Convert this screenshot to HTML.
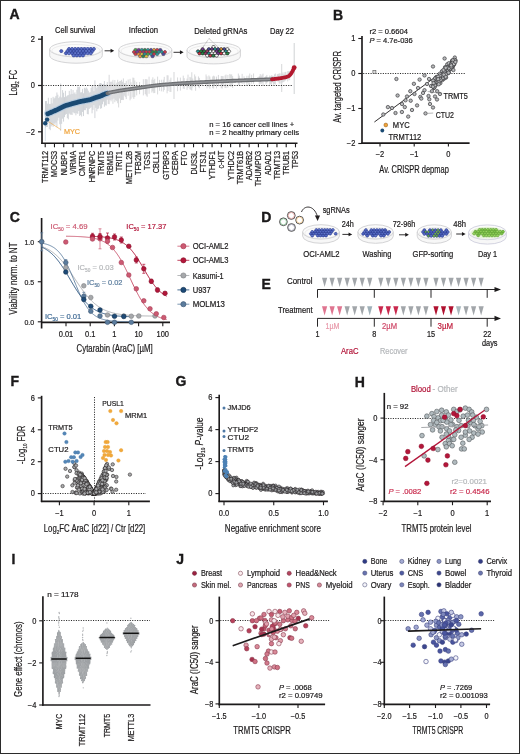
<!DOCTYPE html>
<html><head><meta charset="utf-8"><style>
html,body{margin:0;padding:0;background:#fff;}
svg{display:block;filter:blur(0.3px);}
text{font-family:"Liberation Sans",sans-serif;}
</style></head><body>
<svg width="520" height="754" viewBox="0 0 520 754">
<g fill="#1c1a1b">
<rect x="0" y="0" width="520" height="754" fill="#ffffff"/>
<text x="9.40" y="19.40" font-size="14" font-weight="bold" stroke="#111" stroke-width="0.35">A</text>
<text stroke="#1c1a1b" stroke-width="0.2" x="55.00" y="33.40" font-size="8.3" textLength="40.20" lengthAdjust="spacingAndGlyphs">Cell survival</text>
<text stroke="#1c1a1b" stroke-width="0.2" x="128.80" y="33.40" font-size="8.3" textLength="29.20" lengthAdjust="spacingAndGlyphs">Infection</text>
<text stroke="#1c1a1b" stroke-width="0.2" x="194.20" y="33.50" font-size="8.3" textLength="53.30" lengthAdjust="spacingAndGlyphs">Deleted gRNAs</text>
<text stroke="#1c1a1b" stroke-width="0.2" x="270.00" y="33.50" font-size="8.3" textLength="24.00" lengthAdjust="spacingAndGlyphs">Day 22</text>
<path d="M49.70,49.30 L49.70,55.60 A26.3,7.6 0 0 0 102.30,55.60 L102.30,49.30" fill="#f7f7f7" stroke="#c9c9cb" stroke-width="0.8"/>
<ellipse cx="76.00" cy="49.30" rx="26.3" ry="7.6" fill="#fbfbfb" stroke="#c9c9cb" stroke-width="0.8"/>
<ellipse cx="76.00" cy="50.50" rx="24.1" ry="6.0" fill="none" stroke="#dcdcdc" stroke-width="0.5"/>
<path d="M67.28,48.96 L68.16,47.52 L69.93,47.52 L70.81,48.96 L69.93,50.40 L68.16,50.40 Z" fill="#5268c2" stroke="#26358c" stroke-width="0.6"/>
<path d="M70.38,48.96 L71.26,47.52 L73.02,47.52 L73.90,48.96 L73.02,50.40 L71.26,50.40 Z" fill="#5a70c8" stroke="#26358c" stroke-width="0.6"/>
<path d="M73.47,48.96 L74.35,47.52 L76.12,47.52 L77.00,48.96 L76.12,50.40 L74.35,50.40 Z" fill="#5a70c8" stroke="#26358c" stroke-width="0.6"/>
<path d="M76.57,48.96 L77.45,47.52 L79.21,47.52 L80.10,48.96 L79.21,50.40 L77.45,50.40 Z" fill="#5268c2" stroke="#26358c" stroke-width="0.6"/>
<path d="M79.66,48.96 L80.55,47.52 L82.31,47.52 L83.19,48.96 L82.31,50.40 L80.55,50.40 Z" fill="#5a70c8" stroke="#26358c" stroke-width="0.6"/>
<path d="M82.76,48.96 L83.64,47.52 L85.41,47.52 L86.29,48.96 L85.41,50.40 L83.64,50.40 Z" fill="#5268c2" stroke="#26358c" stroke-width="0.6"/>
<path d="M85.86,48.96 L86.74,47.52 L88.50,47.52 L89.38,48.96 L88.50,50.40 L86.74,50.40 Z" fill="#6479cc" stroke="#26358c" stroke-width="0.6"/>
<path d="M88.95,48.96 L89.83,47.52 L91.60,47.52 L92.48,48.96 L91.60,50.40 L89.83,50.40 Z" fill="#5268c2" stroke="#26358c" stroke-width="0.6"/>
<path d="M92.05,48.96 L92.93,47.52 L94.69,47.52 L95.58,48.96 L94.69,50.40 L92.93,50.40 Z" fill="#5a70c8" stroke="#26358c" stroke-width="0.6"/>
<path d="M59.54,51.12 L60.42,49.68 L62.19,49.68 L63.07,51.12 L62.19,52.56 L60.42,52.56 Z" fill="#5268c2" stroke="#26358c" stroke-width="0.6"/>
<path d="M65.73,51.12 L66.61,49.68 L68.38,49.68 L69.26,51.12 L68.38,52.56 L66.61,52.56 Z" fill="#5a70c8" stroke="#26358c" stroke-width="0.6"/>
<path d="M68.83,51.12 L69.71,49.68 L71.47,49.68 L72.36,51.12 L71.47,52.56 L69.71,52.56 Z" fill="#5a70c8" stroke="#26358c" stroke-width="0.6"/>
<path d="M71.92,51.12 L72.81,49.68 L74.57,49.68 L75.45,51.12 L74.57,52.56 L72.81,52.56 Z" fill="#5268c2" stroke="#26358c" stroke-width="0.6"/>
<path d="M75.02,51.12 L75.90,49.68 L77.67,49.68 L78.55,51.12 L77.67,52.56 L75.90,52.56 Z" fill="#5a70c8" stroke="#26358c" stroke-width="0.6"/>
<path d="M78.12,51.12 L79.00,49.68 L80.76,49.68 L81.64,51.12 L80.76,52.56 L79.00,52.56 Z" fill="#6479cc" stroke="#26358c" stroke-width="0.6"/>
<path d="M81.21,51.12 L82.09,49.68 L83.86,49.68 L84.74,51.12 L83.86,52.56 L82.09,52.56 Z" fill="#5a70c8" stroke="#26358c" stroke-width="0.6"/>
<path d="M84.31,51.12 L85.19,49.68 L86.95,49.68 L87.84,51.12 L86.95,52.56 L85.19,52.56 Z" fill="#6479cc" stroke="#26358c" stroke-width="0.6"/>
<path d="M87.40,51.12 L88.29,49.68 L90.05,49.68 L90.93,51.12 L90.05,52.56 L88.29,52.56 Z" fill="#6479cc" stroke="#26358c" stroke-width="0.6"/>
<path d="M90.50,51.12 L91.38,49.68 L93.15,49.68 L94.03,51.12 L93.15,52.56 L91.38,52.56 Z" fill="#5268c2" stroke="#26358c" stroke-width="0.6"/>
<path d="M64.18,53.28 L65.07,51.84 L66.83,51.84 L67.71,53.28 L66.83,54.72 L65.07,54.72 Z" fill="#5268c2" stroke="#26358c" stroke-width="0.6"/>
<path d="M67.28,53.28 L68.16,51.84 L69.93,51.84 L70.81,53.28 L69.93,54.72 L68.16,54.72 Z" fill="#6479cc" stroke="#26358c" stroke-width="0.6"/>
<path d="M70.38,53.28 L71.26,51.84 L73.02,51.84 L73.90,53.28 L73.02,54.72 L71.26,54.72 Z" fill="#5268c2" stroke="#26358c" stroke-width="0.6"/>
<path d="M73.47,53.28 L74.35,51.84 L76.12,51.84 L77.00,53.28 L76.12,54.72 L74.35,54.72 Z" fill="#6479cc" stroke="#26358c" stroke-width="0.6"/>
<path d="M76.57,53.28 L77.45,51.84 L79.21,51.84 L80.10,53.28 L79.21,54.72 L77.45,54.72 Z" fill="#6479cc" stroke="#26358c" stroke-width="0.6"/>
<path d="M79.66,53.28 L80.55,51.84 L82.31,51.84 L83.19,53.28 L82.31,54.72 L80.55,54.72 Z" fill="#5268c2" stroke="#26358c" stroke-width="0.6"/>
<path d="M82.76,53.28 L83.64,51.84 L85.41,51.84 L86.29,53.28 L85.41,54.72 L83.64,54.72 Z" fill="#5268c2" stroke="#26358c" stroke-width="0.6"/>
<path d="M85.86,53.28 L86.74,51.84 L88.50,51.84 L89.38,53.28 L88.50,54.72 L86.74,54.72 Z" fill="#6479cc" stroke="#26358c" stroke-width="0.6"/>
<path d="M88.95,53.28 L89.83,51.84 L91.60,51.84 L92.48,53.28 L91.60,54.72 L89.83,54.72 Z" fill="#5a70c8" stroke="#26358c" stroke-width="0.6"/>
<path d="M71.92,55.44 L72.81,54.00 L74.57,54.00 L75.45,55.44 L74.57,56.88 L72.81,56.88 Z" fill="#6479cc" stroke="#26358c" stroke-width="0.6"/>
<path d="M75.02,55.44 L75.90,54.00 L77.67,54.00 L78.55,55.44 L77.67,56.88 L75.90,56.88 Z" fill="#5a70c8" stroke="#26358c" stroke-width="0.6"/>
<path d="M78.12,55.44 L79.00,54.00 L80.76,54.00 L81.64,55.44 L80.76,56.88 L79.00,56.88 Z" fill="#5a70c8" stroke="#26358c" stroke-width="0.6"/>
<path d="M81.21,55.44 L82.09,54.00 L83.86,54.00 L84.74,55.44 L83.86,56.88 L82.09,56.88 Z" fill="#5a70c8" stroke="#26358c" stroke-width="0.6"/>
<line x1="104.60" y1="50.80" x2="112.10" y2="50.80" stroke="#1c1a1b" stroke-width="0.9"/>
<path d="M114.20,50.80 L110.56,48.85 L110.56,52.75 Z" fill="#1c1a1b"/>
<path d="M118.80,49.80 L118.80,56.10 A26.5,7.6 0 0 0 171.80,56.10 L171.80,49.80" fill="#f7f7f7" stroke="#c9c9cb" stroke-width="0.8"/>
<ellipse cx="145.30" cy="49.80" rx="26.5" ry="7.6" fill="#fbfbfb" stroke="#c9c9cb" stroke-width="0.8"/>
<ellipse cx="145.30" cy="51.00" rx="24.3" ry="6.0" fill="none" stroke="#dcdcdc" stroke-width="0.5"/>
<path d="M133.78,49.86 L134.67,48.42 L136.43,48.42 L137.31,49.86 L136.43,51.30 L134.67,51.30 Z" fill="#4aaa4a" stroke="#4a3f4a" stroke-width="0.5"/>
<path d="M136.88,49.86 L137.76,48.42 L139.53,48.42 L140.41,49.86 L139.53,51.30 L137.76,51.30 Z" fill="#7a3a9a" stroke="#4a3f4a" stroke-width="0.5"/>
<path d="M139.98,49.86 L140.86,48.42 L142.62,48.42 L143.50,49.86 L142.62,51.30 L140.86,51.30 Z" fill="#2a9a9a" stroke="#4a3f4a" stroke-width="0.5"/>
<path d="M143.07,49.86 L143.95,48.42 L145.72,48.42 L146.60,49.86 L145.72,51.30 L143.95,51.30 Z" fill="#2a8a4a" stroke="#4a3f4a" stroke-width="0.5"/>
<path d="M146.17,49.86 L147.05,48.42 L148.81,48.42 L149.70,49.86 L148.81,51.30 L147.05,51.30 Z" fill="#2a9a9a" stroke="#4a3f4a" stroke-width="0.5"/>
<path d="M149.26,49.86 L150.15,48.42 L151.91,48.42 L152.79,49.86 L151.91,51.30 L150.15,51.30 Z" fill="#4a4aa0" stroke="#4a3f4a" stroke-width="0.5"/>
<path d="M152.36,49.86 L153.24,48.42 L155.01,48.42 L155.89,49.86 L155.01,51.30 L153.24,51.30 Z" fill="#ea9a3a" stroke="#4a3f4a" stroke-width="0.5"/>
<path d="M155.46,49.86 L156.34,48.42 L158.10,48.42 L158.98,49.86 L158.10,51.30 L156.34,51.30 Z" fill="#d03a4a" stroke="#4a3f4a" stroke-width="0.5"/>
<path d="M158.55,49.86 L159.43,48.42 L161.20,48.42 L162.08,49.86 L161.20,51.30 L159.43,51.30 Z" fill="#4a4aa0" stroke="#4a3f4a" stroke-width="0.5"/>
<path d="M132.24,52.02 L133.12,50.58 L134.88,50.58 L135.76,52.02 L134.88,53.46 L133.12,53.46 Z" fill="#d03a4a" stroke="#4a3f4a" stroke-width="0.5"/>
<path d="M135.33,52.02 L136.21,50.58 L137.98,50.58 L138.86,52.02 L137.98,53.46 L136.21,53.46 Z" fill="#7a3a9a" stroke="#4a3f4a" stroke-width="0.5"/>
<path d="M138.43,52.02 L139.31,50.58 L141.07,50.58 L141.96,52.02 L141.07,53.46 L139.31,53.46 Z" fill="#d03a4a" stroke="#4a3f4a" stroke-width="0.5"/>
<path d="M141.52,52.02 L142.41,50.58 L144.17,50.58 L145.05,52.02 L144.17,53.46 L142.41,53.46 Z" fill="#a03a6a" stroke="#4a3f4a" stroke-width="0.5"/>
<path d="M144.62,52.02 L145.50,50.58 L147.27,50.58 L148.15,52.02 L147.27,53.46 L145.50,53.46 Z" fill="#d03a4a" stroke="#4a3f4a" stroke-width="0.5"/>
<path d="M147.72,52.02 L148.60,50.58 L150.36,50.58 L151.24,52.02 L150.36,53.46 L148.60,53.46 Z" fill="#d03a4a" stroke="#4a3f4a" stroke-width="0.5"/>
<path d="M150.81,52.02 L151.69,50.58 L153.46,50.58 L154.34,52.02 L153.46,53.46 L151.69,53.46 Z" fill="#2a8a4a" stroke="#4a3f4a" stroke-width="0.5"/>
<path d="M153.91,52.02 L154.79,50.58 L156.55,50.58 L157.44,52.02 L156.55,53.46 L154.79,53.46 Z" fill="#2a8a4a" stroke="#4a3f4a" stroke-width="0.5"/>
<path d="M157.00,52.02 L157.89,50.58 L159.65,50.58 L160.53,52.02 L159.65,53.46 L157.89,53.46 Z" fill="#2a9a9a" stroke="#4a3f4a" stroke-width="0.5"/>
<path d="M160.10,52.02 L160.98,50.58 L162.75,50.58 L163.63,52.02 L162.75,53.46 L160.98,53.46 Z" fill="#2a9a9a" stroke="#4a3f4a" stroke-width="0.5"/>
<path d="M163.20,52.02 L164.08,50.58 L165.84,50.58 L166.72,52.02 L165.84,53.46 L164.08,53.46 Z" fill="#d03a4a" stroke="#4a3f4a" stroke-width="0.5"/>
<path d="M133.78,54.18 L134.67,52.74 L136.43,52.74 L137.31,54.18 L136.43,55.62 L134.67,55.62 Z" fill="#d03a4a" stroke="#4a3f4a" stroke-width="0.5"/>
<path d="M136.88,54.18 L137.76,52.74 L139.53,52.74 L140.41,54.18 L139.53,55.62 L137.76,55.62 Z" fill="#ea9a3a" stroke="#4a3f4a" stroke-width="0.5"/>
<path d="M139.98,54.18 L140.86,52.74 L142.62,52.74 L143.50,54.18 L142.62,55.62 L140.86,55.62 Z" fill="#e0c840" stroke="#4a3f4a" stroke-width="0.5"/>
<path d="M143.07,54.18 L143.95,52.74 L145.72,52.74 L146.60,54.18 L145.72,55.62 L143.95,55.62 Z" fill="#2a9a9a" stroke="#4a3f4a" stroke-width="0.5"/>
<path d="M146.17,54.18 L147.05,52.74 L148.81,52.74 L149.70,54.18 L148.81,55.62 L147.05,55.62 Z" fill="#4aaa4a" stroke="#4a3f4a" stroke-width="0.5"/>
<path d="M149.26,54.18 L150.15,52.74 L151.91,52.74 L152.79,54.18 L151.91,55.62 L150.15,55.62 Z" fill="#2a9a9a" stroke="#4a3f4a" stroke-width="0.5"/>
<path d="M152.36,54.18 L153.24,52.74 L155.01,52.74 L155.89,54.18 L155.01,55.62 L153.24,55.62 Z" fill="#d03a4a" stroke="#4a3f4a" stroke-width="0.5"/>
<path d="M155.46,54.18 L156.34,52.74 L158.10,52.74 L158.98,54.18 L158.10,55.62 L156.34,55.62 Z" fill="#2a9a9a" stroke="#4a3f4a" stroke-width="0.5"/>
<path d="M161.65,54.18 L162.53,52.74 L164.29,52.74 L165.18,54.18 L164.29,55.62 L162.53,55.62 Z" fill="#4a4aa0" stroke="#4a3f4a" stroke-width="0.5"/>
<path d="M138.43,56.34 L139.31,54.90 L141.07,54.90 L141.96,56.34 L141.07,57.78 L139.31,57.78 Z" fill="#ea9a3a" stroke="#4a3f4a" stroke-width="0.5"/>
<path d="M141.52,56.34 L142.41,54.90 L144.17,54.90 L145.05,56.34 L144.17,57.78 L142.41,57.78 Z" fill="#2a8a4a" stroke="#4a3f4a" stroke-width="0.5"/>
<path d="M144.62,56.34 L145.50,54.90 L147.27,54.90 L148.15,56.34 L147.27,57.78 L145.50,57.78 Z" fill="#e0c840" stroke="#4a3f4a" stroke-width="0.5"/>
<path d="M150.81,56.34 L151.69,54.90 L153.46,54.90 L154.34,56.34 L153.46,57.78 L151.69,57.78 Z" fill="#4a4aa0" stroke="#4a3f4a" stroke-width="0.5"/>
<line x1="173.50" y1="52.30" x2="181.50" y2="52.30" stroke="#1c1a1b" stroke-width="0.9"/>
<path d="M183.60,52.30 L179.96,50.35 L179.96,54.25 Z" fill="#1c1a1b"/>
<path d="M187.00,50.00 L187.00,56.30 A26.7,7.6 0 0 0 240.40,56.30 L240.40,50.00" fill="#f7f7f7" stroke="#c9c9cb" stroke-width="0.8"/>
<ellipse cx="213.70" cy="50.00" rx="26.7" ry="7.6" fill="#fbfbfb" stroke="#c9c9cb" stroke-width="0.8"/>
<ellipse cx="213.70" cy="51.20" rx="24.5" ry="6.0" fill="none" stroke="#dcdcdc" stroke-width="0.5"/>
<path d="M211.72,47.00 L212.60,45.56 L214.37,45.56 L215.25,47.00 L214.37,48.44 L212.60,48.44 Z" fill="#ffffff" stroke="#1a1a1a" stroke-width="0.6"/>
<path d="M200.88,49.16 L201.77,47.72 L203.53,47.72 L204.41,49.16 L203.53,50.60 L201.77,50.60 Z" fill="#7a3a9a" stroke="#1a1a1a" stroke-width="0.6"/>
<path d="M207.08,49.16 L207.96,47.72 L209.72,47.72 L210.60,49.16 L209.72,50.60 L207.96,50.60 Z" fill="#4a4aa0" stroke="#1a1a1a" stroke-width="0.6"/>
<path d="M210.17,49.16 L211.05,47.72 L212.82,47.72 L213.70,49.16 L212.82,50.60 L211.05,50.60 Z" fill="#7a3a9a" stroke="#1a1a1a" stroke-width="0.6"/>
<path d="M213.27,49.16 L214.15,47.72 L215.91,47.72 L216.80,49.16 L215.91,50.60 L214.15,50.60 Z" fill="#2a9a9a" stroke="#1a1a1a" stroke-width="0.6"/>
<path d="M216.36,49.16 L217.25,47.72 L219.01,47.72 L219.89,49.16 L219.01,50.60 L217.25,50.60 Z" fill="#4a4aa0" stroke="#1a1a1a" stroke-width="0.6"/>
<path d="M219.46,49.16 L220.34,47.72 L222.11,47.72 L222.99,49.16 L222.11,50.60 L220.34,50.60 Z" fill="#ea9a3a" stroke="#1a1a1a" stroke-width="0.6"/>
<path d="M222.56,49.16 L223.44,47.72 L225.20,47.72 L226.08,49.16 L225.20,50.60 L223.44,50.60 Z" fill="#4a4aa0" stroke="#1a1a1a" stroke-width="0.6"/>
<path d="M225.65,49.16 L226.53,47.72 L228.30,47.72 L229.18,49.16 L228.30,50.60 L226.53,50.60 Z" fill="#ffffff" stroke="#1a1a1a" stroke-width="0.6"/>
<path d="M196.24,51.32 L197.12,49.88 L198.89,49.88 L199.77,51.32 L198.89,52.76 L197.12,52.76 Z" fill="#2a9a9a" stroke="#1a1a1a" stroke-width="0.6"/>
<path d="M199.34,51.32 L200.22,49.88 L201.98,49.88 L202.86,51.32 L201.98,52.76 L200.22,52.76 Z" fill="#2a8a4a" stroke="#1a1a1a" stroke-width="0.6"/>
<path d="M202.43,51.32 L203.31,49.88 L205.08,49.88 L205.96,51.32 L205.08,52.76 L203.31,52.76 Z" fill="#2a8a4a" stroke="#1a1a1a" stroke-width="0.6"/>
<path d="M205.53,51.32 L206.41,49.88 L208.17,49.88 L209.06,51.32 L208.17,52.76 L206.41,52.76 Z" fill="#a03a6a" stroke="#1a1a1a" stroke-width="0.6"/>
<path d="M208.62,51.32 L209.51,49.88 L211.27,49.88 L212.15,51.32 L211.27,52.76 L209.51,52.76 Z" fill="#ffffff" stroke="#1a1a1a" stroke-width="0.6"/>
<path d="M211.72,51.32 L212.60,49.88 L214.37,49.88 L215.25,51.32 L214.37,52.76 L212.60,52.76 Z" fill="#ffffff" stroke="#1a1a1a" stroke-width="0.6"/>
<path d="M214.82,51.32 L215.70,49.88 L217.46,49.88 L218.34,51.32 L217.46,52.76 L215.70,52.76 Z" fill="#7a3a9a" stroke="#1a1a1a" stroke-width="0.6"/>
<path d="M217.91,51.32 L218.79,49.88 L220.56,49.88 L221.44,51.32 L220.56,52.76 L218.79,52.76 Z" fill="#2a8a4a" stroke="#1a1a1a" stroke-width="0.6"/>
<path d="M221.01,51.32 L221.89,49.88 L223.65,49.88 L224.54,51.32 L223.65,52.76 L221.89,52.76 Z" fill="#ffffff" stroke="#1a1a1a" stroke-width="0.6"/>
<path d="M224.10,51.32 L224.99,49.88 L226.75,49.88 L227.63,51.32 L226.75,52.76 L224.99,52.76 Z" fill="#2a9a9a" stroke="#1a1a1a" stroke-width="0.6"/>
<path d="M227.20,51.32 L228.08,49.88 L229.85,49.88 L230.73,51.32 L229.85,52.76 L228.08,52.76 Z" fill="#ffffff" stroke="#1a1a1a" stroke-width="0.6"/>
<path d="M197.79,53.48 L198.67,52.04 L200.43,52.04 L201.32,53.48 L200.43,54.92 L198.67,54.92 Z" fill="#d03a4a" stroke="#1a1a1a" stroke-width="0.6"/>
<path d="M200.88,53.48 L201.77,52.04 L203.53,52.04 L204.41,53.48 L203.53,54.92 L201.77,54.92 Z" fill="#2a8a4a" stroke="#1a1a1a" stroke-width="0.6"/>
<path d="M203.98,53.48 L204.86,52.04 L206.63,52.04 L207.51,53.48 L206.63,54.92 L204.86,54.92 Z" fill="#a03a6a" stroke="#1a1a1a" stroke-width="0.6"/>
<path d="M207.08,53.48 L207.96,52.04 L209.72,52.04 L210.60,53.48 L209.72,54.92 L207.96,54.92 Z" fill="#2a9a9a" stroke="#1a1a1a" stroke-width="0.6"/>
<path d="M210.17,53.48 L211.05,52.04 L212.82,52.04 L213.70,53.48 L212.82,54.92 L211.05,54.92 Z" fill="#ffffff" stroke="#1a1a1a" stroke-width="0.6"/>
<path d="M213.27,53.48 L214.15,52.04 L215.91,52.04 L216.80,53.48 L215.91,54.92 L214.15,54.92 Z" fill="#ffffff" stroke="#1a1a1a" stroke-width="0.6"/>
<path d="M216.36,53.48 L217.25,52.04 L219.01,52.04 L219.89,53.48 L219.01,54.92 L217.25,54.92 Z" fill="#7a3a9a" stroke="#1a1a1a" stroke-width="0.6"/>
<path d="M219.46,53.48 L220.34,52.04 L222.11,52.04 L222.99,53.48 L222.11,54.92 L220.34,54.92 Z" fill="#d03a4a" stroke="#1a1a1a" stroke-width="0.6"/>
<path d="M222.56,53.48 L223.44,52.04 L225.20,52.04 L226.08,53.48 L225.20,54.92 L223.44,54.92 Z" fill="#ffffff" stroke="#1a1a1a" stroke-width="0.6"/>
<path d="M225.65,53.48 L226.53,52.04 L228.30,52.04 L229.18,53.48 L228.30,54.92 L226.53,54.92 Z" fill="#2a8a4a" stroke="#1a1a1a" stroke-width="0.6"/>
<path d="M205.53,55.64 L206.41,54.20 L208.17,54.20 L209.06,55.64 L208.17,57.08 L206.41,57.08 Z" fill="#ffffff" stroke="#1a1a1a" stroke-width="0.6"/>
<path d="M208.62,55.64 L209.51,54.20 L211.27,54.20 L212.15,55.64 L211.27,57.08 L209.51,57.08 Z" fill="#d03a4a" stroke="#1a1a1a" stroke-width="0.6"/>
<path d="M211.72,55.64 L212.60,54.20 L214.37,54.20 L215.25,55.64 L214.37,57.08 L212.60,57.08 Z" fill="#2a8a4a" stroke="#1a1a1a" stroke-width="0.6"/>
<path d="M214.82,55.64 L215.70,54.20 L217.46,54.20 L218.34,55.64 L217.46,57.08 L215.70,57.08 Z" fill="#ffffff" stroke="#1a1a1a" stroke-width="0.6"/>
<path d="M209,38.5 L201,50 L221,50 Z" fill="none" stroke="#555" stroke-width="0.5" stroke-dasharray="0.8 0.8"/>
<line x1="42.00" y1="36.00" x2="42.00" y2="143.90" stroke="#1c1a1b" stroke-width="1.65"/>
<line x1="41.30" y1="143.20" x2="297.50" y2="143.20" stroke="#1c1a1b" stroke-width="1.65"/>
<line x1="38.00" y1="39.20" x2="42.00" y2="39.20" stroke="#1c1a1b" stroke-width="1.2"/>
<text stroke="#1c1a1b" stroke-width="0.2" x="34.80" y="41.95" font-size="8.5" text-anchor="end" textLength="4.16" lengthAdjust="spacingAndGlyphs">2</text>
<line x1="38.00" y1="85.50" x2="42.00" y2="85.50" stroke="#1c1a1b" stroke-width="1.2"/>
<text stroke="#1c1a1b" stroke-width="0.2" x="34.80" y="88.25" font-size="8.5" text-anchor="end" textLength="4.16" lengthAdjust="spacingAndGlyphs">0</text>
<line x1="38.00" y1="131.80" x2="42.00" y2="131.80" stroke="#1c1a1b" stroke-width="1.2"/>
<text stroke="#1c1a1b" stroke-width="0.2" x="34.80" y="134.55" font-size="8.5" text-anchor="end" textLength="8.53" lengthAdjust="spacingAndGlyphs">−2</text>
<text stroke="#1c1a1b" stroke-width="0.2" transform="translate(16.6,95.5) rotate(-90)" font-size="10.2" textLength="25.5" lengthAdjust="spacingAndGlyphs">Log<tspan font-size="6.2" dy="2.2">2</tspan><tspan dy="-2.2"> FC</tspan></text>
<line x1="45.50" y1="101.09" x2="45.50" y2="127.52" stroke="#bfc3c8" stroke-width="0.7"/>
<line x1="46.45" y1="100.99" x2="46.45" y2="127.00" stroke="#bfc3c8" stroke-width="0.7"/>
<line x1="47.40" y1="103.63" x2="47.40" y2="127.01" stroke="#bfc3c8" stroke-width="0.7"/>
<line x1="48.35" y1="97.77" x2="48.35" y2="122.87" stroke="#bfc3c8" stroke-width="0.7"/>
<line x1="49.30" y1="103.89" x2="49.30" y2="129.05" stroke="#bfc3c8" stroke-width="0.7"/>
<line x1="50.25" y1="103.95" x2="50.25" y2="130.19" stroke="#bfc3c8" stroke-width="0.7"/>
<line x1="51.20" y1="97.91" x2="51.20" y2="126.36" stroke="#bfc3c8" stroke-width="0.7"/>
<line x1="52.15" y1="103.40" x2="52.15" y2="125.11" stroke="#bfc3c8" stroke-width="0.7"/>
<line x1="53.10" y1="96.86" x2="53.10" y2="126.79" stroke="#bfc3c8" stroke-width="0.7"/>
<line x1="54.05" y1="98.50" x2="54.05" y2="123.42" stroke="#bfc3c8" stroke-width="0.7"/>
<line x1="55.00" y1="97.61" x2="55.00" y2="124.80" stroke="#bfc3c8" stroke-width="0.7"/>
<line x1="55.95" y1="95.92" x2="55.95" y2="122.68" stroke="#bfc3c8" stroke-width="0.7"/>
<line x1="56.90" y1="92.49" x2="56.90" y2="127.13" stroke="#bfc3c8" stroke-width="0.7"/>
<line x1="57.85" y1="94.71" x2="57.85" y2="120.48" stroke="#bfc3c8" stroke-width="0.7"/>
<line x1="58.80" y1="98.06" x2="58.80" y2="117.76" stroke="#bfc3c8" stroke-width="0.7"/>
<line x1="59.75" y1="96.61" x2="59.75" y2="124.27" stroke="#bfc3c8" stroke-width="0.7"/>
<line x1="60.70" y1="83.57" x2="60.70" y2="130.88" stroke="#bfc3c8" stroke-width="0.7"/>
<line x1="61.65" y1="97.42" x2="61.65" y2="123.82" stroke="#bfc3c8" stroke-width="0.7"/>
<line x1="62.60" y1="90.07" x2="62.60" y2="118.71" stroke="#bfc3c8" stroke-width="0.7"/>
<line x1="63.55" y1="92.77" x2="63.55" y2="121.62" stroke="#bfc3c8" stroke-width="0.7"/>
<line x1="64.50" y1="97.16" x2="64.50" y2="117.13" stroke="#bfc3c8" stroke-width="0.7"/>
<line x1="65.45" y1="90.83" x2="65.45" y2="114.81" stroke="#bfc3c8" stroke-width="0.7"/>
<line x1="66.40" y1="96.42" x2="66.40" y2="113.99" stroke="#bfc3c8" stroke-width="0.7"/>
<line x1="67.35" y1="95.48" x2="67.35" y2="118.11" stroke="#bfc3c8" stroke-width="0.7"/>
<line x1="68.30" y1="95.11" x2="68.30" y2="119.33" stroke="#bfc3c8" stroke-width="0.7"/>
<line x1="69.25" y1="90.86" x2="69.25" y2="113.59" stroke="#bfc3c8" stroke-width="0.7"/>
<line x1="70.20" y1="94.41" x2="70.20" y2="114.63" stroke="#bfc3c8" stroke-width="0.7"/>
<line x1="71.15" y1="89.02" x2="71.15" y2="114.59" stroke="#bfc3c8" stroke-width="0.7"/>
<line x1="72.10" y1="93.98" x2="72.10" y2="115.03" stroke="#bfc3c8" stroke-width="0.7"/>
<line x1="73.05" y1="90.04" x2="73.05" y2="112.15" stroke="#bfc3c8" stroke-width="0.7"/>
<line x1="74.00" y1="93.55" x2="74.00" y2="113.21" stroke="#bfc3c8" stroke-width="0.7"/>
<line x1="74.95" y1="92.37" x2="74.95" y2="113.22" stroke="#bfc3c8" stroke-width="0.7"/>
<line x1="75.90" y1="94.20" x2="75.90" y2="115.34" stroke="#bfc3c8" stroke-width="0.7"/>
<line x1="76.85" y1="89.69" x2="76.85" y2="113.23" stroke="#bfc3c8" stroke-width="0.7"/>
<line x1="77.80" y1="86.52" x2="77.80" y2="113.86" stroke="#bfc3c8" stroke-width="0.7"/>
<line x1="78.75" y1="87.14" x2="78.75" y2="111.03" stroke="#bfc3c8" stroke-width="0.7"/>
<line x1="79.70" y1="86.63" x2="79.70" y2="115.98" stroke="#bfc3c8" stroke-width="0.7"/>
<line x1="80.65" y1="92.43" x2="80.65" y2="115.04" stroke="#bfc3c8" stroke-width="0.7"/>
<line x1="81.60" y1="92.25" x2="81.60" y2="116.50" stroke="#bfc3c8" stroke-width="0.7"/>
<line x1="82.55" y1="88.82" x2="82.55" y2="111.93" stroke="#bfc3c8" stroke-width="0.7"/>
<line x1="83.50" y1="93.28" x2="83.50" y2="116.06" stroke="#bfc3c8" stroke-width="0.7"/>
<line x1="84.45" y1="87.80" x2="84.45" y2="110.11" stroke="#bfc3c8" stroke-width="0.7"/>
<line x1="85.40" y1="88.56" x2="85.40" y2="110.17" stroke="#bfc3c8" stroke-width="0.7"/>
<line x1="86.35" y1="87.48" x2="86.35" y2="108.14" stroke="#bfc3c8" stroke-width="0.7"/>
<line x1="87.30" y1="88.65" x2="87.30" y2="114.08" stroke="#bfc3c8" stroke-width="0.7"/>
<line x1="88.25" y1="90.73" x2="88.25" y2="114.32" stroke="#bfc3c8" stroke-width="0.7"/>
<line x1="89.20" y1="92.66" x2="89.20" y2="109.01" stroke="#bfc3c8" stroke-width="0.7"/>
<line x1="90.15" y1="92.16" x2="90.15" y2="108.02" stroke="#bfc3c8" stroke-width="0.7"/>
<line x1="91.10" y1="87.92" x2="91.10" y2="107.27" stroke="#bfc3c8" stroke-width="0.7"/>
<line x1="92.05" y1="85.20" x2="92.05" y2="113.32" stroke="#bfc3c8" stroke-width="0.7"/>
<line x1="93.00" y1="86.45" x2="93.00" y2="109.87" stroke="#bfc3c8" stroke-width="0.7"/>
<line x1="93.95" y1="91.10" x2="93.95" y2="105.17" stroke="#bfc3c8" stroke-width="0.7"/>
<line x1="94.90" y1="80.40" x2="94.90" y2="118.11" stroke="#bfc3c8" stroke-width="0.7"/>
<line x1="95.85" y1="86.08" x2="95.85" y2="107.87" stroke="#bfc3c8" stroke-width="0.7"/>
<line x1="96.80" y1="88.21" x2="96.80" y2="111.32" stroke="#bfc3c8" stroke-width="0.7"/>
<line x1="97.75" y1="86.33" x2="97.75" y2="109.02" stroke="#bfc3c8" stroke-width="0.7"/>
<line x1="98.70" y1="84.73" x2="98.70" y2="108.41" stroke="#bfc3c8" stroke-width="0.7"/>
<line x1="99.65" y1="83.24" x2="99.65" y2="105.50" stroke="#bfc3c8" stroke-width="0.7"/>
<line x1="100.60" y1="83.06" x2="100.60" y2="108.78" stroke="#bfc3c8" stroke-width="0.7"/>
<line x1="101.55" y1="83.50" x2="101.55" y2="108.20" stroke="#bfc3c8" stroke-width="0.7"/>
<line x1="102.50" y1="84.32" x2="102.50" y2="104.27" stroke="#bfc3c8" stroke-width="0.7"/>
<line x1="103.45" y1="84.07" x2="103.45" y2="101.65" stroke="#bfc3c8" stroke-width="0.7"/>
<line x1="104.40" y1="81.03" x2="104.40" y2="106.73" stroke="#bfc3c8" stroke-width="0.7"/>
<line x1="105.35" y1="84.93" x2="105.35" y2="105.26" stroke="#bfc3c8" stroke-width="0.7"/>
<line x1="106.30" y1="84.35" x2="106.30" y2="105.61" stroke="#bfc3c8" stroke-width="0.7"/>
<line x1="107.25" y1="81.99" x2="107.25" y2="99.74" stroke="#c3c5c8" stroke-width="0.65"/>
<line x1="108.20" y1="85.30" x2="108.20" y2="103.96" stroke="#c3c5c8" stroke-width="0.65"/>
<line x1="109.15" y1="74.81" x2="109.15" y2="104.18" stroke="#c3c5c8" stroke-width="0.65"/>
<line x1="110.10" y1="81.80" x2="110.10" y2="99.96" stroke="#c3c5c8" stroke-width="0.65"/>
<line x1="111.05" y1="81.80" x2="111.05" y2="101.35" stroke="#c3c5c8" stroke-width="0.65"/>
<line x1="112.00" y1="81.63" x2="112.00" y2="99.50" stroke="#c3c5c8" stroke-width="0.65"/>
<line x1="112.95" y1="79.86" x2="112.95" y2="103.80" stroke="#c3c5c8" stroke-width="0.65"/>
<line x1="113.90" y1="83.68" x2="113.90" y2="98.65" stroke="#c3c5c8" stroke-width="0.65"/>
<line x1="114.85" y1="80.05" x2="114.85" y2="102.21" stroke="#c3c5c8" stroke-width="0.65"/>
<line x1="115.80" y1="84.36" x2="115.80" y2="100.27" stroke="#c3c5c8" stroke-width="0.65"/>
<line x1="116.75" y1="82.63" x2="116.75" y2="101.18" stroke="#c3c5c8" stroke-width="0.65"/>
<line x1="117.70" y1="79.75" x2="117.70" y2="103.25" stroke="#c3c5c8" stroke-width="0.65"/>
<line x1="118.65" y1="82.10" x2="118.65" y2="107.45" stroke="#c3c5c8" stroke-width="0.65"/>
<line x1="119.60" y1="81.22" x2="119.60" y2="98.46" stroke="#c3c5c8" stroke-width="0.65"/>
<line x1="120.55" y1="80.89" x2="120.55" y2="103.09" stroke="#c3c5c8" stroke-width="0.65"/>
<line x1="121.50" y1="79.87" x2="121.50" y2="100.01" stroke="#c3c5c8" stroke-width="0.65"/>
<line x1="122.45" y1="81.72" x2="122.45" y2="99.92" stroke="#c3c5c8" stroke-width="0.65"/>
<line x1="123.40" y1="78.43" x2="123.40" y2="100.07" stroke="#c3c5c8" stroke-width="0.65"/>
<line x1="124.35" y1="83.20" x2="124.35" y2="95.69" stroke="#c3c5c8" stroke-width="0.65"/>
<line x1="125.30" y1="83.10" x2="125.30" y2="97.14" stroke="#c3c5c8" stroke-width="0.65"/>
<line x1="126.25" y1="80.90" x2="126.25" y2="99.07" stroke="#c3c5c8" stroke-width="0.65"/>
<line x1="128.15" y1="79.49" x2="128.15" y2="95.74" stroke="#c3c5c8" stroke-width="0.65"/>
<line x1="130.05" y1="78.88" x2="130.05" y2="100.30" stroke="#c3c5c8" stroke-width="0.65"/>
<line x1="131.00" y1="82.34" x2="131.00" y2="98.76" stroke="#c3c5c8" stroke-width="0.65"/>
<line x1="132.90" y1="77.57" x2="132.90" y2="97.28" stroke="#c3c5c8" stroke-width="0.65"/>
<line x1="133.85" y1="77.89" x2="133.85" y2="98.97" stroke="#c3c5c8" stroke-width="0.65"/>
<line x1="134.80" y1="80.56" x2="134.80" y2="96.99" stroke="#c3c5c8" stroke-width="0.65"/>
<line x1="136.70" y1="81.92" x2="136.70" y2="95.37" stroke="#c3c5c8" stroke-width="0.65"/>
<line x1="139.55" y1="82.11" x2="139.55" y2="94.19" stroke="#c3c5c8" stroke-width="0.65"/>
<line x1="143.35" y1="79.25" x2="143.35" y2="95.41" stroke="#c3c5c8" stroke-width="0.65"/>
<line x1="145.25" y1="79.11" x2="145.25" y2="94.08" stroke="#c3c5c8" stroke-width="0.65"/>
<line x1="146.20" y1="79.15" x2="146.20" y2="95.48" stroke="#c3c5c8" stroke-width="0.65"/>
<line x1="147.15" y1="79.47" x2="147.15" y2="96.72" stroke="#c3c5c8" stroke-width="0.65"/>
<line x1="149.05" y1="76.68" x2="149.05" y2="93.74" stroke="#c3c5c8" stroke-width="0.65"/>
<line x1="151.90" y1="79.52" x2="151.90" y2="92.60" stroke="#c3c5c8" stroke-width="0.65"/>
<line x1="152.85" y1="77.32" x2="152.85" y2="91.23" stroke="#c3c5c8" stroke-width="0.65"/>
<line x1="153.80" y1="80.02" x2="153.80" y2="93.19" stroke="#c3c5c8" stroke-width="0.65"/>
<line x1="154.75" y1="78.84" x2="154.75" y2="93.02" stroke="#c3c5c8" stroke-width="0.65"/>
<line x1="157.60" y1="76.63" x2="157.60" y2="94.41" stroke="#c3c5c8" stroke-width="0.65"/>
<line x1="159.50" y1="79.88" x2="159.50" y2="90.77" stroke="#c3c5c8" stroke-width="0.65"/>
<line x1="161.40" y1="79.79" x2="161.40" y2="91.35" stroke="#c3c5c8" stroke-width="0.65"/>
<line x1="163.30" y1="79.72" x2="163.30" y2="91.67" stroke="#c3c5c8" stroke-width="0.65"/>
<line x1="164.25" y1="76.87" x2="164.25" y2="90.02" stroke="#c3c5c8" stroke-width="0.65"/>
<line x1="167.10" y1="75.24" x2="167.10" y2="93.32" stroke="#c3c5c8" stroke-width="0.65"/>
<line x1="168.05" y1="75.38" x2="168.05" y2="90.97" stroke="#c3c5c8" stroke-width="0.65"/>
<line x1="169.95" y1="79.78" x2="169.95" y2="91.92" stroke="#c3c5c8" stroke-width="0.65"/>
<line x1="170.90" y1="77.61" x2="170.90" y2="92.01" stroke="#c3c5c8" stroke-width="0.65"/>
<line x1="177.55" y1="77.45" x2="177.55" y2="91.22" stroke="#c3c5c8" stroke-width="0.65"/>
<line x1="180.40" y1="77.61" x2="180.40" y2="90.64" stroke="#c3c5c8" stroke-width="0.65"/>
<line x1="183.25" y1="75.67" x2="183.25" y2="88.57" stroke="#c3c5c8" stroke-width="0.65"/>
<line x1="184.20" y1="78.12" x2="184.20" y2="89.04" stroke="#c3c5c8" stroke-width="0.65"/>
<line x1="187.05" y1="78.55" x2="187.05" y2="89.83" stroke="#c3c5c8" stroke-width="0.65"/>
<line x1="188.00" y1="74.67" x2="188.00" y2="87.78" stroke="#c3c5c8" stroke-width="0.65"/>
<line x1="189.90" y1="76.90" x2="189.90" y2="89.29" stroke="#c3c5c8" stroke-width="0.65"/>
<line x1="190.85" y1="77.47" x2="190.85" y2="89.79" stroke="#c3c5c8" stroke-width="0.65"/>
<line x1="191.80" y1="72.26" x2="191.80" y2="90.53" stroke="#c3c5c8" stroke-width="0.65"/>
<line x1="192.75" y1="78.48" x2="192.75" y2="87.43" stroke="#c3c5c8" stroke-width="0.65"/>
<line x1="194.65" y1="74.43" x2="194.65" y2="86.92" stroke="#c3c5c8" stroke-width="0.65"/>
<line x1="195.60" y1="76.45" x2="195.60" y2="90.81" stroke="#c3c5c8" stroke-width="0.65"/>
<line x1="198.45" y1="76.45" x2="198.45" y2="87.22" stroke="#c3c5c8" stroke-width="0.65"/>
<line x1="199.40" y1="77.86" x2="199.40" y2="88.19" stroke="#c3c5c8" stroke-width="0.65"/>
<line x1="206.05" y1="74.46" x2="206.05" y2="86.03" stroke="#c3c5c8" stroke-width="0.65"/>
<line x1="207.00" y1="76.35" x2="207.00" y2="88.43" stroke="#c3c5c8" stroke-width="0.65"/>
<line x1="208.90" y1="75.44" x2="208.90" y2="87.25" stroke="#c3c5c8" stroke-width="0.65"/>
<line x1="209.85" y1="76.62" x2="209.85" y2="88.73" stroke="#c3c5c8" stroke-width="0.65"/>
<line x1="212.70" y1="76.44" x2="212.70" y2="88.15" stroke="#c3c5c8" stroke-width="0.65"/>
<line x1="213.65" y1="75.68" x2="213.65" y2="88.46" stroke="#c3c5c8" stroke-width="0.65"/>
<line x1="214.60" y1="76.39" x2="214.60" y2="85.74" stroke="#c3c5c8" stroke-width="0.65"/>
<line x1="216.50" y1="76.62" x2="216.50" y2="88.37" stroke="#c3c5c8" stroke-width="0.65"/>
<line x1="218.40" y1="74.98" x2="218.40" y2="86.25" stroke="#c3c5c8" stroke-width="0.65"/>
<line x1="221.25" y1="75.94" x2="221.25" y2="88.14" stroke="#c3c5c8" stroke-width="0.65"/>
<line x1="222.20" y1="76.07" x2="222.20" y2="88.59" stroke="#c3c5c8" stroke-width="0.65"/>
<line x1="223.15" y1="76.19" x2="223.15" y2="86.26" stroke="#c3c5c8" stroke-width="0.65"/>
<line x1="225.05" y1="75.44" x2="225.05" y2="87.99" stroke="#c3c5c8" stroke-width="0.65"/>
<line x1="226.00" y1="74.56" x2="226.00" y2="88.09" stroke="#c3c5c8" stroke-width="0.65"/>
<line x1="227.90" y1="74.94" x2="227.90" y2="87.65" stroke="#c3c5c8" stroke-width="0.65"/>
<line x1="229.80" y1="73.94" x2="229.80" y2="84.74" stroke="#c3c5c8" stroke-width="0.65"/>
<line x1="230.75" y1="74.52" x2="230.75" y2="86.85" stroke="#c3c5c8" stroke-width="0.65"/>
<line x1="231.70" y1="74.44" x2="231.70" y2="86.29" stroke="#c3c5c8" stroke-width="0.65"/>
<line x1="232.65" y1="76.06" x2="232.65" y2="87.92" stroke="#c3c5c8" stroke-width="0.65"/>
<line x1="238.35" y1="73.56" x2="238.35" y2="85.30" stroke="#c3c5c8" stroke-width="0.65"/>
<line x1="239.30" y1="75.64" x2="239.30" y2="84.93" stroke="#c3c5c8" stroke-width="0.65"/>
<line x1="242.15" y1="73.85" x2="242.15" y2="83.83" stroke="#c3c5c8" stroke-width="0.65"/>
<line x1="244.05" y1="76.29" x2="244.05" y2="84.25" stroke="#c3c5c8" stroke-width="0.65"/>
<line x1="246.90" y1="75.82" x2="246.90" y2="85.35" stroke="#c3c5c8" stroke-width="0.65"/>
<line x1="248.80" y1="75.64" x2="248.80" y2="85.15" stroke="#c3c5c8" stroke-width="0.65"/>
<line x1="249.75" y1="73.53" x2="249.75" y2="85.53" stroke="#c3c5c8" stroke-width="0.65"/>
<line x1="251.65" y1="74.84" x2="251.65" y2="83.69" stroke="#c3c5c8" stroke-width="0.65"/>
<line x1="253.55" y1="73.51" x2="253.55" y2="83.94" stroke="#c3c5c8" stroke-width="0.65"/>
<line x1="259.25" y1="76.09" x2="259.25" y2="84.51" stroke="#c3c5c8" stroke-width="0.65"/>
<line x1="260.20" y1="74.05" x2="260.20" y2="83.69" stroke="#c3c5c8" stroke-width="0.65"/>
<line x1="261.15" y1="75.75" x2="261.15" y2="84.14" stroke="#c3c5c8" stroke-width="0.65"/>
<line x1="262.10" y1="74.51" x2="262.10" y2="82.92" stroke="#c3c5c8" stroke-width="0.65"/>
<line x1="263.05" y1="73.61" x2="263.05" y2="85.18" stroke="#c3c5c8" stroke-width="0.65"/>
<line x1="265.90" y1="76.01" x2="265.90" y2="84.31" stroke="#c3c5c8" stroke-width="0.65"/>
<line x1="266.85" y1="74.95" x2="266.85" y2="83.26" stroke="#c3c5c8" stroke-width="0.65"/>
<line x1="269.70" y1="75.57" x2="269.70" y2="84.71" stroke="#c3c5c8" stroke-width="0.65"/>
<line x1="270.65" y1="76.29" x2="270.65" y2="84.19" stroke="#c3c5c8" stroke-width="0.65"/>
<line x1="271.60" y1="75.34" x2="271.60" y2="84.61" stroke="#c3c5c8" stroke-width="0.65"/>
<line x1="272.55" y1="75.80" x2="272.55" y2="82.45" stroke="#c3c5c8" stroke-width="0.65"/>
<line x1="273.50" y1="76.16" x2="273.50" y2="84.61" stroke="#c3c5c8" stroke-width="0.65"/>
<line x1="274.45" y1="74.33" x2="274.45" y2="84.01" stroke="#c3c5c8" stroke-width="0.65"/>
<line x1="275.40" y1="73.51" x2="275.40" y2="84.59" stroke="#c3c5c8" stroke-width="0.65"/>
<line x1="277.30" y1="74.14" x2="277.30" y2="81.38" stroke="#c3c5c8" stroke-width="0.65"/>
<line x1="278.25" y1="73.92" x2="278.25" y2="81.51" stroke="#c3c5c8" stroke-width="0.65"/>
<line x1="279.20" y1="73.41" x2="279.20" y2="83.50" stroke="#c3c5c8" stroke-width="0.65"/>
<line x1="280.15" y1="73.37" x2="280.15" y2="83.58" stroke="#c3c5c8" stroke-width="0.65"/>
<line x1="282.05" y1="73.78" x2="282.05" y2="82.64" stroke="#c3c5c8" stroke-width="0.65"/>
<line x1="283.00" y1="72.39" x2="283.00" y2="82.19" stroke="#c3c5c8" stroke-width="0.65"/>
<line x1="283.95" y1="74.25" x2="283.95" y2="81.86" stroke="#c3c5c8" stroke-width="0.65"/>
<line x1="284.90" y1="72.12" x2="284.90" y2="81.05" stroke="#c3c5c8" stroke-width="0.65"/>
<line x1="285.85" y1="71.84" x2="285.85" y2="80.21" stroke="#c3c5c8" stroke-width="0.65"/>
<line x1="287.75" y1="71.11" x2="287.75" y2="81.40" stroke="#c3c5c8" stroke-width="0.65"/>
<line x1="288.70" y1="71.22" x2="288.70" y2="79.50" stroke="#c3c5c8" stroke-width="0.65"/>
<line x1="289.65" y1="71.11" x2="289.65" y2="80.18" stroke="#c3c5c8" stroke-width="0.65"/>
<line x1="293.45" y1="66.74" x2="293.45" y2="72.37" stroke="#c3c5c8" stroke-width="0.65"/>
<line x1="294.40" y1="64.63" x2="294.40" y2="72.28" stroke="#c3c5c8" stroke-width="0.65"/>
<line x1="174.00" y1="72.00" x2="174.00" y2="99.00" stroke="#c4c6c9" stroke-width="0.7"/>
<line x1="281.70" y1="64.00" x2="281.70" y2="92.00" stroke="#c4c6c9" stroke-width="0.7"/>
<line x1="294.20" y1="43.00" x2="294.20" y2="94.00" stroke="#c4c6c9" stroke-width="0.8"/>
<line x1="45.30" y1="110.00" x2="45.30" y2="141.00" stroke="#c6d3de" stroke-width="0.7"/>
<line x1="43.20" y1="85.50" x2="292.00" y2="85.50" stroke="#2a2a2a" stroke-width="1.0" stroke-dasharray="1.1 1.35"/>
<path d="M47.80,113.80 L48.30,113.58 L48.80,113.36 L49.30,113.14 L49.80,112.92 L50.30,112.71 L50.80,112.49 L51.30,112.27 L51.80,112.05 L52.30,111.83 L52.80,111.61 L53.30,111.39 L53.80,111.17 L54.30,110.96 L54.80,110.74 L55.30,110.52 L55.80,110.30 L56.30,110.08 L56.80,109.86 L57.30,109.64 L57.80,109.40 L58.30,109.15 L58.80,108.90 L59.30,108.65 L59.80,108.40 L60.30,108.15 L60.80,107.90 L61.30,107.65 L61.80,107.40 L62.30,107.15 L62.80,106.90 L63.30,106.65 L63.80,106.40 L64.30,106.15 L64.80,105.90 L65.30,105.71 L65.80,105.56 L66.30,105.42 L66.80,105.27 L67.30,105.12 L67.80,104.97 L68.30,104.83 L68.80,104.68 L69.30,104.53 L69.80,104.38 L70.30,104.24 L70.80,104.09 L71.30,103.94 L71.80,103.79 L72.30,103.65 L72.80,103.50 L73.30,103.37 L73.80,103.24 L74.30,103.10 L74.80,102.97 L75.30,102.84 L75.80,102.71 L76.30,102.58 L76.80,102.44 L77.30,102.31 L77.80,102.18 L78.30,102.05 L78.80,101.92 L79.30,101.78 L79.80,101.65 L80.30,101.54 L80.80,101.45 L81.30,101.35 L81.80,101.26 L82.30,101.16 L82.80,101.07 L83.30,100.97 L83.80,100.88 L84.30,100.78 L84.80,100.69 L85.30,100.59 L85.80,100.50 L86.30,100.40 L86.80,100.31 L87.30,100.21 L87.80,100.12 L88.30,100.02 L88.80,99.93 L89.30,99.83 L89.80,99.74 L90.30,99.59 L90.80,99.40 L91.30,99.21 L91.80,99.02 L92.30,98.83 L92.80,98.64 L93.30,98.45 L93.80,98.26 L94.30,98.07 L94.80,97.88 L95.30,97.71 L95.80,97.56 L96.30,97.41 L96.80,97.26 L97.30,97.11 L97.80,96.96 L98.30,96.81 L98.80,96.66 L99.30,96.51 L99.80,96.36 L100.30,96.16 L100.80,95.93 L101.30,95.70 L101.80,95.47 L102.30,95.24 L102.80,95.01 L103.30,94.78 L103.80,94.55 L104.30,94.32 L104.80,94.09 L105.30,93.91 L105.80,93.76 L106.30,93.61 L106.80,93.46 L107.30,93.31 L107.50,93.25" fill="none" stroke="#b9cde0" stroke-width="7.0" stroke-linecap="round" stroke-linejoin="round"/>
<path d="M47.80,113.80 L48.30,113.58 L48.80,113.36 L49.30,113.14 L49.80,112.92 L50.30,112.71 L50.80,112.49 L51.30,112.27 L51.80,112.05 L52.30,111.83 L52.80,111.61 L53.30,111.39 L53.80,111.17 L54.30,110.96 L54.80,110.74 L55.30,110.52 L55.80,110.30 L56.30,110.08 L56.80,109.86 L57.30,109.64 L57.80,109.40 L58.30,109.15 L58.80,108.90 L59.30,108.65 L59.80,108.40 L60.30,108.15 L60.80,107.90 L61.30,107.65 L61.80,107.40 L62.30,107.15 L62.80,106.90 L63.30,106.65 L63.80,106.40 L64.30,106.15 L64.80,105.90 L65.30,105.71 L65.80,105.56 L66.30,105.42 L66.80,105.27 L67.30,105.12 L67.80,104.97 L68.30,104.83 L68.80,104.68 L69.30,104.53 L69.80,104.38 L70.30,104.24 L70.80,104.09 L71.30,103.94 L71.80,103.79 L72.30,103.65 L72.80,103.50 L73.30,103.37 L73.80,103.24 L74.30,103.10 L74.80,102.97 L75.30,102.84 L75.80,102.71 L76.30,102.58 L76.80,102.44 L77.30,102.31 L77.80,102.18 L78.30,102.05 L78.80,101.92 L79.30,101.78 L79.80,101.65 L80.30,101.54 L80.80,101.45 L81.30,101.35 L81.80,101.26 L82.30,101.16 L82.80,101.07 L83.30,100.97 L83.80,100.88 L84.30,100.78 L84.80,100.69 L85.30,100.59 L85.80,100.50 L86.30,100.40 L86.80,100.31 L87.30,100.21 L87.80,100.12 L88.30,100.02 L88.80,99.93 L89.30,99.83 L89.80,99.74 L90.30,99.59 L90.80,99.40 L91.30,99.21 L91.80,99.02 L92.30,98.83 L92.80,98.64 L93.30,98.45 L93.80,98.26 L94.30,98.07 L94.80,97.88 L95.30,97.71 L95.80,97.56 L96.30,97.41 L96.80,97.26 L97.30,97.11 L97.80,96.96 L98.30,96.81 L98.80,96.66 L99.30,96.51 L99.80,96.36 L100.30,96.16 L100.80,95.93 L101.30,95.70 L101.80,95.47 L102.30,95.24 L102.80,95.01 L103.30,94.78 L103.80,94.55 L104.30,94.32 L104.80,94.09 L105.30,93.91 L105.80,93.76 L106.30,93.61 L106.80,93.46 L107.30,93.31 L107.50,93.25" fill="none" stroke="#1a4a73" stroke-width="4.8" stroke-linecap="round" stroke-linejoin="round"/>
<path d="M107.50,93.25 L108.00,93.10 L108.50,92.95 L109.00,92.80 L109.50,92.65 L110.00,92.50 L110.50,92.41 L111.00,92.31 L111.50,92.22 L112.00,92.12 L112.50,92.03 L113.00,91.93 L113.50,91.83 L114.00,91.74 L114.50,91.64 L115.00,91.55 L115.50,91.45 L116.00,91.36 L116.50,91.27 L117.00,91.17 L117.50,91.07 L118.00,90.98 L118.50,90.88 L119.00,90.79 L119.50,90.69 L120.00,90.60 L120.50,90.53 L121.00,90.45 L121.50,90.38 L122.00,90.31 L122.50,90.24 L123.00,90.16 L123.50,90.09 L124.00,90.02 L124.50,89.95 L125.00,89.88 L125.50,89.80 L126.00,89.73 L126.50,89.66 L127.00,89.58 L127.50,89.51 L128.00,89.44 L128.50,89.37 L129.00,89.30 L129.50,89.22 L130.00,89.15 L130.50,89.08 L131.00,89.00 L131.50,88.93 L132.00,88.86 L132.50,88.79 L133.00,88.72 L133.50,88.64 L134.00,88.57 L134.50,88.50 L135.00,88.42 L135.50,88.35 L136.00,88.28 L136.50,88.21 L137.00,88.14 L137.50,88.06 L138.00,87.99 L138.50,87.92 L139.00,87.84 L139.50,87.77 L140.00,87.70 L140.50,87.62 L141.00,87.55 L141.50,87.48 L142.00,87.40 L142.50,87.33 L143.00,87.25 L143.50,87.17 L144.00,87.10 L144.50,87.03 L145.00,86.95 L145.50,86.88 L146.00,86.80 L146.50,86.73 L147.00,86.65 L147.50,86.58 L148.00,86.50 L148.50,86.42 L149.00,86.35 L149.50,86.28 L150.00,86.20 L150.50,86.14 L151.00,86.08 L151.50,86.02 L152.00,85.96 L152.50,85.90 L153.00,85.84 L153.50,85.78 L154.00,85.72 L154.50,85.66 L155.00,85.60 L155.50,85.54 L156.00,85.48 L156.50,85.42 L157.00,85.36 L157.50,85.30 L158.00,85.24 L158.50,85.18 L159.00,85.12 L159.50,85.06 L160.00,85.00 L160.50,84.96 L161.00,84.92 L161.50,84.88 L162.00,84.84 L162.50,84.80 L163.00,84.76 L163.50,84.72 L164.00,84.68 L164.50,84.64 L165.00,84.60 L165.50,84.56 L166.00,84.52 L166.50,84.48 L167.00,84.44 L167.50,84.40 L168.00,84.36 L168.50,84.32 L169.00,84.28 L169.50,84.24 L170.00,84.20 L170.50,84.16 L171.00,84.12 L171.50,84.08 L172.00,84.04 L172.50,84.00 L173.00,83.96 L173.50,83.92 L174.00,83.88 L174.50,83.84 L175.00,83.80 L175.50,83.76 L176.00,83.72 L176.50,83.68 L177.00,83.64 L177.50,83.60 L178.00,83.56 L178.50,83.52 L179.00,83.48 L179.50,83.44 L180.00,83.40 L180.50,83.37 L181.00,83.34 L181.50,83.32 L182.00,83.29 L182.50,83.26 L183.00,83.23 L183.50,83.21 L184.00,83.18 L184.50,83.15 L185.00,83.12 L185.50,83.10 L186.00,83.07 L186.50,83.04 L187.00,83.02 L187.50,82.99 L188.00,82.96 L188.50,82.93 L189.00,82.91 L189.50,82.88 L190.00,82.85 L190.50,82.82 L191.00,82.80 L191.50,82.77 L192.00,82.74 L192.50,82.71 L193.00,82.69 L193.50,82.66 L194.00,82.63 L194.50,82.60 L195.00,82.58 L195.50,82.55 L196.00,82.52 L196.50,82.49 L197.00,82.47 L197.50,82.44 L198.00,82.41 L198.50,82.38 L199.00,82.36 L199.50,82.33 L200.00,82.30 L200.50,82.28 L201.00,82.25 L201.50,82.23 L202.00,82.21 L202.50,82.18 L203.00,82.16 L203.50,82.14 L204.00,82.11 L204.50,82.09 L205.00,82.07 L205.50,82.04 L206.00,82.02 L206.50,82.00 L207.00,81.97 L207.50,81.95 L208.00,81.93 L208.50,81.90 L209.00,81.88 L209.50,81.86 L210.00,81.83 L210.50,81.81 L211.00,81.79 L211.50,81.76 L212.00,81.74 L212.50,81.72 L213.00,81.69 L213.50,81.67 L214.00,81.65 L214.50,81.62 L215.00,81.60 L215.50,81.58 L216.00,81.55 L216.50,81.53 L217.00,81.51 L217.50,81.48 L218.00,81.46 L218.50,81.44 L219.00,81.41 L219.50,81.39 L220.00,81.37 L220.50,81.34 L221.00,81.32 L221.50,81.30 L222.00,81.27 L222.50,81.25 L223.00,81.23 L223.50,81.20 L224.00,81.18 L224.50,81.16 L225.00,81.13 L225.50,81.11 L226.00,81.09 L226.50,81.06 L227.00,81.04 L227.50,81.02 L228.00,80.99 L228.50,80.97 L229.00,80.95 L229.50,80.92 L230.00,80.90 L230.50,80.88 L231.00,80.86 L231.50,80.84 L232.00,80.82 L232.50,80.80 L233.00,80.78 L233.50,80.76 L234.00,80.74 L234.50,80.72 L235.00,80.70 L235.50,80.68 L236.00,80.66 L236.50,80.64 L237.00,80.62 L237.50,80.60 L238.00,80.58 L238.50,80.56 L239.00,80.54 L239.50,80.52 L240.00,80.50 L240.50,80.48 L241.00,80.46 L241.50,80.44 L242.00,80.42 L242.50,80.40 L243.00,80.38 L243.50,80.36 L244.00,80.34 L244.50,80.32 L245.00,80.30 L245.50,80.28 L246.00,80.26 L246.50,80.24 L247.00,80.22 L247.50,80.20 L248.00,80.18 L248.50,80.16 L249.00,80.14 L249.50,80.12 L250.00,80.10 L250.50,80.08 L251.00,80.06 L251.50,80.04 L252.00,80.02 L252.50,80.00 L253.00,79.98 L253.50,79.96 L254.00,79.94 L254.50,79.92 L255.00,79.90 L255.50,79.88 L256.00,79.86 L256.50,79.85 L257.00,79.83 L257.50,79.81 L258.00,79.79 L258.50,79.78 L259.00,79.76 L259.50,79.74 L260.00,79.72 L260.50,79.71 L261.00,79.69 L261.50,79.67 L262.00,79.65 L262.50,79.64 L263.00,79.62 L263.50,79.60 L264.00,79.58 L264.50,79.56 L265.00,79.55 L265.50,79.53 L266.00,79.51 L266.50,79.49 L267.00,79.48 L267.50,79.46 L268.00,79.44 L268.50,79.42 L269.00,79.41 L269.50,79.39 L270.00,79.37 L270.50,79.35 L271.00,79.34 L271.50,79.32 L272.00,79.30 L272.00,79.30" fill="none" stroke="#6f7174" stroke-width="3.9" stroke-linecap="round" stroke-linejoin="round"/>
<path d="M109.00,92.80 L109.50,92.65 L110.00,92.50 L110.50,92.41 L111.00,92.31 L111.50,92.22 L112.00,92.12 L112.50,92.03 L113.00,91.93 L113.50,91.83 L114.00,91.74 L114.50,91.64 L115.00,91.55 L115.50,91.45 L116.00,91.36 L116.50,91.27 L117.00,91.17 L117.50,91.07 L118.00,90.98 L118.50,90.88 L119.00,90.79 L119.50,90.69 L120.00,90.60 L120.50,90.53 L121.00,90.45 L121.50,90.38 L122.00,90.31 L122.50,90.24 L123.00,90.16 L123.50,90.09 L124.00,90.02 L124.50,89.95 L125.00,89.88 L125.50,89.80 L126.00,89.73 L126.50,89.66 L127.00,89.58 L127.50,89.51 L128.00,89.44 L128.50,89.37 L129.00,89.30 L129.50,89.22 L130.00,89.15 L130.50,89.08 L131.00,89.00 L131.50,88.93 L132.00,88.86 L132.50,88.79 L133.00,88.72 L133.50,88.64 L134.00,88.57 L134.50,88.50 L135.00,88.42 L135.50,88.35 L136.00,88.28 L136.50,88.21 L137.00,88.14 L137.50,88.06 L138.00,87.99 L138.50,87.92 L139.00,87.84 L139.50,87.77 L140.00,87.70 L140.50,87.62 L141.00,87.55 L141.50,87.48 L142.00,87.40 L142.50,87.33 L143.00,87.25 L143.50,87.17 L144.00,87.10 L144.50,87.03 L145.00,86.95 L145.50,86.88 L146.00,86.80 L146.50,86.73 L147.00,86.65 L147.50,86.58 L148.00,86.50 L148.50,86.42 L149.00,86.35 L149.50,86.28 L150.00,86.20 L150.50,86.14 L151.00,86.08 L151.50,86.02 L152.00,85.96 L152.50,85.90 L153.00,85.84 L153.50,85.78 L154.00,85.72 L154.50,85.66 L155.00,85.60 L155.50,85.54 L156.00,85.48 L156.50,85.42 L157.00,85.36 L157.50,85.30 L158.00,85.24 L158.50,85.18 L159.00,85.12 L159.50,85.06 L160.00,85.00 L160.50,84.96 L161.00,84.92 L161.50,84.88 L162.00,84.84 L162.50,84.80 L163.00,84.76 L163.50,84.72 L164.00,84.68 L164.50,84.64 L165.00,84.60 L165.50,84.56 L166.00,84.52 L166.50,84.48 L167.00,84.44 L167.50,84.40 L168.00,84.36 L168.50,84.32 L169.00,84.28 L169.50,84.24 L170.00,84.20 L170.50,84.16 L171.00,84.12 L171.50,84.08 L172.00,84.04 L172.50,84.00 L173.00,83.96 L173.50,83.92 L174.00,83.88 L174.50,83.84 L175.00,83.80 L175.50,83.76 L176.00,83.72 L176.50,83.68 L177.00,83.64 L177.50,83.60 L178.00,83.56 L178.50,83.52 L179.00,83.48 L179.50,83.44 L180.00,83.40 L180.50,83.37 L181.00,83.34 L181.50,83.32 L182.00,83.29 L182.50,83.26 L183.00,83.23 L183.50,83.21 L184.00,83.18 L184.50,83.15 L185.00,83.12 L185.50,83.10 L186.00,83.07 L186.50,83.04 L187.00,83.02 L187.50,82.99 L188.00,82.96 L188.50,82.93 L189.00,82.91 L189.50,82.88 L190.00,82.85 L190.50,82.82 L191.00,82.80 L191.50,82.77 L192.00,82.74 L192.50,82.71 L193.00,82.69 L193.50,82.66 L194.00,82.63 L194.50,82.60 L195.00,82.58 L195.50,82.55 L196.00,82.52 L196.50,82.49 L197.00,82.47 L197.50,82.44 L198.00,82.41 L198.50,82.38 L199.00,82.36 L199.50,82.33 L200.00,82.30 L200.50,82.28 L201.00,82.25 L201.50,82.23 L202.00,82.21 L202.50,82.18 L203.00,82.16 L203.50,82.14 L204.00,82.11 L204.50,82.09 L205.00,82.07 L205.50,82.04 L206.00,82.02 L206.50,82.00 L207.00,81.97 L207.50,81.95 L208.00,81.93 L208.50,81.90 L209.00,81.88 L209.50,81.86 L210.00,81.83 L210.50,81.81 L211.00,81.79 L211.50,81.76 L212.00,81.74 L212.50,81.72 L213.00,81.69 L213.50,81.67 L214.00,81.65 L214.50,81.62 L215.00,81.60 L215.50,81.58 L216.00,81.55 L216.50,81.53 L217.00,81.51 L217.50,81.48 L218.00,81.46 L218.50,81.44 L219.00,81.41 L219.50,81.39 L220.00,81.37 L220.50,81.34 L221.00,81.32 L221.50,81.30 L222.00,81.27 L222.50,81.25 L223.00,81.23 L223.50,81.20 L224.00,81.18 L224.50,81.16 L225.00,81.13 L225.50,81.11 L226.00,81.09 L226.50,81.06 L227.00,81.04 L227.50,81.02 L228.00,80.99 L228.50,80.97 L229.00,80.95 L229.50,80.92 L230.00,80.90 L230.50,80.88 L231.00,80.86 L231.50,80.84 L232.00,80.82 L232.50,80.80 L233.00,80.78 L233.50,80.76 L234.00,80.74 L234.50,80.72 L235.00,80.70 L235.50,80.68 L236.00,80.66 L236.50,80.64 L237.00,80.62 L237.50,80.60 L238.00,80.58 L238.50,80.56 L239.00,80.54 L239.50,80.52 L240.00,80.50 L240.50,80.48 L241.00,80.46 L241.50,80.44 L242.00,80.42 L242.50,80.40 L243.00,80.38 L243.50,80.36 L244.00,80.34 L244.50,80.32 L245.00,80.30 L245.50,80.28 L246.00,80.26 L246.50,80.24 L247.00,80.22 L247.50,80.20 L248.00,80.18 L248.50,80.16 L249.00,80.14 L249.50,80.12 L250.00,80.10 L250.50,80.08 L251.00,80.06 L251.50,80.04 L252.00,80.02 L252.50,80.00 L253.00,79.98 L253.50,79.96 L254.00,79.94 L254.50,79.92 L255.00,79.90 L255.50,79.88 L256.00,79.86 L256.50,79.85 L257.00,79.83 L257.50,79.81 L258.00,79.79 L258.50,79.78 L259.00,79.76 L259.50,79.74 L260.00,79.72 L260.50,79.71 L261.00,79.69 L261.50,79.67 L262.00,79.65 L262.50,79.64 L263.00,79.62 L263.50,79.60 L264.00,79.58 L264.50,79.56 L265.00,79.55 L265.50,79.53 L266.00,79.51 L266.50,79.49 L267.00,79.48 L267.50,79.46 L268.00,79.44 L268.50,79.42 L269.00,79.41 L269.50,79.39 L270.00,79.37 L270.00,79.37" fill="none" stroke="#939598" stroke-width="1.3" stroke-linecap="round" stroke-linejoin="round"/>
<path d="M272.00,79.30 L272.50,79.24 L273.00,79.17 L273.50,79.11 L274.00,79.05 L274.50,78.99 L275.00,78.92 L275.50,78.86 L276.00,78.80 L276.50,78.74 L277.00,78.67 L277.50,78.61 L278.00,78.55 L278.50,78.49 L279.00,78.42 L279.50,78.36 L280.00,78.30 L280.50,78.21 L281.00,78.12 L281.50,78.03 L282.00,77.93 L282.50,77.84 L283.00,77.75 L283.50,77.66 L284.00,77.57 L284.50,77.47 L285.00,77.38 L285.50,77.29 L286.00,77.20 L286.50,77.00 L287.00,76.80 L287.50,76.60 L288.00,76.40 L288.50,76.20 L289.00,76.00 L289.50,75.45 L290.00,74.90 L290.50,74.35 L291.00,73.80 L291.50,72.93 L292.00,72.07 L292.50,71.20 L293.00,70.20 L293.50,69.20 L294.00,68.20 L294.00,68.20" fill="none" stroke="#b3192f" stroke-width="3.8" stroke-linecap="round" stroke-linejoin="round"/>
<circle cx="294.20" cy="67.60" r="2.4" fill="#b3192f"/>
<circle cx="45.20" cy="123.30" r="2.2" fill="#1a4a73"/>
<circle cx="47.10" cy="119.60" r="2.2" fill="#1a4a73"/>
<line x1="48.90" y1="121.90" x2="60.80" y2="129.60" stroke="#f0a33a" stroke-width="0.6"/>
<text stroke="#f0a33a" stroke-width="0.2" x="63.90" y="133.60" font-size="7.8" fill="#f0a33a" textLength="16.20" lengthAdjust="spacingAndGlyphs">MYC</text>
<text stroke="#1c1a1b" stroke-width="0.2" x="209.20" y="127.10" font-size="8" textLength="85.00" lengthAdjust="spacingAndGlyphs">n = 16 cancer cell lines +</text>
<text stroke="#1c1a1b" stroke-width="0.2" x="209.20" y="134.80" font-size="8" textLength="89.80" lengthAdjust="spacingAndGlyphs">n = 2 healthy primary cells</text>
<line x1="45.20" y1="143.20" x2="45.20" y2="147.30" stroke="#1c1a1b" stroke-width="1.1"/>
<text stroke="#1c1a1b" stroke-width="0.2" transform="translate(48.20,150.80) rotate(-90)" font-size="8.7" text-anchor="end" textLength="32.17" lengthAdjust="spacingAndGlyphs">TRMT112</text>
<line x1="54.47" y1="143.20" x2="54.47" y2="147.30" stroke="#1c1a1b" stroke-width="1.1"/>
<text stroke="#1c1a1b" stroke-width="0.2" transform="translate(57.47,150.80) rotate(-90)" font-size="8.7" text-anchor="end" textLength="26.17" lengthAdjust="spacingAndGlyphs">MOCS3</text>
<line x1="63.74" y1="143.20" x2="63.74" y2="147.30" stroke="#1c1a1b" stroke-width="1.1"/>
<text stroke="#1c1a1b" stroke-width="0.2" transform="translate(66.74,150.80) rotate(-90)" font-size="8.7" text-anchor="end" textLength="24.54" lengthAdjust="spacingAndGlyphs">NUBP1</text>
<line x1="73.01" y1="143.20" x2="73.01" y2="147.30" stroke="#1c1a1b" stroke-width="1.1"/>
<text stroke="#1c1a1b" stroke-width="0.2" transform="translate(76.01,150.80) rotate(-90)" font-size="8.7" text-anchor="end" textLength="23.31" lengthAdjust="spacingAndGlyphs">VIRMA</text>
<line x1="82.28" y1="143.20" x2="82.28" y2="147.30" stroke="#1c1a1b" stroke-width="1.1"/>
<text stroke="#1c1a1b" stroke-width="0.2" transform="translate(85.28,150.80) rotate(-90)" font-size="8.7" text-anchor="end" textLength="25.35" lengthAdjust="spacingAndGlyphs">CMTR1</text>
<line x1="91.55" y1="143.20" x2="91.55" y2="147.30" stroke="#1c1a1b" stroke-width="1.1"/>
<text stroke="#1c1a1b" stroke-width="0.2" transform="translate(94.55,150.80) rotate(-90)" font-size="8.7" text-anchor="end" textLength="31.49" lengthAdjust="spacingAndGlyphs">HNRNPC</text>
<line x1="100.82" y1="143.20" x2="100.82" y2="147.30" stroke="#1c1a1b" stroke-width="1.1"/>
<text stroke="#1c1a1b" stroke-width="0.2" transform="translate(103.82,150.80) rotate(-90)" font-size="8.7" text-anchor="end" textLength="24.53" lengthAdjust="spacingAndGlyphs">TRMT5</text>
<line x1="110.09" y1="143.20" x2="110.09" y2="147.30" stroke="#1c1a1b" stroke-width="1.1"/>
<text stroke="#1c1a1b" stroke-width="0.2" transform="translate(113.09,150.80) rotate(-90)" font-size="8.7" text-anchor="end" textLength="24.54" lengthAdjust="spacingAndGlyphs">RBM15</text>
<line x1="119.36" y1="143.20" x2="119.36" y2="147.30" stroke="#1c1a1b" stroke-width="1.1"/>
<text stroke="#1c1a1b" stroke-width="0.2" transform="translate(122.36,150.80) rotate(-90)" font-size="8.7" text-anchor="end" textLength="20.44" lengthAdjust="spacingAndGlyphs">TRIT1</text>
<line x1="128.63" y1="143.20" x2="128.63" y2="147.30" stroke="#1c1a1b" stroke-width="1.1"/>
<text stroke="#1c1a1b" stroke-width="0.2" transform="translate(131.63,150.80) rotate(-90)" font-size="8.7" text-anchor="end" textLength="33.13" lengthAdjust="spacingAndGlyphs">METTL2B</text>
<line x1="137.90" y1="143.20" x2="137.90" y2="147.30" stroke="#1c1a1b" stroke-width="1.1"/>
<text stroke="#1c1a1b" stroke-width="0.2" transform="translate(140.90,150.80) rotate(-90)" font-size="8.7" text-anchor="end" textLength="24.12" lengthAdjust="spacingAndGlyphs">TFB2M</text>
<line x1="147.17" y1="143.20" x2="147.17" y2="147.30" stroke="#1c1a1b" stroke-width="1.1"/>
<text stroke="#1c1a1b" stroke-width="0.2" transform="translate(150.17,150.80) rotate(-90)" font-size="8.7" text-anchor="end" textLength="19.22" lengthAdjust="spacingAndGlyphs">TGS1</text>
<line x1="156.44" y1="143.20" x2="156.44" y2="147.30" stroke="#1c1a1b" stroke-width="1.1"/>
<text stroke="#1c1a1b" stroke-width="0.2" transform="translate(159.44,150.80) rotate(-90)" font-size="8.7" text-anchor="end" textLength="22.50" lengthAdjust="spacingAndGlyphs">CBLL1</text>
<line x1="165.71" y1="143.20" x2="165.71" y2="147.30" stroke="#1c1a1b" stroke-width="1.1"/>
<text stroke="#1c1a1b" stroke-width="0.2" transform="translate(168.71,150.80) rotate(-90)" font-size="8.7" text-anchor="end" textLength="29.04" lengthAdjust="spacingAndGlyphs">GTPBP3</text>
<line x1="174.98" y1="143.20" x2="174.98" y2="147.30" stroke="#1c1a1b" stroke-width="1.1"/>
<text stroke="#1c1a1b" stroke-width="0.2" transform="translate(177.98,150.80) rotate(-90)" font-size="8.7" text-anchor="end" textLength="24.41" lengthAdjust="spacingAndGlyphs">CEBPA</text>
<line x1="184.25" y1="143.20" x2="184.25" y2="147.30" stroke="#1c1a1b" stroke-width="1.1"/>
<text stroke="#1c1a1b" stroke-width="0.2" transform="translate(187.25,150.80) rotate(-90)" font-size="8.7" text-anchor="end" textLength="14.58" lengthAdjust="spacingAndGlyphs">FTO</text>
<line x1="193.52" y1="143.20" x2="193.52" y2="147.30" stroke="#1c1a1b" stroke-width="1.1"/>
<text stroke="#1c1a1b" stroke-width="0.2" transform="translate(196.52,150.80) rotate(-90)" font-size="8.7" text-anchor="end" textLength="23.73" lengthAdjust="spacingAndGlyphs">DUS3L</text>
<line x1="202.79" y1="143.20" x2="202.79" y2="147.30" stroke="#1c1a1b" stroke-width="1.1"/>
<text stroke="#1c1a1b" stroke-width="0.2" transform="translate(205.79,150.80) rotate(-90)" font-size="8.7" text-anchor="end" textLength="21.67" lengthAdjust="spacingAndGlyphs">FTSJ1</text>
<line x1="212.06" y1="143.20" x2="212.06" y2="147.30" stroke="#1c1a1b" stroke-width="1.1"/>
<text stroke="#1c1a1b" stroke-width="0.2" transform="translate(215.06,150.80) rotate(-90)" font-size="8.7" text-anchor="end" textLength="28.62" lengthAdjust="spacingAndGlyphs">YTHDF1</text>
<line x1="221.33" y1="143.20" x2="221.33" y2="147.30" stroke="#1c1a1b" stroke-width="1.1"/>
<text stroke="#1c1a1b" stroke-width="0.2" transform="translate(224.33,150.80) rotate(-90)" font-size="8.7" text-anchor="end" textLength="17.58" lengthAdjust="spacingAndGlyphs">c-KIT</text>
<line x1="230.60" y1="143.20" x2="230.60" y2="147.30" stroke="#1c1a1b" stroke-width="1.1"/>
<text stroke="#1c1a1b" stroke-width="0.2" transform="translate(233.60,150.80) rotate(-90)" font-size="8.7" text-anchor="end" textLength="29.44" lengthAdjust="spacingAndGlyphs">YTHDC2</text>
<line x1="239.87" y1="143.20" x2="239.87" y2="147.30" stroke="#1c1a1b" stroke-width="1.1"/>
<text stroke="#1c1a1b" stroke-width="0.2" transform="translate(242.87,150.80) rotate(-90)" font-size="8.7" text-anchor="end" textLength="33.53" lengthAdjust="spacingAndGlyphs">TRMT61B</text>
<line x1="249.14" y1="143.20" x2="249.14" y2="147.30" stroke="#1c1a1b" stroke-width="1.1"/>
<text stroke="#1c1a1b" stroke-width="0.2" transform="translate(252.14,150.80) rotate(-90)" font-size="8.7" text-anchor="end" textLength="29.45" lengthAdjust="spacingAndGlyphs">ADARB2</text>
<line x1="258.41" y1="143.20" x2="258.41" y2="147.30" stroke="#1c1a1b" stroke-width="1.1"/>
<text stroke="#1c1a1b" stroke-width="0.2" transform="translate(261.41,150.80) rotate(-90)" font-size="8.7" text-anchor="end" textLength="35.57" lengthAdjust="spacingAndGlyphs">THUMPD3</text>
<line x1="267.68" y1="143.20" x2="267.68" y2="147.30" stroke="#1c1a1b" stroke-width="1.1"/>
<text stroke="#1c1a1b" stroke-width="0.2" transform="translate(270.68,150.80) rotate(-90)" font-size="8.7" text-anchor="end" textLength="24.54" lengthAdjust="spacingAndGlyphs">ADAD1</text>
<line x1="276.95" y1="143.20" x2="276.95" y2="147.30" stroke="#1c1a1b" stroke-width="1.1"/>
<text stroke="#1c1a1b" stroke-width="0.2" transform="translate(279.95,150.80) rotate(-90)" font-size="8.7" text-anchor="end" textLength="28.62" lengthAdjust="spacingAndGlyphs">TRMT13</text>
<line x1="286.22" y1="143.20" x2="286.22" y2="147.30" stroke="#1c1a1b" stroke-width="1.1"/>
<text stroke="#1c1a1b" stroke-width="0.2" transform="translate(289.22,150.80) rotate(-90)" font-size="8.7" text-anchor="end" textLength="24.13" lengthAdjust="spacingAndGlyphs">TRUB1</text>
<line x1="295.49" y1="143.20" x2="295.49" y2="147.30" stroke="#1c1a1b" stroke-width="1.1"/>
<text stroke="#1c1a1b" stroke-width="0.2" transform="translate(298.49,150.80) rotate(-90)" font-size="8.7" text-anchor="end" textLength="17.59" lengthAdjust="spacingAndGlyphs">TP53</text>
<text x="333.00" y="19.90" font-size="14" font-weight="bold" stroke="#111" stroke-width="0.35">B</text>
<line x1="362.00" y1="36.00" x2="362.00" y2="143.70" stroke="#1c1a1b" stroke-width="1.65"/>
<line x1="361.40" y1="143.10" x2="469.60" y2="143.10" stroke="#1c1a1b" stroke-width="1.65"/>
<line x1="358.30" y1="38.50" x2="362.00" y2="38.50" stroke="#1c1a1b" stroke-width="1.1"/>
<text stroke="#1c1a1b" stroke-width="0.2" x="355.30" y="41.30" font-size="8.5" text-anchor="end" textLength="4.16" lengthAdjust="spacingAndGlyphs">1</text>
<line x1="358.30" y1="73.50" x2="362.00" y2="73.50" stroke="#1c1a1b" stroke-width="1.1"/>
<text stroke="#1c1a1b" stroke-width="0.2" x="355.30" y="76.30" font-size="8.5" text-anchor="end" textLength="4.16" lengthAdjust="spacingAndGlyphs">0</text>
<line x1="358.30" y1="108.50" x2="362.00" y2="108.50" stroke="#1c1a1b" stroke-width="1.1"/>
<text stroke="#1c1a1b" stroke-width="0.2" x="355.30" y="111.30" font-size="8.5" text-anchor="end" textLength="8.53" lengthAdjust="spacingAndGlyphs">−1</text>
<line x1="358.30" y1="143.50" x2="362.00" y2="143.50" stroke="#1c1a1b" stroke-width="1.1"/>
<text stroke="#1c1a1b" stroke-width="0.2" x="355.30" y="146.30" font-size="8.5" text-anchor="end" textLength="8.53" lengthAdjust="spacingAndGlyphs">−2</text>
<line x1="380.00" y1="143.10" x2="380.00" y2="146.60" stroke="#1c1a1b" stroke-width="1.1"/>
<text stroke="#1c1a1b" stroke-width="0.2" x="380.00" y="157.30" font-size="8.5" text-anchor="middle" textLength="8.53" lengthAdjust="spacingAndGlyphs">−2</text>
<line x1="414.20" y1="143.10" x2="414.20" y2="146.60" stroke="#1c1a1b" stroke-width="1.1"/>
<text stroke="#1c1a1b" stroke-width="0.2" x="414.20" y="157.30" font-size="8.5" text-anchor="middle" textLength="8.53" lengthAdjust="spacingAndGlyphs">−1</text>
<line x1="448.40" y1="143.10" x2="448.40" y2="146.60" stroke="#1c1a1b" stroke-width="1.1"/>
<text stroke="#1c1a1b" stroke-width="0.2" x="448.40" y="157.30" font-size="8.5" text-anchor="middle" textLength="4.16" lengthAdjust="spacingAndGlyphs">0</text>
<text stroke="#1c1a1b" stroke-width="0.2" x="379.30" y="172.60" font-size="10.5" textLength="69.50" lengthAdjust="spacingAndGlyphs">Av. CRISPR depmap</text>
<text stroke="#1c1a1b" stroke-width="0.2" transform="translate(340.80,86.90) rotate(-90)" font-size="10.5" text-anchor="middle" textLength="71.70" lengthAdjust="spacingAndGlyphs">Av. targeted CRISPR</text>
<text stroke="#1c1a1b" stroke-width="0.2" x="369.40" y="33.70" font-size="7.8" textLength="38.50" lengthAdjust="spacingAndGlyphs">r2 = 0.6604</text>
<text stroke="#1c1a1b" stroke-width="0.2" x="369.4" y="43.3" font-size="7.8" textLength="43.3" lengthAdjust="spacingAndGlyphs"><tspan font-style="italic">P</tspan> = 4.7e-036</text>
<line x1="363.20" y1="73.50" x2="466.00" y2="73.50" stroke="#2a2a2a" stroke-width="1.0" stroke-dasharray="1.1 1.35"/>
<line x1="374.40" y1="122.00" x2="441.00" y2="72.80" stroke="#1c1a1b" stroke-width="0.9"/>
<circle cx="396.40" cy="79.00" r="1.7" fill="#b9babc" stroke="#3d3e40" stroke-width="0.7"/>
<circle cx="397.60" cy="95.50" r="1.7" fill="#b9babc" stroke="#3d3e40" stroke-width="0.7"/>
<circle cx="387.90" cy="107.10" r="1.7" fill="#b9babc" stroke="#3d3e40" stroke-width="0.7"/>
<circle cx="383.30" cy="114.50" r="1.7" fill="#b9babc" stroke="#3d3e40" stroke-width="0.7"/>
<circle cx="395.50" cy="113.00" r="1.7" fill="#b9babc" stroke="#3d3e40" stroke-width="0.7"/>
<circle cx="401.90" cy="112.00" r="1.7" fill="#b9babc" stroke="#3d3e40" stroke-width="0.7"/>
<circle cx="408.20" cy="116.60" r="1.7" fill="#b9babc" stroke="#3d3e40" stroke-width="0.7"/>
<circle cx="404.80" cy="107.10" r="1.7" fill="#b9babc" stroke="#3d3e40" stroke-width="0.7"/>
<circle cx="405.50" cy="100.30" r="1.7" fill="#b9babc" stroke="#3d3e40" stroke-width="0.7"/>
<circle cx="410.70" cy="100.70" r="1.7" fill="#b9babc" stroke="#3d3e40" stroke-width="0.7"/>
<circle cx="410.30" cy="91.20" r="1.7" fill="#b9babc" stroke="#3d3e40" stroke-width="0.7"/>
<circle cx="413.90" cy="83.80" r="1.7" fill="#b9babc" stroke="#3d3e40" stroke-width="0.7"/>
<circle cx="417.10" cy="105.40" r="1.7" fill="#b9babc" stroke="#3d3e40" stroke-width="0.7"/>
<circle cx="420.30" cy="96.90" r="1.7" fill="#b9babc" stroke="#3d3e40" stroke-width="0.7"/>
<circle cx="421.30" cy="98.60" r="1.7" fill="#b9babc" stroke="#3d3e40" stroke-width="0.7"/>
<circle cx="419.60" cy="79.60" r="1.7" fill="#b9babc" stroke="#3d3e40" stroke-width="0.7"/>
<circle cx="424.50" cy="90.20" r="1.7" fill="#b9babc" stroke="#3d3e40" stroke-width="0.7"/>
<circle cx="424.50" cy="75.40" r="1.7" fill="#b9babc" stroke="#3d3e40" stroke-width="0.7"/>
<circle cx="425.50" cy="113.40" r="1.7" fill="#b9babc" stroke="#3d3e40" stroke-width="0.7"/>
<circle cx="433.00" cy="66.50" r="1.7" fill="#b9babc" stroke="#3d3e40" stroke-width="0.7"/>
<circle cx="433.00" cy="107.50" r="1.7" fill="#b9babc" stroke="#3d3e40" stroke-width="0.7"/>
<circle cx="429.30" cy="99.30" r="1.7" fill="#b9babc" stroke="#3d3e40" stroke-width="0.7"/>
<circle cx="431.90" cy="91.20" r="1.7" fill="#b9babc" stroke="#3d3e40" stroke-width="0.7"/>
<circle cx="435.00" cy="96.50" r="1.7" fill="#b9babc" stroke="#3d3e40" stroke-width="0.7"/>
<circle cx="437.20" cy="91.20" r="1.7" fill="#b9babc" stroke="#3d3e40" stroke-width="0.7"/>
<circle cx="444.60" cy="58.50" r="1.7" fill="#b9babc" stroke="#3d3e40" stroke-width="0.7"/>
<circle cx="414.50" cy="94.00" r="1.7" fill="#b9babc" stroke="#3d3e40" stroke-width="0.7"/>
<circle cx="418.00" cy="88.00" r="1.7" fill="#b9babc" stroke="#3d3e40" stroke-width="0.7"/>
<circle cx="427.00" cy="84.00" r="1.7" fill="#b9babc" stroke="#3d3e40" stroke-width="0.7"/>
<circle cx="429.00" cy="79.00" r="1.7" fill="#b9babc" stroke="#3d3e40" stroke-width="0.7"/>
<circle cx="431.00" cy="86.00" r="1.7" fill="#b9babc" stroke="#3d3e40" stroke-width="0.7"/>
<circle cx="436.00" cy="82.00" r="1.7" fill="#b9babc" stroke="#3d3e40" stroke-width="0.7"/>
<circle cx="423.00" cy="93.00" r="1.7" fill="#b9babc" stroke="#3d3e40" stroke-width="0.7"/>
<circle cx="428.50" cy="96.00" r="1.7" fill="#b9babc" stroke="#3d3e40" stroke-width="0.7"/>
<circle cx="412.00" cy="110.00" r="1.7" fill="#b9babc" stroke="#3d3e40" stroke-width="0.7"/>
<circle cx="407.00" cy="96.50" r="1.7" fill="#b9babc" stroke="#3d3e40" stroke-width="0.7"/>
<circle cx="402.00" cy="104.00" r="1.7" fill="#b9babc" stroke="#3d3e40" stroke-width="0.7"/>
<circle cx="392.00" cy="108.00" r="1.7" fill="#b9babc" stroke="#3d3e40" stroke-width="0.7"/>
<circle cx="434.00" cy="88.00" r="1.7" fill="#b9babc" stroke="#3d3e40" stroke-width="0.7"/>
<circle cx="437.00" cy="99.50" r="1.7" fill="#b9babc" stroke="#3d3e40" stroke-width="0.7"/>
<circle cx="440.00" cy="94.00" r="1.7" fill="#b9babc" stroke="#3d3e40" stroke-width="0.7"/>
<circle cx="430.00" cy="104.00" r="1.7" fill="#b9babc" stroke="#3d3e40" stroke-width="0.7"/>
<circle cx="436.52" cy="77.02" r="1.7" fill="#b9babc" stroke="#3d3e40" stroke-width="0.7"/>
<circle cx="444.18" cy="78.21" r="1.7" fill="#b9babc" stroke="#3d3e40" stroke-width="0.7"/>
<circle cx="449.69" cy="66.39" r="1.7" fill="#b9babc" stroke="#3d3e40" stroke-width="0.7"/>
<circle cx="439.54" cy="78.97" r="1.7" fill="#b9babc" stroke="#3d3e40" stroke-width="0.7"/>
<circle cx="447.70" cy="73.36" r="1.7" fill="#b9babc" stroke="#3d3e40" stroke-width="0.7"/>
<circle cx="438.53" cy="79.77" r="1.7" fill="#b9babc" stroke="#3d3e40" stroke-width="0.7"/>
<circle cx="454.80" cy="57.55" r="1.7" fill="#b9babc" stroke="#3d3e40" stroke-width="0.7"/>
<circle cx="447.61" cy="71.25" r="1.7" fill="#b9babc" stroke="#3d3e40" stroke-width="0.7"/>
<circle cx="446.04" cy="77.56" r="1.7" fill="#b9babc" stroke="#3d3e40" stroke-width="0.7"/>
<circle cx="442.46" cy="80.04" r="1.7" fill="#b9babc" stroke="#3d3e40" stroke-width="0.7"/>
<circle cx="437.17" cy="80.07" r="1.7" fill="#b9babc" stroke="#3d3e40" stroke-width="0.7"/>
<circle cx="444.73" cy="74.63" r="1.7" fill="#b9babc" stroke="#3d3e40" stroke-width="0.7"/>
<circle cx="439.47" cy="81.19" r="1.7" fill="#b9babc" stroke="#3d3e40" stroke-width="0.7"/>
<circle cx="438.68" cy="77.20" r="1.7" fill="#b9babc" stroke="#3d3e40" stroke-width="0.7"/>
<circle cx="455.65" cy="60.48" r="1.7" fill="#b9babc" stroke="#3d3e40" stroke-width="0.7"/>
<circle cx="448.49" cy="65.56" r="1.7" fill="#b9babc" stroke="#3d3e40" stroke-width="0.7"/>
<circle cx="434.28" cy="82.09" r="1.7" fill="#b9babc" stroke="#3d3e40" stroke-width="0.7"/>
<circle cx="439.67" cy="77.15" r="1.7" fill="#b9babc" stroke="#3d3e40" stroke-width="0.7"/>
<circle cx="441.58" cy="77.33" r="1.7" fill="#b9babc" stroke="#3d3e40" stroke-width="0.7"/>
<circle cx="442.78" cy="75.62" r="1.7" fill="#b9babc" stroke="#3d3e40" stroke-width="0.7"/>
<circle cx="435.40" cy="85.71" r="1.7" fill="#b9babc" stroke="#3d3e40" stroke-width="0.7"/>
<circle cx="453.68" cy="62.73" r="1.7" fill="#b9babc" stroke="#3d3e40" stroke-width="0.7"/>
<circle cx="445.33" cy="70.32" r="1.7" fill="#b9babc" stroke="#3d3e40" stroke-width="0.7"/>
<circle cx="445.28" cy="69.65" r="1.7" fill="#b9babc" stroke="#3d3e40" stroke-width="0.7"/>
<circle cx="437.83" cy="82.22" r="1.7" fill="#b9babc" stroke="#3d3e40" stroke-width="0.7"/>
<circle cx="452.66" cy="66.95" r="1.7" fill="#b9babc" stroke="#3d3e40" stroke-width="0.7"/>
<circle cx="440.39" cy="77.99" r="1.7" fill="#b9babc" stroke="#3d3e40" stroke-width="0.7"/>
<circle cx="451.16" cy="64.02" r="1.7" fill="#b9babc" stroke="#3d3e40" stroke-width="0.7"/>
<circle cx="447.23" cy="64.34" r="1.7" fill="#b9babc" stroke="#3d3e40" stroke-width="0.7"/>
<circle cx="451.60" cy="67.71" r="1.7" fill="#b9babc" stroke="#3d3e40" stroke-width="0.7"/>
<circle cx="452.42" cy="60.43" r="1.7" fill="#b9babc" stroke="#3d3e40" stroke-width="0.7"/>
<circle cx="443.52" cy="74.83" r="1.7" fill="#b9babc" stroke="#3d3e40" stroke-width="0.7"/>
<circle cx="452.54" cy="66.00" r="1.7" fill="#b9babc" stroke="#3d3e40" stroke-width="0.7"/>
<circle cx="450.99" cy="63.73" r="1.7" fill="#b9babc" stroke="#3d3e40" stroke-width="0.7"/>
<circle cx="452.23" cy="66.65" r="1.7" fill="#b9babc" stroke="#3d3e40" stroke-width="0.7"/>
<circle cx="439.20" cy="78.54" r="1.7" fill="#b9babc" stroke="#3d3e40" stroke-width="0.7"/>
<circle cx="433.87" cy="87.24" r="1.7" fill="#b9babc" stroke="#3d3e40" stroke-width="0.7"/>
<circle cx="454.61" cy="59.89" r="1.7" fill="#b9babc" stroke="#3d3e40" stroke-width="0.7"/>
<circle cx="440.10" cy="77.77" r="1.7" fill="#b9babc" stroke="#3d3e40" stroke-width="0.7"/>
<circle cx="449.84" cy="68.65" r="1.7" fill="#b9babc" stroke="#3d3e40" stroke-width="0.7"/>
<circle cx="452.10" cy="60.98" r="1.7" fill="#b9babc" stroke="#3d3e40" stroke-width="0.7"/>
<circle cx="445.25" cy="72.61" r="1.7" fill="#b9babc" stroke="#3d3e40" stroke-width="0.7"/>
<circle cx="451.32" cy="68.74" r="1.7" fill="#b9babc" stroke="#3d3e40" stroke-width="0.7"/>
<circle cx="439.45" cy="77.70" r="1.7" fill="#b9babc" stroke="#3d3e40" stroke-width="0.7"/>
<circle cx="448.44" cy="69.10" r="1.7" fill="#b9babc" stroke="#3d3e40" stroke-width="0.7"/>
<circle cx="445.06" cy="67.24" r="1.7" fill="#b9babc" stroke="#3d3e40" stroke-width="0.7"/>
<circle cx="446.02" cy="74.09" r="1.7" fill="#b9babc" stroke="#3d3e40" stroke-width="0.7"/>
<circle cx="454.56" cy="62.61" r="1.7" fill="#b9babc" stroke="#3d3e40" stroke-width="0.7"/>
<circle cx="435.73" cy="82.29" r="1.7" fill="#b9babc" stroke="#3d3e40" stroke-width="0.7"/>
<circle cx="444.38" cy="78.44" r="1.7" fill="#b9babc" stroke="#3d3e40" stroke-width="0.7"/>
<circle cx="448.46" cy="72.22" r="1.7" fill="#b9babc" stroke="#3d3e40" stroke-width="0.7"/>
<circle cx="439.77" cy="77.10" r="1.7" fill="#b9babc" stroke="#3d3e40" stroke-width="0.7"/>
<circle cx="437.46" cy="82.75" r="1.7" fill="#b9babc" stroke="#3d3e40" stroke-width="0.7"/>
<circle cx="448.47" cy="68.49" r="1.7" fill="#b9babc" stroke="#3d3e40" stroke-width="0.7"/>
<circle cx="450.00" cy="65.52" r="1.7" fill="#b9babc" stroke="#3d3e40" stroke-width="0.7"/>
<circle cx="451.62" cy="67.14" r="1.7" fill="#b9babc" stroke="#3d3e40" stroke-width="0.7"/>
<circle cx="434.92" cy="81.03" r="1.7" fill="#b9babc" stroke="#3d3e40" stroke-width="0.7"/>
<circle cx="448.77" cy="72.72" r="1.7" fill="#b9babc" stroke="#3d3e40" stroke-width="0.7"/>
<circle cx="441.20" cy="77.93" r="1.7" fill="#b9babc" stroke="#3d3e40" stroke-width="0.7"/>
<circle cx="440.83" cy="76.08" r="1.7" fill="#b9babc" stroke="#3d3e40" stroke-width="0.7"/>
<circle cx="442.00" cy="71.25" r="1.7" fill="#b9babc" stroke="#3d3e40" stroke-width="0.7"/>
<circle cx="434.66" cy="80.04" r="1.7" fill="#b9babc" stroke="#3d3e40" stroke-width="0.7"/>
<circle cx="450.14" cy="67.75" r="1.7" fill="#b9babc" stroke="#3d3e40" stroke-width="0.7"/>
<circle cx="447.27" cy="68.42" r="1.7" fill="#b9babc" stroke="#3d3e40" stroke-width="0.7"/>
<circle cx="435.96" cy="77.63" r="1.7" fill="#b9babc" stroke="#3d3e40" stroke-width="0.7"/>
<circle cx="439.83" cy="81.36" r="1.7" fill="#b9babc" stroke="#3d3e40" stroke-width="0.7"/>
<circle cx="436.16" cy="82.15" r="1.7" fill="#b9babc" stroke="#3d3e40" stroke-width="0.7"/>
<circle cx="451.08" cy="63.66" r="1.7" fill="#b9babc" stroke="#3d3e40" stroke-width="0.7"/>
<circle cx="448.29" cy="71.10" r="1.7" fill="#b9babc" stroke="#3d3e40" stroke-width="0.7"/>
<circle cx="442.03" cy="74.20" r="1.7" fill="#b9babc" stroke="#3d3e40" stroke-width="0.7"/>
<circle cx="442.18" cy="76.18" r="1.7" fill="#b9babc" stroke="#3d3e40" stroke-width="0.7"/>
<circle cx="442.86" cy="78.73" r="1.7" fill="#b9babc" stroke="#3d3e40" stroke-width="0.7"/>
<circle cx="450.89" cy="63.60" r="1.7" fill="#b9babc" stroke="#3d3e40" stroke-width="0.7"/>
<circle cx="437.72" cy="80.90" r="1.7" fill="#b9babc" stroke="#3d3e40" stroke-width="0.7"/>
<circle cx="447.50" cy="70.16" r="1.7" fill="#b9babc" stroke="#3d3e40" stroke-width="0.7"/>
<circle cx="442.23" cy="73.90" r="1.7" fill="#b9babc" stroke="#3d3e40" stroke-width="0.7"/>
<circle cx="452.90" cy="61.27" r="1.7" fill="#b9babc" stroke="#3d3e40" stroke-width="0.7"/>
<circle cx="448.83" cy="63.21" r="1.7" fill="#b9babc" stroke="#3d3e40" stroke-width="0.7"/>
<circle cx="448.22" cy="67.19" r="1.7" fill="#b9babc" stroke="#3d3e40" stroke-width="0.7"/>
<circle cx="452.17" cy="66.65" r="1.7" fill="#b9babc" stroke="#3d3e40" stroke-width="0.7"/>
<circle cx="454.17" cy="64.50" r="1.7" fill="#b9babc" stroke="#3d3e40" stroke-width="0.7"/>
<circle cx="433.31" cy="85.94" r="1.7" fill="#b9babc" stroke="#3d3e40" stroke-width="0.7"/>
<circle cx="442.69" cy="78.20" r="1.7" fill="#b9babc" stroke="#3d3e40" stroke-width="0.7"/>
<circle cx="434.43" cy="87.29" r="1.7" fill="#b9babc" stroke="#3d3e40" stroke-width="0.7"/>
<circle cx="449.00" cy="68.33" r="1.7" fill="#b9babc" stroke="#3d3e40" stroke-width="0.7"/>
<circle cx="453.86" cy="61.75" r="1.7" fill="#b9babc" stroke="#3d3e40" stroke-width="0.7"/>
<circle cx="439.76" cy="73.74" r="1.7" fill="#b9babc" stroke="#3d3e40" stroke-width="0.7"/>
<circle cx="439.95" cy="77.70" r="1.7" fill="#b9babc" stroke="#3d3e40" stroke-width="0.7"/>
<circle cx="439.29" cy="77.29" r="1.7" fill="#b9babc" stroke="#3d3e40" stroke-width="0.7"/>
<circle cx="448.56" cy="72.69" r="1.7" fill="#b9babc" stroke="#3d3e40" stroke-width="0.7"/>
<circle cx="437.74" cy="82.30" r="1.7" fill="#b9babc" stroke="#3d3e40" stroke-width="0.7"/>
<circle cx="442.26" cy="75.35" r="1.7" fill="#b9babc" stroke="#3d3e40" stroke-width="0.7"/>
<circle cx="439.98" cy="80.24" r="1.7" fill="#b9babc" stroke="#3d3e40" stroke-width="0.7"/>
<circle cx="440.32" cy="83.14" r="1.7" fill="#b9babc" stroke="#3d3e40" stroke-width="0.7"/>
<circle cx="435.11" cy="78.26" r="1.7" fill="#b9babc" stroke="#3d3e40" stroke-width="0.7"/>
<circle cx="449.82" cy="69.22" r="1.7" fill="#b9babc" stroke="#3d3e40" stroke-width="0.7"/>
<circle cx="433.13" cy="80.62" r="1.7" fill="#b9babc" stroke="#3d3e40" stroke-width="0.7"/>
<circle cx="439.92" cy="78.99" r="1.7" fill="#b9babc" stroke="#3d3e40" stroke-width="0.7"/>
<circle cx="435.13" cy="84.63" r="1.7" fill="#b9babc" stroke="#3d3e40" stroke-width="0.7"/>
<circle cx="452.36" cy="65.79" r="1.7" fill="#b9babc" stroke="#3d3e40" stroke-width="0.7"/>
<circle cx="451.06" cy="64.11" r="1.7" fill="#b9babc" stroke="#3d3e40" stroke-width="0.7"/>
<circle cx="434.95" cy="85.38" r="1.7" fill="#b9babc" stroke="#3d3e40" stroke-width="0.7"/>
<circle cx="445.65" cy="76.76" r="1.7" fill="#b9babc" stroke="#3d3e40" stroke-width="0.7"/>
<circle cx="453.48" cy="63.42" r="1.7" fill="#b9babc" stroke="#3d3e40" stroke-width="0.7"/>
<circle cx="433.52" cy="83.10" r="1.7" fill="#b9babc" stroke="#3d3e40" stroke-width="0.7"/>
<circle cx="452.81" cy="60.27" r="1.7" fill="#b9babc" stroke="#3d3e40" stroke-width="0.7"/>
<circle cx="439.26" cy="81.70" r="1.7" fill="#b9babc" stroke="#3d3e40" stroke-width="0.7"/>
<circle cx="445.72" cy="68.95" r="1.7" fill="#b9babc" stroke="#3d3e40" stroke-width="0.7"/>
<circle cx="450.29" cy="68.55" r="1.7" fill="#b9babc" stroke="#3d3e40" stroke-width="0.7"/>
<circle cx="440.68" cy="79.90" r="1.7" fill="#b9babc" stroke="#3d3e40" stroke-width="0.7"/>
<circle cx="452.98" cy="65.28" r="1.7" fill="#b9babc" stroke="#3d3e40" stroke-width="0.7"/>
<circle cx="444.22" cy="71.48" r="1.7" fill="#b9babc" stroke="#3d3e40" stroke-width="0.7"/>
<circle cx="439.56" cy="78.46" r="1.7" fill="#b9babc" stroke="#3d3e40" stroke-width="0.7"/>
<circle cx="443.53" cy="69.92" r="1.7" fill="#b9babc" stroke="#3d3e40" stroke-width="0.7"/>
<circle cx="438.74" cy="84.26" r="1.7" fill="#b9babc" stroke="#3d3e40" stroke-width="0.7"/>
<circle cx="443.79" cy="74.59" r="1.7" fill="#b9babc" stroke="#3d3e40" stroke-width="0.7"/>
<circle cx="448.75" cy="68.19" r="1.7" fill="#b9babc" stroke="#3d3e40" stroke-width="0.7"/>
<circle cx="451.35" cy="66.94" r="1.7" fill="#b9babc" stroke="#3d3e40" stroke-width="0.7"/>
<circle cx="439.70" cy="75.68" r="1.7" fill="#b9babc" stroke="#3d3e40" stroke-width="0.7"/>
<circle cx="436.95" cy="77.32" r="1.7" fill="#b9babc" stroke="#3d3e40" stroke-width="0.7"/>
<circle cx="438.06" cy="76.72" r="1.7" fill="#b9babc" stroke="#3d3e40" stroke-width="0.7"/>
<circle cx="452.69" cy="62.87" r="1.7" fill="#b9babc" stroke="#3d3e40" stroke-width="0.7"/>
<circle cx="451.23" cy="65.44" r="1.7" fill="#b9babc" stroke="#3d3e40" stroke-width="0.7"/>
<circle cx="454.01" cy="63.99" r="1.7" fill="#b9babc" stroke="#3d3e40" stroke-width="0.7"/>
<circle cx="455.39" cy="61.96" r="1.7" fill="#b9babc" stroke="#3d3e40" stroke-width="0.7"/>
<circle cx="432.92" cy="86.63" r="1.7" fill="#b9babc" stroke="#3d3e40" stroke-width="0.7"/>
<circle cx="446.61" cy="67.20" r="1.7" fill="#b9babc" stroke="#3d3e40" stroke-width="0.7"/>
<circle cx="438.10" cy="79.17" r="1.7" fill="#b9babc" stroke="#3d3e40" stroke-width="0.7"/>
<circle cx="453.40" cy="70.04" r="1.7" fill="#b9babc" stroke="#3d3e40" stroke-width="0.7"/>
<circle cx="445.69" cy="67.86" r="1.7" fill="#b9babc" stroke="#3d3e40" stroke-width="0.7"/>
<line x1="427.70" y1="91.50" x2="442.20" y2="93.60" stroke="#6d6e71" stroke-width="0.5"/>
<line x1="427.60" y1="113.40" x2="433.20" y2="113.00" stroke="#6d6e71" stroke-width="0.5"/>
<rect x="372.9" y="70.3" width="3" height="3" fill="#ddd" stroke="#555" stroke-width="0.6"/>
<circle cx="385.80" cy="125.00" r="1.9" fill="#f0a33a" stroke="#8a5a1a" stroke-width="0.5"/>
<circle cx="382.30" cy="130.50" r="1.9" fill="#1a4a73"/>
<text stroke="#1c1a1b" stroke-width="0.2" x="392.80" y="128.00" font-size="8.6" textLength="16.90" lengthAdjust="spacingAndGlyphs">MYC</text>
<text stroke="#1c1a1b" stroke-width="0.2" x="388.50" y="139.80" font-size="8.6" textLength="32.80" lengthAdjust="spacingAndGlyphs">TRMT112</text>
<text stroke="#1c1a1b" stroke-width="0.2" x="443.50" y="98.60" font-size="8.6" textLength="24.30" lengthAdjust="spacingAndGlyphs">TRMT5</text>
<text stroke="#1c1a1b" stroke-width="0.2" x="435.70" y="117.60" font-size="8.6" textLength="18.30" lengthAdjust="spacingAndGlyphs">CTU2</text>
<text x="9.80" y="221.70" font-size="14" font-weight="bold" stroke="#111" stroke-width="0.35">C</text>
<line x1="41.60" y1="218.00" x2="41.60" y2="328.50" stroke="#1c1a1b" stroke-width="1.65"/>
<line x1="41.00" y1="322.40" x2="170.00" y2="322.40" stroke="#1c1a1b" stroke-width="1.65"/>
<line x1="37.80" y1="241.70" x2="41.60" y2="241.70" stroke="#1c1a1b" stroke-width="1.1"/>
<text stroke="#1c1a1b" stroke-width="0.2" x="24.40" y="244.50" font-size="8" textLength="9.70" lengthAdjust="spacingAndGlyphs">1.0</text>
<line x1="37.80" y1="281.75" x2="41.60" y2="281.75" stroke="#1c1a1b" stroke-width="1.1"/>
<text stroke="#1c1a1b" stroke-width="0.2" x="24.40" y="284.55" font-size="8" textLength="9.70" lengthAdjust="spacingAndGlyphs">0.5</text>
<line x1="37.80" y1="321.80" x2="41.60" y2="321.80" stroke="#1c1a1b" stroke-width="1.1"/>
<text stroke="#1c1a1b" stroke-width="0.2" x="24.40" y="324.60" font-size="8" textLength="9.70" lengthAdjust="spacingAndGlyphs">0.0</text>
<line x1="66.00" y1="322.40" x2="66.00" y2="326.30" stroke="#1c1a1b" stroke-width="1.1"/>
<text stroke="#1c1a1b" stroke-width="0.2" x="66.00" y="336.50" font-size="8.5" text-anchor="middle" textLength="14.56" lengthAdjust="spacingAndGlyphs">0.01</text>
<line x1="90.20" y1="322.40" x2="90.20" y2="326.30" stroke="#1c1a1b" stroke-width="1.1"/>
<text stroke="#1c1a1b" stroke-width="0.2" x="90.20" y="336.50" font-size="8.5" text-anchor="middle" textLength="10.40" lengthAdjust="spacingAndGlyphs">0.1</text>
<line x1="114.40" y1="322.40" x2="114.40" y2="326.30" stroke="#1c1a1b" stroke-width="1.1"/>
<text stroke="#1c1a1b" stroke-width="0.2" x="114.40" y="336.50" font-size="8.5" text-anchor="middle" textLength="4.16" lengthAdjust="spacingAndGlyphs">1</text>
<line x1="138.60" y1="322.40" x2="138.60" y2="326.30" stroke="#1c1a1b" stroke-width="1.1"/>
<text stroke="#1c1a1b" stroke-width="0.2" x="138.60" y="336.50" font-size="8.5" text-anchor="middle" textLength="8.32" lengthAdjust="spacingAndGlyphs">10</text>
<line x1="162.80" y1="322.40" x2="162.80" y2="326.30" stroke="#1c1a1b" stroke-width="1.1"/>
<text stroke="#1c1a1b" stroke-width="0.2" x="162.80" y="336.50" font-size="8.5" text-anchor="middle" textLength="12.48" lengthAdjust="spacingAndGlyphs">100</text>
<text stroke="#1c1a1b" stroke-width="0.2" x="76.60" y="352.30" font-size="10.3" textLength="76.10" lengthAdjust="spacingAndGlyphs">Cytarabin (AraC) [µM]</text>
<text stroke="#1c1a1b" stroke-width="0.2" transform="translate(17.20,278.60) rotate(-90)" font-size="10.0" text-anchor="middle" textLength="72.40" lengthAdjust="spacingAndGlyphs">Viability norm. to NT</text>
<path d="M41.70,241.71 L41.80,246.48 L42.28,246.66 L42.77,246.84 L43.25,247.03 L43.74,247.23 L44.22,247.43 L44.70,247.65 L45.19,247.86 L45.67,248.09 L46.16,248.32 L46.64,248.56 L47.12,248.81 L47.61,249.06 L48.09,249.33 L48.58,249.60 L49.06,249.88 L49.54,250.17 L50.03,250.47 L50.51,250.78 L51.00,251.09 L51.48,251.42 L51.96,251.75 L52.45,252.10 L52.93,252.45 L53.42,252.82 L53.90,253.19 L54.38,253.58 L54.87,253.98 L55.35,254.38 L55.84,254.80 L56.32,255.23 L56.80,255.67 L57.29,256.12 L57.77,256.58 L58.26,257.05 L58.74,257.53 L59.22,258.02 L59.71,258.53 L60.19,259.04 L60.68,259.57 L61.16,260.11 L61.64,260.66 L62.13,261.21 L62.61,261.78 L63.10,262.36 L63.58,262.95 L64.06,263.55 L64.55,264.16 L65.03,264.78 L65.52,265.41 L66.00,266.05 L66.48,266.69 L66.97,267.35 L67.45,268.01 L67.94,268.68 L68.42,269.35 L68.90,270.04 L69.39,270.73 L69.87,271.43 L70.36,272.13 L70.84,272.83 L71.32,273.55 L71.81,274.26 L72.29,274.98 L72.78,275.70 L73.26,276.43 L73.74,277.15 L74.23,277.88 L74.71,278.61 L75.20,279.34 L75.68,280.07 L76.16,280.80 L76.65,281.52 L77.13,282.25 L77.62,282.97 L78.10,283.69 L78.58,284.40 L79.07,285.11 L79.55,285.82 L80.04,286.52 L80.52,287.22 L81.00,287.91 L81.49,288.59 L81.97,289.27 L82.46,289.94 L82.94,290.60 L83.42,291.25 L83.91,291.90 L84.39,292.53 L84.88,293.16 L85.36,293.78 L85.84,294.39 L86.33,294.99 L86.81,295.58 L87.30,296.15 L87.78,296.72 L88.26,297.28 L88.75,297.83 L89.23,298.36 L89.72,298.89 L90.20,299.40 L90.68,299.91 L91.17,300.40 L91.65,300.88 L92.14,301.35 L92.62,301.81 L93.10,302.26 L93.59,302.70 L94.07,303.13 L94.56,303.54 L95.04,303.95 L95.52,304.34 L96.01,304.73 L96.49,305.10 L96.98,305.47 L97.46,305.82 L97.94,306.17 L98.43,306.50 L98.91,306.83 L99.40,307.14 L99.88,307.45 L100.36,307.75 L100.85,308.04 L101.33,308.32 L101.82,308.59 L102.30,308.85 L102.78,309.10 L103.27,309.35 L103.75,309.59 L104.24,309.82 L104.72,310.05 L105.20,310.26 L105.69,310.47 L106.17,310.68 L106.66,310.87 L107.14,311.06 L107.62,311.25 L108.11,311.43 L108.59,311.60 L109.08,311.76 L109.56,311.92 L110.04,312.08 L110.53,312.23 L111.01,312.37 L111.50,312.51 L111.98,312.65 L112.46,312.78 L112.95,312.90 L113.43,313.02 L113.92,313.14 L114.40,313.25 L114.88,313.36 L115.37,313.47 L115.85,313.57 L116.34,313.66 L116.82,313.76 L117.30,313.85 L117.79,313.94 L118.27,314.02 L118.76,314.10 L119.24,314.18 L119.72,314.25 L120.21,314.33 L120.69,314.40 L121.18,314.46 L121.66,314.53 L122.14,314.59 L122.63,314.65 L123.11,314.71 L123.60,314.77 L124.08,314.82 L124.56,314.87 L125.05,314.92 L125.53,314.97 L126.02,315.02 L126.50,315.06 L126.98,315.10 L127.47,315.14 L127.95,315.18 L128.44,315.22 L128.92,315.26 L129.40,315.29 L129.89,315.33 L130.37,315.36 L130.86,315.39 L131.34,315.42 L131.82,315.45 L132.31,315.48 L132.79,315.51 L133.28,315.53 L133.76,315.56 L134.24,315.58 L134.73,315.61 L135.21,315.63 L135.70,315.65 L136.18,315.67 L136.66,315.69 L137.15,315.71 L137.63,315.73 L138.12,315.75 L138.60,315.76 L139.08,315.78 L139.57,315.80 L140.05,315.81 L140.54,315.83 L141.02,315.84 L141.50,315.85 L141.99,315.87 L142.47,315.88 L142.96,315.89 L143.44,315.90 L143.92,315.91 L144.41,315.92 L144.89,315.93 L145.38,315.94 L145.86,315.95 L146.34,315.96 L146.83,315.97 L147.31,315.98 L147.80,315.99 L148.28,316.00 L148.76,316.00 L149.25,316.01 L149.73,316.02 L150.22,316.02 L150.70,316.03 L151.18,316.04 L151.67,316.04 L152.15,316.05 L152.64,316.05 L153.12,316.06 L153.60,316.06 L154.09,316.07 L154.57,316.07 L155.06,316.08 L155.54,316.08 L156.02,316.09 L156.51,316.09 L156.99,316.10" fill="none" stroke="#a6a8ab" stroke-width="0.9"/>
<path d="M41.70,241.70 L41.80,243.15 L42.28,243.23 L42.77,243.32 L43.25,243.42 L43.74,243.52 L44.22,243.63 L44.70,243.74 L45.19,243.86 L45.67,243.99 L46.16,244.13 L46.64,244.27 L47.12,244.42 L47.61,244.58 L48.09,244.75 L48.58,244.92 L49.06,245.11 L49.54,245.31 L50.03,245.52 L50.51,245.74 L51.00,245.97 L51.48,246.22 L51.96,246.47 L52.45,246.75 L52.93,247.03 L53.42,247.33 L53.90,247.65 L54.38,247.98 L54.87,248.33 L55.35,248.70 L55.84,249.08 L56.32,249.49 L56.80,249.91 L57.29,250.36 L57.77,250.82 L58.26,251.31 L58.74,251.82 L59.22,252.35 L59.71,252.91 L60.19,253.49 L60.68,254.10 L61.16,254.73 L61.64,255.38 L62.13,256.06 L62.61,256.77 L63.10,257.51 L63.58,258.27 L64.06,259.06 L64.55,259.87 L65.03,260.71 L65.52,261.58 L66.00,262.47 L66.48,263.39 L66.97,264.34 L67.45,265.31 L67.94,266.30 L68.42,267.32 L68.90,268.36 L69.39,269.41 L69.87,270.49 L70.36,271.59 L70.84,272.70 L71.32,273.83 L71.81,274.97 L72.29,276.12 L72.78,277.28 L73.26,278.45 L73.74,279.63 L74.23,280.80 L74.71,281.98 L75.20,283.16 L75.68,284.34 L76.16,285.51 L76.65,286.68 L77.13,287.84 L77.62,288.99 L78.10,290.12 L78.58,291.24 L79.07,292.35 L79.55,293.44 L80.04,294.51 L80.52,295.56 L81.00,296.59 L81.49,297.60 L81.97,298.58 L82.46,299.54 L82.94,300.47 L83.42,301.38 L83.91,302.27 L84.39,303.13 L84.88,303.96 L85.36,304.76 L85.84,305.54 L86.33,306.29 L86.81,307.01 L87.30,307.71 L87.78,308.38 L88.26,309.03 L88.75,309.65 L89.23,310.24 L89.72,310.81 L90.20,311.36 L90.68,311.88 L91.17,312.38 L91.65,312.86 L92.14,313.32 L92.62,313.76 L93.10,314.17 L93.59,314.57 L94.07,314.95 L94.56,315.31 L95.04,315.65 L95.52,315.98 L96.01,316.29 L96.49,316.58 L96.98,316.86 L97.46,317.13 L97.94,317.38 L98.43,317.62 L98.91,317.85 L99.40,318.07 L99.88,318.27 L100.36,318.46 L100.85,318.65 L101.33,318.82 L101.82,318.99 L102.30,319.14 L102.78,319.29 L103.27,319.43 L103.75,319.56 L104.24,319.68 L104.72,319.80 L105.20,319.91 L105.69,320.02 L106.17,320.12 L106.66,320.21 L107.14,320.30 L107.62,320.39 L108.11,320.47 L108.59,320.54 L109.08,320.61 L109.56,320.68 L110.04,320.74 L110.53,320.80 L111.01,320.86 L111.50,320.91 L111.98,320.96 L112.46,321.01 L112.95,321.06 L113.43,321.10 L113.92,321.14 L114.40,321.17 L114.88,321.21 L115.37,321.24 L115.85,321.28 L116.34,321.31 L116.82,321.33 L117.30,321.36 L117.79,321.39 L118.27,321.41 L118.76,321.43 L119.24,321.45 L119.72,321.47 L120.21,321.49 L120.69,321.51 L121.18,321.52 L121.66,321.54 L122.14,321.56 L122.63,321.57 L123.11,321.58 L123.60,321.59 L124.08,321.61 L124.56,321.62 L125.05,321.63 L125.53,321.64 L126.02,321.65 L126.50,321.66 L126.98,321.66 L127.47,321.67 L127.95,321.68 L128.44,321.69 L128.92,321.69 L129.40,321.70 L129.89,321.70 L130.37,321.71 L130.86,321.72" fill="none" stroke="#5b7c9d" stroke-width="0.9"/>
<path d="M41.70,241.71 L41.80,247.10 L42.28,247.33 L42.77,247.56 L43.25,247.80 L43.74,248.05 L44.22,248.31 L44.70,248.58 L45.19,248.86 L45.67,249.14 L46.16,249.44 L46.64,249.75 L47.12,250.07 L47.61,250.40 L48.09,250.75 L48.58,251.10 L49.06,251.47 L49.54,251.84 L50.03,252.23 L50.51,252.64 L51.00,253.05 L51.48,253.48 L51.96,253.92 L52.45,254.38 L52.93,254.84 L53.42,255.32 L53.90,255.82 L54.38,256.33 L54.87,256.85 L55.35,257.39 L55.84,257.94 L56.32,258.50 L56.80,259.08 L57.29,259.67 L57.77,260.28 L58.26,260.90 L58.74,261.53 L59.22,262.17 L59.71,262.83 L60.19,263.50 L60.68,264.19 L61.16,264.88 L61.64,265.59 L62.13,266.31 L62.61,267.04 L63.10,267.78 L63.58,268.53 L64.06,269.29 L64.55,270.06 L65.03,270.84 L65.52,271.62 L66.00,272.42 L66.48,273.21 L66.97,274.02 L67.45,274.83 L67.94,275.64 L68.42,276.46 L68.90,277.28 L69.39,278.10 L69.87,278.92 L70.36,279.75 L70.84,280.57 L71.32,281.39 L71.81,282.21 L72.29,283.03 L72.78,283.84 L73.26,284.65 L73.74,285.46 L74.23,286.26 L74.71,287.05 L75.20,287.83 L75.68,288.61 L76.16,289.38 L76.65,290.14 L77.13,290.89 L77.62,291.63 L78.10,292.36 L78.58,293.08 L79.07,293.79 L79.55,294.49 L80.04,295.17 L80.52,295.84 L81.00,296.50 L81.49,297.15 L81.97,297.78 L82.46,298.40 L82.94,299.01 L83.42,299.60 L83.91,300.18 L84.39,300.74 L84.88,301.29 L85.36,301.83 L85.84,302.35 L86.33,302.86 L86.81,303.36 L87.30,303.84 L87.78,304.31 L88.26,304.76 L88.75,305.20 L89.23,305.63 L89.72,306.05 L90.20,306.45 L90.68,306.84 L91.17,307.22 L91.65,307.59 L92.14,307.94 L92.62,308.28 L93.10,308.61 L93.59,308.93 L94.07,309.24 L94.56,309.54 L95.04,309.83 L95.52,310.11 L96.01,310.38 L96.49,310.64 L96.98,310.89 L97.46,311.13 L97.94,311.36 L98.43,311.58 L98.91,311.80 L99.40,312.01 L99.88,312.21 L100.36,312.40 L100.85,312.59 L101.33,312.76 L101.82,312.93 L102.30,313.10 L102.78,313.26 L103.27,313.41 L103.75,313.56 L104.24,313.70 L104.72,313.83 L105.20,313.96 L105.69,314.09 L106.17,314.21 L106.66,314.32 L107.14,314.43 L107.62,314.54 L108.11,314.64 L108.59,314.74 L109.08,314.83 L109.56,314.92 L110.04,315.01 L110.53,315.09 L111.01,315.17 L111.50,315.25 L111.98,315.32 L112.46,315.39 L112.95,315.46 L113.43,315.52 L113.92,315.58 L114.40,315.64 L114.88,315.70 L115.37,315.75 L115.85,315.81 L116.34,315.86 L116.82,315.90 L117.30,315.95 L117.79,315.99 L118.27,316.04 L118.76,316.08 L119.24,316.12 L119.72,316.15 L120.21,316.19 L120.69,316.22 L121.18,316.26 L121.66,316.29 L122.14,316.32 L122.63,316.35 L123.11,316.37 L123.60,316.40 L124.08,316.42 L124.56,316.45 L125.05,316.47 L125.53,316.49 L126.02,316.52 L126.50,316.54 L126.98,316.56 L127.47,316.57 L127.95,316.59 L128.44,316.61 L128.92,316.63 L129.40,316.64 L129.89,316.66 L130.37,316.67 L130.86,316.68" fill="none" stroke="#1d4a77" stroke-width="0.9"/>
<path d="M66.00,236.23 L66.48,236.24 L66.97,236.24 L67.45,236.25 L67.94,236.26 L68.42,236.27 L68.90,236.28 L69.39,236.28 L69.87,236.29 L70.36,236.30 L70.84,236.31 L71.32,236.33 L71.81,236.34 L72.29,236.35 L72.78,236.36 L73.26,236.38 L73.74,236.39 L74.23,236.40 L74.71,236.42 L75.20,236.44 L75.68,236.45 L76.16,236.47 L76.65,236.49 L77.13,236.51 L77.62,236.53 L78.10,236.55 L78.58,236.57 L79.07,236.60 L79.55,236.62 L80.04,236.65 L80.52,236.67 L81.00,236.70 L81.49,236.73 L81.97,236.76 L82.46,236.80 L82.94,236.83 L83.42,236.87 L83.91,236.91 L84.39,236.95 L84.88,236.99 L85.36,237.03 L85.84,237.08 L86.33,237.13 L86.81,237.18 L87.30,237.23 L87.78,237.28 L88.26,237.34 L88.75,237.40 L89.23,237.47 L89.72,237.53 L90.20,237.60 L90.68,237.68 L91.17,237.75 L91.65,237.84 L92.14,237.92 L92.62,238.01 L93.10,238.10 L93.59,238.20 L94.07,238.30 L94.56,238.41 L95.04,238.52 L95.52,238.63 L96.01,238.76 L96.49,238.88 L96.98,239.02 L97.46,239.16 L97.94,239.30 L98.43,239.46 L98.91,239.62 L99.40,239.78 L99.88,239.96 L100.36,240.14 L100.85,240.33 L101.33,240.53 L101.82,240.74 L102.30,240.95 L102.78,241.18 L103.27,241.42 L103.75,241.66 L104.24,241.92 L104.72,242.19 L105.20,242.47 L105.69,242.76 L106.17,243.06 L106.66,243.38 L107.14,243.71 L107.62,244.05 L108.11,244.41 L108.59,244.78 L109.08,245.16 L109.56,245.56 L110.04,245.98 L110.53,246.41 L111.01,246.85 L111.50,247.32 L111.98,247.80 L112.46,248.29 L112.95,248.81 L113.43,249.34 L113.92,249.89 L114.40,250.46 L114.88,251.05 L115.37,251.66 L115.85,252.28 L116.34,252.93 L116.82,253.59 L117.30,254.27 L117.79,254.97 L118.27,255.70 L118.76,256.44 L119.24,257.20 L119.72,257.98 L120.21,258.77 L120.69,259.59 L121.18,260.42 L121.66,261.27 L122.14,262.14 L122.63,263.03 L123.11,263.93 L123.60,264.84 L124.08,265.77 L124.56,266.72 L125.05,267.68 L125.53,268.65 L126.02,269.63 L126.50,270.62 L126.98,271.62 L127.47,272.63 L127.95,273.65 L128.44,274.67 L128.92,275.70 L129.40,276.73 L129.89,277.77 L130.37,278.80 L130.86,279.84 L131.34,280.87 L131.82,281.91 L132.31,282.94 L132.79,283.96 L133.28,284.98 L133.76,285.99 L134.24,287.00 L134.73,287.99 L135.21,288.98 L135.70,289.95 L136.18,290.91 L136.66,291.86 L137.15,292.79 L137.63,293.71 L138.12,294.62 L138.60,295.51 L139.08,296.38 L139.57,297.24 L140.05,298.08 L140.54,298.90 L141.02,299.70 L141.50,300.48 L141.99,301.25 L142.47,301.99 L142.96,302.72 L143.44,303.43 L143.92,304.12 L144.41,304.79 L144.89,305.44 L145.38,306.07 L145.86,306.68 L146.34,307.27 L146.83,307.85 L147.31,308.40 L147.80,308.94 L148.28,309.46 L148.76,309.96 L149.25,310.44 L149.73,310.91 L150.22,311.36 L150.70,311.80 L151.18,312.22 L151.67,312.62 L152.15,313.01 L152.64,313.39 L153.12,313.75 L153.60,314.09 L154.09,314.42 L154.57,314.74 L155.06,315.05 L155.54,315.34 L156.02,315.63 L156.51,315.90 L156.99,316.16 L157.48,316.41 L157.96,316.65 L158.44,316.88 L158.93,317.10 L159.41,317.31 L159.90,317.51 L160.38,317.70 L160.86,317.89 L161.35,318.06 L161.83,318.23 L162.32,318.39 L162.80,318.55 L163.28,318.70 L163.77,318.84 L164.25,318.97 L164.74,319.10 L165.22,319.23 L165.70,319.34 L166.19,319.46 L166.67,319.56" fill="none" stroke="#cc5a72" stroke-width="1.0"/>
<path d="M92.55,236.40 L93.03,236.41 L93.51,236.43 L94.00,236.45 L94.48,236.46 L94.97,236.48 L95.45,236.50 L95.93,236.53 L96.42,236.55 L96.90,236.57 L97.39,236.60 L97.87,236.62 L98.35,236.65 L98.84,236.68 L99.32,236.71 L99.81,236.74 L100.29,236.77 L100.77,236.81 L101.26,236.84 L101.74,236.88 L102.23,236.92 L102.71,236.97 L103.19,237.01 L103.68,237.06 L104.16,237.11 L104.65,237.16 L105.13,237.21 L105.61,237.27 L106.10,237.33 L106.58,237.39 L107.07,237.46 L107.55,237.53 L108.03,237.60 L108.52,237.68 L109.00,237.76 L109.49,237.84 L109.97,237.93 L110.45,238.02 L110.94,238.12 L111.42,238.22 L111.91,238.33 L112.39,238.44 L112.87,238.56 L113.36,238.68 L113.84,238.81 L114.33,238.95 L114.81,239.09 L115.29,239.24 L115.78,239.39 L116.26,239.55 L116.75,239.72 L117.23,239.90 L117.71,240.09 L118.20,240.28 L118.68,240.49 L119.17,240.70 L119.65,240.92 L120.13,241.15 L120.62,241.39 L121.10,241.65 L121.59,241.91 L122.07,242.18 L122.55,242.47 L123.04,242.77 L123.52,243.08 L124.01,243.40 L124.49,243.73 L124.97,244.08 L125.46,244.44 L125.94,244.82 L126.43,245.21 L126.91,245.62 L127.39,246.04 L127.88,246.47 L128.36,246.92 L128.85,247.39 L129.33,247.87 L129.81,248.37 L130.30,248.88 L130.78,249.41 L131.27,249.96 L131.75,250.52 L132.23,251.10 L132.72,251.69 L133.20,252.30 L133.69,252.93 L134.17,253.57 L134.65,254.23 L135.14,254.90 L135.62,255.59 L136.11,256.29 L136.59,257.00 L137.07,257.73 L137.56,258.47 L138.04,259.23 L138.53,259.99 L139.01,260.77 L139.49,261.55 L139.98,262.35 L140.46,263.15 L140.95,263.96 L141.43,264.77 L141.91,265.59 L142.40,266.42 L142.88,267.25 L143.37,268.08 L143.85,268.91 L144.33,269.74 L144.82,270.57 L145.30,271.40 L145.79,272.23 L146.27,273.05 L146.75,273.86 L147.24,274.67 L147.72,275.48 L148.21,276.27 L148.69,277.06 L149.17,277.83 L149.66,278.60 L150.14,279.35 L150.63,280.09 L151.11,280.82 L151.59,281.54 L152.08,282.24 L152.56,282.93 L153.05,283.60 L153.53,284.26 L154.01,284.90 L154.50,285.53 L154.98,286.14 L155.47,286.74 L155.95,287.32 L156.43,287.88 L156.92,288.43 L157.40,288.96 L157.89,289.47 L158.37,289.97 L158.85,290.45 L159.34,290.92 L159.82,291.37 L160.31,291.81 L160.79,292.23 L161.27,292.63 L161.76,293.03 L162.24,293.40 L162.73,293.77 L163.21,294.12 L163.69,294.45 L164.18,294.77 L164.66,295.09 L165.15,295.38 L165.63,295.67 L166.11,295.94 L166.60,296.21" fill="none" stroke="#b3163a" stroke-width="1.0"/>
<circle cx="41.70" cy="241.50" r="2.3" fill="#a6a8ab" stroke="#7e8083" stroke-width="0.6"/>
<line x1="41.70" y1="232.80" x2="41.70" y2="250.80" stroke="#5b7c9d" stroke-width="0.7"/>
<line x1="40.20" y1="232.80" x2="43.20" y2="232.80" stroke="#5b7c9d" stroke-width="0.7"/>
<line x1="40.20" y1="250.80" x2="43.20" y2="250.80" stroke="#5b7c9d" stroke-width="0.7"/>
<circle cx="41.70" cy="241.80" r="2.3" fill="#5b7c9d" stroke="#3e5874" stroke-width="0.6"/>
<line x1="65.80" y1="259.50" x2="65.80" y2="265.50" stroke="#5b7c9d" stroke-width="0.7"/>
<line x1="64.30" y1="259.50" x2="67.30" y2="259.50" stroke="#5b7c9d" stroke-width="0.7"/>
<line x1="64.30" y1="265.50" x2="67.30" y2="265.50" stroke="#5b7c9d" stroke-width="0.7"/>
<circle cx="65.80" cy="262.50" r="2.3" fill="#5b7c9d" stroke="#3e5874" stroke-width="0.6"/>
<circle cx="65.80" cy="267.50" r="2.3" fill="#a6a8ab" stroke="#7e8083" stroke-width="0.6"/>
<circle cx="65.80" cy="272.00" r="2.3" fill="#1d4a77" stroke="#10304f" stroke-width="0.6"/>
<circle cx="83.80" cy="285.80" r="2.3" fill="#a6a8ab" stroke="#7e8083" stroke-width="0.6"/>
<line x1="83.80" y1="292.30" x2="83.80" y2="300.30" stroke="#5b7c9d" stroke-width="0.7"/>
<line x1="82.30" y1="292.30" x2="85.30" y2="292.30" stroke="#5b7c9d" stroke-width="0.7"/>
<line x1="82.30" y1="300.30" x2="85.30" y2="300.30" stroke="#5b7c9d" stroke-width="0.7"/>
<circle cx="83.80" cy="296.30" r="2.3" fill="#5b7c9d" stroke="#3e5874" stroke-width="0.6"/>
<circle cx="83.80" cy="299.50" r="2.3" fill="#1d4a77" stroke="#10304f" stroke-width="0.6"/>
<circle cx="90.80" cy="297.50" r="2.3" fill="#a6a8ab" stroke="#7e8083" stroke-width="0.6"/>
<circle cx="90.80" cy="306.30" r="2.3" fill="#1d4a77" stroke="#10304f" stroke-width="0.6"/>
<circle cx="90.80" cy="311.30" r="2.3" fill="#5b7c9d" stroke="#3e5874" stroke-width="0.6"/>
<circle cx="100.00" cy="310.00" r="2.3" fill="#1d4a77" stroke="#10304f" stroke-width="0.6"/>
<circle cx="100.00" cy="316.00" r="2.3" fill="#5b7c9d" stroke="#3e5874" stroke-width="0.6"/>
<circle cx="107.50" cy="315.00" r="2.3" fill="#a6a8ab" stroke="#7e8083" stroke-width="0.6"/>
<circle cx="107.50" cy="322.30" r="2.3" fill="#5b7c9d" stroke="#3e5874" stroke-width="0.6"/>
<circle cx="114.50" cy="316.30" r="2.3" fill="#1d4a77" stroke="#10304f" stroke-width="0.6"/>
<circle cx="114.50" cy="322.30" r="2.3" fill="#5b7c9d" stroke="#3e5874" stroke-width="0.6"/>
<circle cx="123.80" cy="316.00" r="2.3" fill="#a6a8ab" stroke="#7e8083" stroke-width="0.6"/>
<circle cx="123.80" cy="316.50" r="2.3" fill="#1d4a77" stroke="#10304f" stroke-width="0.6"/>
<circle cx="131.30" cy="322.30" r="2.3" fill="#5b7c9d" stroke="#3e5874" stroke-width="0.6"/>
<circle cx="131.30" cy="316.20" r="2.3" fill="#a6a8ab" stroke="#7e8083" stroke-width="0.6"/>
<circle cx="138.80" cy="316.00" r="2.3" fill="#a6a8ab" stroke="#7e8083" stroke-width="0.6"/>
<circle cx="155.00" cy="316.00" r="2.3" fill="#a6a8ab" stroke="#7e8083" stroke-width="0.6"/>
<circle cx="65.80" cy="242.00" r="2.3" fill="#cc5a72" stroke="#a83c55" stroke-width="0.6"/>
<line x1="92.50" y1="233.30" x2="92.50" y2="239.30" stroke="#b3163a" stroke-width="0.7"/>
<line x1="91.00" y1="233.30" x2="94.00" y2="233.30" stroke="#b3163a" stroke-width="0.7"/>
<line x1="91.00" y1="239.30" x2="94.00" y2="239.30" stroke="#b3163a" stroke-width="0.7"/>
<circle cx="92.50" cy="236.30" r="2.3" fill="#b3163a" stroke="#85102a" stroke-width="0.6"/>
<circle cx="92.50" cy="239.00" r="2.3" fill="#cc5a72" stroke="#a83c55" stroke-width="0.6"/>
<line x1="100.00" y1="228.80" x2="100.00" y2="248.80" stroke="#cc5a72" stroke-width="0.7"/>
<line x1="98.50" y1="228.80" x2="101.50" y2="228.80" stroke="#cc5a72" stroke-width="0.7"/>
<line x1="98.50" y1="248.80" x2="101.50" y2="248.80" stroke="#cc5a72" stroke-width="0.7"/>
<circle cx="100.00" cy="238.80" r="2.3" fill="#cc5a72" stroke="#a83c55" stroke-width="0.6"/>
<line x1="100.00" y1="233.50" x2="100.00" y2="239.50" stroke="#b3163a" stroke-width="0.7"/>
<line x1="98.50" y1="233.50" x2="101.50" y2="233.50" stroke="#b3163a" stroke-width="0.7"/>
<line x1="98.50" y1="239.50" x2="101.50" y2="239.50" stroke="#b3163a" stroke-width="0.7"/>
<circle cx="100.00" cy="236.50" r="2.3" fill="#b3163a" stroke="#85102a" stroke-width="0.6"/>
<line x1="107.50" y1="233.00" x2="107.50" y2="243.00" stroke="#b3163a" stroke-width="0.7"/>
<line x1="106.00" y1="233.00" x2="109.00" y2="233.00" stroke="#b3163a" stroke-width="0.7"/>
<line x1="106.00" y1="243.00" x2="109.00" y2="243.00" stroke="#b3163a" stroke-width="0.7"/>
<circle cx="107.50" cy="238.00" r="2.3" fill="#b3163a" stroke="#85102a" stroke-width="0.6"/>
<circle cx="107.50" cy="241.20" r="2.3" fill="#cc5a72" stroke="#a83c55" stroke-width="0.6"/>
<line x1="114.50" y1="234.00" x2="114.50" y2="240.00" stroke="#b3163a" stroke-width="0.7"/>
<line x1="113.00" y1="234.00" x2="116.00" y2="234.00" stroke="#b3163a" stroke-width="0.7"/>
<line x1="113.00" y1="240.00" x2="116.00" y2="240.00" stroke="#b3163a" stroke-width="0.7"/>
<circle cx="114.50" cy="237.00" r="2.3" fill="#b3163a" stroke="#85102a" stroke-width="0.6"/>
<line x1="121.30" y1="237.00" x2="121.30" y2="243.00" stroke="#b3163a" stroke-width="0.7"/>
<line x1="119.80" y1="237.00" x2="122.80" y2="237.00" stroke="#b3163a" stroke-width="0.7"/>
<line x1="119.80" y1="243.00" x2="122.80" y2="243.00" stroke="#b3163a" stroke-width="0.7"/>
<circle cx="121.30" cy="240.00" r="2.3" fill="#b3163a" stroke="#85102a" stroke-width="0.6"/>
<circle cx="112.50" cy="247.50" r="2.3" fill="#cc5a72" stroke="#a83c55" stroke-width="0.6"/>
<circle cx="121.30" cy="262.50" r="2.3" fill="#cc5a72" stroke="#a83c55" stroke-width="0.6"/>
<circle cx="128.80" cy="275.00" r="2.3" fill="#cc5a72" stroke="#a83c55" stroke-width="0.6"/>
<circle cx="136.30" cy="288.80" r="2.3" fill="#cc5a72" stroke="#a83c55" stroke-width="0.6"/>
<circle cx="143.80" cy="300.80" r="2.3" fill="#cc5a72" stroke="#a83c55" stroke-width="0.6"/>
<circle cx="150.00" cy="308.80" r="2.3" fill="#cc5a72" stroke="#a83c55" stroke-width="0.6"/>
<circle cx="156.30" cy="313.80" r="2.3" fill="#cc5a72" stroke="#a83c55" stroke-width="0.6"/>
<circle cx="163.80" cy="317.50" r="2.3" fill="#cc5a72" stroke="#a83c55" stroke-width="0.6"/>
<circle cx="128.80" cy="246.30" r="2.3" fill="#b3163a" stroke="#85102a" stroke-width="0.6"/>
<line x1="136.30" y1="257.00" x2="136.30" y2="263.00" stroke="#b3163a" stroke-width="0.7"/>
<line x1="134.80" y1="257.00" x2="137.80" y2="257.00" stroke="#b3163a" stroke-width="0.7"/>
<line x1="134.80" y1="263.00" x2="137.80" y2="263.00" stroke="#b3163a" stroke-width="0.7"/>
<circle cx="136.30" cy="260.00" r="2.3" fill="#b3163a" stroke="#85102a" stroke-width="0.6"/>
<line x1="143.80" y1="264.30" x2="143.80" y2="273.30" stroke="#b3163a" stroke-width="0.7"/>
<line x1="142.30" y1="264.30" x2="145.30" y2="264.30" stroke="#b3163a" stroke-width="0.7"/>
<line x1="142.30" y1="273.30" x2="145.30" y2="273.30" stroke="#b3163a" stroke-width="0.7"/>
<circle cx="143.80" cy="268.80" r="2.3" fill="#b3163a" stroke="#85102a" stroke-width="0.6"/>
<line x1="151.30" y1="279.30" x2="151.30" y2="283.30" stroke="#b3163a" stroke-width="0.7"/>
<line x1="149.80" y1="279.30" x2="152.80" y2="279.30" stroke="#b3163a" stroke-width="0.7"/>
<line x1="149.80" y1="283.30" x2="152.80" y2="283.30" stroke="#b3163a" stroke-width="0.7"/>
<circle cx="151.30" cy="281.30" r="2.3" fill="#b3163a" stroke="#85102a" stroke-width="0.6"/>
<line x1="157.50" y1="288.00" x2="157.50" y2="292.00" stroke="#b3163a" stroke-width="0.7"/>
<line x1="156.00" y1="288.00" x2="159.00" y2="288.00" stroke="#b3163a" stroke-width="0.7"/>
<line x1="156.00" y1="292.00" x2="159.00" y2="292.00" stroke="#b3163a" stroke-width="0.7"/>
<circle cx="157.50" cy="290.00" r="2.3" fill="#b3163a" stroke="#85102a" stroke-width="0.6"/>
<circle cx="165.00" cy="293.30" r="2.3" fill="#b3163a" stroke="#85102a" stroke-width="0.6"/>
<text stroke="#cc5a72" stroke-width="0.2" x="50.50" y="229.00" font-size="8" fill="#cc5a72" textLength="37.00" lengthAdjust="spacingAndGlyphs">IC<tspan font-size="5" dy="1.6">50</tspan><tspan dy="-1.6"> = 4.69</tspan></text>
<text stroke="#b3163a" stroke-width="0.2" x="126.30" y="229.00" font-size="8" fill="#b3163a" textLength="40.00" lengthAdjust="spacingAndGlyphs">IC<tspan font-size="5" dy="1.6">50</tspan><tspan dy="-1.6"> = 17.37</tspan></text>
<text stroke="#b5b7ba" stroke-width="0.2" x="77.50" y="270.30" font-size="8" fill="#b5b7ba" textLength="36.30" lengthAdjust="spacingAndGlyphs">IC<tspan font-size="5" dy="1.6">50</tspan><tspan dy="-1.6"> = 0.03</tspan></text>
<text stroke="#5b7c9d" stroke-width="0.2" x="87.00" y="285.30" font-size="8" fill="#5b7c9d" textLength="35.50" lengthAdjust="spacingAndGlyphs">IC<tspan font-size="5" dy="1.6">50</tspan><tspan dy="-1.6"> = 0.02</tspan></text>
<text stroke="#3f6a94" stroke-width="0.2" x="45.00" y="319.00" font-size="8" fill="#3f6a94" textLength="36.30" lengthAdjust="spacingAndGlyphs">IC<tspan font-size="5" dy="1.6">50</tspan><tspan dy="-1.6"> = 0.01</tspan></text>
<line x1="177.40" y1="246.20" x2="189.30" y2="246.20" stroke="#cc5a72" stroke-width="0.8"/>
<circle cx="183.40" cy="246.20" r="2.6" fill="#cc5a72" stroke="#a83c55" stroke-width="0.6"/>
<text stroke="#1c1a1b" stroke-width="0.2" x="192.70" y="249.20" font-size="8.5" textLength="35.80" lengthAdjust="spacingAndGlyphs">OCI-AML2</text>
<line x1="177.40" y1="260.30" x2="189.30" y2="260.30" stroke="#b3163a" stroke-width="0.8"/>
<circle cx="183.40" cy="260.30" r="2.6" fill="#b3163a" stroke="#85102a" stroke-width="0.6"/>
<text stroke="#1c1a1b" stroke-width="0.2" x="192.70" y="263.30" font-size="8.5" textLength="35.80" lengthAdjust="spacingAndGlyphs">OCI-AML3</text>
<line x1="177.40" y1="275.50" x2="189.30" y2="275.50" stroke="#a6a8ab" stroke-width="0.8"/>
<circle cx="183.40" cy="275.50" r="2.6" fill="#a6a8ab" stroke="#7e8083" stroke-width="0.6"/>
<text stroke="#1c1a1b" stroke-width="0.2" x="192.70" y="278.50" font-size="8.5" textLength="31.00" lengthAdjust="spacingAndGlyphs">Kasumi-1</text>
<line x1="177.40" y1="289.90" x2="189.30" y2="289.90" stroke="#1d4a77" stroke-width="0.8"/>
<circle cx="183.40" cy="289.90" r="2.6" fill="#1d4a77" stroke="#10304f" stroke-width="0.6"/>
<text stroke="#1c1a1b" stroke-width="0.2" x="192.70" y="292.90" font-size="8.5" textLength="18.10" lengthAdjust="spacingAndGlyphs">U937</text>
<line x1="177.40" y1="304.20" x2="189.30" y2="304.20" stroke="#5b7c9d" stroke-width="0.8"/>
<circle cx="183.40" cy="304.20" r="2.6" fill="#5b7c9d" stroke="#3e5874" stroke-width="0.6"/>
<text stroke="#1c1a1b" stroke-width="0.2" x="192.70" y="307.20" font-size="8.5" textLength="32.30" lengthAdjust="spacingAndGlyphs">MOLM13</text>
<text x="261.20" y="221.80" font-size="14" font-weight="bold" stroke="#111" stroke-width="0.35">D</text>
<circle cx="291.3" cy="215.5" r="3.9" fill="none" stroke="#3a3a3a" stroke-width="0.85"/>
<circle cx="291.3" cy="215.5" r="3.0" fill="none" stroke="#d9534f" stroke-width="0.6" opacity="0.7"/>
<circle cx="283.4" cy="221.8" r="3.9" fill="none" stroke="#3a3a3a" stroke-width="0.85"/>
<circle cx="283.4" cy="221.8" r="3.0" fill="none" stroke="#3aa655" stroke-width="0.6" opacity="0.7"/>
<circle cx="299.6" cy="220.1" r="3.9" fill="none" stroke="#3a3a3a" stroke-width="0.85"/>
<circle cx="299.6" cy="220.1" r="3.0" fill="none" stroke="#f0a030" stroke-width="0.6" opacity="0.7"/>
<circle cx="291.5" cy="227.5" r="3.9" fill="none" stroke="#3a3a3a" stroke-width="0.85"/>
<circle cx="291.5" cy="227.5" r="3.0" fill="none" stroke="#6a6a8a" stroke-width="0.6" opacity="0.7"/>
<path d="M301.5,212.0 C304,205 314,204.5 317.4,216.5" fill="none" stroke="#231f20" stroke-width="0.9"/>
<path d="M317.6,221.0 L314.9,215.6 L320.0,215.4 Z" fill="#231f20"/>
<text stroke="#1c1a1b" stroke-width="0.2" x="322.70" y="213.20" font-size="8.4" textLength="27.00" lengthAdjust="spacingAndGlyphs">sgRNAs</text>
<path d="M302.60,231.90 L302.60,236.10 A18.4,7.2 0 0 0 339.40,236.10 L339.40,231.90" fill="#f7f7f7" stroke="#c9c9cb" stroke-width="0.8"/>
<ellipse cx="321.00" cy="231.90" rx="18.4" ry="7.2" fill="#fbfbfb" stroke="#c9c9cb" stroke-width="0.8"/>
<ellipse cx="321.00" cy="233.10" rx="16.2" ry="5.6" fill="none" stroke="#dcdcdc" stroke-width="0.5"/>
<path d="M314.81,229.92 L315.60,228.64 L317.16,228.64 L317.95,229.92 L317.16,231.20 L315.60,231.20 Z" fill="#5a70c8" stroke="#26358c" stroke-width="0.6"/>
<path d="M317.56,229.92 L318.35,228.64 L319.92,228.64 L320.70,229.92 L319.92,231.20 L318.35,231.20 Z" fill="#6479cc" stroke="#26358c" stroke-width="0.6"/>
<path d="M320.32,229.92 L321.10,228.64 L322.67,228.64 L323.45,229.92 L322.67,231.20 L321.10,231.20 Z" fill="#6479cc" stroke="#26358c" stroke-width="0.6"/>
<path d="M323.07,229.92 L323.85,228.64 L325.42,228.64 L326.20,229.92 L325.42,231.20 L323.85,231.20 Z" fill="#5a70c8" stroke="#26358c" stroke-width="0.6"/>
<path d="M325.82,229.92 L326.60,228.64 L328.17,228.64 L328.96,229.92 L328.17,231.20 L326.60,231.20 Z" fill="#5a70c8" stroke="#26358c" stroke-width="0.6"/>
<path d="M328.57,229.92 L329.36,228.64 L330.92,228.64 L331.71,229.92 L330.92,231.20 L329.36,231.20 Z" fill="#6479cc" stroke="#26358c" stroke-width="0.6"/>
<path d="M331.32,229.92 L332.11,228.64 L333.68,228.64 L334.46,229.92 L333.68,231.20 L332.11,231.20 Z" fill="#6479cc" stroke="#26358c" stroke-width="0.6"/>
<path d="M310.68,231.84 L311.47,230.56 L313.04,230.56 L313.82,231.84 L313.04,233.12 L311.47,233.12 Z" fill="#6479cc" stroke="#26358c" stroke-width="0.6"/>
<path d="M313.44,231.84 L314.22,230.56 L315.79,230.56 L316.57,231.84 L315.79,233.12 L314.22,233.12 Z" fill="#5268c2" stroke="#26358c" stroke-width="0.6"/>
<path d="M316.19,231.84 L316.97,230.56 L318.54,230.56 L319.32,231.84 L318.54,233.12 L316.97,233.12 Z" fill="#5a70c8" stroke="#26358c" stroke-width="0.6"/>
<path d="M318.94,231.84 L319.72,230.56 L321.29,230.56 L322.08,231.84 L321.29,233.12 L319.72,233.12 Z" fill="#5a70c8" stroke="#26358c" stroke-width="0.6"/>
<path d="M321.69,231.84 L322.48,230.56 L324.04,230.56 L324.83,231.84 L324.04,233.12 L322.48,233.12 Z" fill="#5268c2" stroke="#26358c" stroke-width="0.6"/>
<path d="M324.44,231.84 L325.23,230.56 L326.80,230.56 L327.58,231.84 L326.80,233.12 L325.23,233.12 Z" fill="#5a70c8" stroke="#26358c" stroke-width="0.6"/>
<path d="M327.20,231.84 L327.98,230.56 L329.55,230.56 L330.33,231.84 L329.55,233.12 L327.98,233.12 Z" fill="#6479cc" stroke="#26358c" stroke-width="0.6"/>
<path d="M329.95,231.84 L330.73,230.56 L332.30,230.56 L333.08,231.84 L332.30,233.12 L330.73,233.12 Z" fill="#5268c2" stroke="#26358c" stroke-width="0.6"/>
<path d="M309.31,233.76 L310.09,232.48 L311.66,232.48 L312.44,233.76 L311.66,235.04 L310.09,235.04 Z" fill="#5268c2" stroke="#26358c" stroke-width="0.6"/>
<path d="M312.06,233.76 L312.84,232.48 L314.41,232.48 L315.20,233.76 L314.41,235.04 L312.84,235.04 Z" fill="#5268c2" stroke="#26358c" stroke-width="0.6"/>
<path d="M314.81,233.76 L315.60,232.48 L317.16,232.48 L317.95,233.76 L317.16,235.04 L315.60,235.04 Z" fill="#5a70c8" stroke="#26358c" stroke-width="0.6"/>
<path d="M317.56,233.76 L318.35,232.48 L319.92,232.48 L320.70,233.76 L319.92,235.04 L318.35,235.04 Z" fill="#5a70c8" stroke="#26358c" stroke-width="0.6"/>
<path d="M320.32,233.76 L321.10,232.48 L322.67,232.48 L323.45,233.76 L322.67,235.04 L321.10,235.04 Z" fill="#5a70c8" stroke="#26358c" stroke-width="0.6"/>
<path d="M323.07,233.76 L323.85,232.48 L325.42,232.48 L326.20,233.76 L325.42,235.04 L323.85,235.04 Z" fill="#6479cc" stroke="#26358c" stroke-width="0.6"/>
<path d="M325.82,233.76 L326.60,232.48 L328.17,232.48 L328.96,233.76 L328.17,235.04 L326.60,235.04 Z" fill="#5a70c8" stroke="#26358c" stroke-width="0.6"/>
<path d="M328.57,233.76 L329.36,232.48 L330.92,232.48 L331.71,233.76 L330.92,235.04 L329.36,235.04 Z" fill="#5a70c8" stroke="#26358c" stroke-width="0.6"/>
<path d="M334.08,233.76 L334.86,232.48 L336.43,232.48 L337.21,233.76 L336.43,235.04 L334.86,235.04 Z" fill="#5a70c8" stroke="#26358c" stroke-width="0.6"/>
<path d="M310.68,235.68 L311.47,234.40 L313.04,234.40 L313.82,235.68 L313.04,236.96 L311.47,236.96 Z" fill="#6479cc" stroke="#26358c" stroke-width="0.6"/>
<path d="M316.19,235.68 L316.97,234.40 L318.54,234.40 L319.32,235.68 L318.54,236.96 L316.97,236.96 Z" fill="#5a70c8" stroke="#26358c" stroke-width="0.6"/>
<path d="M318.94,235.68 L319.72,234.40 L321.29,234.40 L322.08,235.68 L321.29,236.96 L319.72,236.96 Z" fill="#5a70c8" stroke="#26358c" stroke-width="0.6"/>
<path d="M321.69,235.68 L322.48,234.40 L324.04,234.40 L324.83,235.68 L324.04,236.96 L322.48,236.96 Z" fill="#5268c2" stroke="#26358c" stroke-width="0.6"/>
<path d="M324.44,235.68 L325.23,234.40 L326.80,234.40 L327.58,235.68 L326.80,236.96 L325.23,236.96 Z" fill="#5268c2" stroke="#26358c" stroke-width="0.6"/>
<text stroke="#1c1a1b" stroke-width="0.2" x="341.80" y="226.50" font-size="8.4" textLength="12.10" lengthAdjust="spacingAndGlyphs">24h</text>
<line x1="342.40" y1="234.40" x2="350.10" y2="234.40" stroke="#1c1a1b" stroke-width="0.9"/>
<path d="M352.20,234.40 L348.56,232.45 L348.56,236.35 Z" fill="#1c1a1b"/>
<text stroke="#1c1a1b" stroke-width="0.2" x="303.20" y="256.80" font-size="8.4" textLength="36.30" lengthAdjust="spacingAndGlyphs">OCI-AML2</text>
<path d="M357.90,231.90 L357.90,236.10 A17.7,7.2 0 0 0 393.30,236.10 L393.30,231.90" fill="#f7f7f7" stroke="#c9c9cb" stroke-width="0.8"/>
<ellipse cx="375.60" cy="231.90" rx="17.7" ry="7.2" fill="#fbfbfb" stroke="#c9c9cb" stroke-width="0.8"/>
<ellipse cx="375.60" cy="233.10" rx="15.5" ry="5.6" fill="none" stroke="#dcdcdc" stroke-width="0.5"/>
<path d="M364.31,230.02 L365.09,228.74 L366.66,228.74 L367.44,230.02 L366.66,231.30 L365.09,231.30 Z" fill="#6479cc" stroke="#26358c" stroke-width="0.6"/>
<path d="M369.81,230.02 L370.60,228.74 L372.16,228.74 L372.95,230.02 L372.16,231.30 L370.60,231.30 Z" fill="#5a70c8" stroke="#26358c" stroke-width="0.6"/>
<path d="M372.56,230.02 L373.35,228.74 L374.92,228.74 L375.70,230.02 L374.92,231.30 L373.35,231.30 Z" fill="#5a70c8" stroke="#26358c" stroke-width="0.6"/>
<path d="M375.32,230.02 L376.10,228.74 L377.67,228.74 L378.45,230.02 L377.67,231.30 L376.10,231.30 Z" fill="#5a70c8" stroke="#26358c" stroke-width="0.6"/>
<path d="M378.07,230.02 L378.85,228.74 L380.42,228.74 L381.20,230.02 L380.42,231.30 L378.85,231.30 Z" fill="#6479cc" stroke="#26358c" stroke-width="0.6"/>
<path d="M380.82,230.02 L381.60,228.74 L383.17,228.74 L383.96,230.02 L383.17,231.30 L381.60,231.30 Z" fill="#5a70c8" stroke="#26358c" stroke-width="0.6"/>
<path d="M383.57,230.02 L384.36,228.74 L385.92,228.74 L386.71,230.02 L385.92,231.30 L384.36,231.30 Z" fill="#5268c2" stroke="#26358c" stroke-width="0.6"/>
<path d="M362.93,231.94 L363.72,230.66 L365.28,230.66 L366.07,231.94 L365.28,233.22 L363.72,233.22 Z" fill="#6479cc" stroke="#26358c" stroke-width="0.6"/>
<path d="M365.68,231.94 L366.47,230.66 L368.04,230.66 L368.82,231.94 L368.04,233.22 L366.47,233.22 Z" fill="#6479cc" stroke="#26358c" stroke-width="0.6"/>
<path d="M368.44,231.94 L369.22,230.66 L370.79,230.66 L371.57,231.94 L370.79,233.22 L369.22,233.22 Z" fill="#5268c2" stroke="#26358c" stroke-width="0.6"/>
<path d="M371.19,231.94 L371.97,230.66 L373.54,230.66 L374.32,231.94 L373.54,233.22 L371.97,233.22 Z" fill="#5268c2" stroke="#26358c" stroke-width="0.6"/>
<path d="M373.94,231.94 L374.72,230.66 L376.29,230.66 L377.08,231.94 L376.29,233.22 L374.72,233.22 Z" fill="#6479cc" stroke="#26358c" stroke-width="0.6"/>
<path d="M376.69,231.94 L377.48,230.66 L379.04,230.66 L379.83,231.94 L379.04,233.22 L377.48,233.22 Z" fill="#5268c2" stroke="#26358c" stroke-width="0.6"/>
<path d="M379.44,231.94 L380.23,230.66 L381.80,230.66 L382.58,231.94 L381.80,233.22 L380.23,233.22 Z" fill="#5268c2" stroke="#26358c" stroke-width="0.6"/>
<path d="M382.20,231.94 L382.98,230.66 L384.55,230.66 L385.33,231.94 L384.55,233.22 L382.98,233.22 Z" fill="#6479cc" stroke="#26358c" stroke-width="0.6"/>
<path d="M384.95,231.94 L385.73,230.66 L387.30,230.66 L388.08,231.94 L387.30,233.22 L385.73,233.22 Z" fill="#5268c2" stroke="#26358c" stroke-width="0.6"/>
<path d="M387.70,231.94 L388.48,230.66 L390.05,230.66 L390.84,231.94 L390.05,233.22 L388.48,233.22 Z" fill="#5268c2" stroke="#26358c" stroke-width="0.6"/>
<path d="M361.56,233.86 L362.34,232.58 L363.91,232.58 L364.69,233.86 L363.91,235.14 L362.34,235.14 Z" fill="#5268c2" stroke="#26358c" stroke-width="0.6"/>
<path d="M364.31,233.86 L365.09,232.58 L366.66,232.58 L367.44,233.86 L366.66,235.14 L365.09,235.14 Z" fill="#5a70c8" stroke="#26358c" stroke-width="0.6"/>
<path d="M367.06,233.86 L367.84,232.58 L369.41,232.58 L370.20,233.86 L369.41,235.14 L367.84,235.14 Z" fill="#5268c2" stroke="#26358c" stroke-width="0.6"/>
<path d="M369.81,233.86 L370.60,232.58 L372.16,232.58 L372.95,233.86 L372.16,235.14 L370.60,235.14 Z" fill="#5268c2" stroke="#26358c" stroke-width="0.6"/>
<path d="M372.56,233.86 L373.35,232.58 L374.92,232.58 L375.70,233.86 L374.92,235.14 L373.35,235.14 Z" fill="#5a70c8" stroke="#26358c" stroke-width="0.6"/>
<path d="M375.32,233.86 L376.10,232.58 L377.67,232.58 L378.45,233.86 L377.67,235.14 L376.10,235.14 Z" fill="#5268c2" stroke="#26358c" stroke-width="0.6"/>
<path d="M378.07,233.86 L378.85,232.58 L380.42,232.58 L381.20,233.86 L380.42,235.14 L378.85,235.14 Z" fill="#6479cc" stroke="#26358c" stroke-width="0.6"/>
<path d="M380.82,233.86 L381.60,232.58 L383.17,232.58 L383.96,233.86 L383.17,235.14 L381.60,235.14 Z" fill="#5a70c8" stroke="#26358c" stroke-width="0.6"/>
<path d="M383.57,233.86 L384.36,232.58 L385.92,232.58 L386.71,233.86 L385.92,235.14 L384.36,235.14 Z" fill="#5a70c8" stroke="#26358c" stroke-width="0.6"/>
<path d="M386.32,233.86 L387.11,232.58 L388.68,232.58 L389.46,233.86 L388.68,235.14 L387.11,235.14 Z" fill="#5a70c8" stroke="#26358c" stroke-width="0.6"/>
<path d="M365.68,235.78 L366.47,234.50 L368.04,234.50 L368.82,235.78 L368.04,237.06 L366.47,237.06 Z" fill="#5268c2" stroke="#26358c" stroke-width="0.6"/>
<path d="M371.19,235.78 L371.97,234.50 L373.54,234.50 L374.32,235.78 L373.54,237.06 L371.97,237.06 Z" fill="#5268c2" stroke="#26358c" stroke-width="0.6"/>
<path d="M373.94,235.78 L374.72,234.50 L376.29,234.50 L377.08,235.78 L376.29,237.06 L374.72,237.06 Z" fill="#6479cc" stroke="#26358c" stroke-width="0.6"/>
<path d="M379.44,235.78 L380.23,234.50 L381.80,234.50 L382.58,235.78 L381.80,237.06 L380.23,237.06 Z" fill="#5a70c8" stroke="#26358c" stroke-width="0.6"/>
<path d="M382.20,235.78 L382.98,234.50 L384.55,234.50 L385.33,235.78 L384.55,237.06 L382.98,237.06 Z" fill="#5268c2" stroke="#26358c" stroke-width="0.6"/>
<text stroke="#1c1a1b" stroke-width="0.2" x="392.70" y="226.80" font-size="8.4" textLength="22.70" lengthAdjust="spacingAndGlyphs">72-96h</text>
<line x1="399.00" y1="234.80" x2="406.80" y2="234.80" stroke="#1c1a1b" stroke-width="0.9"/>
<path d="M408.90,234.80 L405.26,232.85 L405.26,236.75 Z" fill="#1c1a1b"/>
<text stroke="#1c1a1b" stroke-width="0.2" x="362.50" y="256.80" font-size="8.4" textLength="28.80" lengthAdjust="spacingAndGlyphs">Washing</text>
<path d="M417.20,232.00 L417.20,236.20 A17.1,7.2 0 0 0 451.40,236.20 L451.40,232.00" fill="#f7f7f7" stroke="#c9c9cb" stroke-width="0.8"/>
<ellipse cx="434.30" cy="232.00" rx="17.1" ry="7.2" fill="#fbfbfb" stroke="#c9c9cb" stroke-width="0.8"/>
<ellipse cx="434.30" cy="233.20" rx="14.900000000000002" ry="5.6" fill="none" stroke="#dcdcdc" stroke-width="0.5"/>
<path d="M422.81,230.12 L423.59,228.84 L425.16,228.84 L425.94,230.12 L425.16,231.40 L423.59,231.40 Z" fill="#5268c2" stroke="#26358c" stroke-width="0.6"/>
<path d="M428.31,230.12 L429.10,228.84 L430.66,228.84 L431.45,230.12 L430.66,231.40 L429.10,231.40 Z" fill="#5268c2" stroke="#26358c" stroke-width="0.6"/>
<path d="M431.06,230.12 L431.85,228.84 L433.42,228.84 L434.20,230.12 L433.42,231.40 L431.85,231.40 Z" fill="#7bbf3f" stroke="#26358c" stroke-width="0.6"/>
<path d="M433.82,230.12 L434.60,228.84 L436.17,228.84 L436.95,230.12 L436.17,231.40 L434.60,231.40 Z" fill="#5268c2" stroke="#26358c" stroke-width="0.6"/>
<path d="M436.57,230.12 L437.35,228.84 L438.92,228.84 L439.70,230.12 L438.92,231.40 L437.35,231.40 Z" fill="#7bbf3f" stroke="#26358c" stroke-width="0.6"/>
<path d="M439.32,230.12 L440.10,228.84 L441.67,228.84 L442.46,230.12 L441.67,231.40 L440.10,231.40 Z" fill="#5a70c8" stroke="#26358c" stroke-width="0.6"/>
<path d="M444.82,230.12 L445.61,228.84 L447.18,228.84 L447.96,230.12 L447.18,231.40 L445.61,231.40 Z" fill="#5a70c8" stroke="#26358c" stroke-width="0.6"/>
<path d="M421.43,232.04 L422.22,230.76 L423.78,230.76 L424.57,232.04 L423.78,233.32 L422.22,233.32 Z" fill="#5a70c8" stroke="#26358c" stroke-width="0.6"/>
<path d="M424.18,232.04 L424.97,230.76 L426.54,230.76 L427.32,232.04 L426.54,233.32 L424.97,233.32 Z" fill="#6ab03a" stroke="#26358c" stroke-width="0.6"/>
<path d="M426.94,232.04 L427.72,230.76 L429.29,230.76 L430.07,232.04 L429.29,233.32 L427.72,233.32 Z" fill="#7bbf3f" stroke="#26358c" stroke-width="0.6"/>
<path d="M429.69,232.04 L430.47,230.76 L432.04,230.76 L432.82,232.04 L432.04,233.32 L430.47,233.32 Z" fill="#5268c2" stroke="#26358c" stroke-width="0.6"/>
<path d="M432.44,232.04 L433.22,230.76 L434.79,230.76 L435.58,232.04 L434.79,233.32 L433.22,233.32 Z" fill="#5a70c8" stroke="#26358c" stroke-width="0.6"/>
<path d="M435.19,232.04 L435.98,230.76 L437.54,230.76 L438.33,232.04 L437.54,233.32 L435.98,233.32 Z" fill="#7bbf3f" stroke="#26358c" stroke-width="0.6"/>
<path d="M437.94,232.04 L438.73,230.76 L440.30,230.76 L441.08,232.04 L440.30,233.32 L438.73,233.32 Z" fill="#6ab03a" stroke="#26358c" stroke-width="0.6"/>
<path d="M440.70,232.04 L441.48,230.76 L443.05,230.76 L443.83,232.04 L443.05,233.32 L441.48,233.32 Z" fill="#5268c2" stroke="#26358c" stroke-width="0.6"/>
<path d="M443.45,232.04 L444.23,230.76 L445.80,230.76 L446.58,232.04 L445.80,233.32 L444.23,233.32 Z" fill="#5a70c8" stroke="#26358c" stroke-width="0.6"/>
<path d="M446.20,232.04 L446.98,230.76 L448.55,230.76 L449.34,232.04 L448.55,233.32 L446.98,233.32 Z" fill="#5a70c8" stroke="#26358c" stroke-width="0.6"/>
<path d="M422.81,233.96 L423.59,232.68 L425.16,232.68 L425.94,233.96 L425.16,235.24 L423.59,235.24 Z" fill="#5a70c8" stroke="#26358c" stroke-width="0.6"/>
<path d="M425.56,233.96 L426.34,232.68 L427.91,232.68 L428.70,233.96 L427.91,235.24 L426.34,235.24 Z" fill="#5268c2" stroke="#26358c" stroke-width="0.6"/>
<path d="M428.31,233.96 L429.10,232.68 L430.66,232.68 L431.45,233.96 L430.66,235.24 L429.10,235.24 Z" fill="#5268c2" stroke="#26358c" stroke-width="0.6"/>
<path d="M431.06,233.96 L431.85,232.68 L433.42,232.68 L434.20,233.96 L433.42,235.24 L431.85,235.24 Z" fill="#5a70c8" stroke="#26358c" stroke-width="0.6"/>
<path d="M433.82,233.96 L434.60,232.68 L436.17,232.68 L436.95,233.96 L436.17,235.24 L434.60,235.24 Z" fill="#7bbf3f" stroke="#26358c" stroke-width="0.6"/>
<path d="M436.57,233.96 L437.35,232.68 L438.92,232.68 L439.70,233.96 L438.92,235.24 L437.35,235.24 Z" fill="#7bbf3f" stroke="#26358c" stroke-width="0.6"/>
<path d="M439.32,233.96 L440.10,232.68 L441.67,232.68 L442.46,233.96 L441.67,235.24 L440.10,235.24 Z" fill="#5268c2" stroke="#26358c" stroke-width="0.6"/>
<path d="M442.07,233.96 L442.86,232.68 L444.42,232.68 L445.21,233.96 L444.42,235.24 L442.86,235.24 Z" fill="#5a70c8" stroke="#26358c" stroke-width="0.6"/>
<path d="M444.82,233.96 L445.61,232.68 L447.18,232.68 L447.96,233.96 L447.18,235.24 L445.61,235.24 Z" fill="#5268c2" stroke="#26358c" stroke-width="0.6"/>
<path d="M426.94,235.88 L427.72,234.60 L429.29,234.60 L430.07,235.88 L429.29,237.16 L427.72,237.16 Z" fill="#6ab03a" stroke="#26358c" stroke-width="0.6"/>
<path d="M429.69,235.88 L430.47,234.60 L432.04,234.60 L432.82,235.88 L432.04,237.16 L430.47,237.16 Z" fill="#5a70c8" stroke="#26358c" stroke-width="0.6"/>
<path d="M432.44,235.88 L433.22,234.60 L434.79,234.60 L435.58,235.88 L434.79,237.16 L433.22,237.16 Z" fill="#7bbf3f" stroke="#26358c" stroke-width="0.6"/>
<path d="M435.19,235.88 L435.98,234.60 L437.54,234.60 L438.33,235.88 L437.54,237.16 L435.98,237.16 Z" fill="#6ab03a" stroke="#26358c" stroke-width="0.6"/>
<path d="M437.94,235.88 L438.73,234.60 L440.30,234.60 L441.08,235.88 L440.30,237.16 L438.73,237.16 Z" fill="#5268c2" stroke="#26358c" stroke-width="0.6"/>
<path d="M440.70,235.88 L441.48,234.60 L443.05,234.60 L443.83,235.88 L443.05,237.16 L441.48,237.16 Z" fill="#5a70c8" stroke="#26358c" stroke-width="0.6"/>
<text stroke="#1c1a1b" stroke-width="0.2" x="453.30" y="226.50" font-size="8.4" textLength="12.70" lengthAdjust="spacingAndGlyphs">48h</text>
<line x1="456.20" y1="234.00" x2="463.50" y2="234.00" stroke="#1c1a1b" stroke-width="0.9"/>
<path d="M465.60,234.00 L461.96,232.05 L461.96,235.95 Z" fill="#1c1a1b"/>
<text stroke="#1c1a1b" stroke-width="0.2" x="412.50" y="257.00" font-size="8.4" textLength="40.80" lengthAdjust="spacingAndGlyphs">GFP-sorting</text>
<path d="M468.50,232.30 L468.50,236.70 A18.9,7.4 0 0 0 506.30,236.70 L506.30,232.30" fill="#f7f7f7" stroke="#c9c9d9" stroke-width="0.8"/>
<ellipse cx="487.40" cy="232.30" rx="18.9" ry="7.4" fill="#fbfbfb" stroke="#c9c9d9" stroke-width="0.8"/>
<ellipse cx="487.40" cy="233.50" rx="16.7" ry="5.800000000000001" fill="none" stroke="#dcdcdc" stroke-width="0.5"/>
<ellipse cx="487.4" cy="232.6" rx="16.5" ry="5.8" fill="#e6f4d6"/>
<path d="M478.06,229.72 L478.84,228.44 L480.41,228.44 L481.20,229.72 L480.41,231.00 L478.84,231.00 Z" fill="#9ad662" stroke="#5a9a30" stroke-width="0.6"/>
<path d="M480.81,229.72 L481.60,228.44 L483.16,228.44 L483.95,229.72 L483.16,231.00 L481.60,231.00 Z" fill="#7cc447" stroke="#5a9a30" stroke-width="0.6"/>
<path d="M483.56,229.72 L484.35,228.44 L485.92,228.44 L486.70,229.72 L485.92,231.00 L484.35,231.00 Z" fill="#7cc447" stroke="#5a9a30" stroke-width="0.6"/>
<path d="M486.32,229.72 L487.10,228.44 L488.67,228.44 L489.45,229.72 L488.67,231.00 L487.10,231.00 Z" fill="#8fd057" stroke="#5a9a30" stroke-width="0.6"/>
<path d="M489.07,229.72 L489.85,228.44 L491.42,228.44 L492.20,229.72 L491.42,231.00 L489.85,231.00 Z" fill="#8fd057" stroke="#5a9a30" stroke-width="0.6"/>
<path d="M491.82,229.72 L492.60,228.44 L494.17,228.44 L494.96,229.72 L494.17,231.00 L492.60,231.00 Z" fill="#8fd057" stroke="#5a9a30" stroke-width="0.6"/>
<path d="M494.57,229.72 L495.36,228.44 L496.92,228.44 L497.71,229.72 L496.92,231.00 L495.36,231.00 Z" fill="#8fd057" stroke="#5a9a30" stroke-width="0.6"/>
<path d="M473.93,231.64 L474.72,230.36 L476.28,230.36 L477.07,231.64 L476.28,232.92 L474.72,232.92 Z" fill="#7cc447" stroke="#5a9a30" stroke-width="0.6"/>
<path d="M476.68,231.64 L477.47,230.36 L479.04,230.36 L479.82,231.64 L479.04,232.92 L477.47,232.92 Z" fill="#8fd057" stroke="#5a9a30" stroke-width="0.6"/>
<path d="M479.44,231.64 L480.22,230.36 L481.79,230.36 L482.57,231.64 L481.79,232.92 L480.22,232.92 Z" fill="#8fd057" stroke="#5a9a30" stroke-width="0.6"/>
<path d="M482.19,231.64 L482.97,230.36 L484.54,230.36 L485.32,231.64 L484.54,232.92 L482.97,232.92 Z" fill="#8fd057" stroke="#5a9a30" stroke-width="0.6"/>
<path d="M484.94,231.64 L485.72,230.36 L487.29,230.36 L488.08,231.64 L487.29,232.92 L485.72,232.92 Z" fill="#9ad662" stroke="#5a9a30" stroke-width="0.6"/>
<path d="M487.69,231.64 L488.48,230.36 L490.04,230.36 L490.83,231.64 L490.04,232.92 L488.48,232.92 Z" fill="#7cc447" stroke="#5a9a30" stroke-width="0.6"/>
<path d="M490.44,231.64 L491.23,230.36 L492.80,230.36 L493.58,231.64 L492.80,232.92 L491.23,232.92 Z" fill="#8fd057" stroke="#5a9a30" stroke-width="0.6"/>
<path d="M493.20,231.64 L493.98,230.36 L495.55,230.36 L496.33,231.64 L495.55,232.92 L493.98,232.92 Z" fill="#7cc447" stroke="#5a9a30" stroke-width="0.6"/>
<path d="M495.95,231.64 L496.73,230.36 L498.30,230.36 L499.08,231.64 L498.30,232.92 L496.73,232.92 Z" fill="#9ad662" stroke="#5a9a30" stroke-width="0.6"/>
<path d="M498.70,231.64 L499.48,230.36 L501.05,230.36 L501.84,231.64 L501.05,232.92 L499.48,232.92 Z" fill="#9ad662" stroke="#5a9a30" stroke-width="0.6"/>
<path d="M501.45,231.64 L502.24,230.36 L503.80,230.36 L504.59,231.64 L503.80,232.92 L502.24,232.92 Z" fill="#7cc447" stroke="#5a9a30" stroke-width="0.6"/>
<path d="M472.56,233.56 L473.34,232.28 L474.91,232.28 L475.69,233.56 L474.91,234.84 L473.34,234.84 Z" fill="#9ad662" stroke="#5a9a30" stroke-width="0.6"/>
<path d="M475.31,233.56 L476.09,232.28 L477.66,232.28 L478.44,233.56 L477.66,234.84 L476.09,234.84 Z" fill="#8fd057" stroke="#5a9a30" stroke-width="0.6"/>
<path d="M478.06,233.56 L478.84,232.28 L480.41,232.28 L481.20,233.56 L480.41,234.84 L478.84,234.84 Z" fill="#7cc447" stroke="#5a9a30" stroke-width="0.6"/>
<path d="M480.81,233.56 L481.60,232.28 L483.16,232.28 L483.95,233.56 L483.16,234.84 L481.60,234.84 Z" fill="#8fd057" stroke="#5a9a30" stroke-width="0.6"/>
<path d="M483.56,233.56 L484.35,232.28 L485.92,232.28 L486.70,233.56 L485.92,234.84 L484.35,234.84 Z" fill="#8fd057" stroke="#5a9a30" stroke-width="0.6"/>
<path d="M486.32,233.56 L487.10,232.28 L488.67,232.28 L489.45,233.56 L488.67,234.84 L487.10,234.84 Z" fill="#9ad662" stroke="#5a9a30" stroke-width="0.6"/>
<path d="M489.07,233.56 L489.85,232.28 L491.42,232.28 L492.20,233.56 L491.42,234.84 L489.85,234.84 Z" fill="#8fd057" stroke="#5a9a30" stroke-width="0.6"/>
<path d="M491.82,233.56 L492.60,232.28 L494.17,232.28 L494.96,233.56 L494.17,234.84 L492.60,234.84 Z" fill="#8fd057" stroke="#5a9a30" stroke-width="0.6"/>
<path d="M494.57,233.56 L495.36,232.28 L496.92,232.28 L497.71,233.56 L496.92,234.84 L495.36,234.84 Z" fill="#8fd057" stroke="#5a9a30" stroke-width="0.6"/>
<path d="M497.32,233.56 L498.11,232.28 L499.68,232.28 L500.46,233.56 L499.68,234.84 L498.11,234.84 Z" fill="#8fd057" stroke="#5a9a30" stroke-width="0.6"/>
<path d="M500.08,233.56 L500.86,232.28 L502.43,232.28 L503.21,233.56 L502.43,234.84 L500.86,234.84 Z" fill="#7cc447" stroke="#5a9a30" stroke-width="0.6"/>
<path d="M476.68,235.48 L477.47,234.20 L479.04,234.20 L479.82,235.48 L479.04,236.76 L477.47,236.76 Z" fill="#7cc447" stroke="#5a9a30" stroke-width="0.6"/>
<path d="M482.19,235.48 L482.97,234.20 L484.54,234.20 L485.32,235.48 L484.54,236.76 L482.97,236.76 Z" fill="#8fd057" stroke="#5a9a30" stroke-width="0.6"/>
<path d="M484.94,235.48 L485.72,234.20 L487.29,234.20 L488.08,235.48 L487.29,236.76 L485.72,236.76 Z" fill="#9ad662" stroke="#5a9a30" stroke-width="0.6"/>
<path d="M487.69,235.48 L488.48,234.20 L490.04,234.20 L490.83,235.48 L490.04,236.76 L488.48,236.76 Z" fill="#9ad662" stroke="#5a9a30" stroke-width="0.6"/>
<path d="M490.44,235.48 L491.23,234.20 L492.80,234.20 L493.58,235.48 L492.80,236.76 L491.23,236.76 Z" fill="#8fd057" stroke="#5a9a30" stroke-width="0.6"/>
<path d="M493.20,235.48 L493.98,234.20 L495.55,234.20 L496.33,235.48 L495.55,236.76 L493.98,236.76 Z" fill="#9ad662" stroke="#5a9a30" stroke-width="0.6"/>
<path d="M495.95,235.48 L496.73,234.20 L498.30,234.20 L499.08,235.48 L498.30,236.76 L496.73,236.76 Z" fill="#9ad662" stroke="#5a9a30" stroke-width="0.6"/>
<text stroke="#1c1a1b" stroke-width="0.2" x="478.00" y="257.10" font-size="8.4" textLength="19.10" lengthAdjust="spacingAndGlyphs">Day 1</text>
<text x="261.60" y="288.80" font-size="14" font-weight="bold" stroke="#111" stroke-width="0.35">E</text>
<text stroke="#1c1a1b" stroke-width="0.2" x="287.00" y="284.40" font-size="8.4" textLength="25.50" lengthAdjust="spacingAndGlyphs">Control</text>
<text stroke="#1c1a1b" stroke-width="0.2" x="278.00" y="313.30" font-size="8.4" textLength="34.50" lengthAdjust="spacingAndGlyphs">Treatment</text>
<line x1="317.50" y1="289.50" x2="497.00" y2="289.50" stroke="#1c1a1b" stroke-width="0.95"/>
<path d="M501,289.5 L494.5,286.9 L494.5,292.1 Z" fill="#1c1a1b"/>
<line x1="317.50" y1="289.50" x2="317.50" y2="297.80" stroke="#1c1a1b" stroke-width="0.95"/>
<line x1="374.30" y1="289.50" x2="374.30" y2="297.80" stroke="#1c1a1b" stroke-width="0.95"/>
<line x1="431.00" y1="289.50" x2="431.00" y2="297.80" stroke="#1c1a1b" stroke-width="0.95"/>
<line x1="487.20" y1="289.50" x2="487.20" y2="297.80" stroke="#1c1a1b" stroke-width="0.95"/>
<line x1="317.50" y1="318.40" x2="497.00" y2="318.40" stroke="#1c1a1b" stroke-width="0.95"/>
<path d="M501,318.4 L494.5,315.79999999999995 L494.5,321.0 Z" fill="#1c1a1b"/>
<line x1="317.50" y1="318.40" x2="317.50" y2="326.70" stroke="#1c1a1b" stroke-width="0.95"/>
<line x1="374.30" y1="318.40" x2="374.30" y2="326.70" stroke="#1c1a1b" stroke-width="0.95"/>
<line x1="431.00" y1="318.40" x2="431.00" y2="326.70" stroke="#1c1a1b" stroke-width="0.95"/>
<line x1="487.20" y1="318.40" x2="487.20" y2="326.70" stroke="#1c1a1b" stroke-width="0.95"/>
<path d="M322.00,277.8 L327.20,277.8 L324.60,287.0 Z" fill="#a2a6aa"/>
<path d="M322.00,306.3 L327.20,306.3 L324.60,315.6 Z" fill="#df7590"/>
<path d="M329.52,277.8 L334.72,277.8 L332.12,287.0 Z" fill="#a2a6aa"/>
<path d="M329.52,306.3 L334.72,306.3 L332.12,315.6 Z" fill="#df7590"/>
<path d="M337.04,277.8 L342.24,277.8 L339.64,287.0 Z" fill="#a2a6aa"/>
<path d="M337.04,306.3 L342.24,306.3 L339.64,315.6 Z" fill="#df7590"/>
<path d="M344.56,277.8 L349.76,277.8 L347.16,287.0 Z" fill="#a2a6aa"/>
<path d="M344.56,306.3 L349.76,306.3 L347.16,315.6 Z" fill="#a2a6aa"/>
<path d="M352.08,277.8 L357.28,277.8 L354.68,287.0 Z" fill="#a2a6aa"/>
<path d="M352.08,306.3 L357.28,306.3 L354.68,315.6 Z" fill="#a2a6aa"/>
<path d="M359.60,277.8 L364.80,277.8 L362.20,287.0 Z" fill="#a2a6aa"/>
<path d="M359.60,306.3 L364.80,306.3 L362.20,315.6 Z" fill="#a2a6aa"/>
<path d="M367.12,277.8 L372.32,277.8 L369.72,287.0 Z" fill="#a2a6aa"/>
<path d="M367.12,306.3 L372.32,306.3 L369.72,315.6 Z" fill="#9fb0b8"/>
<path d="M378.20,277.8 L383.40,277.8 L380.80,287.0 Z" fill="#a2a6aa"/>
<path d="M378.20,306.3 L383.40,306.3 L380.80,315.6 Z" fill="#c9284d"/>
<path d="M385.72,277.8 L390.92,277.8 L388.32,287.0 Z" fill="#a2a6aa"/>
<path d="M385.72,306.3 L390.92,306.3 L388.32,315.6 Z" fill="#c9284d"/>
<path d="M393.24,277.8 L398.44,277.8 L395.84,287.0 Z" fill="#a2a6aa"/>
<path d="M393.24,306.3 L398.44,306.3 L395.84,315.6 Z" fill="#c9284d"/>
<path d="M400.76,277.8 L405.96,277.8 L403.36,287.0 Z" fill="#a2a6aa"/>
<path d="M400.76,306.3 L405.96,306.3 L403.36,315.6 Z" fill="#a2a6aa"/>
<path d="M408.28,277.8 L413.48,277.8 L410.88,287.0 Z" fill="#a2a6aa"/>
<path d="M408.28,306.3 L413.48,306.3 L410.88,315.6 Z" fill="#a2a6aa"/>
<path d="M415.80,277.8 L421.00,277.8 L418.40,287.0 Z" fill="#a2a6aa"/>
<path d="M415.80,306.3 L421.00,306.3 L418.40,315.6 Z" fill="#a2a6aa"/>
<path d="M423.32,277.8 L428.52,277.8 L425.92,287.0 Z" fill="#a2a6aa"/>
<path d="M423.32,306.3 L428.52,306.3 L425.92,315.6 Z" fill="#a2a6aa"/>
<path d="M433.40,277.8 L438.60,277.8 L436.00,287.0 Z" fill="#a2a6aa"/>
<path d="M433.40,306.3 L438.60,306.3 L436.00,315.6 Z" fill="#b0112f"/>
<path d="M440.92,277.8 L446.12,277.8 L443.52,287.0 Z" fill="#a2a6aa"/>
<path d="M440.92,306.3 L446.12,306.3 L443.52,315.6 Z" fill="#b0112f"/>
<path d="M448.44,277.8 L453.64,277.8 L451.04,287.0 Z" fill="#a2a6aa"/>
<path d="M448.44,306.3 L453.64,306.3 L451.04,315.6 Z" fill="#b0112f"/>
<path d="M455.96,277.8 L461.16,277.8 L458.56,287.0 Z" fill="#a2a6aa"/>
<path d="M455.96,306.3 L461.16,306.3 L458.56,315.6 Z" fill="#a9b8bd"/>
<path d="M463.48,277.8 L468.68,277.8 L466.08,287.0 Z" fill="#a2a6aa"/>
<path d="M463.48,306.3 L468.68,306.3 L466.08,315.6 Z" fill="#a2a6aa"/>
<path d="M471.00,277.8 L476.20,277.8 L473.60,287.0 Z" fill="#a2a6aa"/>
<path d="M471.00,306.3 L476.20,306.3 L473.60,315.6 Z" fill="#a2a6aa"/>
<path d="M478.52,277.8 L483.72,277.8 L481.12,287.0 Z" fill="#a2a6aa"/>
<path d="M478.52,306.3 L483.72,306.3 L481.12,315.6 Z" fill="#a2a6aa"/>
<text stroke="#e89aab" stroke-width="0.2" x="325.50" y="328.60" font-size="8.4" fill="#e89aab" textLength="14.00" lengthAdjust="spacingAndGlyphs">1µM</text>
<text stroke="#cf4a6a" stroke-width="0.2" x="382.00" y="328.60" font-size="8.4" fill="#cf4a6a" textLength="15.00" lengthAdjust="spacingAndGlyphs">2µM</text>
<text stroke="#c0203f" stroke-width="0.2" x="437.50" y="328.60" font-size="8.4" fill="#c0203f" textLength="15.50" lengthAdjust="spacingAndGlyphs">3µM</text>
<text stroke="#1c1a1b" stroke-width="0.2" x="317.50" y="336.60" font-size="8.3" text-anchor="middle" textLength="4.06" lengthAdjust="spacingAndGlyphs">1</text>
<text stroke="#1c1a1b" stroke-width="0.2" x="374.30" y="336.60" font-size="8.3" text-anchor="middle" textLength="4.06" lengthAdjust="spacingAndGlyphs">8</text>
<text stroke="#1c1a1b" stroke-width="0.2" x="431.00" y="336.60" font-size="8.3" text-anchor="middle" textLength="8.12" lengthAdjust="spacingAndGlyphs">15</text>
<text stroke="#1c1a1b" stroke-width="0.2" x="487.20" y="336.60" font-size="8.3" text-anchor="middle" textLength="8.12" lengthAdjust="spacingAndGlyphs">22</text>
<text stroke="#1c1a1b" stroke-width="0.2" x="482.00" y="346.20" font-size="8.4" textLength="15.50" lengthAdjust="spacingAndGlyphs">days</text>
<text stroke="#b3163a" stroke-width="0.2" x="341.00" y="353.90" font-size="8.4" fill="#b3163a" textLength="17.50" lengthAdjust="spacingAndGlyphs">AraC</text>
<text stroke="#b4b7ba" stroke-width="0.2" x="380.00" y="354.00" font-size="8.4" fill="#b4b7ba" textLength="27.50" lengthAdjust="spacingAndGlyphs">Recover</text>
<text x="10.60" y="386.40" font-size="14" font-weight="bold" stroke="#111" stroke-width="0.35">F</text>
<line x1="41.60" y1="395.80" x2="41.60" y2="502.10" stroke="#1c1a1b" stroke-width="1.65"/>
<line x1="40.90" y1="501.40" x2="149.90" y2="501.40" stroke="#1c1a1b" stroke-width="1.65"/>
<line x1="37.80" y1="397.90" x2="41.60" y2="397.90" stroke="#1c1a1b" stroke-width="1.1"/>
<text stroke="#1c1a1b" stroke-width="0.2" x="34.80" y="400.70" font-size="8.5" text-anchor="end" textLength="4.16" lengthAdjust="spacingAndGlyphs">6</text>
<line x1="37.80" y1="429.80" x2="41.60" y2="429.80" stroke="#1c1a1b" stroke-width="1.1"/>
<text stroke="#1c1a1b" stroke-width="0.2" x="34.80" y="432.60" font-size="8.5" text-anchor="end" textLength="4.16" lengthAdjust="spacingAndGlyphs">4</text>
<line x1="37.80" y1="461.70" x2="41.60" y2="461.70" stroke="#1c1a1b" stroke-width="1.1"/>
<text stroke="#1c1a1b" stroke-width="0.2" x="34.80" y="464.50" font-size="8.5" text-anchor="end" textLength="4.16" lengthAdjust="spacingAndGlyphs">2</text>
<line x1="37.80" y1="493.60" x2="41.60" y2="493.60" stroke="#1c1a1b" stroke-width="1.1"/>
<text stroke="#1c1a1b" stroke-width="0.2" x="34.80" y="496.40" font-size="8.5" text-anchor="end" textLength="4.16" lengthAdjust="spacingAndGlyphs">0</text>
<line x1="59.40" y1="501.40" x2="59.40" y2="505.20" stroke="#1c1a1b" stroke-width="1.1"/>
<text stroke="#1c1a1b" stroke-width="0.2" x="59.40" y="515.80" font-size="8.5" text-anchor="middle" textLength="8.53" lengthAdjust="spacingAndGlyphs">−1</text>
<line x1="94.10" y1="501.40" x2="94.10" y2="505.20" stroke="#1c1a1b" stroke-width="1.1"/>
<text stroke="#1c1a1b" stroke-width="0.2" x="94.10" y="515.80" font-size="8.5" text-anchor="middle" textLength="4.16" lengthAdjust="spacingAndGlyphs">0</text>
<line x1="128.80" y1="501.40" x2="128.80" y2="505.20" stroke="#1c1a1b" stroke-width="1.1"/>
<text stroke="#1c1a1b" stroke-width="0.2" x="128.80" y="515.80" font-size="8.5" text-anchor="middle" textLength="4.16" lengthAdjust="spacingAndGlyphs">1</text>
<line x1="94.50" y1="397.00" x2="94.50" y2="500.70" stroke="#2a2a2a" stroke-width="1.0" stroke-dasharray="1.1 1.35"/>
<line x1="42.80" y1="493.50" x2="146.00" y2="493.50" stroke="#2a2a2a" stroke-width="1.0" stroke-dasharray="1.1 1.35"/>
<text stroke="#1c1a1b" stroke-width="0.2" x="43.7" y="531.5" font-size="10.3" textLength="101.6" lengthAdjust="spacingAndGlyphs">Log<tspan font-size="6" dy="2">2</tspan><tspan dy="-2">FC AraC [d22] / Ctr [d22]</tspan></text>
<text stroke="#1c1a1b" stroke-width="0.2" transform="translate(25.0,444.8) rotate(-90)" font-size="10.3" text-anchor="middle" textLength="38.5" lengthAdjust="spacingAndGlyphs">-Log<tspan font-size="6" dy="2">10</tspan><tspan dy="-2"> FDR</tspan></text>
<circle cx="93.65" cy="493.46" r="1.7" fill="#a9aaac" stroke="#231f20" stroke-width="0.55"/>
<circle cx="83.04" cy="478.28" r="1.7" fill="#a9aaac" stroke="#231f20" stroke-width="0.55"/>
<circle cx="92.71" cy="491.46" r="1.7" fill="#a9aaac" stroke="#231f20" stroke-width="0.55"/>
<circle cx="82.30" cy="485.09" r="1.7" fill="#a9aaac" stroke="#231f20" stroke-width="0.55"/>
<circle cx="79.22" cy="479.26" r="1.7" fill="#a9aaac" stroke="#231f20" stroke-width="0.55"/>
<circle cx="91.05" cy="490.28" r="1.7" fill="#a9aaac" stroke="#231f20" stroke-width="0.55"/>
<circle cx="86.51" cy="481.08" r="1.7" fill="#a9aaac" stroke="#231f20" stroke-width="0.55"/>
<circle cx="89.54" cy="490.26" r="1.7" fill="#a9aaac" stroke="#231f20" stroke-width="0.55"/>
<circle cx="75.86" cy="492.38" r="1.7" fill="#a9aaac" stroke="#231f20" stroke-width="0.55"/>
<circle cx="92.24" cy="492.69" r="1.7" fill="#a9aaac" stroke="#231f20" stroke-width="0.55"/>
<circle cx="77.07" cy="487.65" r="1.7" fill="#a9aaac" stroke="#231f20" stroke-width="0.55"/>
<circle cx="91.70" cy="491.04" r="1.7" fill="#a9aaac" stroke="#231f20" stroke-width="0.55"/>
<circle cx="83.06" cy="476.54" r="1.7" fill="#a9aaac" stroke="#231f20" stroke-width="0.55"/>
<circle cx="81.92" cy="477.81" r="1.7" fill="#a9aaac" stroke="#231f20" stroke-width="0.55"/>
<circle cx="88.58" cy="489.25" r="1.7" fill="#a9aaac" stroke="#231f20" stroke-width="0.55"/>
<circle cx="79.26" cy="472.67" r="1.7" fill="#a9aaac" stroke="#231f20" stroke-width="0.55"/>
<circle cx="74.06" cy="462.89" r="1.7" fill="#a9aaac" stroke="#231f20" stroke-width="0.55"/>
<circle cx="90.29" cy="488.31" r="1.7" fill="#a9aaac" stroke="#231f20" stroke-width="0.55"/>
<circle cx="86.13" cy="485.37" r="1.7" fill="#a9aaac" stroke="#231f20" stroke-width="0.55"/>
<circle cx="78.72" cy="488.30" r="1.7" fill="#a9aaac" stroke="#231f20" stroke-width="0.55"/>
<circle cx="83.67" cy="493.18" r="1.7" fill="#a9aaac" stroke="#231f20" stroke-width="0.55"/>
<circle cx="93.19" cy="492.89" r="1.7" fill="#a9aaac" stroke="#231f20" stroke-width="0.55"/>
<circle cx="88.70" cy="484.98" r="1.7" fill="#a9aaac" stroke="#231f20" stroke-width="0.55"/>
<circle cx="90.91" cy="492.86" r="1.7" fill="#a9aaac" stroke="#231f20" stroke-width="0.55"/>
<circle cx="84.35" cy="490.18" r="1.7" fill="#a9aaac" stroke="#231f20" stroke-width="0.55"/>
<circle cx="87.39" cy="489.19" r="1.7" fill="#a9aaac" stroke="#231f20" stroke-width="0.55"/>
<circle cx="89.64" cy="487.81" r="1.7" fill="#a9aaac" stroke="#231f20" stroke-width="0.55"/>
<circle cx="92.66" cy="491.98" r="1.7" fill="#a9aaac" stroke="#231f20" stroke-width="0.55"/>
<circle cx="76.57" cy="470.25" r="1.7" fill="#a9aaac" stroke="#231f20" stroke-width="0.55"/>
<circle cx="92.14" cy="490.37" r="1.7" fill="#a9aaac" stroke="#231f20" stroke-width="0.55"/>
<circle cx="81.85" cy="481.97" r="1.7" fill="#a9aaac" stroke="#231f20" stroke-width="0.55"/>
<circle cx="88.51" cy="488.43" r="1.7" fill="#a9aaac" stroke="#231f20" stroke-width="0.55"/>
<circle cx="85.77" cy="481.93" r="1.7" fill="#a9aaac" stroke="#231f20" stroke-width="0.55"/>
<circle cx="74.45" cy="467.04" r="1.7" fill="#a9aaac" stroke="#231f20" stroke-width="0.55"/>
<circle cx="84.46" cy="491.82" r="1.7" fill="#a9aaac" stroke="#231f20" stroke-width="0.55"/>
<circle cx="92.42" cy="491.89" r="1.7" fill="#a9aaac" stroke="#231f20" stroke-width="0.55"/>
<circle cx="83.57" cy="478.42" r="1.7" fill="#a9aaac" stroke="#231f20" stroke-width="0.55"/>
<circle cx="88.30" cy="491.10" r="1.7" fill="#a9aaac" stroke="#231f20" stroke-width="0.55"/>
<circle cx="92.45" cy="492.92" r="1.7" fill="#a9aaac" stroke="#231f20" stroke-width="0.55"/>
<circle cx="81.76" cy="473.58" r="1.7" fill="#a9aaac" stroke="#231f20" stroke-width="0.55"/>
<circle cx="84.21" cy="484.27" r="1.7" fill="#a9aaac" stroke="#231f20" stroke-width="0.55"/>
<circle cx="90.64" cy="490.01" r="1.7" fill="#a9aaac" stroke="#231f20" stroke-width="0.55"/>
<circle cx="82.31" cy="476.09" r="1.7" fill="#a9aaac" stroke="#231f20" stroke-width="0.55"/>
<circle cx="92.76" cy="492.86" r="1.7" fill="#a9aaac" stroke="#231f20" stroke-width="0.55"/>
<circle cx="88.85" cy="487.79" r="1.7" fill="#a9aaac" stroke="#231f20" stroke-width="0.55"/>
<circle cx="93.49" cy="493.13" r="1.7" fill="#a9aaac" stroke="#231f20" stroke-width="0.55"/>
<circle cx="93.11" cy="492.78" r="1.7" fill="#a9aaac" stroke="#231f20" stroke-width="0.55"/>
<circle cx="89.63" cy="486.48" r="1.7" fill="#a9aaac" stroke="#231f20" stroke-width="0.55"/>
<circle cx="80.37" cy="477.59" r="1.7" fill="#a9aaac" stroke="#231f20" stroke-width="0.55"/>
<circle cx="93.13" cy="492.39" r="1.7" fill="#a9aaac" stroke="#231f20" stroke-width="0.55"/>
<circle cx="83.77" cy="477.13" r="1.7" fill="#a9aaac" stroke="#231f20" stroke-width="0.55"/>
<circle cx="90.20" cy="491.53" r="1.7" fill="#a9aaac" stroke="#231f20" stroke-width="0.55"/>
<circle cx="90.11" cy="488.63" r="1.7" fill="#a9aaac" stroke="#231f20" stroke-width="0.55"/>
<circle cx="80.76" cy="482.24" r="1.7" fill="#a9aaac" stroke="#231f20" stroke-width="0.55"/>
<circle cx="78.00" cy="485.15" r="1.7" fill="#a9aaac" stroke="#231f20" stroke-width="0.55"/>
<circle cx="92.39" cy="491.34" r="1.7" fill="#a9aaac" stroke="#231f20" stroke-width="0.55"/>
<circle cx="77.93" cy="481.80" r="1.7" fill="#a9aaac" stroke="#231f20" stroke-width="0.55"/>
<circle cx="92.79" cy="491.71" r="1.7" fill="#a9aaac" stroke="#231f20" stroke-width="0.55"/>
<circle cx="87.90" cy="487.40" r="1.7" fill="#a9aaac" stroke="#231f20" stroke-width="0.55"/>
<circle cx="88.69" cy="487.50" r="1.7" fill="#a9aaac" stroke="#231f20" stroke-width="0.55"/>
<circle cx="89.44" cy="490.16" r="1.7" fill="#a9aaac" stroke="#231f20" stroke-width="0.55"/>
<circle cx="83.17" cy="479.76" r="1.7" fill="#a9aaac" stroke="#231f20" stroke-width="0.55"/>
<circle cx="88.33" cy="493.51" r="1.7" fill="#a9aaac" stroke="#231f20" stroke-width="0.55"/>
<circle cx="82.68" cy="490.57" r="1.7" fill="#a9aaac" stroke="#231f20" stroke-width="0.55"/>
<circle cx="89.71" cy="490.32" r="1.7" fill="#a9aaac" stroke="#231f20" stroke-width="0.55"/>
<circle cx="89.27" cy="493.03" r="1.7" fill="#a9aaac" stroke="#231f20" stroke-width="0.55"/>
<circle cx="93.31" cy="493.51" r="1.7" fill="#a9aaac" stroke="#231f20" stroke-width="0.55"/>
<circle cx="85.78" cy="489.31" r="1.7" fill="#a9aaac" stroke="#231f20" stroke-width="0.55"/>
<circle cx="79.85" cy="493.47" r="1.7" fill="#a9aaac" stroke="#231f20" stroke-width="0.55"/>
<circle cx="87.45" cy="483.06" r="1.7" fill="#a9aaac" stroke="#231f20" stroke-width="0.55"/>
<circle cx="84.41" cy="484.48" r="1.7" fill="#a9aaac" stroke="#231f20" stroke-width="0.55"/>
<circle cx="89.37" cy="487.32" r="1.7" fill="#a9aaac" stroke="#231f20" stroke-width="0.55"/>
<circle cx="83.07" cy="487.91" r="1.7" fill="#a9aaac" stroke="#231f20" stroke-width="0.55"/>
<circle cx="80.52" cy="476.50" r="1.7" fill="#a9aaac" stroke="#231f20" stroke-width="0.55"/>
<circle cx="82.88" cy="493.54" r="1.7" fill="#a9aaac" stroke="#231f20" stroke-width="0.55"/>
<circle cx="88.55" cy="487.22" r="1.7" fill="#a9aaac" stroke="#231f20" stroke-width="0.55"/>
<circle cx="80.17" cy="475.07" r="1.7" fill="#a9aaac" stroke="#231f20" stroke-width="0.55"/>
<circle cx="88.10" cy="492.27" r="1.7" fill="#a9aaac" stroke="#231f20" stroke-width="0.55"/>
<circle cx="81.85" cy="474.67" r="1.7" fill="#a9aaac" stroke="#231f20" stroke-width="0.55"/>
<circle cx="88.54" cy="487.67" r="1.7" fill="#a9aaac" stroke="#231f20" stroke-width="0.55"/>
<circle cx="82.06" cy="489.78" r="1.7" fill="#a9aaac" stroke="#231f20" stroke-width="0.55"/>
<circle cx="83.51" cy="478.30" r="1.7" fill="#a9aaac" stroke="#231f20" stroke-width="0.55"/>
<circle cx="82.47" cy="490.01" r="1.7" fill="#a9aaac" stroke="#231f20" stroke-width="0.55"/>
<circle cx="87.60" cy="487.60" r="1.7" fill="#a9aaac" stroke="#231f20" stroke-width="0.55"/>
<circle cx="88.75" cy="485.21" r="1.7" fill="#a9aaac" stroke="#231f20" stroke-width="0.55"/>
<circle cx="90.67" cy="488.72" r="1.7" fill="#a9aaac" stroke="#231f20" stroke-width="0.55"/>
<circle cx="90.52" cy="487.76" r="1.7" fill="#a9aaac" stroke="#231f20" stroke-width="0.55"/>
<circle cx="93.16" cy="493.37" r="1.7" fill="#a9aaac" stroke="#231f20" stroke-width="0.55"/>
<circle cx="82.02" cy="476.23" r="1.7" fill="#a9aaac" stroke="#231f20" stroke-width="0.55"/>
<circle cx="93.58" cy="493.01" r="1.7" fill="#a9aaac" stroke="#231f20" stroke-width="0.55"/>
<circle cx="85.16" cy="479.10" r="1.7" fill="#a9aaac" stroke="#231f20" stroke-width="0.55"/>
<circle cx="87.29" cy="484.18" r="1.7" fill="#a9aaac" stroke="#231f20" stroke-width="0.55"/>
<circle cx="83.78" cy="477.33" r="1.7" fill="#a9aaac" stroke="#231f20" stroke-width="0.55"/>
<circle cx="81.00" cy="482.28" r="1.7" fill="#a9aaac" stroke="#231f20" stroke-width="0.55"/>
<circle cx="91.09" cy="488.77" r="1.7" fill="#a9aaac" stroke="#231f20" stroke-width="0.55"/>
<circle cx="92.33" cy="492.89" r="1.7" fill="#a9aaac" stroke="#231f20" stroke-width="0.55"/>
<circle cx="92.05" cy="492.72" r="1.7" fill="#a9aaac" stroke="#231f20" stroke-width="0.55"/>
<circle cx="88.31" cy="491.75" r="1.7" fill="#a9aaac" stroke="#231f20" stroke-width="0.55"/>
<circle cx="92.46" cy="492.22" r="1.7" fill="#a9aaac" stroke="#231f20" stroke-width="0.55"/>
<circle cx="90.33" cy="488.45" r="1.7" fill="#a9aaac" stroke="#231f20" stroke-width="0.55"/>
<circle cx="92.84" cy="493.55" r="1.7" fill="#a9aaac" stroke="#231f20" stroke-width="0.55"/>
<circle cx="93.88" cy="493.30" r="1.7" fill="#a9aaac" stroke="#231f20" stroke-width="0.55"/>
<circle cx="92.89" cy="492.48" r="1.7" fill="#a9aaac" stroke="#231f20" stroke-width="0.55"/>
<circle cx="90.39" cy="488.66" r="1.7" fill="#a9aaac" stroke="#231f20" stroke-width="0.55"/>
<circle cx="92.46" cy="493.00" r="1.7" fill="#a9aaac" stroke="#231f20" stroke-width="0.55"/>
<circle cx="89.35" cy="489.59" r="1.7" fill="#a9aaac" stroke="#231f20" stroke-width="0.55"/>
<circle cx="93.37" cy="492.66" r="1.7" fill="#a9aaac" stroke="#231f20" stroke-width="0.55"/>
<circle cx="90.27" cy="489.11" r="1.7" fill="#a9aaac" stroke="#231f20" stroke-width="0.55"/>
<circle cx="85.50" cy="492.96" r="1.7" fill="#a9aaac" stroke="#231f20" stroke-width="0.55"/>
<circle cx="90.83" cy="490.68" r="1.7" fill="#a9aaac" stroke="#231f20" stroke-width="0.55"/>
<circle cx="82.10" cy="491.97" r="1.7" fill="#a9aaac" stroke="#231f20" stroke-width="0.55"/>
<circle cx="86.65" cy="491.16" r="1.7" fill="#a9aaac" stroke="#231f20" stroke-width="0.55"/>
<circle cx="83.35" cy="492.20" r="1.7" fill="#a9aaac" stroke="#231f20" stroke-width="0.55"/>
<circle cx="92.83" cy="492.41" r="1.7" fill="#a9aaac" stroke="#231f20" stroke-width="0.55"/>
<circle cx="86.35" cy="490.72" r="1.7" fill="#a9aaac" stroke="#231f20" stroke-width="0.55"/>
<circle cx="90.86" cy="488.62" r="1.7" fill="#a9aaac" stroke="#231f20" stroke-width="0.55"/>
<circle cx="89.78" cy="489.24" r="1.7" fill="#a9aaac" stroke="#231f20" stroke-width="0.55"/>
<circle cx="93.57" cy="492.91" r="1.7" fill="#a9aaac" stroke="#231f20" stroke-width="0.55"/>
<circle cx="74.42" cy="467.06" r="1.7" fill="#a9aaac" stroke="#231f20" stroke-width="0.55"/>
<circle cx="92.64" cy="491.89" r="1.7" fill="#a9aaac" stroke="#231f20" stroke-width="0.55"/>
<circle cx="84.72" cy="485.13" r="1.7" fill="#a9aaac" stroke="#231f20" stroke-width="0.55"/>
<circle cx="92.54" cy="493.08" r="1.7" fill="#a9aaac" stroke="#231f20" stroke-width="0.55"/>
<circle cx="80.19" cy="475.77" r="1.7" fill="#a9aaac" stroke="#231f20" stroke-width="0.55"/>
<circle cx="94.09" cy="493.59" r="1.7" fill="#a9aaac" stroke="#231f20" stroke-width="0.55"/>
<circle cx="93.98" cy="493.47" r="1.7" fill="#a9aaac" stroke="#231f20" stroke-width="0.55"/>
<circle cx="86.19" cy="486.57" r="1.7" fill="#a9aaac" stroke="#231f20" stroke-width="0.55"/>
<circle cx="93.85" cy="493.51" r="1.7" fill="#a9aaac" stroke="#231f20" stroke-width="0.55"/>
<circle cx="89.33" cy="487.75" r="1.7" fill="#a9aaac" stroke="#231f20" stroke-width="0.55"/>
<circle cx="93.00" cy="492.16" r="1.7" fill="#a9aaac" stroke="#231f20" stroke-width="0.55"/>
<circle cx="87.43" cy="484.81" r="1.7" fill="#a9aaac" stroke="#231f20" stroke-width="0.55"/>
<circle cx="87.80" cy="492.81" r="1.7" fill="#a9aaac" stroke="#231f20" stroke-width="0.55"/>
<circle cx="85.80" cy="489.94" r="1.7" fill="#a9aaac" stroke="#231f20" stroke-width="0.55"/>
<circle cx="91.98" cy="492.91" r="1.7" fill="#a9aaac" stroke="#231f20" stroke-width="0.55"/>
<circle cx="72.49" cy="492.01" r="1.7" fill="#a9aaac" stroke="#231f20" stroke-width="0.55"/>
<circle cx="81.11" cy="488.18" r="1.7" fill="#a9aaac" stroke="#231f20" stroke-width="0.55"/>
<circle cx="76.04" cy="465.50" r="1.7" fill="#a9aaac" stroke="#231f20" stroke-width="0.55"/>
<circle cx="90.29" cy="487.35" r="1.7" fill="#a9aaac" stroke="#231f20" stroke-width="0.55"/>
<circle cx="76.57" cy="473.21" r="1.7" fill="#a9aaac" stroke="#231f20" stroke-width="0.55"/>
<circle cx="90.88" cy="491.28" r="1.7" fill="#a9aaac" stroke="#231f20" stroke-width="0.55"/>
<circle cx="84.65" cy="482.76" r="1.7" fill="#a9aaac" stroke="#231f20" stroke-width="0.55"/>
<circle cx="84.91" cy="492.95" r="1.7" fill="#a9aaac" stroke="#231f20" stroke-width="0.55"/>
<circle cx="82.00" cy="488.42" r="1.7" fill="#a9aaac" stroke="#231f20" stroke-width="0.55"/>
<circle cx="93.10" cy="492.32" r="1.7" fill="#a9aaac" stroke="#231f20" stroke-width="0.55"/>
<circle cx="88.46" cy="485.31" r="1.7" fill="#a9aaac" stroke="#231f20" stroke-width="0.55"/>
<circle cx="85.26" cy="493.40" r="1.7" fill="#a9aaac" stroke="#231f20" stroke-width="0.55"/>
<circle cx="88.13" cy="490.79" r="1.7" fill="#a9aaac" stroke="#231f20" stroke-width="0.55"/>
<circle cx="85.25" cy="481.14" r="1.7" fill="#a9aaac" stroke="#231f20" stroke-width="0.55"/>
<circle cx="82.76" cy="477.51" r="1.7" fill="#a9aaac" stroke="#231f20" stroke-width="0.55"/>
<circle cx="92.61" cy="492.94" r="1.7" fill="#a9aaac" stroke="#231f20" stroke-width="0.55"/>
<circle cx="84.60" cy="482.73" r="1.7" fill="#a9aaac" stroke="#231f20" stroke-width="0.55"/>
<circle cx="91.98" cy="491.82" r="1.7" fill="#a9aaac" stroke="#231f20" stroke-width="0.55"/>
<circle cx="78.26" cy="478.28" r="1.7" fill="#a9aaac" stroke="#231f20" stroke-width="0.55"/>
<circle cx="79.35" cy="486.14" r="1.7" fill="#a9aaac" stroke="#231f20" stroke-width="0.55"/>
<circle cx="78.76" cy="474.56" r="1.7" fill="#a9aaac" stroke="#231f20" stroke-width="0.55"/>
<circle cx="93.90" cy="493.32" r="1.7" fill="#a9aaac" stroke="#231f20" stroke-width="0.55"/>
<circle cx="92.73" cy="493.09" r="1.7" fill="#a9aaac" stroke="#231f20" stroke-width="0.55"/>
<circle cx="91.18" cy="489.43" r="1.7" fill="#a9aaac" stroke="#231f20" stroke-width="0.55"/>
<circle cx="79.48" cy="483.27" r="1.7" fill="#a9aaac" stroke="#231f20" stroke-width="0.55"/>
<circle cx="92.10" cy="493.51" r="1.7" fill="#a9aaac" stroke="#231f20" stroke-width="0.55"/>
<circle cx="84.90" cy="484.67" r="1.7" fill="#a9aaac" stroke="#231f20" stroke-width="0.55"/>
<circle cx="91.10" cy="491.38" r="1.7" fill="#a9aaac" stroke="#231f20" stroke-width="0.55"/>
<circle cx="88.42" cy="487.27" r="1.7" fill="#a9aaac" stroke="#231f20" stroke-width="0.55"/>
<circle cx="92.86" cy="492.36" r="1.7" fill="#a9aaac" stroke="#231f20" stroke-width="0.55"/>
<circle cx="87.63" cy="490.26" r="1.7" fill="#a9aaac" stroke="#231f20" stroke-width="0.55"/>
<circle cx="81.08" cy="486.16" r="1.7" fill="#a9aaac" stroke="#231f20" stroke-width="0.55"/>
<circle cx="88.88" cy="485.76" r="1.7" fill="#a9aaac" stroke="#231f20" stroke-width="0.55"/>
<circle cx="91.50" cy="493.23" r="1.7" fill="#a9aaac" stroke="#231f20" stroke-width="0.55"/>
<circle cx="93.56" cy="493.48" r="1.7" fill="#a9aaac" stroke="#231f20" stroke-width="0.55"/>
<circle cx="86.18" cy="483.71" r="1.7" fill="#a9aaac" stroke="#231f20" stroke-width="0.55"/>
<circle cx="93.67" cy="492.90" r="1.7" fill="#a9aaac" stroke="#231f20" stroke-width="0.55"/>
<circle cx="86.92" cy="490.55" r="1.7" fill="#a9aaac" stroke="#231f20" stroke-width="0.55"/>
<circle cx="91.94" cy="490.31" r="1.7" fill="#a9aaac" stroke="#231f20" stroke-width="0.55"/>
<circle cx="86.47" cy="480.97" r="1.7" fill="#a9aaac" stroke="#231f20" stroke-width="0.55"/>
<circle cx="76.42" cy="479.26" r="1.7" fill="#a9aaac" stroke="#231f20" stroke-width="0.55"/>
<circle cx="93.95" cy="493.56" r="1.7" fill="#a9aaac" stroke="#231f20" stroke-width="0.55"/>
<circle cx="85.62" cy="483.51" r="1.7" fill="#a9aaac" stroke="#231f20" stroke-width="0.55"/>
<circle cx="86.07" cy="485.62" r="1.7" fill="#a9aaac" stroke="#231f20" stroke-width="0.55"/>
<circle cx="85.63" cy="489.68" r="1.7" fill="#a9aaac" stroke="#231f20" stroke-width="0.55"/>
<circle cx="78.78" cy="473.77" r="1.7" fill="#a9aaac" stroke="#231f20" stroke-width="0.55"/>
<circle cx="91.97" cy="490.84" r="1.7" fill="#a9aaac" stroke="#231f20" stroke-width="0.55"/>
<circle cx="90.16" cy="489.31" r="1.7" fill="#a9aaac" stroke="#231f20" stroke-width="0.55"/>
<circle cx="86.62" cy="488.53" r="1.7" fill="#a9aaac" stroke="#231f20" stroke-width="0.55"/>
<circle cx="93.79" cy="493.31" r="1.7" fill="#a9aaac" stroke="#231f20" stroke-width="0.55"/>
<circle cx="82.76" cy="477.32" r="1.7" fill="#a9aaac" stroke="#231f20" stroke-width="0.55"/>
<circle cx="89.34" cy="489.20" r="1.7" fill="#a9aaac" stroke="#231f20" stroke-width="0.55"/>
<circle cx="89.77" cy="487.39" r="1.7" fill="#a9aaac" stroke="#231f20" stroke-width="0.55"/>
<circle cx="77.41" cy="487.20" r="1.7" fill="#a9aaac" stroke="#231f20" stroke-width="0.55"/>
<circle cx="84.66" cy="488.06" r="1.7" fill="#a9aaac" stroke="#231f20" stroke-width="0.55"/>
<circle cx="93.97" cy="493.56" r="1.7" fill="#a9aaac" stroke="#231f20" stroke-width="0.55"/>
<circle cx="87.37" cy="491.55" r="1.7" fill="#a9aaac" stroke="#231f20" stroke-width="0.55"/>
<circle cx="89.46" cy="486.11" r="1.7" fill="#a9aaac" stroke="#231f20" stroke-width="0.55"/>
<circle cx="83.69" cy="482.31" r="1.7" fill="#a9aaac" stroke="#231f20" stroke-width="0.55"/>
<circle cx="92.94" cy="492.48" r="1.7" fill="#a9aaac" stroke="#231f20" stroke-width="0.55"/>
<circle cx="72.36" cy="485.30" r="1.7" fill="#a9aaac" stroke="#231f20" stroke-width="0.55"/>
<circle cx="85.64" cy="490.89" r="1.7" fill="#a9aaac" stroke="#231f20" stroke-width="0.55"/>
<circle cx="88.52" cy="488.19" r="1.7" fill="#a9aaac" stroke="#231f20" stroke-width="0.55"/>
<circle cx="92.89" cy="493.53" r="1.7" fill="#a9aaac" stroke="#231f20" stroke-width="0.55"/>
<circle cx="85.86" cy="491.86" r="1.7" fill="#a9aaac" stroke="#231f20" stroke-width="0.55"/>
<circle cx="89.98" cy="490.17" r="1.7" fill="#a9aaac" stroke="#231f20" stroke-width="0.55"/>
<circle cx="89.42" cy="486.07" r="1.7" fill="#a9aaac" stroke="#231f20" stroke-width="0.55"/>
<circle cx="93.13" cy="492.59" r="1.7" fill="#a9aaac" stroke="#231f20" stroke-width="0.55"/>
<circle cx="85.41" cy="490.79" r="1.7" fill="#a9aaac" stroke="#231f20" stroke-width="0.55"/>
<circle cx="75.82" cy="492.99" r="1.7" fill="#a9aaac" stroke="#231f20" stroke-width="0.55"/>
<circle cx="74.76" cy="480.18" r="1.7" fill="#a9aaac" stroke="#231f20" stroke-width="0.55"/>
<circle cx="93.45" cy="492.97" r="1.7" fill="#a9aaac" stroke="#231f20" stroke-width="0.55"/>
<circle cx="92.39" cy="491.26" r="1.7" fill="#a9aaac" stroke="#231f20" stroke-width="0.55"/>
<circle cx="88.25" cy="484.56" r="1.7" fill="#a9aaac" stroke="#231f20" stroke-width="0.55"/>
<circle cx="92.33" cy="491.76" r="1.7" fill="#a9aaac" stroke="#231f20" stroke-width="0.55"/>
<circle cx="93.60" cy="493.55" r="1.7" fill="#a9aaac" stroke="#231f20" stroke-width="0.55"/>
<circle cx="87.38" cy="487.86" r="1.7" fill="#a9aaac" stroke="#231f20" stroke-width="0.55"/>
<circle cx="86.98" cy="482.00" r="1.7" fill="#a9aaac" stroke="#231f20" stroke-width="0.55"/>
<circle cx="93.30" cy="492.30" r="1.7" fill="#a9aaac" stroke="#231f20" stroke-width="0.55"/>
<circle cx="83.95" cy="477.67" r="1.7" fill="#a9aaac" stroke="#231f20" stroke-width="0.55"/>
<circle cx="92.24" cy="493.49" r="1.7" fill="#a9aaac" stroke="#231f20" stroke-width="0.55"/>
<circle cx="89.03" cy="487.18" r="1.7" fill="#a9aaac" stroke="#231f20" stroke-width="0.55"/>
<circle cx="91.36" cy="491.21" r="1.7" fill="#a9aaac" stroke="#231f20" stroke-width="0.55"/>
<circle cx="87.14" cy="483.42" r="1.7" fill="#a9aaac" stroke="#231f20" stroke-width="0.55"/>
<circle cx="87.93" cy="485.01" r="1.7" fill="#a9aaac" stroke="#231f20" stroke-width="0.55"/>
<circle cx="82.16" cy="488.62" r="1.7" fill="#a9aaac" stroke="#231f20" stroke-width="0.55"/>
<circle cx="92.19" cy="490.63" r="1.7" fill="#a9aaac" stroke="#231f20" stroke-width="0.55"/>
<circle cx="79.95" cy="477.28" r="1.7" fill="#a9aaac" stroke="#231f20" stroke-width="0.55"/>
<circle cx="85.44" cy="480.58" r="1.7" fill="#a9aaac" stroke="#231f20" stroke-width="0.55"/>
<circle cx="93.99" cy="493.44" r="1.7" fill="#a9aaac" stroke="#231f20" stroke-width="0.55"/>
<circle cx="86.29" cy="484.81" r="1.7" fill="#a9aaac" stroke="#231f20" stroke-width="0.55"/>
<circle cx="89.39" cy="488.21" r="1.7" fill="#a9aaac" stroke="#231f20" stroke-width="0.55"/>
<circle cx="76.60" cy="493.06" r="1.7" fill="#a9aaac" stroke="#231f20" stroke-width="0.55"/>
<circle cx="79.91" cy="475.87" r="1.7" fill="#a9aaac" stroke="#231f20" stroke-width="0.55"/>
<circle cx="88.24" cy="492.56" r="1.7" fill="#a9aaac" stroke="#231f20" stroke-width="0.55"/>
<circle cx="90.32" cy="488.72" r="1.7" fill="#a9aaac" stroke="#231f20" stroke-width="0.55"/>
<circle cx="93.72" cy="493.57" r="1.7" fill="#a9aaac" stroke="#231f20" stroke-width="0.55"/>
<circle cx="92.15" cy="492.16" r="1.7" fill="#a9aaac" stroke="#231f20" stroke-width="0.55"/>
<circle cx="85.99" cy="489.32" r="1.7" fill="#a9aaac" stroke="#231f20" stroke-width="0.55"/>
<circle cx="84.83" cy="492.26" r="1.7" fill="#a9aaac" stroke="#231f20" stroke-width="0.55"/>
<circle cx="87.59" cy="488.87" r="1.7" fill="#a9aaac" stroke="#231f20" stroke-width="0.55"/>
<circle cx="93.24" cy="493.43" r="1.7" fill="#a9aaac" stroke="#231f20" stroke-width="0.55"/>
<circle cx="90.19" cy="488.72" r="1.7" fill="#a9aaac" stroke="#231f20" stroke-width="0.55"/>
<circle cx="84.24" cy="482.99" r="1.7" fill="#a9aaac" stroke="#231f20" stroke-width="0.55"/>
<circle cx="89.08" cy="485.98" r="1.7" fill="#a9aaac" stroke="#231f20" stroke-width="0.55"/>
<circle cx="81.54" cy="475.25" r="1.7" fill="#a9aaac" stroke="#231f20" stroke-width="0.55"/>
<circle cx="83.61" cy="491.12" r="1.7" fill="#a9aaac" stroke="#231f20" stroke-width="0.55"/>
<circle cx="77.90" cy="485.34" r="1.7" fill="#a9aaac" stroke="#231f20" stroke-width="0.55"/>
<circle cx="88.61" cy="488.96" r="1.7" fill="#a9aaac" stroke="#231f20" stroke-width="0.55"/>
<circle cx="91.75" cy="491.92" r="1.7" fill="#a9aaac" stroke="#231f20" stroke-width="0.55"/>
<circle cx="89.14" cy="489.44" r="1.7" fill="#a9aaac" stroke="#231f20" stroke-width="0.55"/>
<circle cx="91.10" cy="492.97" r="1.7" fill="#a9aaac" stroke="#231f20" stroke-width="0.55"/>
<circle cx="88.15" cy="487.34" r="1.7" fill="#a9aaac" stroke="#231f20" stroke-width="0.55"/>
<circle cx="87.74" cy="490.13" r="1.7" fill="#a9aaac" stroke="#231f20" stroke-width="0.55"/>
<circle cx="86.73" cy="482.74" r="1.7" fill="#a9aaac" stroke="#231f20" stroke-width="0.55"/>
<circle cx="92.89" cy="493.32" r="1.7" fill="#a9aaac" stroke="#231f20" stroke-width="0.55"/>
<circle cx="92.05" cy="491.49" r="1.7" fill="#a9aaac" stroke="#231f20" stroke-width="0.55"/>
<circle cx="85.29" cy="487.05" r="1.7" fill="#a9aaac" stroke="#231f20" stroke-width="0.55"/>
<circle cx="87.71" cy="492.07" r="1.7" fill="#a9aaac" stroke="#231f20" stroke-width="0.55"/>
<circle cx="92.38" cy="491.78" r="1.7" fill="#a9aaac" stroke="#231f20" stroke-width="0.55"/>
<circle cx="74.55" cy="482.92" r="1.7" fill="#a9aaac" stroke="#231f20" stroke-width="0.55"/>
<circle cx="91.64" cy="493.04" r="1.7" fill="#a9aaac" stroke="#231f20" stroke-width="0.55"/>
<circle cx="86.79" cy="485.96" r="1.7" fill="#a9aaac" stroke="#231f20" stroke-width="0.55"/>
<circle cx="76.45" cy="480.35" r="1.7" fill="#a9aaac" stroke="#231f20" stroke-width="0.55"/>
<circle cx="85.10" cy="491.27" r="1.7" fill="#a9aaac" stroke="#231f20" stroke-width="0.55"/>
<circle cx="91.23" cy="492.11" r="1.7" fill="#a9aaac" stroke="#231f20" stroke-width="0.55"/>
<circle cx="92.78" cy="491.46" r="1.7" fill="#a9aaac" stroke="#231f20" stroke-width="0.55"/>
<circle cx="87.90" cy="483.70" r="1.7" fill="#a9aaac" stroke="#231f20" stroke-width="0.55"/>
<circle cx="87.78" cy="492.40" r="1.7" fill="#a9aaac" stroke="#231f20" stroke-width="0.55"/>
<circle cx="92.42" cy="491.03" r="1.7" fill="#a9aaac" stroke="#231f20" stroke-width="0.55"/>
<circle cx="79.01" cy="489.62" r="1.7" fill="#a9aaac" stroke="#231f20" stroke-width="0.55"/>
<circle cx="85.45" cy="493.32" r="1.7" fill="#a9aaac" stroke="#231f20" stroke-width="0.55"/>
<circle cx="91.32" cy="492.68" r="1.7" fill="#a9aaac" stroke="#231f20" stroke-width="0.55"/>
<circle cx="91.81" cy="490.85" r="1.7" fill="#a9aaac" stroke="#231f20" stroke-width="0.55"/>
<circle cx="91.34" cy="490.24" r="1.7" fill="#a9aaac" stroke="#231f20" stroke-width="0.55"/>
<circle cx="80.80" cy="474.94" r="1.7" fill="#a9aaac" stroke="#231f20" stroke-width="0.55"/>
<circle cx="82.96" cy="477.88" r="1.7" fill="#a9aaac" stroke="#231f20" stroke-width="0.55"/>
<circle cx="91.64" cy="492.86" r="1.7" fill="#a9aaac" stroke="#231f20" stroke-width="0.55"/>
<circle cx="85.62" cy="492.77" r="1.7" fill="#a9aaac" stroke="#231f20" stroke-width="0.55"/>
<circle cx="82.07" cy="479.81" r="1.7" fill="#a9aaac" stroke="#231f20" stroke-width="0.55"/>
<circle cx="93.17" cy="492.71" r="1.7" fill="#a9aaac" stroke="#231f20" stroke-width="0.55"/>
<circle cx="93.83" cy="493.45" r="1.7" fill="#a9aaac" stroke="#231f20" stroke-width="0.55"/>
<circle cx="92.47" cy="492.37" r="1.7" fill="#a9aaac" stroke="#231f20" stroke-width="0.55"/>
<circle cx="87.38" cy="483.55" r="1.7" fill="#a9aaac" stroke="#231f20" stroke-width="0.55"/>
<circle cx="91.50" cy="493.22" r="1.7" fill="#a9aaac" stroke="#231f20" stroke-width="0.55"/>
<circle cx="86.14" cy="483.94" r="1.7" fill="#a9aaac" stroke="#231f20" stroke-width="0.55"/>
<circle cx="88.45" cy="487.72" r="1.7" fill="#a9aaac" stroke="#231f20" stroke-width="0.55"/>
<circle cx="65.55" cy="468.75" r="1.7" fill="#a9aaac" stroke="#231f20" stroke-width="0.55"/>
<circle cx="74.90" cy="478.98" r="1.7" fill="#a9aaac" stroke="#231f20" stroke-width="0.55"/>
<circle cx="84.62" cy="478.14" r="1.7" fill="#a9aaac" stroke="#231f20" stroke-width="0.55"/>
<circle cx="80.92" cy="483.31" r="1.7" fill="#a9aaac" stroke="#231f20" stroke-width="0.55"/>
<circle cx="90.86" cy="489.95" r="1.7" fill="#a9aaac" stroke="#231f20" stroke-width="0.55"/>
<circle cx="83.59" cy="485.21" r="1.7" fill="#a9aaac" stroke="#231f20" stroke-width="0.55"/>
<circle cx="85.14" cy="492.61" r="1.7" fill="#a9aaac" stroke="#231f20" stroke-width="0.55"/>
<circle cx="87.66" cy="492.87" r="1.7" fill="#a9aaac" stroke="#231f20" stroke-width="0.55"/>
<circle cx="91.27" cy="489.30" r="1.7" fill="#a9aaac" stroke="#231f20" stroke-width="0.55"/>
<circle cx="87.57" cy="483.80" r="1.7" fill="#a9aaac" stroke="#231f20" stroke-width="0.55"/>
<circle cx="93.95" cy="493.53" r="1.7" fill="#a9aaac" stroke="#231f20" stroke-width="0.55"/>
<circle cx="89.42" cy="489.46" r="1.7" fill="#a9aaac" stroke="#231f20" stroke-width="0.55"/>
<circle cx="84.55" cy="493.56" r="1.7" fill="#a9aaac" stroke="#231f20" stroke-width="0.55"/>
<circle cx="89.93" cy="492.17" r="1.7" fill="#a9aaac" stroke="#231f20" stroke-width="0.55"/>
<circle cx="85.50" cy="485.81" r="1.7" fill="#a9aaac" stroke="#231f20" stroke-width="0.55"/>
<circle cx="89.76" cy="486.94" r="1.7" fill="#a9aaac" stroke="#231f20" stroke-width="0.55"/>
<circle cx="93.02" cy="492.38" r="1.7" fill="#a9aaac" stroke="#231f20" stroke-width="0.55"/>
<circle cx="84.56" cy="488.98" r="1.7" fill="#a9aaac" stroke="#231f20" stroke-width="0.55"/>
<circle cx="80.07" cy="474.63" r="1.7" fill="#a9aaac" stroke="#231f20" stroke-width="0.55"/>
<circle cx="86.58" cy="484.14" r="1.7" fill="#a9aaac" stroke="#231f20" stroke-width="0.55"/>
<circle cx="94.43" cy="493.52" r="1.7" fill="#a9aaac" stroke="#231f20" stroke-width="0.55"/>
<circle cx="95.22" cy="491.93" r="1.7" fill="#a9aaac" stroke="#231f20" stroke-width="0.55"/>
<circle cx="94.30" cy="493.38" r="1.7" fill="#a9aaac" stroke="#231f20" stroke-width="0.55"/>
<circle cx="96.49" cy="490.22" r="1.7" fill="#a9aaac" stroke="#231f20" stroke-width="0.55"/>
<circle cx="94.99" cy="492.37" r="1.7" fill="#a9aaac" stroke="#231f20" stroke-width="0.55"/>
<circle cx="95.32" cy="491.83" r="1.7" fill="#a9aaac" stroke="#231f20" stroke-width="0.55"/>
<circle cx="98.27" cy="490.10" r="1.7" fill="#a9aaac" stroke="#231f20" stroke-width="0.55"/>
<circle cx="95.90" cy="493.40" r="1.7" fill="#a9aaac" stroke="#231f20" stroke-width="0.55"/>
<circle cx="99.02" cy="487.32" r="1.7" fill="#a9aaac" stroke="#231f20" stroke-width="0.55"/>
<circle cx="95.19" cy="491.23" r="1.7" fill="#a9aaac" stroke="#231f20" stroke-width="0.55"/>
<circle cx="99.75" cy="483.95" r="1.7" fill="#a9aaac" stroke="#231f20" stroke-width="0.55"/>
<circle cx="95.17" cy="491.61" r="1.7" fill="#a9aaac" stroke="#231f20" stroke-width="0.55"/>
<circle cx="94.99" cy="491.95" r="1.7" fill="#a9aaac" stroke="#231f20" stroke-width="0.55"/>
<circle cx="103.14" cy="489.43" r="1.7" fill="#a9aaac" stroke="#231f20" stroke-width="0.55"/>
<circle cx="95.59" cy="492.01" r="1.7" fill="#a9aaac" stroke="#231f20" stroke-width="0.55"/>
<circle cx="100.04" cy="485.06" r="1.7" fill="#a9aaac" stroke="#231f20" stroke-width="0.55"/>
<circle cx="99.44" cy="489.60" r="1.7" fill="#a9aaac" stroke="#231f20" stroke-width="0.55"/>
<circle cx="94.72" cy="492.12" r="1.7" fill="#a9aaac" stroke="#231f20" stroke-width="0.55"/>
<circle cx="98.72" cy="485.77" r="1.7" fill="#a9aaac" stroke="#231f20" stroke-width="0.55"/>
<circle cx="96.84" cy="490.22" r="1.7" fill="#a9aaac" stroke="#231f20" stroke-width="0.55"/>
<circle cx="95.26" cy="491.32" r="1.7" fill="#a9aaac" stroke="#231f20" stroke-width="0.55"/>
<circle cx="98.61" cy="490.03" r="1.7" fill="#a9aaac" stroke="#231f20" stroke-width="0.55"/>
<circle cx="99.35" cy="489.95" r="1.7" fill="#a9aaac" stroke="#231f20" stroke-width="0.55"/>
<circle cx="101.85" cy="485.83" r="1.7" fill="#a9aaac" stroke="#231f20" stroke-width="0.55"/>
<circle cx="104.05" cy="476.77" r="1.7" fill="#a9aaac" stroke="#231f20" stroke-width="0.55"/>
<circle cx="103.81" cy="479.79" r="1.7" fill="#a9aaac" stroke="#231f20" stroke-width="0.55"/>
<circle cx="100.78" cy="480.95" r="1.7" fill="#a9aaac" stroke="#231f20" stroke-width="0.55"/>
<circle cx="94.77" cy="492.34" r="1.7" fill="#a9aaac" stroke="#231f20" stroke-width="0.55"/>
<circle cx="101.98" cy="480.10" r="1.7" fill="#a9aaac" stroke="#231f20" stroke-width="0.55"/>
<circle cx="94.41" cy="493.14" r="1.7" fill="#a9aaac" stroke="#231f20" stroke-width="0.55"/>
<circle cx="99.85" cy="486.43" r="1.7" fill="#a9aaac" stroke="#231f20" stroke-width="0.55"/>
<circle cx="96.23" cy="493.37" r="1.7" fill="#a9aaac" stroke="#231f20" stroke-width="0.55"/>
<circle cx="96.11" cy="492.53" r="1.7" fill="#a9aaac" stroke="#231f20" stroke-width="0.55"/>
<circle cx="95.39" cy="490.64" r="1.7" fill="#a9aaac" stroke="#231f20" stroke-width="0.55"/>
<circle cx="97.58" cy="491.29" r="1.7" fill="#a9aaac" stroke="#231f20" stroke-width="0.55"/>
<circle cx="95.81" cy="491.62" r="1.7" fill="#a9aaac" stroke="#231f20" stroke-width="0.55"/>
<circle cx="94.76" cy="493.49" r="1.7" fill="#a9aaac" stroke="#231f20" stroke-width="0.55"/>
<circle cx="94.63" cy="493.50" r="1.7" fill="#a9aaac" stroke="#231f20" stroke-width="0.55"/>
<circle cx="94.60" cy="493.34" r="1.7" fill="#a9aaac" stroke="#231f20" stroke-width="0.55"/>
<circle cx="103.99" cy="481.16" r="1.7" fill="#a9aaac" stroke="#231f20" stroke-width="0.55"/>
<circle cx="98.84" cy="487.66" r="1.7" fill="#a9aaac" stroke="#231f20" stroke-width="0.55"/>
<circle cx="100.80" cy="488.50" r="1.7" fill="#a9aaac" stroke="#231f20" stroke-width="0.55"/>
<circle cx="106.09" cy="475.10" r="1.7" fill="#a9aaac" stroke="#231f20" stroke-width="0.55"/>
<circle cx="106.31" cy="465.99" r="1.7" fill="#a9aaac" stroke="#231f20" stroke-width="0.55"/>
<circle cx="103.13" cy="484.59" r="1.7" fill="#a9aaac" stroke="#231f20" stroke-width="0.55"/>
<circle cx="94.32" cy="493.35" r="1.7" fill="#a9aaac" stroke="#231f20" stroke-width="0.55"/>
<circle cx="116.43" cy="476.93" r="1.7" fill="#a9aaac" stroke="#231f20" stroke-width="0.55"/>
<circle cx="98.32" cy="486.64" r="1.7" fill="#a9aaac" stroke="#231f20" stroke-width="0.55"/>
<circle cx="94.44" cy="493.57" r="1.7" fill="#a9aaac" stroke="#231f20" stroke-width="0.55"/>
<circle cx="97.28" cy="490.18" r="1.7" fill="#a9aaac" stroke="#231f20" stroke-width="0.55"/>
<circle cx="96.39" cy="492.21" r="1.7" fill="#a9aaac" stroke="#231f20" stroke-width="0.55"/>
<circle cx="101.61" cy="483.04" r="1.7" fill="#a9aaac" stroke="#231f20" stroke-width="0.55"/>
<circle cx="98.74" cy="485.10" r="1.7" fill="#a9aaac" stroke="#231f20" stroke-width="0.55"/>
<circle cx="96.24" cy="488.63" r="1.7" fill="#a9aaac" stroke="#231f20" stroke-width="0.55"/>
<circle cx="95.84" cy="491.97" r="1.7" fill="#a9aaac" stroke="#231f20" stroke-width="0.55"/>
<circle cx="102.85" cy="474.28" r="1.7" fill="#a9aaac" stroke="#231f20" stroke-width="0.55"/>
<circle cx="94.26" cy="493.25" r="1.7" fill="#a9aaac" stroke="#231f20" stroke-width="0.55"/>
<circle cx="95.46" cy="491.13" r="1.7" fill="#a9aaac" stroke="#231f20" stroke-width="0.55"/>
<circle cx="96.24" cy="491.73" r="1.7" fill="#a9aaac" stroke="#231f20" stroke-width="0.55"/>
<circle cx="94.47" cy="493.14" r="1.7" fill="#a9aaac" stroke="#231f20" stroke-width="0.55"/>
<circle cx="98.61" cy="489.55" r="1.7" fill="#a9aaac" stroke="#231f20" stroke-width="0.55"/>
<circle cx="96.10" cy="492.81" r="1.7" fill="#a9aaac" stroke="#231f20" stroke-width="0.55"/>
<circle cx="95.89" cy="491.68" r="1.7" fill="#a9aaac" stroke="#231f20" stroke-width="0.55"/>
<circle cx="98.37" cy="487.49" r="1.7" fill="#a9aaac" stroke="#231f20" stroke-width="0.55"/>
<circle cx="95.62" cy="490.36" r="1.7" fill="#a9aaac" stroke="#231f20" stroke-width="0.55"/>
<circle cx="97.97" cy="491.02" r="1.7" fill="#a9aaac" stroke="#231f20" stroke-width="0.55"/>
<circle cx="104.10" cy="471.88" r="1.7" fill="#a9aaac" stroke="#231f20" stroke-width="0.55"/>
<circle cx="96.25" cy="488.72" r="1.7" fill="#a9aaac" stroke="#231f20" stroke-width="0.55"/>
<circle cx="112.71" cy="464.36" r="1.7" fill="#a9aaac" stroke="#231f20" stroke-width="0.55"/>
<circle cx="94.81" cy="492.73" r="1.7" fill="#a9aaac" stroke="#231f20" stroke-width="0.55"/>
<circle cx="100.48" cy="480.96" r="1.7" fill="#a9aaac" stroke="#231f20" stroke-width="0.55"/>
<circle cx="104.19" cy="491.59" r="1.7" fill="#a9aaac" stroke="#231f20" stroke-width="0.55"/>
<circle cx="95.24" cy="493.44" r="1.7" fill="#a9aaac" stroke="#231f20" stroke-width="0.55"/>
<circle cx="94.92" cy="492.64" r="1.7" fill="#a9aaac" stroke="#231f20" stroke-width="0.55"/>
<circle cx="95.43" cy="490.45" r="1.7" fill="#a9aaac" stroke="#231f20" stroke-width="0.55"/>
<circle cx="95.47" cy="493.16" r="1.7" fill="#a9aaac" stroke="#231f20" stroke-width="0.55"/>
<circle cx="97.20" cy="490.11" r="1.7" fill="#a9aaac" stroke="#231f20" stroke-width="0.55"/>
<circle cx="101.66" cy="483.35" r="1.7" fill="#a9aaac" stroke="#231f20" stroke-width="0.55"/>
<circle cx="96.70" cy="487.76" r="1.7" fill="#a9aaac" stroke="#231f20" stroke-width="0.55"/>
<circle cx="97.12" cy="486.85" r="1.7" fill="#a9aaac" stroke="#231f20" stroke-width="0.55"/>
<circle cx="95.34" cy="491.70" r="1.7" fill="#a9aaac" stroke="#231f20" stroke-width="0.55"/>
<circle cx="101.83" cy="492.54" r="1.7" fill="#a9aaac" stroke="#231f20" stroke-width="0.55"/>
<circle cx="102.16" cy="480.93" r="1.7" fill="#a9aaac" stroke="#231f20" stroke-width="0.55"/>
<circle cx="101.01" cy="479.30" r="1.7" fill="#a9aaac" stroke="#231f20" stroke-width="0.55"/>
<circle cx="99.88" cy="492.73" r="1.7" fill="#a9aaac" stroke="#231f20" stroke-width="0.55"/>
<circle cx="110.97" cy="488.56" r="1.7" fill="#a9aaac" stroke="#231f20" stroke-width="0.55"/>
<circle cx="94.57" cy="492.48" r="1.7" fill="#a9aaac" stroke="#231f20" stroke-width="0.55"/>
<circle cx="95.28" cy="491.61" r="1.7" fill="#a9aaac" stroke="#231f20" stroke-width="0.55"/>
<circle cx="95.02" cy="493.33" r="1.7" fill="#a9aaac" stroke="#231f20" stroke-width="0.55"/>
<circle cx="101.82" cy="484.12" r="1.7" fill="#a9aaac" stroke="#231f20" stroke-width="0.55"/>
<circle cx="101.65" cy="476.40" r="1.7" fill="#a9aaac" stroke="#231f20" stroke-width="0.55"/>
<circle cx="103.72" cy="480.31" r="1.7" fill="#a9aaac" stroke="#231f20" stroke-width="0.55"/>
<circle cx="105.76" cy="467.75" r="1.7" fill="#a9aaac" stroke="#231f20" stroke-width="0.55"/>
<circle cx="100.50" cy="488.38" r="1.7" fill="#a9aaac" stroke="#231f20" stroke-width="0.55"/>
<circle cx="99.43" cy="484.89" r="1.7" fill="#a9aaac" stroke="#231f20" stroke-width="0.55"/>
<circle cx="111.47" cy="488.99" r="1.7" fill="#a9aaac" stroke="#231f20" stroke-width="0.55"/>
<circle cx="97.00" cy="490.80" r="1.7" fill="#a9aaac" stroke="#231f20" stroke-width="0.55"/>
<circle cx="97.02" cy="491.51" r="1.7" fill="#a9aaac" stroke="#231f20" stroke-width="0.55"/>
<circle cx="103.25" cy="489.26" r="1.7" fill="#a9aaac" stroke="#231f20" stroke-width="0.55"/>
<circle cx="103.31" cy="483.12" r="1.7" fill="#a9aaac" stroke="#231f20" stroke-width="0.55"/>
<circle cx="106.24" cy="479.93" r="1.7" fill="#a9aaac" stroke="#231f20" stroke-width="0.55"/>
<circle cx="100.55" cy="486.86" r="1.7" fill="#a9aaac" stroke="#231f20" stroke-width="0.55"/>
<circle cx="95.80" cy="490.35" r="1.7" fill="#a9aaac" stroke="#231f20" stroke-width="0.55"/>
<circle cx="103.37" cy="486.93" r="1.7" fill="#a9aaac" stroke="#231f20" stroke-width="0.55"/>
<circle cx="94.90" cy="493.19" r="1.7" fill="#a9aaac" stroke="#231f20" stroke-width="0.55"/>
<circle cx="99.30" cy="492.32" r="1.7" fill="#a9aaac" stroke="#231f20" stroke-width="0.55"/>
<circle cx="95.22" cy="492.74" r="1.7" fill="#a9aaac" stroke="#231f20" stroke-width="0.55"/>
<circle cx="101.10" cy="485.28" r="1.7" fill="#a9aaac" stroke="#231f20" stroke-width="0.55"/>
<circle cx="100.45" cy="493.40" r="1.7" fill="#a9aaac" stroke="#231f20" stroke-width="0.55"/>
<circle cx="103.31" cy="488.27" r="1.7" fill="#a9aaac" stroke="#231f20" stroke-width="0.55"/>
<circle cx="104.13" cy="489.86" r="1.7" fill="#a9aaac" stroke="#231f20" stroke-width="0.55"/>
<circle cx="107.21" cy="474.77" r="1.7" fill="#a9aaac" stroke="#231f20" stroke-width="0.55"/>
<circle cx="104.73" cy="468.51" r="1.7" fill="#a9aaac" stroke="#231f20" stroke-width="0.55"/>
<circle cx="109.06" cy="468.93" r="1.7" fill="#a9aaac" stroke="#231f20" stroke-width="0.55"/>
<circle cx="106.33" cy="468.49" r="1.7" fill="#a9aaac" stroke="#231f20" stroke-width="0.55"/>
<circle cx="98.69" cy="489.78" r="1.7" fill="#a9aaac" stroke="#231f20" stroke-width="0.55"/>
<circle cx="101.40" cy="490.20" r="1.7" fill="#a9aaac" stroke="#231f20" stroke-width="0.55"/>
<circle cx="99.04" cy="492.29" r="1.7" fill="#a9aaac" stroke="#231f20" stroke-width="0.55"/>
<circle cx="94.75" cy="492.38" r="1.7" fill="#a9aaac" stroke="#231f20" stroke-width="0.55"/>
<circle cx="94.22" cy="493.50" r="1.7" fill="#a9aaac" stroke="#231f20" stroke-width="0.55"/>
<circle cx="101.85" cy="484.70" r="1.7" fill="#a9aaac" stroke="#231f20" stroke-width="0.55"/>
<circle cx="105.06" cy="468.09" r="1.7" fill="#a9aaac" stroke="#231f20" stroke-width="0.55"/>
<circle cx="98.52" cy="486.26" r="1.7" fill="#a9aaac" stroke="#231f20" stroke-width="0.55"/>
<circle cx="97.51" cy="485.95" r="1.7" fill="#a9aaac" stroke="#231f20" stroke-width="0.55"/>
<circle cx="97.22" cy="491.92" r="1.7" fill="#a9aaac" stroke="#231f20" stroke-width="0.55"/>
<circle cx="100.25" cy="485.64" r="1.7" fill="#a9aaac" stroke="#231f20" stroke-width="0.55"/>
<circle cx="100.80" cy="488.55" r="1.7" fill="#a9aaac" stroke="#231f20" stroke-width="0.55"/>
<circle cx="95.19" cy="491.04" r="1.7" fill="#a9aaac" stroke="#231f20" stroke-width="0.55"/>
<circle cx="97.62" cy="488.27" r="1.7" fill="#a9aaac" stroke="#231f20" stroke-width="0.55"/>
<circle cx="101.44" cy="491.43" r="1.7" fill="#a9aaac" stroke="#231f20" stroke-width="0.55"/>
<circle cx="101.47" cy="489.09" r="1.7" fill="#a9aaac" stroke="#231f20" stroke-width="0.55"/>
<circle cx="99.10" cy="490.30" r="1.7" fill="#a9aaac" stroke="#231f20" stroke-width="0.55"/>
<circle cx="95.60" cy="491.56" r="1.7" fill="#a9aaac" stroke="#231f20" stroke-width="0.55"/>
<circle cx="96.90" cy="491.03" r="1.7" fill="#a9aaac" stroke="#231f20" stroke-width="0.55"/>
<circle cx="106.72" cy="489.96" r="1.7" fill="#a9aaac" stroke="#231f20" stroke-width="0.55"/>
<circle cx="98.92" cy="484.48" r="1.7" fill="#a9aaac" stroke="#231f20" stroke-width="0.55"/>
<circle cx="98.33" cy="492.12" r="1.7" fill="#a9aaac" stroke="#231f20" stroke-width="0.55"/>
<circle cx="107.08" cy="464.00" r="1.7" fill="#a9aaac" stroke="#231f20" stroke-width="0.55"/>
<circle cx="104.91" cy="480.64" r="1.7" fill="#a9aaac" stroke="#231f20" stroke-width="0.55"/>
<circle cx="96.29" cy="490.95" r="1.7" fill="#a9aaac" stroke="#231f20" stroke-width="0.55"/>
<circle cx="98.30" cy="484.55" r="1.7" fill="#a9aaac" stroke="#231f20" stroke-width="0.55"/>
<circle cx="94.26" cy="493.40" r="1.7" fill="#a9aaac" stroke="#231f20" stroke-width="0.55"/>
<circle cx="94.21" cy="493.36" r="1.7" fill="#a9aaac" stroke="#231f20" stroke-width="0.55"/>
<circle cx="108.85" cy="467.44" r="1.7" fill="#a9aaac" stroke="#231f20" stroke-width="0.55"/>
<circle cx="98.64" cy="485.63" r="1.7" fill="#a9aaac" stroke="#231f20" stroke-width="0.55"/>
<circle cx="98.83" cy="488.86" r="1.7" fill="#a9aaac" stroke="#231f20" stroke-width="0.55"/>
<circle cx="95.60" cy="492.85" r="1.7" fill="#a9aaac" stroke="#231f20" stroke-width="0.55"/>
<circle cx="97.76" cy="490.12" r="1.7" fill="#a9aaac" stroke="#231f20" stroke-width="0.55"/>
<circle cx="98.76" cy="487.37" r="1.7" fill="#a9aaac" stroke="#231f20" stroke-width="0.55"/>
<circle cx="97.54" cy="492.80" r="1.7" fill="#a9aaac" stroke="#231f20" stroke-width="0.55"/>
<circle cx="97.51" cy="489.64" r="1.7" fill="#a9aaac" stroke="#231f20" stroke-width="0.55"/>
<circle cx="96.40" cy="490.47" r="1.7" fill="#a9aaac" stroke="#231f20" stroke-width="0.55"/>
<circle cx="96.48" cy="490.58" r="1.7" fill="#a9aaac" stroke="#231f20" stroke-width="0.55"/>
<circle cx="106.19" cy="465.34" r="1.7" fill="#a9aaac" stroke="#231f20" stroke-width="0.55"/>
<circle cx="100.26" cy="480.76" r="1.7" fill="#a9aaac" stroke="#231f20" stroke-width="0.55"/>
<circle cx="98.43" cy="485.26" r="1.7" fill="#a9aaac" stroke="#231f20" stroke-width="0.55"/>
<circle cx="98.45" cy="484.31" r="1.7" fill="#a9aaac" stroke="#231f20" stroke-width="0.55"/>
<circle cx="99.48" cy="481.11" r="1.7" fill="#a9aaac" stroke="#231f20" stroke-width="0.55"/>
<circle cx="95.63" cy="490.45" r="1.7" fill="#a9aaac" stroke="#231f20" stroke-width="0.55"/>
<circle cx="95.34" cy="492.53" r="1.7" fill="#a9aaac" stroke="#231f20" stroke-width="0.55"/>
<circle cx="106.79" cy="485.22" r="1.7" fill="#a9aaac" stroke="#231f20" stroke-width="0.55"/>
<circle cx="95.51" cy="490.64" r="1.7" fill="#a9aaac" stroke="#231f20" stroke-width="0.55"/>
<circle cx="97.45" cy="491.77" r="1.7" fill="#a9aaac" stroke="#231f20" stroke-width="0.55"/>
<circle cx="100.66" cy="483.63" r="1.7" fill="#a9aaac" stroke="#231f20" stroke-width="0.55"/>
<circle cx="103.85" cy="476.26" r="1.7" fill="#a9aaac" stroke="#231f20" stroke-width="0.55"/>
<circle cx="112.49" cy="491.78" r="1.7" fill="#a9aaac" stroke="#231f20" stroke-width="0.55"/>
<circle cx="98.87" cy="484.90" r="1.7" fill="#a9aaac" stroke="#231f20" stroke-width="0.55"/>
<circle cx="94.72" cy="492.67" r="1.7" fill="#a9aaac" stroke="#231f20" stroke-width="0.55"/>
<circle cx="95.52" cy="491.96" r="1.7" fill="#a9aaac" stroke="#231f20" stroke-width="0.55"/>
<circle cx="103.37" cy="480.91" r="1.7" fill="#a9aaac" stroke="#231f20" stroke-width="0.55"/>
<circle cx="95.05" cy="491.81" r="1.7" fill="#a9aaac" stroke="#231f20" stroke-width="0.55"/>
<circle cx="100.74" cy="478.64" r="1.7" fill="#a9aaac" stroke="#231f20" stroke-width="0.55"/>
<circle cx="95.10" cy="492.25" r="1.7" fill="#a9aaac" stroke="#231f20" stroke-width="0.55"/>
<circle cx="100.55" cy="485.74" r="1.7" fill="#a9aaac" stroke="#231f20" stroke-width="0.55"/>
<circle cx="96.38" cy="492.96" r="1.7" fill="#a9aaac" stroke="#231f20" stroke-width="0.55"/>
<circle cx="94.28" cy="493.31" r="1.7" fill="#a9aaac" stroke="#231f20" stroke-width="0.55"/>
<circle cx="99.09" cy="483.94" r="1.7" fill="#a9aaac" stroke="#231f20" stroke-width="0.55"/>
<circle cx="99.61" cy="489.22" r="1.7" fill="#a9aaac" stroke="#231f20" stroke-width="0.55"/>
<circle cx="96.84" cy="492.74" r="1.7" fill="#a9aaac" stroke="#231f20" stroke-width="0.55"/>
<circle cx="95.39" cy="490.66" r="1.7" fill="#a9aaac" stroke="#231f20" stroke-width="0.55"/>
<circle cx="100.49" cy="481.62" r="1.7" fill="#a9aaac" stroke="#231f20" stroke-width="0.55"/>
<circle cx="100.78" cy="484.86" r="1.7" fill="#a9aaac" stroke="#231f20" stroke-width="0.55"/>
<circle cx="116.17" cy="489.75" r="1.7" fill="#a9aaac" stroke="#231f20" stroke-width="0.55"/>
<circle cx="96.53" cy="489.61" r="1.7" fill="#a9aaac" stroke="#231f20" stroke-width="0.55"/>
<circle cx="105.28" cy="486.60" r="1.7" fill="#a9aaac" stroke="#231f20" stroke-width="0.55"/>
<circle cx="96.58" cy="491.82" r="1.7" fill="#a9aaac" stroke="#231f20" stroke-width="0.55"/>
<circle cx="102.81" cy="491.90" r="1.7" fill="#a9aaac" stroke="#231f20" stroke-width="0.55"/>
<circle cx="104.48" cy="487.58" r="1.7" fill="#a9aaac" stroke="#231f20" stroke-width="0.55"/>
<circle cx="105.23" cy="474.52" r="1.7" fill="#a9aaac" stroke="#231f20" stroke-width="0.55"/>
<circle cx="104.01" cy="475.10" r="1.7" fill="#a9aaac" stroke="#231f20" stroke-width="0.55"/>
<circle cx="95.51" cy="490.68" r="1.7" fill="#a9aaac" stroke="#231f20" stroke-width="0.55"/>
<circle cx="101.75" cy="487.74" r="1.7" fill="#a9aaac" stroke="#231f20" stroke-width="0.55"/>
<circle cx="97.70" cy="489.68" r="1.7" fill="#a9aaac" stroke="#231f20" stroke-width="0.55"/>
<circle cx="98.81" cy="493.51" r="1.7" fill="#a9aaac" stroke="#231f20" stroke-width="0.55"/>
<circle cx="96.53" cy="490.88" r="1.7" fill="#a9aaac" stroke="#231f20" stroke-width="0.55"/>
<circle cx="95.47" cy="491.31" r="1.7" fill="#a9aaac" stroke="#231f20" stroke-width="0.55"/>
<circle cx="102.72" cy="488.66" r="1.7" fill="#a9aaac" stroke="#231f20" stroke-width="0.55"/>
<circle cx="106.38" cy="478.49" r="1.7" fill="#a9aaac" stroke="#231f20" stroke-width="0.55"/>
<circle cx="105.54" cy="473.18" r="1.7" fill="#a9aaac" stroke="#231f20" stroke-width="0.55"/>
<circle cx="96.23" cy="491.30" r="1.7" fill="#a9aaac" stroke="#231f20" stroke-width="0.55"/>
<circle cx="97.60" cy="488.04" r="1.7" fill="#a9aaac" stroke="#231f20" stroke-width="0.55"/>
<circle cx="103.83" cy="471.42" r="1.7" fill="#a9aaac" stroke="#231f20" stroke-width="0.55"/>
<circle cx="95.98" cy="490.22" r="1.7" fill="#a9aaac" stroke="#231f20" stroke-width="0.55"/>
<circle cx="97.38" cy="493.43" r="1.7" fill="#a9aaac" stroke="#231f20" stroke-width="0.55"/>
<circle cx="100.67" cy="482.87" r="1.7" fill="#a9aaac" stroke="#231f20" stroke-width="0.55"/>
<circle cx="95.86" cy="490.63" r="1.7" fill="#a9aaac" stroke="#231f20" stroke-width="0.55"/>
<circle cx="95.97" cy="493.48" r="1.7" fill="#a9aaac" stroke="#231f20" stroke-width="0.55"/>
<circle cx="98.49" cy="484.39" r="1.7" fill="#a9aaac" stroke="#231f20" stroke-width="0.55"/>
<circle cx="96.76" cy="491.71" r="1.7" fill="#a9aaac" stroke="#231f20" stroke-width="0.55"/>
<circle cx="99.94" cy="491.41" r="1.7" fill="#a9aaac" stroke="#231f20" stroke-width="0.55"/>
<circle cx="98.35" cy="491.85" r="1.7" fill="#a9aaac" stroke="#231f20" stroke-width="0.55"/>
<circle cx="100.69" cy="488.43" r="1.7" fill="#a9aaac" stroke="#231f20" stroke-width="0.55"/>
<circle cx="97.17" cy="489.59" r="1.7" fill="#a9aaac" stroke="#231f20" stroke-width="0.55"/>
<circle cx="95.96" cy="493.06" r="1.7" fill="#a9aaac" stroke="#231f20" stroke-width="0.55"/>
<circle cx="101.01" cy="482.22" r="1.7" fill="#a9aaac" stroke="#231f20" stroke-width="0.55"/>
<circle cx="100.03" cy="483.86" r="1.7" fill="#a9aaac" stroke="#231f20" stroke-width="0.55"/>
<circle cx="97.67" cy="491.08" r="1.7" fill="#a9aaac" stroke="#231f20" stroke-width="0.55"/>
<circle cx="96.90" cy="492.52" r="1.7" fill="#a9aaac" stroke="#231f20" stroke-width="0.55"/>
<circle cx="94.52" cy="493.39" r="1.7" fill="#a9aaac" stroke="#231f20" stroke-width="0.55"/>
<circle cx="98.18" cy="486.34" r="1.7" fill="#a9aaac" stroke="#231f20" stroke-width="0.55"/>
<circle cx="95.32" cy="492.31" r="1.7" fill="#a9aaac" stroke="#231f20" stroke-width="0.55"/>
<circle cx="99.36" cy="482.51" r="1.7" fill="#a9aaac" stroke="#231f20" stroke-width="0.55"/>
<circle cx="104.49" cy="482.94" r="1.7" fill="#a9aaac" stroke="#231f20" stroke-width="0.55"/>
<circle cx="94.67" cy="492.36" r="1.7" fill="#a9aaac" stroke="#231f20" stroke-width="0.55"/>
<circle cx="106.65" cy="474.89" r="1.7" fill="#a9aaac" stroke="#231f20" stroke-width="0.55"/>
<circle cx="99.16" cy="491.69" r="1.7" fill="#a9aaac" stroke="#231f20" stroke-width="0.55"/>
<circle cx="104.59" cy="473.97" r="1.7" fill="#a9aaac" stroke="#231f20" stroke-width="0.55"/>
<circle cx="94.37" cy="493.43" r="1.7" fill="#a9aaac" stroke="#231f20" stroke-width="0.55"/>
<circle cx="97.69" cy="487.23" r="1.7" fill="#a9aaac" stroke="#231f20" stroke-width="0.55"/>
<circle cx="103.99" cy="481.08" r="1.7" fill="#a9aaac" stroke="#231f20" stroke-width="0.55"/>
<circle cx="97.60" cy="487.03" r="1.7" fill="#a9aaac" stroke="#231f20" stroke-width="0.55"/>
<circle cx="95.58" cy="491.37" r="1.7" fill="#a9aaac" stroke="#231f20" stroke-width="0.55"/>
<circle cx="98.27" cy="484.01" r="1.7" fill="#a9aaac" stroke="#231f20" stroke-width="0.55"/>
<circle cx="95.59" cy="491.82" r="1.7" fill="#a9aaac" stroke="#231f20" stroke-width="0.55"/>
<circle cx="94.18" cy="493.55" r="1.7" fill="#a9aaac" stroke="#231f20" stroke-width="0.55"/>
<circle cx="96.50" cy="491.99" r="1.7" fill="#a9aaac" stroke="#231f20" stroke-width="0.55"/>
<circle cx="98.97" cy="481.95" r="1.7" fill="#a9aaac" stroke="#231f20" stroke-width="0.55"/>
<circle cx="97.48" cy="488.12" r="1.7" fill="#a9aaac" stroke="#231f20" stroke-width="0.55"/>
<circle cx="94.20" cy="493.49" r="1.7" fill="#a9aaac" stroke="#231f20" stroke-width="0.55"/>
<circle cx="95.89" cy="490.49" r="1.7" fill="#a9aaac" stroke="#231f20" stroke-width="0.55"/>
<circle cx="99.14" cy="488.56" r="1.7" fill="#a9aaac" stroke="#231f20" stroke-width="0.55"/>
<circle cx="102.33" cy="479.01" r="1.7" fill="#a9aaac" stroke="#231f20" stroke-width="0.55"/>
<circle cx="102.54" cy="489.45" r="1.7" fill="#a9aaac" stroke="#231f20" stroke-width="0.55"/>
<circle cx="104.54" cy="481.08" r="1.7" fill="#a9aaac" stroke="#231f20" stroke-width="0.55"/>
<circle cx="105.62" cy="470.97" r="1.7" fill="#a9aaac" stroke="#231f20" stroke-width="0.55"/>
<circle cx="101.64" cy="478.32" r="1.7" fill="#a9aaac" stroke="#231f20" stroke-width="0.55"/>
<circle cx="95.48" cy="491.25" r="1.7" fill="#a9aaac" stroke="#231f20" stroke-width="0.55"/>
<circle cx="100.76" cy="482.35" r="1.7" fill="#a9aaac" stroke="#231f20" stroke-width="0.55"/>
<circle cx="102.48" cy="480.30" r="1.7" fill="#a9aaac" stroke="#231f20" stroke-width="0.55"/>
<circle cx="98.45" cy="483.64" r="1.7" fill="#a9aaac" stroke="#231f20" stroke-width="0.55"/>
<circle cx="100.03" cy="483.59" r="1.7" fill="#a9aaac" stroke="#231f20" stroke-width="0.55"/>
<circle cx="96.05" cy="492.64" r="1.7" fill="#a9aaac" stroke="#231f20" stroke-width="0.55"/>
<circle cx="104.79" cy="477.61" r="1.7" fill="#a9aaac" stroke="#231f20" stroke-width="0.55"/>
<circle cx="99.06" cy="487.51" r="1.7" fill="#a9aaac" stroke="#231f20" stroke-width="0.55"/>
<circle cx="98.10" cy="487.65" r="1.7" fill="#a9aaac" stroke="#231f20" stroke-width="0.55"/>
<circle cx="98.08" cy="485.57" r="1.7" fill="#a9aaac" stroke="#231f20" stroke-width="0.55"/>
<circle cx="106.70" cy="477.86" r="1.7" fill="#a9aaac" stroke="#231f20" stroke-width="0.55"/>
<circle cx="96.18" cy="492.26" r="1.7" fill="#a9aaac" stroke="#231f20" stroke-width="0.55"/>
<circle cx="96.32" cy="489.04" r="1.7" fill="#a9aaac" stroke="#231f20" stroke-width="0.55"/>
<circle cx="102.08" cy="483.92" r="1.7" fill="#a9aaac" stroke="#231f20" stroke-width="0.55"/>
<circle cx="62.60" cy="486.10" r="1.7" fill="#a9aaac" stroke="#231f20" stroke-width="0.55"/>
<circle cx="67.20" cy="476.60" r="1.7" fill="#a9aaac" stroke="#231f20" stroke-width="0.55"/>
<circle cx="129.90" cy="474.60" r="1.7" fill="#a9aaac" stroke="#231f20" stroke-width="0.55"/>
<circle cx="116.20" cy="481.50" r="1.7" fill="#a9aaac" stroke="#231f20" stroke-width="0.55"/>
<circle cx="113.00" cy="476.00" r="1.7" fill="#a9aaac" stroke="#231f20" stroke-width="0.55"/>
<circle cx="70.00" cy="471.00" r="1.7" fill="#a9aaac" stroke="#231f20" stroke-width="0.55"/>
<circle cx="112.00" cy="470.00" r="1.7" fill="#a9aaac" stroke="#231f20" stroke-width="0.55"/>
<circle cx="64.50" cy="433.50" r="1.75" fill="#5487b8" stroke="#4273a3" stroke-width="0.4"/>
<circle cx="66.40" cy="442.10" r="1.75" fill="#5487b8" stroke="#4273a3" stroke-width="0.4"/>
<circle cx="75.30" cy="452.40" r="1.75" fill="#5487b8" stroke="#4273a3" stroke-width="0.4"/>
<circle cx="78.00" cy="452.40" r="1.75" fill="#5487b8" stroke="#4273a3" stroke-width="0.4"/>
<circle cx="71.20" cy="457.20" r="1.75" fill="#5487b8" stroke="#4273a3" stroke-width="0.4"/>
<circle cx="73.90" cy="457.20" r="1.75" fill="#5487b8" stroke="#4273a3" stroke-width="0.4"/>
<circle cx="80.60" cy="457.00" r="1.75" fill="#5487b8" stroke="#4273a3" stroke-width="0.4"/>
<circle cx="82.50" cy="455.00" r="1.75" fill="#5487b8" stroke="#4273a3" stroke-width="0.4"/>
<circle cx="65.30" cy="461.80" r="1.75" fill="#5487b8" stroke="#4273a3" stroke-width="0.4"/>
<circle cx="72.60" cy="461.80" r="1.75" fill="#5487b8" stroke="#4273a3" stroke-width="0.4"/>
<circle cx="76.60" cy="461.00" r="1.75" fill="#5487b8" stroke="#4273a3" stroke-width="0.4"/>
<circle cx="68.50" cy="461.00" r="1.75" fill="#5487b8" stroke="#4273a3" stroke-width="0.4"/>
<circle cx="110.30" cy="411.10" r="1.75" fill="#f3a93a" stroke="#e39a2a" stroke-width="0.4"/>
<circle cx="121.10" cy="411.10" r="1.75" fill="#f3a93a" stroke="#e39a2a" stroke-width="0.4"/>
<circle cx="113.00" cy="420.00" r="1.75" fill="#f3a93a" stroke="#e39a2a" stroke-width="0.4"/>
<circle cx="116.50" cy="423.30" r="1.75" fill="#f3a93a" stroke="#e39a2a" stroke-width="0.4"/>
<circle cx="105.70" cy="442.10" r="1.75" fill="#f3a93a" stroke="#e39a2a" stroke-width="0.4"/>
<circle cx="107.60" cy="442.10" r="1.75" fill="#f3a93a" stroke="#e39a2a" stroke-width="0.4"/>
<circle cx="105.00" cy="447.00" r="1.75" fill="#f3a93a" stroke="#e39a2a" stroke-width="0.4"/>
<circle cx="108.00" cy="447.00" r="1.75" fill="#f3a93a" stroke="#e39a2a" stroke-width="0.4"/>
<circle cx="104.00" cy="451.00" r="1.75" fill="#f3a93a" stroke="#e39a2a" stroke-width="0.4"/>
<circle cx="107.00" cy="451.00" r="1.75" fill="#f3a93a" stroke="#e39a2a" stroke-width="0.4"/>
<circle cx="110.00" cy="452.00" r="1.75" fill="#f3a93a" stroke="#e39a2a" stroke-width="0.4"/>
<circle cx="104.50" cy="455.00" r="1.75" fill="#f3a93a" stroke="#e39a2a" stroke-width="0.4"/>
<circle cx="108.00" cy="455.00" r="1.75" fill="#f3a93a" stroke="#e39a2a" stroke-width="0.4"/>
<circle cx="111.00" cy="455.50" r="1.75" fill="#f3a93a" stroke="#e39a2a" stroke-width="0.4"/>
<circle cx="121.10" cy="450.20" r="1.75" fill="#f3a93a" stroke="#e39a2a" stroke-width="0.4"/>
<circle cx="118.40" cy="460.50" r="1.75" fill="#f3a93a" stroke="#e39a2a" stroke-width="0.4"/>
<circle cx="103.00" cy="458.00" r="1.75" fill="#f3a93a" stroke="#e39a2a" stroke-width="0.4"/>
<circle cx="106.00" cy="460.00" r="1.75" fill="#f3a93a" stroke="#e39a2a" stroke-width="0.4"/>
<text stroke="#1c1a1b" stroke-width="0.2" x="48.30" y="429.60" font-size="8" textLength="24.30" lengthAdjust="spacingAndGlyphs">TRMT5</text>
<text stroke="#1c1a1b" stroke-width="0.2" x="48.30" y="451.70" font-size="8" textLength="20.20" lengthAdjust="spacingAndGlyphs">CTU2</text>
<text stroke="#1c1a1b" stroke-width="0.2" x="102.20" y="406.00" font-size="8" textLength="21.60" lengthAdjust="spacingAndGlyphs">PUSL1</text>
<text stroke="#1c1a1b" stroke-width="0.2" x="125.10" y="418.30" font-size="8" textLength="22.10" lengthAdjust="spacingAndGlyphs">MRM1</text>
<text x="175.60" y="386.40" font-size="14" font-weight="bold" stroke="#111" stroke-width="0.35">G</text>
<line x1="219.20" y1="394.70" x2="219.20" y2="502.10" stroke="#1c1a1b" stroke-width="1.65"/>
<line x1="218.50" y1="501.40" x2="327.90" y2="501.40" stroke="#1c1a1b" stroke-width="1.65"/>
<line x1="215.40" y1="397.60" x2="219.20" y2="397.60" stroke="#1c1a1b" stroke-width="1.1"/>
<text stroke="#1c1a1b" stroke-width="0.2" x="212.40" y="400.40" font-size="8.5" text-anchor="end" textLength="4.16" lengthAdjust="spacingAndGlyphs">6</text>
<line x1="215.40" y1="429.60" x2="219.20" y2="429.60" stroke="#1c1a1b" stroke-width="1.1"/>
<text stroke="#1c1a1b" stroke-width="0.2" x="212.40" y="432.40" font-size="8.5" text-anchor="end" textLength="4.16" lengthAdjust="spacingAndGlyphs">4</text>
<line x1="215.40" y1="461.60" x2="219.20" y2="461.60" stroke="#1c1a1b" stroke-width="1.1"/>
<text stroke="#1c1a1b" stroke-width="0.2" x="212.40" y="464.40" font-size="8.5" text-anchor="end" textLength="4.16" lengthAdjust="spacingAndGlyphs">2</text>
<line x1="215.40" y1="493.60" x2="219.20" y2="493.60" stroke="#1c1a1b" stroke-width="1.1"/>
<text stroke="#1c1a1b" stroke-width="0.2" x="212.40" y="496.40" font-size="8.5" text-anchor="end" textLength="4.16" lengthAdjust="spacingAndGlyphs">0</text>
<line x1="224.00" y1="501.40" x2="224.00" y2="505.20" stroke="#1c1a1b" stroke-width="1.1"/>
<text stroke="#1c1a1b" stroke-width="0.2" x="224.00" y="515.90" font-size="8.5" text-anchor="middle" textLength="10.40" lengthAdjust="spacingAndGlyphs">0.0</text>
<line x1="273.75" y1="501.40" x2="273.75" y2="505.20" stroke="#1c1a1b" stroke-width="1.1"/>
<text stroke="#1c1a1b" stroke-width="0.2" x="273.75" y="515.90" font-size="8.5" text-anchor="middle" textLength="10.40" lengthAdjust="spacingAndGlyphs">0.5</text>
<line x1="323.50" y1="501.40" x2="323.50" y2="505.20" stroke="#1c1a1b" stroke-width="1.1"/>
<text stroke="#1c1a1b" stroke-width="0.2" x="323.50" y="515.90" font-size="8.5" text-anchor="middle" textLength="10.40" lengthAdjust="spacingAndGlyphs">1.0</text>
<text stroke="#1c1a1b" stroke-width="0.2" x="224.80" y="532.00" font-size="10.3" textLength="96.10" lengthAdjust="spacingAndGlyphs">Negative enrichment score</text>
<text stroke="#1c1a1b" stroke-width="0.2" transform="translate(203.0,443.5) rotate(-90)" font-size="10.3" text-anchor="middle" textLength="52" lengthAdjust="spacingAndGlyphs">-Log<tspan font-size="6" dy="2">10</tspan><tspan dy="-2"> </tspan><tspan font-style="italic">P</tspan>-value</text>
<circle cx="265.26" cy="489.79" r="1.5" fill="#9c9ea1" stroke="#231f20" stroke-width="0.5"/>
<circle cx="248.01" cy="485.44" r="1.5" fill="#9c9ea1" stroke="#231f20" stroke-width="0.5"/>
<circle cx="248.04" cy="485.09" r="1.5" fill="#9c9ea1" stroke="#231f20" stroke-width="0.5"/>
<circle cx="251.68" cy="486.79" r="1.5" fill="#9c9ea1" stroke="#231f20" stroke-width="0.5"/>
<circle cx="256.20" cy="486.38" r="1.5" fill="#9c9ea1" stroke="#231f20" stroke-width="0.5"/>
<circle cx="280.05" cy="488.75" r="1.5" fill="#9c9ea1" stroke="#231f20" stroke-width="0.5"/>
<circle cx="310.47" cy="493.08" r="1.5" fill="#9c9ea1" stroke="#231f20" stroke-width="0.5"/>
<circle cx="249.60" cy="486.78" r="1.5" fill="#9c9ea1" stroke="#231f20" stroke-width="0.5"/>
<circle cx="259.00" cy="484.98" r="1.5" fill="#9c9ea1" stroke="#231f20" stroke-width="0.5"/>
<circle cx="245.77" cy="482.02" r="1.5" fill="#9c9ea1" stroke="#231f20" stroke-width="0.5"/>
<circle cx="245.34" cy="482.50" r="1.5" fill="#9c9ea1" stroke="#231f20" stroke-width="0.5"/>
<circle cx="320.86" cy="493.50" r="1.5" fill="#9c9ea1" stroke="#231f20" stroke-width="0.5"/>
<circle cx="278.52" cy="489.10" r="1.5" fill="#9c9ea1" stroke="#231f20" stroke-width="0.5"/>
<circle cx="235.56" cy="484.00" r="1.5" fill="#9c9ea1" stroke="#231f20" stroke-width="0.5"/>
<circle cx="289.18" cy="490.55" r="1.5" fill="#9c9ea1" stroke="#231f20" stroke-width="0.5"/>
<circle cx="231.80" cy="478.74" r="1.5" fill="#9c9ea1" stroke="#231f20" stroke-width="0.5"/>
<circle cx="226.86" cy="477.14" r="1.5" fill="#9c9ea1" stroke="#231f20" stroke-width="0.5"/>
<circle cx="254.20" cy="485.42" r="1.5" fill="#9c9ea1" stroke="#231f20" stroke-width="0.5"/>
<circle cx="305.22" cy="490.99" r="1.5" fill="#9c9ea1" stroke="#231f20" stroke-width="0.5"/>
<circle cx="230.15" cy="479.73" r="1.5" fill="#9c9ea1" stroke="#231f20" stroke-width="0.5"/>
<circle cx="250.42" cy="483.93" r="1.5" fill="#9c9ea1" stroke="#231f20" stroke-width="0.5"/>
<circle cx="278.89" cy="488.93" r="1.5" fill="#9c9ea1" stroke="#231f20" stroke-width="0.5"/>
<circle cx="278.39" cy="487.76" r="1.5" fill="#9c9ea1" stroke="#231f20" stroke-width="0.5"/>
<circle cx="257.90" cy="485.91" r="1.5" fill="#9c9ea1" stroke="#231f20" stroke-width="0.5"/>
<circle cx="255.44" cy="484.84" r="1.5" fill="#9c9ea1" stroke="#231f20" stroke-width="0.5"/>
<circle cx="229.75" cy="478.20" r="1.5" fill="#9c9ea1" stroke="#231f20" stroke-width="0.5"/>
<circle cx="286.14" cy="491.15" r="1.5" fill="#9c9ea1" stroke="#231f20" stroke-width="0.5"/>
<circle cx="256.39" cy="487.66" r="1.5" fill="#9c9ea1" stroke="#231f20" stroke-width="0.5"/>
<circle cx="318.16" cy="493.60" r="1.5" fill="#9c9ea1" stroke="#231f20" stroke-width="0.5"/>
<circle cx="253.04" cy="484.65" r="1.5" fill="#9c9ea1" stroke="#231f20" stroke-width="0.5"/>
<circle cx="312.77" cy="491.84" r="1.5" fill="#9c9ea1" stroke="#231f20" stroke-width="0.5"/>
<circle cx="315.87" cy="491.66" r="1.5" fill="#9c9ea1" stroke="#231f20" stroke-width="0.5"/>
<circle cx="305.44" cy="493.22" r="1.5" fill="#9c9ea1" stroke="#231f20" stroke-width="0.5"/>
<circle cx="307.79" cy="492.08" r="1.5" fill="#9c9ea1" stroke="#231f20" stroke-width="0.5"/>
<circle cx="288.88" cy="490.19" r="1.5" fill="#9c9ea1" stroke="#231f20" stroke-width="0.5"/>
<circle cx="277.44" cy="489.85" r="1.5" fill="#9c9ea1" stroke="#231f20" stroke-width="0.5"/>
<circle cx="292.09" cy="490.74" r="1.5" fill="#9c9ea1" stroke="#231f20" stroke-width="0.5"/>
<circle cx="304.16" cy="491.28" r="1.5" fill="#9c9ea1" stroke="#231f20" stroke-width="0.5"/>
<circle cx="273.08" cy="489.81" r="1.5" fill="#9c9ea1" stroke="#231f20" stroke-width="0.5"/>
<circle cx="242.23" cy="482.28" r="1.5" fill="#9c9ea1" stroke="#231f20" stroke-width="0.5"/>
<circle cx="241.40" cy="481.81" r="1.5" fill="#9c9ea1" stroke="#231f20" stroke-width="0.5"/>
<circle cx="233.03" cy="479.86" r="1.5" fill="#9c9ea1" stroke="#231f20" stroke-width="0.5"/>
<circle cx="310.84" cy="491.31" r="1.5" fill="#9c9ea1" stroke="#231f20" stroke-width="0.5"/>
<circle cx="228.92" cy="479.57" r="1.5" fill="#9c9ea1" stroke="#231f20" stroke-width="0.5"/>
<circle cx="276.38" cy="488.26" r="1.5" fill="#9c9ea1" stroke="#231f20" stroke-width="0.5"/>
<circle cx="231.62" cy="479.04" r="1.5" fill="#9c9ea1" stroke="#231f20" stroke-width="0.5"/>
<circle cx="265.56" cy="486.45" r="1.5" fill="#9c9ea1" stroke="#231f20" stroke-width="0.5"/>
<circle cx="240.15" cy="482.21" r="1.5" fill="#9c9ea1" stroke="#231f20" stroke-width="0.5"/>
<circle cx="262.32" cy="485.27" r="1.5" fill="#9c9ea1" stroke="#231f20" stroke-width="0.5"/>
<circle cx="297.22" cy="491.94" r="1.5" fill="#9c9ea1" stroke="#231f20" stroke-width="0.5"/>
<circle cx="290.60" cy="491.07" r="1.5" fill="#9c9ea1" stroke="#231f20" stroke-width="0.5"/>
<circle cx="226.84" cy="477.04" r="1.5" fill="#9c9ea1" stroke="#231f20" stroke-width="0.5"/>
<circle cx="232.10" cy="482.12" r="1.5" fill="#9c9ea1" stroke="#231f20" stroke-width="0.5"/>
<circle cx="314.94" cy="493.02" r="1.5" fill="#9c9ea1" stroke="#231f20" stroke-width="0.5"/>
<circle cx="237.27" cy="480.53" r="1.5" fill="#9c9ea1" stroke="#231f20" stroke-width="0.5"/>
<circle cx="277.29" cy="487.72" r="1.5" fill="#9c9ea1" stroke="#231f20" stroke-width="0.5"/>
<circle cx="226.53" cy="477.54" r="1.5" fill="#9c9ea1" stroke="#231f20" stroke-width="0.5"/>
<circle cx="301.97" cy="490.82" r="1.5" fill="#9c9ea1" stroke="#231f20" stroke-width="0.5"/>
<circle cx="296.83" cy="490.32" r="1.5" fill="#9c9ea1" stroke="#231f20" stroke-width="0.5"/>
<circle cx="315.85" cy="493.60" r="1.5" fill="#9c9ea1" stroke="#231f20" stroke-width="0.5"/>
<circle cx="262.75" cy="487.22" r="1.5" fill="#9c9ea1" stroke="#231f20" stroke-width="0.5"/>
<circle cx="303.06" cy="491.32" r="1.5" fill="#9c9ea1" stroke="#231f20" stroke-width="0.5"/>
<circle cx="282.10" cy="492.23" r="1.5" fill="#9c9ea1" stroke="#231f20" stroke-width="0.5"/>
<circle cx="280.08" cy="491.76" r="1.5" fill="#9c9ea1" stroke="#231f20" stroke-width="0.5"/>
<circle cx="247.03" cy="485.47" r="1.5" fill="#9c9ea1" stroke="#231f20" stroke-width="0.5"/>
<circle cx="235.55" cy="485.23" r="1.5" fill="#9c9ea1" stroke="#231f20" stroke-width="0.5"/>
<circle cx="316.54" cy="493.46" r="1.5" fill="#9c9ea1" stroke="#231f20" stroke-width="0.5"/>
<circle cx="266.68" cy="487.28" r="1.5" fill="#9c9ea1" stroke="#231f20" stroke-width="0.5"/>
<circle cx="297.04" cy="492.19" r="1.5" fill="#9c9ea1" stroke="#231f20" stroke-width="0.5"/>
<circle cx="295.47" cy="491.10" r="1.5" fill="#9c9ea1" stroke="#231f20" stroke-width="0.5"/>
<circle cx="229.73" cy="480.24" r="1.5" fill="#9c9ea1" stroke="#231f20" stroke-width="0.5"/>
<circle cx="277.94" cy="490.23" r="1.5" fill="#9c9ea1" stroke="#231f20" stroke-width="0.5"/>
<circle cx="266.55" cy="487.78" r="1.5" fill="#9c9ea1" stroke="#231f20" stroke-width="0.5"/>
<circle cx="301.70" cy="491.04" r="1.5" fill="#9c9ea1" stroke="#231f20" stroke-width="0.5"/>
<circle cx="261.37" cy="487.21" r="1.5" fill="#9c9ea1" stroke="#231f20" stroke-width="0.5"/>
<circle cx="295.53" cy="489.68" r="1.5" fill="#9c9ea1" stroke="#231f20" stroke-width="0.5"/>
<circle cx="228.83" cy="479.83" r="1.5" fill="#9c9ea1" stroke="#231f20" stroke-width="0.5"/>
<circle cx="295.58" cy="490.99" r="1.5" fill="#9c9ea1" stroke="#231f20" stroke-width="0.5"/>
<circle cx="226.08" cy="474.69" r="1.5" fill="#9c9ea1" stroke="#231f20" stroke-width="0.5"/>
<circle cx="267.53" cy="489.28" r="1.5" fill="#9c9ea1" stroke="#231f20" stroke-width="0.5"/>
<circle cx="269.75" cy="488.33" r="1.5" fill="#9c9ea1" stroke="#231f20" stroke-width="0.5"/>
<circle cx="234.87" cy="479.69" r="1.5" fill="#9c9ea1" stroke="#231f20" stroke-width="0.5"/>
<circle cx="251.42" cy="486.82" r="1.5" fill="#9c9ea1" stroke="#231f20" stroke-width="0.5"/>
<circle cx="248.34" cy="485.72" r="1.5" fill="#9c9ea1" stroke="#231f20" stroke-width="0.5"/>
<circle cx="278.31" cy="488.72" r="1.5" fill="#9c9ea1" stroke="#231f20" stroke-width="0.5"/>
<circle cx="224.08" cy="473.88" r="1.5" fill="#9c9ea1" stroke="#231f20" stroke-width="0.5"/>
<circle cx="265.90" cy="486.28" r="1.5" fill="#9c9ea1" stroke="#231f20" stroke-width="0.5"/>
<circle cx="274.65" cy="486.60" r="1.5" fill="#9c9ea1" stroke="#231f20" stroke-width="0.5"/>
<circle cx="259.81" cy="487.89" r="1.5" fill="#9c9ea1" stroke="#231f20" stroke-width="0.5"/>
<circle cx="237.93" cy="483.53" r="1.5" fill="#9c9ea1" stroke="#231f20" stroke-width="0.5"/>
<circle cx="312.94" cy="492.52" r="1.5" fill="#9c9ea1" stroke="#231f20" stroke-width="0.5"/>
<circle cx="245.51" cy="483.81" r="1.5" fill="#9c9ea1" stroke="#231f20" stroke-width="0.5"/>
<circle cx="232.68" cy="482.43" r="1.5" fill="#9c9ea1" stroke="#231f20" stroke-width="0.5"/>
<circle cx="254.69" cy="484.22" r="1.5" fill="#9c9ea1" stroke="#231f20" stroke-width="0.5"/>
<circle cx="319.75" cy="493.60" r="1.5" fill="#9c9ea1" stroke="#231f20" stroke-width="0.5"/>
<circle cx="321.06" cy="491.52" r="1.5" fill="#9c9ea1" stroke="#231f20" stroke-width="0.5"/>
<circle cx="270.94" cy="488.05" r="1.5" fill="#9c9ea1" stroke="#231f20" stroke-width="0.5"/>
<circle cx="315.30" cy="493.31" r="1.5" fill="#9c9ea1" stroke="#231f20" stroke-width="0.5"/>
<circle cx="259.83" cy="488.27" r="1.5" fill="#9c9ea1" stroke="#231f20" stroke-width="0.5"/>
<circle cx="255.77" cy="483.04" r="1.5" fill="#9c9ea1" stroke="#231f20" stroke-width="0.5"/>
<circle cx="228.83" cy="475.84" r="1.5" fill="#9c9ea1" stroke="#231f20" stroke-width="0.5"/>
<circle cx="235.68" cy="481.20" r="1.5" fill="#9c9ea1" stroke="#231f20" stroke-width="0.5"/>
<circle cx="280.50" cy="487.50" r="1.5" fill="#9c9ea1" stroke="#231f20" stroke-width="0.5"/>
<circle cx="319.69" cy="492.44" r="1.5" fill="#9c9ea1" stroke="#231f20" stroke-width="0.5"/>
<circle cx="252.53" cy="484.40" r="1.5" fill="#9c9ea1" stroke="#231f20" stroke-width="0.5"/>
<circle cx="240.16" cy="486.12" r="1.5" fill="#9c9ea1" stroke="#231f20" stroke-width="0.5"/>
<circle cx="263.12" cy="483.60" r="1.5" fill="#9c9ea1" stroke="#231f20" stroke-width="0.5"/>
<circle cx="272.55" cy="488.49" r="1.5" fill="#9c9ea1" stroke="#231f20" stroke-width="0.5"/>
<circle cx="271.00" cy="485.73" r="1.5" fill="#9c9ea1" stroke="#231f20" stroke-width="0.5"/>
<circle cx="316.89" cy="492.86" r="1.5" fill="#9c9ea1" stroke="#231f20" stroke-width="0.5"/>
<circle cx="272.66" cy="488.39" r="1.5" fill="#9c9ea1" stroke="#231f20" stroke-width="0.5"/>
<circle cx="280.40" cy="488.81" r="1.5" fill="#9c9ea1" stroke="#231f20" stroke-width="0.5"/>
<circle cx="287.07" cy="492.13" r="1.5" fill="#9c9ea1" stroke="#231f20" stroke-width="0.5"/>
<circle cx="225.53" cy="476.69" r="1.5" fill="#9c9ea1" stroke="#231f20" stroke-width="0.5"/>
<circle cx="224.18" cy="470.04" r="1.5" fill="#9c9ea1" stroke="#231f20" stroke-width="0.5"/>
<circle cx="226.31" cy="475.25" r="1.5" fill="#9c9ea1" stroke="#231f20" stroke-width="0.5"/>
<circle cx="240.84" cy="482.18" r="1.5" fill="#9c9ea1" stroke="#231f20" stroke-width="0.5"/>
<circle cx="268.70" cy="485.50" r="1.5" fill="#9c9ea1" stroke="#231f20" stroke-width="0.5"/>
<circle cx="237.29" cy="483.08" r="1.5" fill="#9c9ea1" stroke="#231f20" stroke-width="0.5"/>
<circle cx="321.99" cy="493.51" r="1.5" fill="#9c9ea1" stroke="#231f20" stroke-width="0.5"/>
<circle cx="228.96" cy="478.81" r="1.5" fill="#9c9ea1" stroke="#231f20" stroke-width="0.5"/>
<circle cx="310.49" cy="491.26" r="1.5" fill="#9c9ea1" stroke="#231f20" stroke-width="0.5"/>
<circle cx="282.70" cy="488.63" r="1.5" fill="#9c9ea1" stroke="#231f20" stroke-width="0.5"/>
<circle cx="292.22" cy="489.61" r="1.5" fill="#9c9ea1" stroke="#231f20" stroke-width="0.5"/>
<circle cx="315.21" cy="493.42" r="1.5" fill="#9c9ea1" stroke="#231f20" stroke-width="0.5"/>
<circle cx="302.59" cy="492.46" r="1.5" fill="#9c9ea1" stroke="#231f20" stroke-width="0.5"/>
<circle cx="287.61" cy="489.68" r="1.5" fill="#9c9ea1" stroke="#231f20" stroke-width="0.5"/>
<circle cx="303.67" cy="492.39" r="1.5" fill="#9c9ea1" stroke="#231f20" stroke-width="0.5"/>
<circle cx="263.77" cy="486.99" r="1.5" fill="#9c9ea1" stroke="#231f20" stroke-width="0.5"/>
<circle cx="229.54" cy="478.07" r="1.5" fill="#9c9ea1" stroke="#231f20" stroke-width="0.5"/>
<circle cx="310.86" cy="491.71" r="1.5" fill="#9c9ea1" stroke="#231f20" stroke-width="0.5"/>
<circle cx="241.77" cy="481.39" r="1.5" fill="#9c9ea1" stroke="#231f20" stroke-width="0.5"/>
<circle cx="241.59" cy="484.99" r="1.5" fill="#9c9ea1" stroke="#231f20" stroke-width="0.5"/>
<circle cx="227.35" cy="474.85" r="1.5" fill="#9c9ea1" stroke="#231f20" stroke-width="0.5"/>
<circle cx="254.69" cy="486.50" r="1.5" fill="#9c9ea1" stroke="#231f20" stroke-width="0.5"/>
<circle cx="279.11" cy="488.01" r="1.5" fill="#9c9ea1" stroke="#231f20" stroke-width="0.5"/>
<circle cx="307.05" cy="493.57" r="1.5" fill="#9c9ea1" stroke="#231f20" stroke-width="0.5"/>
<circle cx="309.07" cy="493.60" r="1.5" fill="#9c9ea1" stroke="#231f20" stroke-width="0.5"/>
<circle cx="300.86" cy="491.29" r="1.5" fill="#9c9ea1" stroke="#231f20" stroke-width="0.5"/>
<circle cx="268.34" cy="487.78" r="1.5" fill="#9c9ea1" stroke="#231f20" stroke-width="0.5"/>
<circle cx="237.04" cy="483.38" r="1.5" fill="#9c9ea1" stroke="#231f20" stroke-width="0.5"/>
<circle cx="269.15" cy="486.71" r="1.5" fill="#9c9ea1" stroke="#231f20" stroke-width="0.5"/>
<circle cx="295.36" cy="491.02" r="1.5" fill="#9c9ea1" stroke="#231f20" stroke-width="0.5"/>
<circle cx="273.53" cy="489.50" r="1.5" fill="#9c9ea1" stroke="#231f20" stroke-width="0.5"/>
<circle cx="263.00" cy="489.20" r="1.5" fill="#9c9ea1" stroke="#231f20" stroke-width="0.5"/>
<circle cx="289.35" cy="489.85" r="1.5" fill="#9c9ea1" stroke="#231f20" stroke-width="0.5"/>
<circle cx="288.53" cy="490.78" r="1.5" fill="#9c9ea1" stroke="#231f20" stroke-width="0.5"/>
<circle cx="274.87" cy="488.40" r="1.5" fill="#9c9ea1" stroke="#231f20" stroke-width="0.5"/>
<circle cx="241.93" cy="483.47" r="1.5" fill="#9c9ea1" stroke="#231f20" stroke-width="0.5"/>
<circle cx="227.94" cy="477.40" r="1.5" fill="#9c9ea1" stroke="#231f20" stroke-width="0.5"/>
<circle cx="260.06" cy="484.67" r="1.5" fill="#9c9ea1" stroke="#231f20" stroke-width="0.5"/>
<circle cx="241.90" cy="483.73" r="1.5" fill="#9c9ea1" stroke="#231f20" stroke-width="0.5"/>
<circle cx="317.45" cy="492.66" r="1.5" fill="#9c9ea1" stroke="#231f20" stroke-width="0.5"/>
<circle cx="227.68" cy="475.44" r="1.5" fill="#9c9ea1" stroke="#231f20" stroke-width="0.5"/>
<circle cx="318.15" cy="491.69" r="1.5" fill="#9c9ea1" stroke="#231f20" stroke-width="0.5"/>
<circle cx="253.71" cy="487.03" r="1.5" fill="#9c9ea1" stroke="#231f20" stroke-width="0.5"/>
<circle cx="260.91" cy="489.98" r="1.5" fill="#9c9ea1" stroke="#231f20" stroke-width="0.5"/>
<circle cx="274.58" cy="488.66" r="1.5" fill="#9c9ea1" stroke="#231f20" stroke-width="0.5"/>
<circle cx="241.40" cy="481.68" r="1.5" fill="#9c9ea1" stroke="#231f20" stroke-width="0.5"/>
<circle cx="291.13" cy="491.37" r="1.5" fill="#9c9ea1" stroke="#231f20" stroke-width="0.5"/>
<circle cx="316.42" cy="492.98" r="1.5" fill="#9c9ea1" stroke="#231f20" stroke-width="0.5"/>
<circle cx="301.46" cy="492.29" r="1.5" fill="#9c9ea1" stroke="#231f20" stroke-width="0.5"/>
<circle cx="260.82" cy="485.33" r="1.5" fill="#9c9ea1" stroke="#231f20" stroke-width="0.5"/>
<circle cx="235.43" cy="481.67" r="1.5" fill="#9c9ea1" stroke="#231f20" stroke-width="0.5"/>
<circle cx="230.86" cy="478.26" r="1.5" fill="#9c9ea1" stroke="#231f20" stroke-width="0.5"/>
<circle cx="224.47" cy="472.19" r="1.5" fill="#9c9ea1" stroke="#231f20" stroke-width="0.5"/>
<circle cx="265.98" cy="486.59" r="1.5" fill="#9c9ea1" stroke="#231f20" stroke-width="0.5"/>
<circle cx="314.59" cy="493.07" r="1.5" fill="#9c9ea1" stroke="#231f20" stroke-width="0.5"/>
<circle cx="323.09" cy="493.40" r="1.5" fill="#9c9ea1" stroke="#231f20" stroke-width="0.5"/>
<circle cx="232.92" cy="479.78" r="1.5" fill="#9c9ea1" stroke="#231f20" stroke-width="0.5"/>
<circle cx="229.56" cy="478.17" r="1.5" fill="#9c9ea1" stroke="#231f20" stroke-width="0.5"/>
<circle cx="299.33" cy="491.53" r="1.5" fill="#9c9ea1" stroke="#231f20" stroke-width="0.5"/>
<circle cx="259.06" cy="488.16" r="1.5" fill="#9c9ea1" stroke="#231f20" stroke-width="0.5"/>
<circle cx="232.25" cy="479.40" r="1.5" fill="#9c9ea1" stroke="#231f20" stroke-width="0.5"/>
<circle cx="296.59" cy="491.27" r="1.5" fill="#9c9ea1" stroke="#231f20" stroke-width="0.5"/>
<circle cx="238.87" cy="480.54" r="1.5" fill="#9c9ea1" stroke="#231f20" stroke-width="0.5"/>
<circle cx="242.36" cy="482.34" r="1.5" fill="#9c9ea1" stroke="#231f20" stroke-width="0.5"/>
<circle cx="259.04" cy="485.27" r="1.5" fill="#9c9ea1" stroke="#231f20" stroke-width="0.5"/>
<circle cx="229.47" cy="478.55" r="1.5" fill="#9c9ea1" stroke="#231f20" stroke-width="0.5"/>
<circle cx="284.63" cy="490.93" r="1.5" fill="#9c9ea1" stroke="#231f20" stroke-width="0.5"/>
<circle cx="236.49" cy="477.54" r="1.5" fill="#9c9ea1" stroke="#231f20" stroke-width="0.5"/>
<circle cx="240.68" cy="481.76" r="1.5" fill="#9c9ea1" stroke="#231f20" stroke-width="0.5"/>
<circle cx="224.39" cy="470.24" r="1.5" fill="#9c9ea1" stroke="#231f20" stroke-width="0.5"/>
<circle cx="224.18" cy="472.05" r="1.5" fill="#9c9ea1" stroke="#231f20" stroke-width="0.5"/>
<circle cx="280.95" cy="491.26" r="1.5" fill="#9c9ea1" stroke="#231f20" stroke-width="0.5"/>
<circle cx="301.38" cy="489.32" r="1.5" fill="#9c9ea1" stroke="#231f20" stroke-width="0.5"/>
<circle cx="283.38" cy="490.15" r="1.5" fill="#9c9ea1" stroke="#231f20" stroke-width="0.5"/>
<circle cx="313.34" cy="493.60" r="1.5" fill="#9c9ea1" stroke="#231f20" stroke-width="0.5"/>
<circle cx="315.20" cy="492.94" r="1.5" fill="#9c9ea1" stroke="#231f20" stroke-width="0.5"/>
<circle cx="227.18" cy="476.78" r="1.5" fill="#9c9ea1" stroke="#231f20" stroke-width="0.5"/>
<circle cx="268.61" cy="489.72" r="1.5" fill="#9c9ea1" stroke="#231f20" stroke-width="0.5"/>
<circle cx="312.05" cy="493.60" r="1.5" fill="#9c9ea1" stroke="#231f20" stroke-width="0.5"/>
<circle cx="254.01" cy="486.99" r="1.5" fill="#9c9ea1" stroke="#231f20" stroke-width="0.5"/>
<circle cx="311.94" cy="492.34" r="1.5" fill="#9c9ea1" stroke="#231f20" stroke-width="0.5"/>
<circle cx="238.84" cy="481.76" r="1.5" fill="#9c9ea1" stroke="#231f20" stroke-width="0.5"/>
<circle cx="314.02" cy="492.39" r="1.5" fill="#9c9ea1" stroke="#231f20" stroke-width="0.5"/>
<circle cx="234.87" cy="480.23" r="1.5" fill="#9c9ea1" stroke="#231f20" stroke-width="0.5"/>
<circle cx="252.96" cy="485.42" r="1.5" fill="#9c9ea1" stroke="#231f20" stroke-width="0.5"/>
<circle cx="235.73" cy="481.06" r="1.5" fill="#9c9ea1" stroke="#231f20" stroke-width="0.5"/>
<circle cx="234.17" cy="481.39" r="1.5" fill="#9c9ea1" stroke="#231f20" stroke-width="0.5"/>
<circle cx="286.81" cy="491.41" r="1.5" fill="#9c9ea1" stroke="#231f20" stroke-width="0.5"/>
<circle cx="261.20" cy="486.65" r="1.5" fill="#9c9ea1" stroke="#231f20" stroke-width="0.5"/>
<circle cx="310.43" cy="491.80" r="1.5" fill="#9c9ea1" stroke="#231f20" stroke-width="0.5"/>
<circle cx="237.94" cy="480.60" r="1.5" fill="#9c9ea1" stroke="#231f20" stroke-width="0.5"/>
<circle cx="265.53" cy="488.54" r="1.5" fill="#9c9ea1" stroke="#231f20" stroke-width="0.5"/>
<circle cx="247.23" cy="483.25" r="1.5" fill="#9c9ea1" stroke="#231f20" stroke-width="0.5"/>
<circle cx="224.42" cy="471.12" r="1.5" fill="#9c9ea1" stroke="#231f20" stroke-width="0.5"/>
<circle cx="254.30" cy="483.32" r="1.5" fill="#9c9ea1" stroke="#231f20" stroke-width="0.5"/>
<circle cx="231.32" cy="478.14" r="1.5" fill="#9c9ea1" stroke="#231f20" stroke-width="0.5"/>
<circle cx="236.30" cy="480.23" r="1.5" fill="#9c9ea1" stroke="#231f20" stroke-width="0.5"/>
<circle cx="316.26" cy="493.37" r="1.5" fill="#9c9ea1" stroke="#231f20" stroke-width="0.5"/>
<circle cx="247.92" cy="484.52" r="1.5" fill="#9c9ea1" stroke="#231f20" stroke-width="0.5"/>
<circle cx="278.95" cy="486.45" r="1.5" fill="#9c9ea1" stroke="#231f20" stroke-width="0.5"/>
<circle cx="240.05" cy="483.08" r="1.5" fill="#9c9ea1" stroke="#231f20" stroke-width="0.5"/>
<circle cx="277.78" cy="491.51" r="1.5" fill="#9c9ea1" stroke="#231f20" stroke-width="0.5"/>
<circle cx="235.44" cy="483.19" r="1.5" fill="#9c9ea1" stroke="#231f20" stroke-width="0.5"/>
<circle cx="267.56" cy="489.14" r="1.5" fill="#9c9ea1" stroke="#231f20" stroke-width="0.5"/>
<circle cx="262.95" cy="487.83" r="1.5" fill="#9c9ea1" stroke="#231f20" stroke-width="0.5"/>
<circle cx="224.69" cy="470.79" r="1.5" fill="#9c9ea1" stroke="#231f20" stroke-width="0.5"/>
<circle cx="246.70" cy="480.77" r="1.5" fill="#9c9ea1" stroke="#231f20" stroke-width="0.5"/>
<circle cx="319.02" cy="493.17" r="1.5" fill="#9c9ea1" stroke="#231f20" stroke-width="0.5"/>
<circle cx="305.78" cy="492.13" r="1.5" fill="#9c9ea1" stroke="#231f20" stroke-width="0.5"/>
<circle cx="245.65" cy="483.96" r="1.5" fill="#9c9ea1" stroke="#231f20" stroke-width="0.5"/>
<circle cx="277.46" cy="489.13" r="1.5" fill="#9c9ea1" stroke="#231f20" stroke-width="0.5"/>
<circle cx="303.30" cy="492.16" r="1.5" fill="#9c9ea1" stroke="#231f20" stroke-width="0.5"/>
<circle cx="290.67" cy="488.36" r="1.5" fill="#9c9ea1" stroke="#231f20" stroke-width="0.5"/>
<circle cx="303.29" cy="492.39" r="1.5" fill="#9c9ea1" stroke="#231f20" stroke-width="0.5"/>
<circle cx="254.05" cy="484.89" r="1.5" fill="#9c9ea1" stroke="#231f20" stroke-width="0.5"/>
<circle cx="248.08" cy="484.26" r="1.5" fill="#9c9ea1" stroke="#231f20" stroke-width="0.5"/>
<circle cx="235.35" cy="478.11" r="1.5" fill="#9c9ea1" stroke="#231f20" stroke-width="0.5"/>
<circle cx="280.12" cy="490.82" r="1.5" fill="#9c9ea1" stroke="#231f20" stroke-width="0.5"/>
<circle cx="265.55" cy="487.12" r="1.5" fill="#9c9ea1" stroke="#231f20" stroke-width="0.5"/>
<circle cx="265.29" cy="485.44" r="1.5" fill="#9c9ea1" stroke="#231f20" stroke-width="0.5"/>
<circle cx="299.84" cy="492.11" r="1.5" fill="#9c9ea1" stroke="#231f20" stroke-width="0.5"/>
<circle cx="241.48" cy="485.66" r="1.5" fill="#9c9ea1" stroke="#231f20" stroke-width="0.5"/>
<circle cx="286.89" cy="490.35" r="1.5" fill="#9c9ea1" stroke="#231f20" stroke-width="0.5"/>
<circle cx="300.90" cy="491.20" r="1.5" fill="#9c9ea1" stroke="#231f20" stroke-width="0.5"/>
<circle cx="300.46" cy="491.54" r="1.5" fill="#9c9ea1" stroke="#231f20" stroke-width="0.5"/>
<circle cx="254.96" cy="485.45" r="1.5" fill="#9c9ea1" stroke="#231f20" stroke-width="0.5"/>
<circle cx="234.64" cy="479.66" r="1.5" fill="#9c9ea1" stroke="#231f20" stroke-width="0.5"/>
<circle cx="291.96" cy="492.65" r="1.5" fill="#9c9ea1" stroke="#231f20" stroke-width="0.5"/>
<circle cx="262.66" cy="485.65" r="1.5" fill="#9c9ea1" stroke="#231f20" stroke-width="0.5"/>
<circle cx="322.82" cy="491.84" r="1.5" fill="#9c9ea1" stroke="#231f20" stroke-width="0.5"/>
<circle cx="229.58" cy="478.63" r="1.5" fill="#9c9ea1" stroke="#231f20" stroke-width="0.5"/>
<circle cx="264.83" cy="487.22" r="1.5" fill="#9c9ea1" stroke="#231f20" stroke-width="0.5"/>
<circle cx="310.32" cy="491.53" r="1.5" fill="#9c9ea1" stroke="#231f20" stroke-width="0.5"/>
<circle cx="239.58" cy="484.29" r="1.5" fill="#9c9ea1" stroke="#231f20" stroke-width="0.5"/>
<circle cx="229.88" cy="478.32" r="1.5" fill="#9c9ea1" stroke="#231f20" stroke-width="0.5"/>
<circle cx="267.84" cy="489.15" r="1.5" fill="#9c9ea1" stroke="#231f20" stroke-width="0.5"/>
<circle cx="312.15" cy="490.15" r="1.5" fill="#9c9ea1" stroke="#231f20" stroke-width="0.5"/>
<circle cx="267.78" cy="487.25" r="1.5" fill="#9c9ea1" stroke="#231f20" stroke-width="0.5"/>
<circle cx="224.75" cy="473.26" r="1.5" fill="#9c9ea1" stroke="#231f20" stroke-width="0.5"/>
<circle cx="256.50" cy="483.46" r="1.5" fill="#9c9ea1" stroke="#231f20" stroke-width="0.5"/>
<circle cx="321.59" cy="493.60" r="1.5" fill="#9c9ea1" stroke="#231f20" stroke-width="0.5"/>
<circle cx="300.48" cy="493.14" r="1.5" fill="#9c9ea1" stroke="#231f20" stroke-width="0.5"/>
<circle cx="294.13" cy="489.86" r="1.5" fill="#9c9ea1" stroke="#231f20" stroke-width="0.5"/>
<circle cx="265.11" cy="486.44" r="1.5" fill="#9c9ea1" stroke="#231f20" stroke-width="0.5"/>
<circle cx="235.89" cy="484.23" r="1.5" fill="#9c9ea1" stroke="#231f20" stroke-width="0.5"/>
<circle cx="226.74" cy="476.31" r="1.5" fill="#9c9ea1" stroke="#231f20" stroke-width="0.5"/>
<circle cx="256.97" cy="483.53" r="1.5" fill="#9c9ea1" stroke="#231f20" stroke-width="0.5"/>
<circle cx="247.61" cy="484.43" r="1.5" fill="#9c9ea1" stroke="#231f20" stroke-width="0.5"/>
<circle cx="241.57" cy="484.14" r="1.5" fill="#9c9ea1" stroke="#231f20" stroke-width="0.5"/>
<circle cx="231.78" cy="479.41" r="1.5" fill="#9c9ea1" stroke="#231f20" stroke-width="0.5"/>
<circle cx="254.22" cy="486.23" r="1.5" fill="#9c9ea1" stroke="#231f20" stroke-width="0.5"/>
<circle cx="271.56" cy="487.17" r="1.5" fill="#9c9ea1" stroke="#231f20" stroke-width="0.5"/>
<circle cx="299.41" cy="489.41" r="1.5" fill="#9c9ea1" stroke="#231f20" stroke-width="0.5"/>
<circle cx="229.77" cy="477.75" r="1.5" fill="#9c9ea1" stroke="#231f20" stroke-width="0.5"/>
<circle cx="238.42" cy="479.74" r="1.5" fill="#9c9ea1" stroke="#231f20" stroke-width="0.5"/>
<circle cx="253.81" cy="484.83" r="1.5" fill="#9c9ea1" stroke="#231f20" stroke-width="0.5"/>
<circle cx="270.01" cy="489.04" r="1.5" fill="#9c9ea1" stroke="#231f20" stroke-width="0.5"/>
<circle cx="258.02" cy="486.75" r="1.5" fill="#9c9ea1" stroke="#231f20" stroke-width="0.5"/>
<circle cx="299.72" cy="493.35" r="1.5" fill="#9c9ea1" stroke="#231f20" stroke-width="0.5"/>
<circle cx="239.02" cy="483.28" r="1.5" fill="#9c9ea1" stroke="#231f20" stroke-width="0.5"/>
<circle cx="319.81" cy="493.60" r="1.5" fill="#9c9ea1" stroke="#231f20" stroke-width="0.5"/>
<circle cx="244.51" cy="484.88" r="1.5" fill="#9c9ea1" stroke="#231f20" stroke-width="0.5"/>
<circle cx="272.64" cy="488.75" r="1.5" fill="#9c9ea1" stroke="#231f20" stroke-width="0.5"/>
<circle cx="246.26" cy="483.89" r="1.5" fill="#9c9ea1" stroke="#231f20" stroke-width="0.5"/>
<circle cx="289.11" cy="490.41" r="1.5" fill="#9c9ea1" stroke="#231f20" stroke-width="0.5"/>
<circle cx="240.23" cy="481.23" r="1.5" fill="#9c9ea1" stroke="#231f20" stroke-width="0.5"/>
<circle cx="301.55" cy="490.43" r="1.5" fill="#9c9ea1" stroke="#231f20" stroke-width="0.5"/>
<circle cx="242.38" cy="486.47" r="1.5" fill="#9c9ea1" stroke="#231f20" stroke-width="0.5"/>
<circle cx="306.63" cy="493.06" r="1.5" fill="#9c9ea1" stroke="#231f20" stroke-width="0.5"/>
<circle cx="262.43" cy="487.68" r="1.5" fill="#9c9ea1" stroke="#231f20" stroke-width="0.5"/>
<circle cx="295.37" cy="492.56" r="1.5" fill="#9c9ea1" stroke="#231f20" stroke-width="0.5"/>
<circle cx="315.93" cy="492.79" r="1.5" fill="#9c9ea1" stroke="#231f20" stroke-width="0.5"/>
<circle cx="317.25" cy="492.21" r="1.5" fill="#9c9ea1" stroke="#231f20" stroke-width="0.5"/>
<circle cx="243.51" cy="484.31" r="1.5" fill="#9c9ea1" stroke="#231f20" stroke-width="0.5"/>
<circle cx="247.76" cy="481.60" r="1.5" fill="#9c9ea1" stroke="#231f20" stroke-width="0.5"/>
<circle cx="275.62" cy="485.49" r="1.5" fill="#9c9ea1" stroke="#231f20" stroke-width="0.5"/>
<circle cx="275.92" cy="487.24" r="1.5" fill="#9c9ea1" stroke="#231f20" stroke-width="0.5"/>
<circle cx="227.79" cy="477.51" r="1.5" fill="#9c9ea1" stroke="#231f20" stroke-width="0.5"/>
<circle cx="270.85" cy="487.74" r="1.5" fill="#9c9ea1" stroke="#231f20" stroke-width="0.5"/>
<circle cx="288.26" cy="492.11" r="1.5" fill="#9c9ea1" stroke="#231f20" stroke-width="0.5"/>
<circle cx="306.10" cy="493.03" r="1.5" fill="#9c9ea1" stroke="#231f20" stroke-width="0.5"/>
<circle cx="266.71" cy="489.61" r="1.5" fill="#9c9ea1" stroke="#231f20" stroke-width="0.5"/>
<circle cx="288.20" cy="490.53" r="1.5" fill="#9c9ea1" stroke="#231f20" stroke-width="0.5"/>
<circle cx="308.49" cy="493.11" r="1.5" fill="#9c9ea1" stroke="#231f20" stroke-width="0.5"/>
<circle cx="281.96" cy="490.55" r="1.5" fill="#9c9ea1" stroke="#231f20" stroke-width="0.5"/>
<circle cx="299.35" cy="492.32" r="1.5" fill="#9c9ea1" stroke="#231f20" stroke-width="0.5"/>
<circle cx="266.93" cy="488.35" r="1.5" fill="#9c9ea1" stroke="#231f20" stroke-width="0.5"/>
<circle cx="269.46" cy="487.09" r="1.5" fill="#9c9ea1" stroke="#231f20" stroke-width="0.5"/>
<circle cx="226.73" cy="473.42" r="1.5" fill="#9c9ea1" stroke="#231f20" stroke-width="0.5"/>
<circle cx="307.68" cy="492.26" r="1.5" fill="#9c9ea1" stroke="#231f20" stroke-width="0.5"/>
<circle cx="311.17" cy="491.76" r="1.5" fill="#9c9ea1" stroke="#231f20" stroke-width="0.5"/>
<circle cx="258.85" cy="486.79" r="1.5" fill="#9c9ea1" stroke="#231f20" stroke-width="0.5"/>
<circle cx="263.30" cy="487.37" r="1.5" fill="#9c9ea1" stroke="#231f20" stroke-width="0.5"/>
<circle cx="273.44" cy="489.76" r="1.5" fill="#9c9ea1" stroke="#231f20" stroke-width="0.5"/>
<circle cx="226.32" cy="476.54" r="1.5" fill="#9c9ea1" stroke="#231f20" stroke-width="0.5"/>
<circle cx="226.79" cy="474.85" r="1.5" fill="#9c9ea1" stroke="#231f20" stroke-width="0.5"/>
<circle cx="255.59" cy="484.07" r="1.5" fill="#9c9ea1" stroke="#231f20" stroke-width="0.5"/>
<circle cx="311.86" cy="492.68" r="1.5" fill="#9c9ea1" stroke="#231f20" stroke-width="0.5"/>
<circle cx="280.83" cy="490.97" r="1.5" fill="#9c9ea1" stroke="#231f20" stroke-width="0.5"/>
<circle cx="290.70" cy="490.33" r="1.5" fill="#9c9ea1" stroke="#231f20" stroke-width="0.5"/>
<circle cx="259.28" cy="486.91" r="1.5" fill="#9c9ea1" stroke="#231f20" stroke-width="0.5"/>
<circle cx="229.44" cy="479.42" r="1.5" fill="#9c9ea1" stroke="#231f20" stroke-width="0.5"/>
<circle cx="301.24" cy="492.93" r="1.5" fill="#9c9ea1" stroke="#231f20" stroke-width="0.5"/>
<circle cx="229.76" cy="478.98" r="1.5" fill="#9c9ea1" stroke="#231f20" stroke-width="0.5"/>
<circle cx="227.54" cy="478.46" r="1.5" fill="#9c9ea1" stroke="#231f20" stroke-width="0.5"/>
<circle cx="243.55" cy="483.80" r="1.5" fill="#9c9ea1" stroke="#231f20" stroke-width="0.5"/>
<circle cx="304.07" cy="491.57" r="1.5" fill="#9c9ea1" stroke="#231f20" stroke-width="0.5"/>
<circle cx="319.55" cy="493.60" r="1.5" fill="#9c9ea1" stroke="#231f20" stroke-width="0.5"/>
<circle cx="255.65" cy="487.24" r="1.5" fill="#9c9ea1" stroke="#231f20" stroke-width="0.5"/>
<circle cx="244.46" cy="485.61" r="1.5" fill="#9c9ea1" stroke="#231f20" stroke-width="0.5"/>
<circle cx="292.62" cy="490.54" r="1.5" fill="#9c9ea1" stroke="#231f20" stroke-width="0.5"/>
<circle cx="252.68" cy="487.47" r="1.5" fill="#9c9ea1" stroke="#231f20" stroke-width="0.5"/>
<circle cx="288.49" cy="488.89" r="1.5" fill="#9c9ea1" stroke="#231f20" stroke-width="0.5"/>
<circle cx="228.26" cy="479.97" r="1.5" fill="#9c9ea1" stroke="#231f20" stroke-width="0.5"/>
<circle cx="241.87" cy="482.99" r="1.5" fill="#9c9ea1" stroke="#231f20" stroke-width="0.5"/>
<circle cx="269.77" cy="487.87" r="1.5" fill="#9c9ea1" stroke="#231f20" stroke-width="0.5"/>
<circle cx="234.43" cy="479.32" r="1.5" fill="#9c9ea1" stroke="#231f20" stroke-width="0.5"/>
<circle cx="243.55" cy="482.73" r="1.5" fill="#9c9ea1" stroke="#231f20" stroke-width="0.5"/>
<circle cx="238.56" cy="480.17" r="1.5" fill="#9c9ea1" stroke="#231f20" stroke-width="0.5"/>
<circle cx="303.78" cy="491.90" r="1.5" fill="#9c9ea1" stroke="#231f20" stroke-width="0.5"/>
<circle cx="228.79" cy="478.02" r="1.5" fill="#9c9ea1" stroke="#231f20" stroke-width="0.5"/>
<circle cx="303.36" cy="492.96" r="1.5" fill="#9c9ea1" stroke="#231f20" stroke-width="0.5"/>
<circle cx="229.15" cy="479.81" r="1.5" fill="#9c9ea1" stroke="#231f20" stroke-width="0.5"/>
<circle cx="286.98" cy="489.52" r="1.5" fill="#9c9ea1" stroke="#231f20" stroke-width="0.5"/>
<circle cx="287.23" cy="487.88" r="1.5" fill="#9c9ea1" stroke="#231f20" stroke-width="0.5"/>
<circle cx="276.80" cy="490.49" r="1.5" fill="#9c9ea1" stroke="#231f20" stroke-width="0.5"/>
<circle cx="269.52" cy="486.05" r="1.5" fill="#9c9ea1" stroke="#231f20" stroke-width="0.5"/>
<circle cx="247.59" cy="486.03" r="1.5" fill="#9c9ea1" stroke="#231f20" stroke-width="0.5"/>
<circle cx="306.68" cy="493.38" r="1.5" fill="#9c9ea1" stroke="#231f20" stroke-width="0.5"/>
<circle cx="283.42" cy="490.10" r="1.5" fill="#9c9ea1" stroke="#231f20" stroke-width="0.5"/>
<circle cx="305.92" cy="492.78" r="1.5" fill="#9c9ea1" stroke="#231f20" stroke-width="0.5"/>
<circle cx="271.63" cy="488.34" r="1.5" fill="#9c9ea1" stroke="#231f20" stroke-width="0.5"/>
<circle cx="234.00" cy="477.70" r="1.5" fill="#9c9ea1" stroke="#231f20" stroke-width="0.5"/>
<circle cx="273.30" cy="485.33" r="1.5" fill="#9c9ea1" stroke="#231f20" stroke-width="0.5"/>
<circle cx="261.40" cy="487.74" r="1.5" fill="#9c9ea1" stroke="#231f20" stroke-width="0.5"/>
<circle cx="314.01" cy="492.03" r="1.5" fill="#9c9ea1" stroke="#231f20" stroke-width="0.5"/>
<circle cx="231.52" cy="481.23" r="1.5" fill="#9c9ea1" stroke="#231f20" stroke-width="0.5"/>
<circle cx="229.05" cy="478.87" r="1.5" fill="#9c9ea1" stroke="#231f20" stroke-width="0.5"/>
<circle cx="264.66" cy="487.40" r="1.5" fill="#9c9ea1" stroke="#231f20" stroke-width="0.5"/>
<circle cx="255.16" cy="485.08" r="1.5" fill="#9c9ea1" stroke="#231f20" stroke-width="0.5"/>
<circle cx="226.52" cy="475.31" r="1.5" fill="#9c9ea1" stroke="#231f20" stroke-width="0.5"/>
<circle cx="243.96" cy="484.39" r="1.5" fill="#9c9ea1" stroke="#231f20" stroke-width="0.5"/>
<circle cx="259.80" cy="487.31" r="1.5" fill="#9c9ea1" stroke="#231f20" stroke-width="0.5"/>
<circle cx="233.56" cy="481.43" r="1.5" fill="#9c9ea1" stroke="#231f20" stroke-width="0.5"/>
<circle cx="297.87" cy="492.75" r="1.5" fill="#9c9ea1" stroke="#231f20" stroke-width="0.5"/>
<circle cx="247.91" cy="481.69" r="1.5" fill="#9c9ea1" stroke="#231f20" stroke-width="0.5"/>
<circle cx="230.73" cy="477.10" r="1.5" fill="#9c9ea1" stroke="#231f20" stroke-width="0.5"/>
<circle cx="271.92" cy="488.52" r="1.5" fill="#9c9ea1" stroke="#231f20" stroke-width="0.5"/>
<circle cx="224.63" cy="474.95" r="1.5" fill="#9c9ea1" stroke="#231f20" stroke-width="0.5"/>
<circle cx="320.40" cy="492.97" r="1.5" fill="#9c9ea1" stroke="#231f20" stroke-width="0.5"/>
<circle cx="263.24" cy="487.65" r="1.5" fill="#9c9ea1" stroke="#231f20" stroke-width="0.5"/>
<circle cx="296.47" cy="490.54" r="1.5" fill="#9c9ea1" stroke="#231f20" stroke-width="0.5"/>
<circle cx="311.90" cy="492.18" r="1.5" fill="#9c9ea1" stroke="#231f20" stroke-width="0.5"/>
<circle cx="264.58" cy="486.67" r="1.5" fill="#9c9ea1" stroke="#231f20" stroke-width="0.5"/>
<circle cx="286.65" cy="491.78" r="1.5" fill="#9c9ea1" stroke="#231f20" stroke-width="0.5"/>
<circle cx="242.36" cy="483.34" r="1.5" fill="#9c9ea1" stroke="#231f20" stroke-width="0.5"/>
<circle cx="243.72" cy="483.73" r="1.5" fill="#9c9ea1" stroke="#231f20" stroke-width="0.5"/>
<circle cx="317.31" cy="492.89" r="1.5" fill="#9c9ea1" stroke="#231f20" stroke-width="0.5"/>
<circle cx="282.54" cy="490.17" r="1.5" fill="#9c9ea1" stroke="#231f20" stroke-width="0.5"/>
<circle cx="321.28" cy="492.35" r="1.5" fill="#9c9ea1" stroke="#231f20" stroke-width="0.5"/>
<circle cx="233.66" cy="484.02" r="1.5" fill="#9c9ea1" stroke="#231f20" stroke-width="0.5"/>
<circle cx="295.92" cy="491.52" r="1.5" fill="#9c9ea1" stroke="#231f20" stroke-width="0.5"/>
<circle cx="242.62" cy="483.82" r="1.5" fill="#9c9ea1" stroke="#231f20" stroke-width="0.5"/>
<circle cx="309.46" cy="491.69" r="1.5" fill="#9c9ea1" stroke="#231f20" stroke-width="0.5"/>
<circle cx="241.97" cy="481.62" r="1.5" fill="#9c9ea1" stroke="#231f20" stroke-width="0.5"/>
<circle cx="321.40" cy="493.47" r="1.5" fill="#9c9ea1" stroke="#231f20" stroke-width="0.5"/>
<circle cx="251.05" cy="486.82" r="1.5" fill="#9c9ea1" stroke="#231f20" stroke-width="0.5"/>
<circle cx="302.89" cy="490.07" r="1.5" fill="#9c9ea1" stroke="#231f20" stroke-width="0.5"/>
<circle cx="291.71" cy="491.59" r="1.5" fill="#9c9ea1" stroke="#231f20" stroke-width="0.5"/>
<circle cx="264.07" cy="488.22" r="1.5" fill="#9c9ea1" stroke="#231f20" stroke-width="0.5"/>
<circle cx="239.51" cy="483.12" r="1.5" fill="#9c9ea1" stroke="#231f20" stroke-width="0.5"/>
<circle cx="261.97" cy="487.31" r="1.5" fill="#9c9ea1" stroke="#231f20" stroke-width="0.5"/>
<circle cx="260.50" cy="486.91" r="1.5" fill="#9c9ea1" stroke="#231f20" stroke-width="0.5"/>
<circle cx="255.50" cy="484.72" r="1.5" fill="#9c9ea1" stroke="#231f20" stroke-width="0.5"/>
<circle cx="291.64" cy="491.21" r="1.5" fill="#9c9ea1" stroke="#231f20" stroke-width="0.5"/>
<circle cx="307.02" cy="491.11" r="1.5" fill="#9c9ea1" stroke="#231f20" stroke-width="0.5"/>
<circle cx="319.88" cy="493.60" r="1.5" fill="#9c9ea1" stroke="#231f20" stroke-width="0.5"/>
<circle cx="322.26" cy="492.90" r="1.5" fill="#9c9ea1" stroke="#231f20" stroke-width="0.5"/>
<circle cx="294.11" cy="490.52" r="1.5" fill="#9c9ea1" stroke="#231f20" stroke-width="0.5"/>
<circle cx="276.28" cy="489.81" r="1.5" fill="#9c9ea1" stroke="#231f20" stroke-width="0.5"/>
<circle cx="307.01" cy="491.63" r="1.5" fill="#9c9ea1" stroke="#231f20" stroke-width="0.5"/>
<circle cx="229.81" cy="478.71" r="1.5" fill="#9c9ea1" stroke="#231f20" stroke-width="0.5"/>
<circle cx="269.70" cy="488.06" r="1.5" fill="#9c9ea1" stroke="#231f20" stroke-width="0.5"/>
<circle cx="274.42" cy="487.32" r="1.5" fill="#9c9ea1" stroke="#231f20" stroke-width="0.5"/>
<circle cx="277.73" cy="489.14" r="1.5" fill="#9c9ea1" stroke="#231f20" stroke-width="0.5"/>
<circle cx="240.96" cy="484.01" r="1.5" fill="#9c9ea1" stroke="#231f20" stroke-width="0.5"/>
<circle cx="227.23" cy="477.66" r="1.5" fill="#9c9ea1" stroke="#231f20" stroke-width="0.5"/>
<circle cx="284.25" cy="489.21" r="1.5" fill="#9c9ea1" stroke="#231f20" stroke-width="0.5"/>
<circle cx="318.53" cy="493.60" r="1.5" fill="#9c9ea1" stroke="#231f20" stroke-width="0.5"/>
<circle cx="235.90" cy="481.93" r="1.5" fill="#9c9ea1" stroke="#231f20" stroke-width="0.5"/>
<circle cx="281.85" cy="491.09" r="1.5" fill="#9c9ea1" stroke="#231f20" stroke-width="0.5"/>
<circle cx="271.81" cy="490.48" r="1.5" fill="#9c9ea1" stroke="#231f20" stroke-width="0.5"/>
<circle cx="297.65" cy="490.90" r="1.5" fill="#9c9ea1" stroke="#231f20" stroke-width="0.5"/>
<circle cx="272.99" cy="487.66" r="1.5" fill="#9c9ea1" stroke="#231f20" stroke-width="0.5"/>
<circle cx="228.97" cy="475.19" r="1.5" fill="#9c9ea1" stroke="#231f20" stroke-width="0.5"/>
<circle cx="229.91" cy="481.28" r="1.5" fill="#9c9ea1" stroke="#231f20" stroke-width="0.5"/>
<circle cx="280.67" cy="489.65" r="1.5" fill="#9c9ea1" stroke="#231f20" stroke-width="0.5"/>
<circle cx="227.02" cy="477.45" r="1.5" fill="#9c9ea1" stroke="#231f20" stroke-width="0.5"/>
<circle cx="252.66" cy="485.45" r="1.5" fill="#9c9ea1" stroke="#231f20" stroke-width="0.5"/>
<circle cx="293.55" cy="491.01" r="1.5" fill="#9c9ea1" stroke="#231f20" stroke-width="0.5"/>
<circle cx="276.98" cy="487.90" r="1.5" fill="#9c9ea1" stroke="#231f20" stroke-width="0.5"/>
<circle cx="235.36" cy="482.46" r="1.5" fill="#9c9ea1" stroke="#231f20" stroke-width="0.5"/>
<circle cx="288.22" cy="490.68" r="1.5" fill="#9c9ea1" stroke="#231f20" stroke-width="0.5"/>
<circle cx="253.05" cy="488.04" r="1.5" fill="#9c9ea1" stroke="#231f20" stroke-width="0.5"/>
<circle cx="275.57" cy="490.42" r="1.5" fill="#9c9ea1" stroke="#231f20" stroke-width="0.5"/>
<circle cx="278.63" cy="489.89" r="1.5" fill="#9c9ea1" stroke="#231f20" stroke-width="0.5"/>
<circle cx="233.22" cy="485.46" r="1.5" fill="#9c9ea1" stroke="#231f20" stroke-width="0.5"/>
<circle cx="239.94" cy="484.18" r="1.5" fill="#9c9ea1" stroke="#231f20" stroke-width="0.5"/>
<circle cx="224.52" cy="475.02" r="1.5" fill="#9c9ea1" stroke="#231f20" stroke-width="0.5"/>
<circle cx="256.57" cy="486.20" r="1.5" fill="#9c9ea1" stroke="#231f20" stroke-width="0.5"/>
<circle cx="271.98" cy="487.64" r="1.5" fill="#9c9ea1" stroke="#231f20" stroke-width="0.5"/>
<circle cx="247.16" cy="485.62" r="1.5" fill="#9c9ea1" stroke="#231f20" stroke-width="0.5"/>
<circle cx="254.08" cy="482.50" r="1.5" fill="#9c9ea1" stroke="#231f20" stroke-width="0.5"/>
<circle cx="273.02" cy="486.13" r="1.5" fill="#9c9ea1" stroke="#231f20" stroke-width="0.5"/>
<circle cx="249.19" cy="485.19" r="1.5" fill="#9c9ea1" stroke="#231f20" stroke-width="0.5"/>
<circle cx="237.85" cy="481.57" r="1.5" fill="#9c9ea1" stroke="#231f20" stroke-width="0.5"/>
<circle cx="233.74" cy="478.43" r="1.5" fill="#9c9ea1" stroke="#231f20" stroke-width="0.5"/>
<circle cx="296.94" cy="491.26" r="1.5" fill="#9c9ea1" stroke="#231f20" stroke-width="0.5"/>
<circle cx="303.09" cy="492.15" r="1.5" fill="#9c9ea1" stroke="#231f20" stroke-width="0.5"/>
<circle cx="285.97" cy="489.56" r="1.5" fill="#9c9ea1" stroke="#231f20" stroke-width="0.5"/>
<circle cx="281.97" cy="489.33" r="1.5" fill="#9c9ea1" stroke="#231f20" stroke-width="0.5"/>
<circle cx="286.13" cy="489.82" r="1.5" fill="#9c9ea1" stroke="#231f20" stroke-width="0.5"/>
<circle cx="307.92" cy="490.52" r="1.5" fill="#9c9ea1" stroke="#231f20" stroke-width="0.5"/>
<circle cx="244.16" cy="485.05" r="1.5" fill="#9c9ea1" stroke="#231f20" stroke-width="0.5"/>
<circle cx="236.76" cy="481.96" r="1.5" fill="#9c9ea1" stroke="#231f20" stroke-width="0.5"/>
<circle cx="290.92" cy="490.98" r="1.5" fill="#9c9ea1" stroke="#231f20" stroke-width="0.5"/>
<circle cx="268.37" cy="486.05" r="1.5" fill="#9c9ea1" stroke="#231f20" stroke-width="0.5"/>
<circle cx="241.92" cy="481.08" r="1.5" fill="#9c9ea1" stroke="#231f20" stroke-width="0.5"/>
<circle cx="314.63" cy="492.05" r="1.5" fill="#9c9ea1" stroke="#231f20" stroke-width="0.5"/>
<circle cx="302.86" cy="490.77" r="1.5" fill="#9c9ea1" stroke="#231f20" stroke-width="0.5"/>
<circle cx="271.25" cy="489.19" r="1.5" fill="#9c9ea1" stroke="#231f20" stroke-width="0.5"/>
<circle cx="279.82" cy="492.18" r="1.5" fill="#9c9ea1" stroke="#231f20" stroke-width="0.5"/>
<circle cx="283.88" cy="490.62" r="1.5" fill="#9c9ea1" stroke="#231f20" stroke-width="0.5"/>
<circle cx="229.93" cy="478.99" r="1.5" fill="#9c9ea1" stroke="#231f20" stroke-width="0.5"/>
<circle cx="243.33" cy="483.19" r="1.5" fill="#9c9ea1" stroke="#231f20" stroke-width="0.5"/>
<circle cx="255.34" cy="487.09" r="1.5" fill="#9c9ea1" stroke="#231f20" stroke-width="0.5"/>
<circle cx="279.31" cy="490.61" r="1.5" fill="#9c9ea1" stroke="#231f20" stroke-width="0.5"/>
<circle cx="298.73" cy="492.08" r="1.5" fill="#9c9ea1" stroke="#231f20" stroke-width="0.5"/>
<circle cx="239.98" cy="482.18" r="1.5" fill="#9c9ea1" stroke="#231f20" stroke-width="0.5"/>
<circle cx="228.81" cy="478.68" r="1.5" fill="#9c9ea1" stroke="#231f20" stroke-width="0.5"/>
<circle cx="255.20" cy="485.21" r="1.5" fill="#9c9ea1" stroke="#231f20" stroke-width="0.5"/>
<circle cx="274.19" cy="488.66" r="1.5" fill="#9c9ea1" stroke="#231f20" stroke-width="0.5"/>
<circle cx="294.44" cy="491.86" r="1.5" fill="#9c9ea1" stroke="#231f20" stroke-width="0.5"/>
<circle cx="300.80" cy="491.04" r="1.5" fill="#9c9ea1" stroke="#231f20" stroke-width="0.5"/>
<circle cx="273.08" cy="486.00" r="1.5" fill="#9c9ea1" stroke="#231f20" stroke-width="0.5"/>
<circle cx="293.33" cy="490.08" r="1.5" fill="#9c9ea1" stroke="#231f20" stroke-width="0.5"/>
<circle cx="246.39" cy="484.57" r="1.5" fill="#9c9ea1" stroke="#231f20" stroke-width="0.5"/>
<circle cx="242.27" cy="482.15" r="1.5" fill="#9c9ea1" stroke="#231f20" stroke-width="0.5"/>
<circle cx="234.46" cy="482.93" r="1.5" fill="#9c9ea1" stroke="#231f20" stroke-width="0.5"/>
<circle cx="233.23" cy="479.93" r="1.5" fill="#9c9ea1" stroke="#231f20" stroke-width="0.5"/>
<circle cx="321.61" cy="492.80" r="1.5" fill="#9c9ea1" stroke="#231f20" stroke-width="0.5"/>
<circle cx="318.14" cy="493.60" r="1.5" fill="#9c9ea1" stroke="#231f20" stroke-width="0.5"/>
<circle cx="275.48" cy="489.70" r="1.5" fill="#9c9ea1" stroke="#231f20" stroke-width="0.5"/>
<circle cx="272.31" cy="487.31" r="1.5" fill="#9c9ea1" stroke="#231f20" stroke-width="0.5"/>
<circle cx="250.72" cy="483.52" r="1.5" fill="#9c9ea1" stroke="#231f20" stroke-width="0.5"/>
<circle cx="246.97" cy="485.74" r="1.5" fill="#9c9ea1" stroke="#231f20" stroke-width="0.5"/>
<circle cx="248.33" cy="486.84" r="1.5" fill="#9c9ea1" stroke="#231f20" stroke-width="0.5"/>
<circle cx="240.90" cy="486.21" r="1.5" fill="#9c9ea1" stroke="#231f20" stroke-width="0.5"/>
<circle cx="283.09" cy="489.97" r="1.5" fill="#9c9ea1" stroke="#231f20" stroke-width="0.5"/>
<circle cx="319.47" cy="493.11" r="1.5" fill="#9c9ea1" stroke="#231f20" stroke-width="0.5"/>
<circle cx="227.77" cy="476.72" r="1.5" fill="#9c9ea1" stroke="#231f20" stroke-width="0.5"/>
<circle cx="256.48" cy="487.82" r="1.5" fill="#9c9ea1" stroke="#231f20" stroke-width="0.5"/>
<circle cx="270.72" cy="487.74" r="1.5" fill="#9c9ea1" stroke="#231f20" stroke-width="0.5"/>
<circle cx="287.55" cy="489.73" r="1.5" fill="#9c9ea1" stroke="#231f20" stroke-width="0.5"/>
<circle cx="307.54" cy="492.38" r="1.5" fill="#9c9ea1" stroke="#231f20" stroke-width="0.5"/>
<circle cx="260.89" cy="486.29" r="1.5" fill="#9c9ea1" stroke="#231f20" stroke-width="0.5"/>
<circle cx="241.02" cy="484.52" r="1.5" fill="#9c9ea1" stroke="#231f20" stroke-width="0.5"/>
<circle cx="280.20" cy="488.99" r="1.5" fill="#9c9ea1" stroke="#231f20" stroke-width="0.5"/>
<circle cx="227.54" cy="478.15" r="1.5" fill="#9c9ea1" stroke="#231f20" stroke-width="0.5"/>
<circle cx="312.84" cy="492.78" r="1.5" fill="#9c9ea1" stroke="#231f20" stroke-width="0.5"/>
<circle cx="269.88" cy="488.07" r="1.5" fill="#9c9ea1" stroke="#231f20" stroke-width="0.5"/>
<circle cx="316.54" cy="493.60" r="1.5" fill="#9c9ea1" stroke="#231f20" stroke-width="0.5"/>
<circle cx="230.82" cy="479.90" r="1.5" fill="#9c9ea1" stroke="#231f20" stroke-width="0.5"/>
<circle cx="284.95" cy="491.79" r="1.5" fill="#9c9ea1" stroke="#231f20" stroke-width="0.5"/>
<circle cx="225.19" cy="474.81" r="1.5" fill="#9c9ea1" stroke="#231f20" stroke-width="0.5"/>
<circle cx="232.61" cy="482.81" r="1.5" fill="#9c9ea1" stroke="#231f20" stroke-width="0.5"/>
<circle cx="289.48" cy="490.45" r="1.5" fill="#9c9ea1" stroke="#231f20" stroke-width="0.5"/>
<circle cx="236.74" cy="484.85" r="1.5" fill="#9c9ea1" stroke="#231f20" stroke-width="0.5"/>
<circle cx="301.24" cy="490.03" r="1.5" fill="#9c9ea1" stroke="#231f20" stroke-width="0.5"/>
<circle cx="243.72" cy="484.22" r="1.5" fill="#9c9ea1" stroke="#231f20" stroke-width="0.5"/>
<circle cx="273.41" cy="488.92" r="1.5" fill="#9c9ea1" stroke="#231f20" stroke-width="0.5"/>
<circle cx="285.85" cy="488.63" r="1.5" fill="#9c9ea1" stroke="#231f20" stroke-width="0.5"/>
<circle cx="245.09" cy="485.26" r="1.5" fill="#9c9ea1" stroke="#231f20" stroke-width="0.5"/>
<circle cx="295.29" cy="488.82" r="1.5" fill="#9c9ea1" stroke="#231f20" stroke-width="0.5"/>
<circle cx="312.61" cy="492.05" r="1.5" fill="#9c9ea1" stroke="#231f20" stroke-width="0.5"/>
<circle cx="306.20" cy="491.86" r="1.5" fill="#9c9ea1" stroke="#231f20" stroke-width="0.5"/>
<circle cx="238.67" cy="479.99" r="1.5" fill="#9c9ea1" stroke="#231f20" stroke-width="0.5"/>
<circle cx="240.63" cy="482.63" r="1.5" fill="#9c9ea1" stroke="#231f20" stroke-width="0.5"/>
<circle cx="230.96" cy="480.24" r="1.5" fill="#9c9ea1" stroke="#231f20" stroke-width="0.5"/>
<circle cx="298.84" cy="492.29" r="1.5" fill="#9c9ea1" stroke="#231f20" stroke-width="0.5"/>
<circle cx="244.31" cy="486.07" r="1.5" fill="#9c9ea1" stroke="#231f20" stroke-width="0.5"/>
<circle cx="254.89" cy="483.79" r="1.5" fill="#9c9ea1" stroke="#231f20" stroke-width="0.5"/>
<circle cx="307.28" cy="492.98" r="1.5" fill="#9c9ea1" stroke="#231f20" stroke-width="0.5"/>
<circle cx="230.13" cy="478.85" r="1.5" fill="#9c9ea1" stroke="#231f20" stroke-width="0.5"/>
<circle cx="286.56" cy="489.11" r="1.5" fill="#9c9ea1" stroke="#231f20" stroke-width="0.5"/>
<circle cx="305.24" cy="492.03" r="1.5" fill="#9c9ea1" stroke="#231f20" stroke-width="0.5"/>
<circle cx="235.16" cy="482.47" r="1.5" fill="#9c9ea1" stroke="#231f20" stroke-width="0.5"/>
<circle cx="305.26" cy="491.18" r="1.5" fill="#9c9ea1" stroke="#231f20" stroke-width="0.5"/>
<circle cx="301.17" cy="493.27" r="1.5" fill="#9c9ea1" stroke="#231f20" stroke-width="0.5"/>
<circle cx="243.12" cy="482.97" r="1.5" fill="#9c9ea1" stroke="#231f20" stroke-width="0.5"/>
<circle cx="263.56" cy="486.57" r="1.5" fill="#9c9ea1" stroke="#231f20" stroke-width="0.5"/>
<circle cx="263.39" cy="487.60" r="1.5" fill="#9c9ea1" stroke="#231f20" stroke-width="0.5"/>
<circle cx="294.60" cy="489.58" r="1.5" fill="#9c9ea1" stroke="#231f20" stroke-width="0.5"/>
<circle cx="308.29" cy="491.50" r="1.5" fill="#9c9ea1" stroke="#231f20" stroke-width="0.5"/>
<circle cx="260.61" cy="486.26" r="1.5" fill="#9c9ea1" stroke="#231f20" stroke-width="0.5"/>
<circle cx="321.73" cy="493.60" r="1.5" fill="#9c9ea1" stroke="#231f20" stroke-width="0.5"/>
<circle cx="270.02" cy="489.66" r="1.5" fill="#9c9ea1" stroke="#231f20" stroke-width="0.5"/>
<circle cx="242.87" cy="482.05" r="1.5" fill="#9c9ea1" stroke="#231f20" stroke-width="0.5"/>
<circle cx="304.30" cy="491.18" r="1.5" fill="#9c9ea1" stroke="#231f20" stroke-width="0.5"/>
<circle cx="226.79" cy="476.63" r="1.5" fill="#9c9ea1" stroke="#231f20" stroke-width="0.5"/>
<circle cx="228.92" cy="478.99" r="1.5" fill="#9c9ea1" stroke="#231f20" stroke-width="0.5"/>
<circle cx="233.69" cy="481.15" r="1.5" fill="#9c9ea1" stroke="#231f20" stroke-width="0.5"/>
<circle cx="292.16" cy="491.64" r="1.5" fill="#9c9ea1" stroke="#231f20" stroke-width="0.5"/>
<circle cx="312.34" cy="492.02" r="1.5" fill="#9c9ea1" stroke="#231f20" stroke-width="0.5"/>
<circle cx="227.86" cy="476.51" r="1.5" fill="#9c9ea1" stroke="#231f20" stroke-width="0.5"/>
<circle cx="292.40" cy="490.20" r="1.5" fill="#9c9ea1" stroke="#231f20" stroke-width="0.5"/>
<circle cx="234.54" cy="481.71" r="1.5" fill="#9c9ea1" stroke="#231f20" stroke-width="0.5"/>
<circle cx="273.02" cy="488.35" r="1.5" fill="#9c9ea1" stroke="#231f20" stroke-width="0.5"/>
<circle cx="278.70" cy="488.91" r="1.5" fill="#9c9ea1" stroke="#231f20" stroke-width="0.5"/>
<circle cx="224.20" cy="470.27" r="1.5" fill="#9c9ea1" stroke="#231f20" stroke-width="0.5"/>
<circle cx="225.74" cy="473.83" r="1.5" fill="#9c9ea1" stroke="#231f20" stroke-width="0.5"/>
<circle cx="255.96" cy="484.07" r="1.5" fill="#9c9ea1" stroke="#231f20" stroke-width="0.5"/>
<circle cx="290.54" cy="488.75" r="1.5" fill="#9c9ea1" stroke="#231f20" stroke-width="0.5"/>
<circle cx="293.46" cy="490.13" r="1.5" fill="#9c9ea1" stroke="#231f20" stroke-width="0.5"/>
<circle cx="243.03" cy="484.76" r="1.5" fill="#9c9ea1" stroke="#231f20" stroke-width="0.5"/>
<circle cx="224.90" cy="475.51" r="1.5" fill="#9c9ea1" stroke="#231f20" stroke-width="0.5"/>
<circle cx="250.74" cy="486.87" r="1.5" fill="#9c9ea1" stroke="#231f20" stroke-width="0.5"/>
<circle cx="305.08" cy="492.77" r="1.5" fill="#9c9ea1" stroke="#231f20" stroke-width="0.5"/>
<circle cx="297.36" cy="489.85" r="1.5" fill="#9c9ea1" stroke="#231f20" stroke-width="0.5"/>
<circle cx="239.22" cy="481.26" r="1.5" fill="#9c9ea1" stroke="#231f20" stroke-width="0.5"/>
<circle cx="291.55" cy="491.05" r="1.5" fill="#9c9ea1" stroke="#231f20" stroke-width="0.5"/>
<circle cx="261.07" cy="488.20" r="1.5" fill="#9c9ea1" stroke="#231f20" stroke-width="0.5"/>
<circle cx="236.36" cy="482.58" r="1.5" fill="#9c9ea1" stroke="#231f20" stroke-width="0.5"/>
<circle cx="305.45" cy="493.60" r="1.5" fill="#9c9ea1" stroke="#231f20" stroke-width="0.5"/>
<circle cx="257.68" cy="484.92" r="1.5" fill="#9c9ea1" stroke="#231f20" stroke-width="0.5"/>
<circle cx="304.25" cy="493.22" r="1.5" fill="#9c9ea1" stroke="#231f20" stroke-width="0.5"/>
<circle cx="321.75" cy="493.60" r="1.5" fill="#9c9ea1" stroke="#231f20" stroke-width="0.5"/>
<circle cx="241.13" cy="483.68" r="1.5" fill="#9c9ea1" stroke="#231f20" stroke-width="0.5"/>
<circle cx="260.55" cy="487.70" r="1.5" fill="#9c9ea1" stroke="#231f20" stroke-width="0.5"/>
<circle cx="243.30" cy="483.80" r="1.5" fill="#9c9ea1" stroke="#231f20" stroke-width="0.5"/>
<circle cx="257.58" cy="485.93" r="1.5" fill="#9c9ea1" stroke="#231f20" stroke-width="0.5"/>
<circle cx="231.15" cy="478.84" r="1.5" fill="#9c9ea1" stroke="#231f20" stroke-width="0.5"/>
<circle cx="286.82" cy="489.92" r="1.5" fill="#9c9ea1" stroke="#231f20" stroke-width="0.5"/>
<circle cx="263.52" cy="485.04" r="1.5" fill="#9c9ea1" stroke="#231f20" stroke-width="0.5"/>
<circle cx="278.91" cy="490.54" r="1.5" fill="#9c9ea1" stroke="#231f20" stroke-width="0.5"/>
<circle cx="224.10" cy="470.93" r="1.5" fill="#9c9ea1" stroke="#231f20" stroke-width="0.5"/>
<circle cx="322.38" cy="493.60" r="1.5" fill="#9c9ea1" stroke="#231f20" stroke-width="0.5"/>
<circle cx="226.87" cy="476.25" r="1.5" fill="#4d82b5"/>
<circle cx="225.32" cy="458.78" r="1.5" fill="#4d82b5"/>
<circle cx="225.84" cy="461.74" r="1.5" fill="#4d82b5"/>
<circle cx="224.80" cy="460.76" r="1.5" fill="#4d82b5"/>
<circle cx="224.44" cy="471.16" r="1.5" fill="#4d82b5"/>
<circle cx="225.20" cy="463.56" r="1.5" fill="#4d82b5"/>
<circle cx="225.35" cy="462.01" r="1.5" fill="#4d82b5"/>
<circle cx="225.99" cy="456.85" r="1.5" fill="#4d82b5"/>
<circle cx="226.74" cy="472.50" r="1.5" fill="#4d82b5"/>
<circle cx="225.81" cy="459.41" r="1.5" fill="#4d82b5"/>
<circle cx="224.91" cy="456.76" r="1.5" fill="#4d82b5"/>
<circle cx="227.44" cy="472.85" r="1.5" fill="#4d82b5"/>
<circle cx="225.52" cy="475.21" r="1.5" fill="#4d82b5"/>
<circle cx="225.87" cy="474.94" r="1.5" fill="#4d82b5"/>
<circle cx="225.87" cy="462.06" r="1.5" fill="#4d82b5"/>
<circle cx="224.70" cy="462.61" r="1.5" fill="#4d82b5"/>
<circle cx="224.67" cy="462.48" r="1.5" fill="#4d82b5"/>
<circle cx="227.12" cy="471.43" r="1.5" fill="#4d82b5"/>
<circle cx="225.43" cy="463.45" r="1.5" fill="#4d82b5"/>
<circle cx="224.32" cy="467.17" r="1.5" fill="#4d82b5"/>
<circle cx="224.86" cy="456.44" r="1.5" fill="#4d82b5"/>
<circle cx="224.32" cy="470.68" r="1.5" fill="#4d82b5"/>
<circle cx="224.24" cy="461.80" r="1.5" fill="#4d82b5"/>
<circle cx="225.89" cy="469.55" r="1.5" fill="#4d82b5"/>
<circle cx="225.95" cy="465.64" r="1.5" fill="#4d82b5"/>
<circle cx="224.06" cy="461.93" r="1.5" fill="#4d82b5"/>
<circle cx="224.41" cy="464.40" r="1.5" fill="#4d82b5"/>
<circle cx="225.83" cy="463.50" r="1.5" fill="#4d82b5"/>
<circle cx="224.37" cy="465.83" r="1.5" fill="#4d82b5"/>
<circle cx="224.62" cy="460.17" r="1.5" fill="#4d82b5"/>
<circle cx="226.30" cy="476.78" r="1.5" fill="#4d82b5"/>
<circle cx="224.06" cy="459.29" r="1.5" fill="#4d82b5"/>
<circle cx="226.33" cy="472.32" r="1.5" fill="#4d82b5"/>
<circle cx="227.40" cy="471.93" r="1.5" fill="#4d82b5"/>
<circle cx="224.00" cy="408.10" r="1.5" fill="#4f79a5"/>
<circle cx="224.00" cy="431.00" r="1.5" fill="#4f79a5"/>
<circle cx="224.00" cy="436.50" r="1.5" fill="#4f79a5"/>
<circle cx="224.00" cy="450.50" r="1.5" fill="#4f79a5"/>
<text stroke="#1c1a1b" stroke-width="0.2" x="227.60" y="410.00" font-size="8" textLength="23.10" lengthAdjust="spacingAndGlyphs">JMJD6</text>
<text stroke="#1c1a1b" stroke-width="0.2" x="227.60" y="431.80" font-size="8" textLength="30.60" lengthAdjust="spacingAndGlyphs">YTHDF2</text>
<text stroke="#1c1a1b" stroke-width="0.2" x="227.60" y="440.20" font-size="8" textLength="21.40" lengthAdjust="spacingAndGlyphs">CTU2</text>
<text stroke="#1c1a1b" stroke-width="0.2" x="227.60" y="452.40" font-size="8" textLength="25.90" lengthAdjust="spacingAndGlyphs">TRMT5</text>
<text x="354.80" y="386.60" font-size="14" font-weight="bold" stroke="#111" stroke-width="0.35">H</text>
<line x1="384.30" y1="392.90" x2="384.30" y2="502.10" stroke="#1c1a1b" stroke-width="1.65"/>
<line x1="383.60" y1="501.40" x2="491.00" y2="501.40" stroke="#1c1a1b" stroke-width="1.65"/>
<line x1="380.50" y1="418.10" x2="384.30" y2="418.10" stroke="#1c1a1b" stroke-width="1.1"/>
<text stroke="#1c1a1b" stroke-width="0.2" x="377.50" y="420.90" font-size="8.5" text-anchor="end" textLength="4.16" lengthAdjust="spacingAndGlyphs">0</text>
<line x1="380.50" y1="459.70" x2="384.30" y2="459.70" stroke="#1c1a1b" stroke-width="1.1"/>
<text stroke="#1c1a1b" stroke-width="0.2" x="377.50" y="462.50" font-size="8.5" text-anchor="end" textLength="8.53" lengthAdjust="spacingAndGlyphs">−4</text>
<line x1="380.50" y1="501.30" x2="384.30" y2="501.30" stroke="#1c1a1b" stroke-width="1.1"/>
<text stroke="#1c1a1b" stroke-width="0.2" x="377.50" y="504.10" font-size="8.5" text-anchor="end" textLength="8.53" lengthAdjust="spacingAndGlyphs">−8</text>
<line x1="383.10" y1="501.40" x2="383.10" y2="505.20" stroke="#1c1a1b" stroke-width="1.1"/>
<text stroke="#1c1a1b" stroke-width="0.2" x="383.10" y="515.80" font-size="8.5" text-anchor="middle" textLength="8.53" lengthAdjust="spacingAndGlyphs">−2</text>
<line x1="417.80" y1="501.40" x2="417.80" y2="505.20" stroke="#1c1a1b" stroke-width="1.1"/>
<text stroke="#1c1a1b" stroke-width="0.2" x="417.80" y="515.80" font-size="8.5" text-anchor="middle" textLength="8.53" lengthAdjust="spacingAndGlyphs">−1</text>
<line x1="452.50" y1="501.40" x2="452.50" y2="505.20" stroke="#1c1a1b" stroke-width="1.1"/>
<text stroke="#1c1a1b" stroke-width="0.2" x="452.50" y="515.80" font-size="8.5" text-anchor="middle" textLength="4.16" lengthAdjust="spacingAndGlyphs">0</text>
<line x1="487.20" y1="501.40" x2="487.20" y2="505.20" stroke="#1c1a1b" stroke-width="1.1"/>
<text stroke="#1c1a1b" stroke-width="0.2" x="487.20" y="515.80" font-size="8.5" text-anchor="middle" textLength="4.16" lengthAdjust="spacingAndGlyphs">1</text>
<text stroke="#1c1a1b" stroke-width="0.2" x="401.60" y="532.00" font-size="10.3" textLength="69.90" lengthAdjust="spacingAndGlyphs">TRMT5 protein level</text>
<text stroke="#1c1a1b" stroke-width="0.2" transform="translate(364.30,455.00) rotate(-90)" font-size="10.3" text-anchor="middle" textLength="73.00" lengthAdjust="spacingAndGlyphs">AraC (IC50) sanger</text>
<text stroke="#b3163a" stroke-width="0.2" x="410.90" y="392.40" font-size="8.6" fill="#b3163a" textLength="19.80" lengthAdjust="spacingAndGlyphs">Blood</text>
<text stroke="#b4b7ba" stroke-width="0.2" x="432.50" y="392.40" font-size="8.6" fill="#b4b7ba" textLength="25.10" lengthAdjust="spacingAndGlyphs">- Other</text>
<text stroke="#1c1a1b" stroke-width="0.2" x="386.70" y="408.70" font-size="8" textLength="21.80" lengthAdjust="spacingAndGlyphs">n = 92</text>
<line x1="385.50" y1="418.50" x2="488.00" y2="418.50" stroke="#2a2a2a" stroke-width="1.0" stroke-dasharray="1.1 1.35"/>
<circle cx="426.86" cy="416.14" r="2.35" fill="#b0babe" stroke="#565b5e" stroke-width="0.6"/>
<circle cx="431.93" cy="413.60" r="2.35" fill="#b0babe" stroke="#565b5e" stroke-width="0.6"/>
<circle cx="436.80" cy="411.49" r="2.35" fill="#b0babe" stroke="#565b5e" stroke-width="0.6"/>
<circle cx="441.66" cy="410.22" r="2.35" fill="#b0babe" stroke="#565b5e" stroke-width="0.6"/>
<circle cx="446.31" cy="411.91" r="2.35" fill="#b0babe" stroke="#565b5e" stroke-width="0.6"/>
<circle cx="453.71" cy="409.38" r="2.35" fill="#b0babe" stroke="#565b5e" stroke-width="0.6"/>
<circle cx="456.88" cy="411.49" r="2.35" fill="#b0babe" stroke="#565b5e" stroke-width="0.6"/>
<circle cx="465.34" cy="408.11" r="2.35" fill="#b0babe" stroke="#565b5e" stroke-width="0.6"/>
<circle cx="469.14" cy="409.38" r="2.35" fill="#b0babe" stroke="#565b5e" stroke-width="0.6"/>
<circle cx="471.68" cy="411.91" r="2.35" fill="#b0babe" stroke="#565b5e" stroke-width="0.6"/>
<circle cx="486.48" cy="409.38" r="2.35" fill="#b0babe" stroke="#565b5e" stroke-width="0.6"/>
<circle cx="434.05" cy="416.56" r="2.35" fill="#b0babe" stroke="#565b5e" stroke-width="0.6"/>
<circle cx="438.28" cy="417.83" r="2.35" fill="#b0babe" stroke="#565b5e" stroke-width="0.6"/>
<circle cx="440.39" cy="420.79" r="2.35" fill="#b0babe" stroke="#565b5e" stroke-width="0.6"/>
<circle cx="445.25" cy="418.26" r="2.35" fill="#b0babe" stroke="#565b5e" stroke-width="0.6"/>
<circle cx="448.42" cy="415.08" r="2.35" fill="#b0babe" stroke="#565b5e" stroke-width="0.6"/>
<circle cx="450.96" cy="419.95" r="2.35" fill="#b0babe" stroke="#565b5e" stroke-width="0.6"/>
<circle cx="446.73" cy="422.06" r="2.35" fill="#b0babe" stroke="#565b5e" stroke-width="0.6"/>
<circle cx="435.32" cy="424.60" r="2.35" fill="#b0babe" stroke="#565b5e" stroke-width="0.6"/>
<circle cx="438.91" cy="426.71" r="2.35" fill="#b0babe" stroke="#565b5e" stroke-width="0.6"/>
<circle cx="442.08" cy="426.71" r="2.35" fill="#b0babe" stroke="#565b5e" stroke-width="0.6"/>
<circle cx="440.39" cy="430.94" r="2.35" fill="#b0babe" stroke="#565b5e" stroke-width="0.6"/>
<circle cx="446.73" cy="428.83" r="2.35" fill="#b0babe" stroke="#565b5e" stroke-width="0.6"/>
<circle cx="449.48" cy="430.94" r="2.35" fill="#b0babe" stroke="#565b5e" stroke-width="0.6"/>
<circle cx="452.65" cy="424.60" r="2.35" fill="#b0babe" stroke="#565b5e" stroke-width="0.6"/>
<circle cx="456.88" cy="426.71" r="2.35" fill="#b0babe" stroke="#565b5e" stroke-width="0.6"/>
<circle cx="458.57" cy="430.52" r="2.35" fill="#b0babe" stroke="#565b5e" stroke-width="0.6"/>
<circle cx="461.11" cy="425.66" r="2.35" fill="#b0babe" stroke="#565b5e" stroke-width="0.6"/>
<circle cx="467.88" cy="425.66" r="2.35" fill="#b0babe" stroke="#565b5e" stroke-width="0.6"/>
<circle cx="470.62" cy="422.48" r="2.35" fill="#b0babe" stroke="#565b5e" stroke-width="0.6"/>
<circle cx="476.33" cy="417.20" r="2.35" fill="#b0babe" stroke="#565b5e" stroke-width="0.6"/>
<circle cx="480.14" cy="421.43" r="2.35" fill="#b0babe" stroke="#565b5e" stroke-width="0.6"/>
<circle cx="481.83" cy="425.66" r="2.35" fill="#b0babe" stroke="#565b5e" stroke-width="0.6"/>
<circle cx="478.02" cy="428.83" r="2.35" fill="#b0babe" stroke="#565b5e" stroke-width="0.6"/>
<circle cx="482.25" cy="432.00" r="2.35" fill="#b0babe" stroke="#565b5e" stroke-width="0.6"/>
<circle cx="473.79" cy="433.05" r="2.35" fill="#b0babe" stroke="#565b5e" stroke-width="0.6"/>
<circle cx="472.10" cy="437.28" r="2.35" fill="#b0babe" stroke="#565b5e" stroke-width="0.6"/>
<circle cx="469.14" cy="439.40" r="2.35" fill="#b0babe" stroke="#565b5e" stroke-width="0.6"/>
<circle cx="465.34" cy="435.17" r="2.35" fill="#b0babe" stroke="#565b5e" stroke-width="0.6"/>
<circle cx="461.11" cy="437.28" r="2.35" fill="#b0babe" stroke="#565b5e" stroke-width="0.6"/>
<circle cx="454.77" cy="434.75" r="2.35" fill="#b0babe" stroke="#565b5e" stroke-width="0.6"/>
<circle cx="452.23" cy="439.40" r="2.35" fill="#b0babe" stroke="#565b5e" stroke-width="0.6"/>
<circle cx="448.42" cy="440.45" r="2.35" fill="#b0babe" stroke="#565b5e" stroke-width="0.6"/>
<circle cx="445.25" cy="443.63" r="2.35" fill="#b0babe" stroke="#565b5e" stroke-width="0.6"/>
<circle cx="449.48" cy="443.63" r="2.35" fill="#b0babe" stroke="#565b5e" stroke-width="0.6"/>
<circle cx="453.71" cy="439.40" r="2.35" fill="#b0babe" stroke="#565b5e" stroke-width="0.6"/>
<circle cx="422.00" cy="435.59" r="2.35" fill="#b0babe" stroke="#565b5e" stroke-width="0.6"/>
<circle cx="437.85" cy="449.55" r="2.35" fill="#b0babe" stroke="#565b5e" stroke-width="0.6"/>
<circle cx="461.53" cy="448.91" r="2.35" fill="#b0babe" stroke="#565b5e" stroke-width="0.6"/>
<circle cx="464.28" cy="448.91" r="2.35" fill="#b0babe" stroke="#565b5e" stroke-width="0.6"/>
<circle cx="424.11" cy="455.89" r="2.35" fill="#b0babe" stroke="#565b5e" stroke-width="0.6"/>
<circle cx="454.77" cy="462.23" r="2.35" fill="#b0babe" stroke="#565b5e" stroke-width="0.6"/>
<circle cx="432.57" cy="429.88" r="2.35" fill="#b0babe" stroke="#565b5e" stroke-width="0.6"/>
<circle cx="443.14" cy="420.37" r="2.35" fill="#b0babe" stroke="#565b5e" stroke-width="0.6"/>
<circle cx="463.22" cy="416.14" r="2.35" fill="#b0babe" stroke="#565b5e" stroke-width="0.6"/>
<circle cx="467.45" cy="415.08" r="2.35" fill="#b0babe" stroke="#565b5e" stroke-width="0.6"/>
<circle cx="474.85" cy="425.66" r="2.35" fill="#b0babe" stroke="#565b5e" stroke-width="0.6"/>
<circle cx="479.08" cy="426.71" r="2.35" fill="#b0babe" stroke="#565b5e" stroke-width="0.6"/>
<circle cx="433.63" cy="420.37" r="2.35" fill="#b0babe" stroke="#565b5e" stroke-width="0.6"/>
<circle cx="430.45" cy="424.60" r="2.35" fill="#b0babe" stroke="#565b5e" stroke-width="0.6"/>
<circle cx="459.00" cy="420.37" r="2.35" fill="#b0babe" stroke="#565b5e" stroke-width="0.6"/>
<circle cx="469.57" cy="430.94" r="2.35" fill="#b0babe" stroke="#565b5e" stroke-width="0.6"/>
<circle cx="465.34" cy="432.00" r="2.35" fill="#b0babe" stroke="#565b5e" stroke-width="0.6"/>
<circle cx="448.42" cy="436.23" r="2.35" fill="#b0babe" stroke="#565b5e" stroke-width="0.6"/>
<circle cx="446.31" cy="434.11" r="2.35" fill="#b0babe" stroke="#565b5e" stroke-width="0.6"/>
<circle cx="441.66" cy="415.08" r="2.35" fill="#b0babe" stroke="#565b5e" stroke-width="0.6"/>
<circle cx="450.96" cy="424.60" r="2.35" fill="#b0babe" stroke="#565b5e" stroke-width="0.6"/>
<circle cx="455.82" cy="429.88" r="2.35" fill="#b0babe" stroke="#565b5e" stroke-width="0.6"/>
<circle cx="473.37" cy="420.37" r="2.35" fill="#b0babe" stroke="#565b5e" stroke-width="0.6"/>
<circle cx="478.02" cy="434.11" r="2.35" fill="#b0babe" stroke="#565b5e" stroke-width="0.6"/>
<circle cx="468.51" cy="420.37" r="2.35" fill="#b0babe" stroke="#565b5e" stroke-width="0.6"/>
<circle cx="460.05" cy="409.80" r="2.35" fill="#b0babe" stroke="#565b5e" stroke-width="0.6"/>
<circle cx="472.74" cy="415.08" r="2.35" fill="#b0babe" stroke="#565b5e" stroke-width="0.6"/>
<circle cx="442.08" cy="437.28" r="2.35" fill="#b0babe" stroke="#565b5e" stroke-width="0.6"/>
<circle cx="452.23" cy="445.74" r="2.35" fill="#b0babe" stroke="#565b5e" stroke-width="0.6"/>
<circle cx="446.31" cy="446.80" r="2.35" fill="#b0babe" stroke="#565b5e" stroke-width="0.6"/>
<circle cx="462.80" cy="443.20" r="2.35" fill="#b0babe" stroke="#565b5e" stroke-width="0.6"/>
<circle cx="473.79" cy="424.60" r="2.35" fill="#b0babe" stroke="#565b5e" stroke-width="0.6"/>
<circle cx="436.80" cy="422.48" r="2.35" fill="#b0babe" stroke="#565b5e" stroke-width="0.6"/>
<line x1="421.30" y1="427.50" x2="488.10" y2="425.00" stroke="#a7a9ac" stroke-width="1.1"/>
<line x1="405.00" y1="466.60" x2="484.60" y2="410.20" stroke="#b3163a" stroke-width="1.3"/>
<circle cx="460.05" cy="409.38" r="2.35" fill="#b3163a" stroke="#8d0f2a" stroke-width="0.5"/>
<circle cx="444.62" cy="417.20" r="2.35" fill="#b3163a" stroke="#8d0f2a" stroke-width="0.5"/>
<circle cx="453.71" cy="413.60" r="2.35" fill="#b3163a" stroke="#8d0f2a" stroke-width="0.5"/>
<circle cx="456.88" cy="415.72" r="2.35" fill="#b3163a" stroke="#8d0f2a" stroke-width="0.5"/>
<circle cx="483.31" cy="416.78" r="2.35" fill="#b3163a" stroke="#8d0f2a" stroke-width="0.5"/>
<circle cx="465.34" cy="425.66" r="2.35" fill="#b3163a" stroke="#8d0f2a" stroke-width="0.5"/>
<circle cx="421.36" cy="446.37" r="2.35" fill="#b3163a" stroke="#8d0f2a" stroke-width="0.5"/>
<circle cx="433.20" cy="448.49" r="2.35" fill="#b3163a" stroke="#8d0f2a" stroke-width="0.5"/>
<circle cx="407.83" cy="451.66" r="2.35" fill="#b3163a" stroke="#8d0f2a" stroke-width="0.5"/>
<circle cx="405.72" cy="458.42" r="2.35" fill="#b3163a" stroke="#8d0f2a" stroke-width="0.5"/>
<circle cx="427.92" cy="460.12" r="2.35" fill="#b3163a" stroke="#8d0f2a" stroke-width="0.5"/>
<circle cx="447.37" cy="455.89" r="2.35" fill="#b3163a" stroke="#8d0f2a" stroke-width="0.5"/>
<circle cx="445.89" cy="464.77" r="2.35" fill="#b3163a" stroke="#8d0f2a" stroke-width="0.5"/>
<circle cx="426.86" cy="483.37" r="2.35" fill="#b3163a" stroke="#8d0f2a" stroke-width="0.5"/>
<text stroke="#c92c4e" stroke-width="0.2" x="388.4" y="493.6" font-size="8" fill="#c92c4e" textLength="32.9" lengthAdjust="spacingAndGlyphs"><tspan font-style="italic">P</tspan> = .0082</text>
<text stroke="#b4b7ba" stroke-width="0.2" x="451.40" y="483.90" font-size="8" fill="#b4b7ba" textLength="35.60" lengthAdjust="spacingAndGlyphs">r2=0.0021</text>
<text stroke="#c92c4e" stroke-width="0.2" x="450.00" y="493.60" font-size="8" fill="#c92c4e" textLength="39.50" lengthAdjust="spacingAndGlyphs">r2 = 0.4546</text>
<text x="11.60" y="563.60" font-size="14" font-weight="bold" stroke="#111" stroke-width="0.35">I</text>
<line x1="42.90" y1="596.30" x2="42.90" y2="705.70" stroke="#1c1a1b" stroke-width="1.65"/>
<line x1="42.20" y1="705.00" x2="150.50" y2="705.00" stroke="#1c1a1b" stroke-width="1.65"/>
<line x1="39.20" y1="620.80" x2="42.90" y2="620.80" stroke="#1c1a1b" stroke-width="1.1"/>
<text stroke="#1c1a1b" stroke-width="0.2" x="36.40" y="623.60" font-size="8.5" text-anchor="end" textLength="4.16" lengthAdjust="spacingAndGlyphs">0</text>
<line x1="39.20" y1="662.90" x2="42.90" y2="662.90" stroke="#1c1a1b" stroke-width="1.1"/>
<text stroke="#1c1a1b" stroke-width="0.2" x="36.40" y="665.70" font-size="8.5" text-anchor="end" textLength="8.53" lengthAdjust="spacingAndGlyphs">−2</text>
<line x1="39.20" y1="705.00" x2="42.90" y2="705.00" stroke="#1c1a1b" stroke-width="1.1"/>
<text stroke="#1c1a1b" stroke-width="0.2" x="36.40" y="707.80" font-size="8.5" text-anchor="end" textLength="8.53" lengthAdjust="spacingAndGlyphs">−4</text>
<text stroke="#1c1a1b" stroke-width="0.2" x="47.20" y="597.00" font-size="7.8" textLength="31.50" lengthAdjust="spacingAndGlyphs">n = 1178</text>
<line x1="44.00" y1="620.50" x2="150.00" y2="620.50" stroke="#2a2a2a" stroke-width="1.0" stroke-dasharray="1.1 1.35"/>
<text stroke="#1c1a1b" stroke-width="0.2" transform="translate(21.60,659.20) rotate(-90)" font-size="10.3" text-anchor="middle" textLength="75.50" lengthAdjust="spacingAndGlyphs">Gene effect (chronos)</text>
<circle cx="59.10" cy="612.50" r="0.7" fill="#b4b6b9"/>
<circle cx="59.39" cy="613.55" r="0.7" fill="#b4b6b9"/>
<circle cx="58.76" cy="616.70" r="0.7" fill="#b4b6b9"/>
<circle cx="58.76" cy="617.75" r="0.7" fill="#b4b6b9"/>
<circle cx="59.15" cy="618.80" r="0.7" fill="#b4b6b9"/>
<circle cx="59.25" cy="619.85" r="0.7" fill="#b4b6b9"/>
<circle cx="58.73" cy="621.95" r="0.7" fill="#b4b6b9"/>
<circle cx="58.62" cy="623.00" r="0.7" fill="#b4b6b9"/>
<circle cx="58.72" cy="625.10" r="0.7" fill="#b4b6b9"/>
<circle cx="59.36" cy="627.20" r="0.7" fill="#b4b6b9"/>
<circle cx="58.72" cy="630.35" r="0.7" fill="#b4b6b9"/>
<circle cx="58.90" cy="631.40" r="0.82" fill="#9ea1a4"/>
<circle cx="57.99" cy="632.45" r="0.82" fill="#9ea1a4"/>
<circle cx="59.00" cy="632.45" r="0.82" fill="#9ea1a4"/>
<circle cx="60.02" cy="632.45" r="0.82" fill="#9ea1a4"/>
<circle cx="57.71" cy="633.50" r="0.82" fill="#9ea1a4"/>
<circle cx="58.94" cy="633.50" r="0.82" fill="#9ea1a4"/>
<circle cx="60.06" cy="633.50" r="0.82" fill="#9ea1a4"/>
<circle cx="57.73" cy="634.55" r="0.82" fill="#9ea1a4"/>
<circle cx="58.90" cy="634.55" r="0.82" fill="#9ea1a4"/>
<circle cx="60.02" cy="634.55" r="0.82" fill="#9ea1a4"/>
<circle cx="57.87" cy="635.60" r="0.82" fill="#9ea1a4"/>
<circle cx="59.00" cy="635.60" r="0.82" fill="#9ea1a4"/>
<circle cx="60.13" cy="635.60" r="0.82" fill="#9ea1a4"/>
<circle cx="56.94" cy="636.65" r="0.82" fill="#9ea1a4"/>
<circle cx="57.82" cy="636.65" r="0.82" fill="#9ea1a4"/>
<circle cx="58.84" cy="636.65" r="0.82" fill="#9ea1a4"/>
<circle cx="60.02" cy="636.65" r="0.82" fill="#9ea1a4"/>
<circle cx="61.09" cy="636.65" r="0.82" fill="#9ea1a4"/>
<circle cx="56.83" cy="637.70" r="0.82" fill="#9ea1a4"/>
<circle cx="57.89" cy="637.70" r="0.82" fill="#9ea1a4"/>
<circle cx="58.93" cy="637.70" r="0.82" fill="#9ea1a4"/>
<circle cx="59.94" cy="637.70" r="0.82" fill="#9ea1a4"/>
<circle cx="61.30" cy="637.70" r="0.82" fill="#9ea1a4"/>
<circle cx="56.85" cy="638.75" r="0.82" fill="#9ea1a4"/>
<circle cx="57.95" cy="638.75" r="0.82" fill="#9ea1a4"/>
<circle cx="59.08" cy="638.75" r="0.82" fill="#9ea1a4"/>
<circle cx="60.24" cy="638.75" r="0.82" fill="#9ea1a4"/>
<circle cx="61.01" cy="638.75" r="0.82" fill="#9ea1a4"/>
<circle cx="55.58" cy="639.80" r="0.82" fill="#9ea1a4"/>
<circle cx="56.79" cy="639.80" r="0.82" fill="#9ea1a4"/>
<circle cx="57.98" cy="639.80" r="0.82" fill="#9ea1a4"/>
<circle cx="59.00" cy="639.80" r="0.82" fill="#9ea1a4"/>
<circle cx="60.10" cy="639.80" r="0.82" fill="#9ea1a4"/>
<circle cx="61.12" cy="639.80" r="0.82" fill="#9ea1a4"/>
<circle cx="62.20" cy="639.80" r="0.82" fill="#9ea1a4"/>
<circle cx="55.85" cy="640.85" r="0.82" fill="#9ea1a4"/>
<circle cx="56.99" cy="640.85" r="0.82" fill="#9ea1a4"/>
<circle cx="57.90" cy="640.85" r="0.82" fill="#9ea1a4"/>
<circle cx="58.99" cy="640.85" r="0.82" fill="#9ea1a4"/>
<circle cx="59.95" cy="640.85" r="0.82" fill="#9ea1a4"/>
<circle cx="61.24" cy="640.85" r="0.82" fill="#9ea1a4"/>
<circle cx="62.18" cy="640.85" r="0.82" fill="#9ea1a4"/>
<circle cx="55.75" cy="641.90" r="0.82" fill="#9ea1a4"/>
<circle cx="56.71" cy="641.90" r="0.82" fill="#9ea1a4"/>
<circle cx="57.89" cy="641.90" r="0.82" fill="#9ea1a4"/>
<circle cx="59.15" cy="641.90" r="0.82" fill="#9ea1a4"/>
<circle cx="60.02" cy="641.90" r="0.82" fill="#9ea1a4"/>
<circle cx="61.21" cy="641.90" r="0.82" fill="#9ea1a4"/>
<circle cx="62.23" cy="641.90" r="0.82" fill="#9ea1a4"/>
<circle cx="55.69" cy="642.95" r="0.82" fill="#9ea1a4"/>
<circle cx="56.95" cy="642.95" r="0.82" fill="#9ea1a4"/>
<circle cx="57.90" cy="642.95" r="0.82" fill="#9ea1a4"/>
<circle cx="59.19" cy="642.95" r="0.82" fill="#9ea1a4"/>
<circle cx="60.06" cy="642.95" r="0.82" fill="#9ea1a4"/>
<circle cx="61.18" cy="642.95" r="0.82" fill="#9ea1a4"/>
<circle cx="62.36" cy="642.95" r="0.82" fill="#9ea1a4"/>
<circle cx="54.60" cy="644.00" r="0.82" fill="#9ea1a4"/>
<circle cx="55.77" cy="644.00" r="0.82" fill="#9ea1a4"/>
<circle cx="56.72" cy="644.00" r="0.82" fill="#9ea1a4"/>
<circle cx="57.71" cy="644.00" r="0.82" fill="#9ea1a4"/>
<circle cx="58.97" cy="644.00" r="0.82" fill="#9ea1a4"/>
<circle cx="59.93" cy="644.00" r="0.82" fill="#9ea1a4"/>
<circle cx="61.10" cy="644.00" r="0.82" fill="#9ea1a4"/>
<circle cx="62.34" cy="644.00" r="0.82" fill="#9ea1a4"/>
<circle cx="63.48" cy="644.00" r="0.82" fill="#9ea1a4"/>
<circle cx="54.76" cy="645.05" r="0.82" fill="#9ea1a4"/>
<circle cx="55.77" cy="645.05" r="0.82" fill="#9ea1a4"/>
<circle cx="56.82" cy="645.05" r="0.82" fill="#9ea1a4"/>
<circle cx="57.84" cy="645.05" r="0.82" fill="#9ea1a4"/>
<circle cx="58.99" cy="645.05" r="0.82" fill="#9ea1a4"/>
<circle cx="60.02" cy="645.05" r="0.82" fill="#9ea1a4"/>
<circle cx="61.04" cy="645.05" r="0.82" fill="#9ea1a4"/>
<circle cx="62.31" cy="645.05" r="0.82" fill="#9ea1a4"/>
<circle cx="63.45" cy="645.05" r="0.82" fill="#9ea1a4"/>
<circle cx="54.52" cy="646.10" r="0.82" fill="#9ea1a4"/>
<circle cx="55.80" cy="646.10" r="0.82" fill="#9ea1a4"/>
<circle cx="56.81" cy="646.10" r="0.82" fill="#9ea1a4"/>
<circle cx="57.82" cy="646.10" r="0.82" fill="#9ea1a4"/>
<circle cx="59.14" cy="646.10" r="0.82" fill="#9ea1a4"/>
<circle cx="59.91" cy="646.10" r="0.82" fill="#9ea1a4"/>
<circle cx="61.11" cy="646.10" r="0.82" fill="#9ea1a4"/>
<circle cx="62.23" cy="646.10" r="0.82" fill="#9ea1a4"/>
<circle cx="63.47" cy="646.10" r="0.82" fill="#9ea1a4"/>
<circle cx="54.50" cy="647.15" r="0.82" fill="#9ea1a4"/>
<circle cx="55.89" cy="647.15" r="0.82" fill="#9ea1a4"/>
<circle cx="56.64" cy="647.15" r="0.82" fill="#9ea1a4"/>
<circle cx="57.88" cy="647.15" r="0.82" fill="#9ea1a4"/>
<circle cx="58.99" cy="647.15" r="0.82" fill="#9ea1a4"/>
<circle cx="60.20" cy="647.15" r="0.82" fill="#9ea1a4"/>
<circle cx="61.10" cy="647.15" r="0.82" fill="#9ea1a4"/>
<circle cx="62.16" cy="647.15" r="0.82" fill="#9ea1a4"/>
<circle cx="63.50" cy="647.15" r="0.82" fill="#9ea1a4"/>
<circle cx="53.61" cy="648.20" r="0.82" fill="#9ea1a4"/>
<circle cx="54.63" cy="648.20" r="0.82" fill="#9ea1a4"/>
<circle cx="55.86" cy="648.20" r="0.82" fill="#9ea1a4"/>
<circle cx="56.76" cy="648.20" r="0.82" fill="#9ea1a4"/>
<circle cx="57.88" cy="648.20" r="0.82" fill="#9ea1a4"/>
<circle cx="59.00" cy="648.20" r="0.82" fill="#9ea1a4"/>
<circle cx="59.95" cy="648.20" r="0.82" fill="#9ea1a4"/>
<circle cx="61.33" cy="648.20" r="0.82" fill="#9ea1a4"/>
<circle cx="62.12" cy="648.20" r="0.82" fill="#9ea1a4"/>
<circle cx="63.23" cy="648.20" r="0.82" fill="#9ea1a4"/>
<circle cx="64.66" cy="648.20" r="0.82" fill="#9ea1a4"/>
<circle cx="53.48" cy="649.25" r="0.82" fill="#9ea1a4"/>
<circle cx="54.46" cy="649.25" r="0.82" fill="#9ea1a4"/>
<circle cx="55.86" cy="649.25" r="0.82" fill="#9ea1a4"/>
<circle cx="56.68" cy="649.25" r="0.82" fill="#9ea1a4"/>
<circle cx="57.88" cy="649.25" r="0.82" fill="#9ea1a4"/>
<circle cx="58.81" cy="649.25" r="0.82" fill="#9ea1a4"/>
<circle cx="59.96" cy="649.25" r="0.82" fill="#9ea1a4"/>
<circle cx="61.19" cy="649.25" r="0.82" fill="#9ea1a4"/>
<circle cx="62.38" cy="649.25" r="0.82" fill="#9ea1a4"/>
<circle cx="63.25" cy="649.25" r="0.82" fill="#9ea1a4"/>
<circle cx="64.60" cy="649.25" r="0.82" fill="#9ea1a4"/>
<circle cx="53.56" cy="650.30" r="0.82" fill="#9ea1a4"/>
<circle cx="54.67" cy="650.30" r="0.82" fill="#9ea1a4"/>
<circle cx="55.89" cy="650.30" r="0.82" fill="#9ea1a4"/>
<circle cx="56.79" cy="650.30" r="0.82" fill="#9ea1a4"/>
<circle cx="57.70" cy="650.30" r="0.82" fill="#9ea1a4"/>
<circle cx="58.82" cy="650.30" r="0.82" fill="#9ea1a4"/>
<circle cx="60.25" cy="650.30" r="0.82" fill="#9ea1a4"/>
<circle cx="61.04" cy="650.30" r="0.82" fill="#9ea1a4"/>
<circle cx="62.21" cy="650.30" r="0.82" fill="#9ea1a4"/>
<circle cx="63.46" cy="650.30" r="0.82" fill="#9ea1a4"/>
<circle cx="64.59" cy="650.30" r="0.82" fill="#9ea1a4"/>
<circle cx="53.60" cy="651.35" r="0.82" fill="#9ea1a4"/>
<circle cx="54.62" cy="651.35" r="0.82" fill="#9ea1a4"/>
<circle cx="55.63" cy="651.35" r="0.82" fill="#9ea1a4"/>
<circle cx="56.96" cy="651.35" r="0.82" fill="#9ea1a4"/>
<circle cx="57.71" cy="651.35" r="0.82" fill="#9ea1a4"/>
<circle cx="58.90" cy="651.35" r="0.82" fill="#9ea1a4"/>
<circle cx="60.29" cy="651.35" r="0.82" fill="#9ea1a4"/>
<circle cx="61.08" cy="651.35" r="0.82" fill="#9ea1a4"/>
<circle cx="62.44" cy="651.35" r="0.82" fill="#9ea1a4"/>
<circle cx="63.44" cy="651.35" r="0.82" fill="#9ea1a4"/>
<circle cx="64.55" cy="651.35" r="0.82" fill="#9ea1a4"/>
<circle cx="52.45" cy="652.40" r="0.82" fill="#9ea1a4"/>
<circle cx="53.48" cy="652.40" r="0.82" fill="#9ea1a4"/>
<circle cx="54.74" cy="652.40" r="0.82" fill="#9ea1a4"/>
<circle cx="55.52" cy="652.40" r="0.82" fill="#9ea1a4"/>
<circle cx="56.71" cy="652.40" r="0.82" fill="#9ea1a4"/>
<circle cx="58.01" cy="652.40" r="0.82" fill="#9ea1a4"/>
<circle cx="59.10" cy="652.40" r="0.82" fill="#9ea1a4"/>
<circle cx="60.16" cy="652.40" r="0.82" fill="#9ea1a4"/>
<circle cx="61.28" cy="652.40" r="0.82" fill="#9ea1a4"/>
<circle cx="62.22" cy="652.40" r="0.82" fill="#9ea1a4"/>
<circle cx="63.44" cy="652.40" r="0.82" fill="#9ea1a4"/>
<circle cx="64.53" cy="652.40" r="0.82" fill="#9ea1a4"/>
<circle cx="65.73" cy="652.40" r="0.82" fill="#9ea1a4"/>
<circle cx="52.29" cy="653.45" r="0.82" fill="#9ea1a4"/>
<circle cx="53.41" cy="653.45" r="0.82" fill="#9ea1a4"/>
<circle cx="54.53" cy="653.45" r="0.82" fill="#9ea1a4"/>
<circle cx="55.58" cy="653.45" r="0.82" fill="#9ea1a4"/>
<circle cx="56.89" cy="653.45" r="0.82" fill="#9ea1a4"/>
<circle cx="57.90" cy="653.45" r="0.82" fill="#9ea1a4"/>
<circle cx="58.83" cy="653.45" r="0.82" fill="#9ea1a4"/>
<circle cx="60.26" cy="653.45" r="0.82" fill="#9ea1a4"/>
<circle cx="61.21" cy="653.45" r="0.82" fill="#9ea1a4"/>
<circle cx="62.43" cy="653.45" r="0.82" fill="#9ea1a4"/>
<circle cx="63.50" cy="653.45" r="0.82" fill="#9ea1a4"/>
<circle cx="64.46" cy="653.45" r="0.82" fill="#9ea1a4"/>
<circle cx="65.53" cy="653.45" r="0.82" fill="#9ea1a4"/>
<circle cx="52.42" cy="654.50" r="0.82" fill="#9ea1a4"/>
<circle cx="53.68" cy="654.50" r="0.82" fill="#9ea1a4"/>
<circle cx="54.72" cy="654.50" r="0.82" fill="#9ea1a4"/>
<circle cx="55.88" cy="654.50" r="0.82" fill="#9ea1a4"/>
<circle cx="56.83" cy="654.50" r="0.82" fill="#9ea1a4"/>
<circle cx="57.92" cy="654.50" r="0.82" fill="#9ea1a4"/>
<circle cx="58.92" cy="654.50" r="0.82" fill="#9ea1a4"/>
<circle cx="60.12" cy="654.50" r="0.82" fill="#9ea1a4"/>
<circle cx="61.22" cy="654.50" r="0.82" fill="#9ea1a4"/>
<circle cx="62.40" cy="654.50" r="0.82" fill="#9ea1a4"/>
<circle cx="63.54" cy="654.50" r="0.82" fill="#9ea1a4"/>
<circle cx="64.66" cy="654.50" r="0.82" fill="#9ea1a4"/>
<circle cx="65.50" cy="654.50" r="0.82" fill="#9ea1a4"/>
<circle cx="52.46" cy="655.55" r="0.82" fill="#9ea1a4"/>
<circle cx="53.33" cy="655.55" r="0.82" fill="#9ea1a4"/>
<circle cx="54.51" cy="655.55" r="0.82" fill="#9ea1a4"/>
<circle cx="55.74" cy="655.55" r="0.82" fill="#9ea1a4"/>
<circle cx="56.60" cy="655.55" r="0.82" fill="#9ea1a4"/>
<circle cx="58.05" cy="655.55" r="0.82" fill="#9ea1a4"/>
<circle cx="59.02" cy="655.55" r="0.82" fill="#9ea1a4"/>
<circle cx="60.00" cy="655.55" r="0.82" fill="#9ea1a4"/>
<circle cx="61.17" cy="655.55" r="0.82" fill="#9ea1a4"/>
<circle cx="62.40" cy="655.55" r="0.82" fill="#9ea1a4"/>
<circle cx="63.24" cy="655.55" r="0.82" fill="#9ea1a4"/>
<circle cx="64.66" cy="655.55" r="0.82" fill="#9ea1a4"/>
<circle cx="65.66" cy="655.55" r="0.82" fill="#9ea1a4"/>
<circle cx="52.41" cy="656.60" r="0.82" fill="#9ea1a4"/>
<circle cx="53.38" cy="656.60" r="0.82" fill="#9ea1a4"/>
<circle cx="54.65" cy="656.60" r="0.82" fill="#9ea1a4"/>
<circle cx="55.59" cy="656.60" r="0.82" fill="#9ea1a4"/>
<circle cx="56.63" cy="656.60" r="0.82" fill="#9ea1a4"/>
<circle cx="58.04" cy="656.60" r="0.82" fill="#9ea1a4"/>
<circle cx="58.94" cy="656.60" r="0.82" fill="#9ea1a4"/>
<circle cx="60.21" cy="656.60" r="0.82" fill="#9ea1a4"/>
<circle cx="61.19" cy="656.60" r="0.82" fill="#9ea1a4"/>
<circle cx="62.33" cy="656.60" r="0.82" fill="#9ea1a4"/>
<circle cx="63.35" cy="656.60" r="0.82" fill="#9ea1a4"/>
<circle cx="64.63" cy="656.60" r="0.82" fill="#9ea1a4"/>
<circle cx="65.71" cy="656.60" r="0.82" fill="#9ea1a4"/>
<circle cx="51.26" cy="657.65" r="0.82" fill="#9ea1a4"/>
<circle cx="52.42" cy="657.65" r="0.82" fill="#9ea1a4"/>
<circle cx="53.41" cy="657.65" r="0.82" fill="#9ea1a4"/>
<circle cx="54.76" cy="657.65" r="0.82" fill="#9ea1a4"/>
<circle cx="55.68" cy="657.65" r="0.82" fill="#9ea1a4"/>
<circle cx="56.84" cy="657.65" r="0.82" fill="#9ea1a4"/>
<circle cx="57.93" cy="657.65" r="0.82" fill="#9ea1a4"/>
<circle cx="58.84" cy="657.65" r="0.82" fill="#9ea1a4"/>
<circle cx="60.03" cy="657.65" r="0.82" fill="#9ea1a4"/>
<circle cx="61.31" cy="657.65" r="0.82" fill="#9ea1a4"/>
<circle cx="62.34" cy="657.65" r="0.82" fill="#9ea1a4"/>
<circle cx="63.30" cy="657.65" r="0.82" fill="#9ea1a4"/>
<circle cx="64.37" cy="657.65" r="0.82" fill="#9ea1a4"/>
<circle cx="65.75" cy="657.65" r="0.82" fill="#9ea1a4"/>
<circle cx="66.82" cy="657.65" r="0.82" fill="#9ea1a4"/>
<circle cx="51.45" cy="658.70" r="0.82" fill="#9ea1a4"/>
<circle cx="52.27" cy="658.70" r="0.82" fill="#9ea1a4"/>
<circle cx="53.52" cy="658.70" r="0.82" fill="#9ea1a4"/>
<circle cx="54.58" cy="658.70" r="0.82" fill="#9ea1a4"/>
<circle cx="55.67" cy="658.70" r="0.82" fill="#9ea1a4"/>
<circle cx="56.74" cy="658.70" r="0.82" fill="#9ea1a4"/>
<circle cx="57.96" cy="658.70" r="0.82" fill="#9ea1a4"/>
<circle cx="59.03" cy="658.70" r="0.82" fill="#9ea1a4"/>
<circle cx="59.93" cy="658.70" r="0.82" fill="#9ea1a4"/>
<circle cx="61.02" cy="658.70" r="0.82" fill="#9ea1a4"/>
<circle cx="62.17" cy="658.70" r="0.82" fill="#9ea1a4"/>
<circle cx="63.52" cy="658.70" r="0.82" fill="#9ea1a4"/>
<circle cx="64.64" cy="658.70" r="0.82" fill="#9ea1a4"/>
<circle cx="65.67" cy="658.70" r="0.82" fill="#9ea1a4"/>
<circle cx="66.65" cy="658.70" r="0.82" fill="#9ea1a4"/>
<circle cx="51.31" cy="659.75" r="0.82" fill="#9ea1a4"/>
<circle cx="52.46" cy="659.75" r="0.82" fill="#9ea1a4"/>
<circle cx="53.37" cy="659.75" r="0.82" fill="#9ea1a4"/>
<circle cx="54.78" cy="659.75" r="0.82" fill="#9ea1a4"/>
<circle cx="55.87" cy="659.75" r="0.82" fill="#9ea1a4"/>
<circle cx="56.61" cy="659.75" r="0.82" fill="#9ea1a4"/>
<circle cx="57.80" cy="659.75" r="0.82" fill="#9ea1a4"/>
<circle cx="58.91" cy="659.75" r="0.82" fill="#9ea1a4"/>
<circle cx="60.24" cy="659.75" r="0.82" fill="#9ea1a4"/>
<circle cx="61.36" cy="659.75" r="0.82" fill="#9ea1a4"/>
<circle cx="62.48" cy="659.75" r="0.82" fill="#9ea1a4"/>
<circle cx="63.37" cy="659.75" r="0.82" fill="#9ea1a4"/>
<circle cx="64.52" cy="659.75" r="0.82" fill="#9ea1a4"/>
<circle cx="65.48" cy="659.75" r="0.82" fill="#9ea1a4"/>
<circle cx="66.51" cy="659.75" r="0.82" fill="#9ea1a4"/>
<circle cx="51.36" cy="660.80" r="0.82" fill="#9ea1a4"/>
<circle cx="52.42" cy="660.80" r="0.82" fill="#9ea1a4"/>
<circle cx="53.65" cy="660.80" r="0.82" fill="#9ea1a4"/>
<circle cx="54.77" cy="660.80" r="0.82" fill="#9ea1a4"/>
<circle cx="55.72" cy="660.80" r="0.82" fill="#9ea1a4"/>
<circle cx="56.62" cy="660.80" r="0.82" fill="#9ea1a4"/>
<circle cx="57.93" cy="660.80" r="0.82" fill="#9ea1a4"/>
<circle cx="59.17" cy="660.80" r="0.82" fill="#9ea1a4"/>
<circle cx="60.09" cy="660.80" r="0.82" fill="#9ea1a4"/>
<circle cx="61.26" cy="660.80" r="0.82" fill="#9ea1a4"/>
<circle cx="62.31" cy="660.80" r="0.82" fill="#9ea1a4"/>
<circle cx="63.38" cy="660.80" r="0.82" fill="#9ea1a4"/>
<circle cx="64.47" cy="660.80" r="0.82" fill="#9ea1a4"/>
<circle cx="65.49" cy="660.80" r="0.82" fill="#9ea1a4"/>
<circle cx="66.68" cy="660.80" r="0.82" fill="#9ea1a4"/>
<circle cx="52.52" cy="661.85" r="0.82" fill="#9ea1a4"/>
<circle cx="53.60" cy="661.85" r="0.82" fill="#9ea1a4"/>
<circle cx="54.41" cy="661.85" r="0.82" fill="#9ea1a4"/>
<circle cx="55.59" cy="661.85" r="0.82" fill="#9ea1a4"/>
<circle cx="56.63" cy="661.85" r="0.82" fill="#9ea1a4"/>
<circle cx="57.74" cy="661.85" r="0.82" fill="#9ea1a4"/>
<circle cx="58.80" cy="661.85" r="0.82" fill="#9ea1a4"/>
<circle cx="60.19" cy="661.85" r="0.82" fill="#9ea1a4"/>
<circle cx="61.08" cy="661.85" r="0.82" fill="#9ea1a4"/>
<circle cx="62.36" cy="661.85" r="0.82" fill="#9ea1a4"/>
<circle cx="63.53" cy="661.85" r="0.82" fill="#9ea1a4"/>
<circle cx="64.36" cy="661.85" r="0.82" fill="#9ea1a4"/>
<circle cx="65.50" cy="661.85" r="0.82" fill="#9ea1a4"/>
<circle cx="52.25" cy="662.90" r="0.82" fill="#9ea1a4"/>
<circle cx="53.35" cy="662.90" r="0.82" fill="#9ea1a4"/>
<circle cx="54.79" cy="662.90" r="0.82" fill="#9ea1a4"/>
<circle cx="55.85" cy="662.90" r="0.82" fill="#9ea1a4"/>
<circle cx="56.99" cy="662.90" r="0.82" fill="#9ea1a4"/>
<circle cx="57.77" cy="662.90" r="0.82" fill="#9ea1a4"/>
<circle cx="58.97" cy="662.90" r="0.82" fill="#9ea1a4"/>
<circle cx="60.12" cy="662.90" r="0.82" fill="#9ea1a4"/>
<circle cx="61.03" cy="662.90" r="0.82" fill="#9ea1a4"/>
<circle cx="62.36" cy="662.90" r="0.82" fill="#9ea1a4"/>
<circle cx="63.55" cy="662.90" r="0.82" fill="#9ea1a4"/>
<circle cx="64.67" cy="662.90" r="0.82" fill="#9ea1a4"/>
<circle cx="65.75" cy="662.90" r="0.82" fill="#9ea1a4"/>
<circle cx="52.32" cy="663.95" r="0.82" fill="#9ea1a4"/>
<circle cx="53.62" cy="663.95" r="0.82" fill="#9ea1a4"/>
<circle cx="54.48" cy="663.95" r="0.82" fill="#9ea1a4"/>
<circle cx="55.68" cy="663.95" r="0.82" fill="#9ea1a4"/>
<circle cx="56.63" cy="663.95" r="0.82" fill="#9ea1a4"/>
<circle cx="57.74" cy="663.95" r="0.82" fill="#9ea1a4"/>
<circle cx="58.83" cy="663.95" r="0.82" fill="#9ea1a4"/>
<circle cx="60.04" cy="663.95" r="0.82" fill="#9ea1a4"/>
<circle cx="61.30" cy="663.95" r="0.82" fill="#9ea1a4"/>
<circle cx="62.32" cy="663.95" r="0.82" fill="#9ea1a4"/>
<circle cx="63.27" cy="663.95" r="0.82" fill="#9ea1a4"/>
<circle cx="64.42" cy="663.95" r="0.82" fill="#9ea1a4"/>
<circle cx="65.55" cy="663.95" r="0.82" fill="#9ea1a4"/>
<circle cx="52.25" cy="665.00" r="0.82" fill="#9ea1a4"/>
<circle cx="53.37" cy="665.00" r="0.82" fill="#9ea1a4"/>
<circle cx="54.78" cy="665.00" r="0.82" fill="#9ea1a4"/>
<circle cx="55.81" cy="665.00" r="0.82" fill="#9ea1a4"/>
<circle cx="56.87" cy="665.00" r="0.82" fill="#9ea1a4"/>
<circle cx="57.74" cy="665.00" r="0.82" fill="#9ea1a4"/>
<circle cx="59.00" cy="665.00" r="0.82" fill="#9ea1a4"/>
<circle cx="60.22" cy="665.00" r="0.82" fill="#9ea1a4"/>
<circle cx="61.33" cy="665.00" r="0.82" fill="#9ea1a4"/>
<circle cx="62.19" cy="665.00" r="0.82" fill="#9ea1a4"/>
<circle cx="63.35" cy="665.00" r="0.82" fill="#9ea1a4"/>
<circle cx="64.54" cy="665.00" r="0.82" fill="#9ea1a4"/>
<circle cx="65.46" cy="665.00" r="0.82" fill="#9ea1a4"/>
<circle cx="52.44" cy="666.05" r="0.82" fill="#9ea1a4"/>
<circle cx="53.33" cy="666.05" r="0.82" fill="#9ea1a4"/>
<circle cx="54.73" cy="666.05" r="0.82" fill="#9ea1a4"/>
<circle cx="55.59" cy="666.05" r="0.82" fill="#9ea1a4"/>
<circle cx="56.75" cy="666.05" r="0.82" fill="#9ea1a4"/>
<circle cx="57.98" cy="666.05" r="0.82" fill="#9ea1a4"/>
<circle cx="59.04" cy="666.05" r="0.82" fill="#9ea1a4"/>
<circle cx="60.30" cy="666.05" r="0.82" fill="#9ea1a4"/>
<circle cx="61.26" cy="666.05" r="0.82" fill="#9ea1a4"/>
<circle cx="62.21" cy="666.05" r="0.82" fill="#9ea1a4"/>
<circle cx="63.26" cy="666.05" r="0.82" fill="#9ea1a4"/>
<circle cx="64.61" cy="666.05" r="0.82" fill="#9ea1a4"/>
<circle cx="65.69" cy="666.05" r="0.82" fill="#9ea1a4"/>
<circle cx="52.28" cy="667.10" r="0.82" fill="#9ea1a4"/>
<circle cx="53.63" cy="667.10" r="0.82" fill="#9ea1a4"/>
<circle cx="54.55" cy="667.10" r="0.82" fill="#9ea1a4"/>
<circle cx="55.57" cy="667.10" r="0.82" fill="#9ea1a4"/>
<circle cx="56.66" cy="667.10" r="0.82" fill="#9ea1a4"/>
<circle cx="57.88" cy="667.10" r="0.82" fill="#9ea1a4"/>
<circle cx="59.11" cy="667.10" r="0.82" fill="#9ea1a4"/>
<circle cx="60.11" cy="667.10" r="0.82" fill="#9ea1a4"/>
<circle cx="61.12" cy="667.10" r="0.82" fill="#9ea1a4"/>
<circle cx="62.36" cy="667.10" r="0.82" fill="#9ea1a4"/>
<circle cx="63.21" cy="667.10" r="0.82" fill="#9ea1a4"/>
<circle cx="64.59" cy="667.10" r="0.82" fill="#9ea1a4"/>
<circle cx="65.67" cy="667.10" r="0.82" fill="#9ea1a4"/>
<circle cx="52.38" cy="668.15" r="0.82" fill="#9ea1a4"/>
<circle cx="53.33" cy="668.15" r="0.82" fill="#9ea1a4"/>
<circle cx="54.56" cy="668.15" r="0.82" fill="#9ea1a4"/>
<circle cx="55.86" cy="668.15" r="0.82" fill="#9ea1a4"/>
<circle cx="56.97" cy="668.15" r="0.82" fill="#9ea1a4"/>
<circle cx="58.00" cy="668.15" r="0.82" fill="#9ea1a4"/>
<circle cx="59.08" cy="668.15" r="0.82" fill="#9ea1a4"/>
<circle cx="60.29" cy="668.15" r="0.82" fill="#9ea1a4"/>
<circle cx="61.11" cy="668.15" r="0.82" fill="#9ea1a4"/>
<circle cx="62.45" cy="668.15" r="0.82" fill="#9ea1a4"/>
<circle cx="63.57" cy="668.15" r="0.82" fill="#9ea1a4"/>
<circle cx="64.63" cy="668.15" r="0.82" fill="#9ea1a4"/>
<circle cx="65.49" cy="668.15" r="0.82" fill="#9ea1a4"/>
<circle cx="53.56" cy="669.20" r="0.82" fill="#9ea1a4"/>
<circle cx="54.41" cy="669.20" r="0.82" fill="#9ea1a4"/>
<circle cx="55.59" cy="669.20" r="0.82" fill="#9ea1a4"/>
<circle cx="56.94" cy="669.20" r="0.82" fill="#9ea1a4"/>
<circle cx="57.76" cy="669.20" r="0.82" fill="#9ea1a4"/>
<circle cx="59.06" cy="669.20" r="0.82" fill="#9ea1a4"/>
<circle cx="59.98" cy="669.20" r="0.82" fill="#9ea1a4"/>
<circle cx="61.39" cy="669.20" r="0.82" fill="#9ea1a4"/>
<circle cx="62.47" cy="669.20" r="0.82" fill="#9ea1a4"/>
<circle cx="63.59" cy="669.20" r="0.82" fill="#9ea1a4"/>
<circle cx="64.54" cy="669.20" r="0.82" fill="#9ea1a4"/>
<circle cx="53.70" cy="670.25" r="0.82" fill="#9ea1a4"/>
<circle cx="54.46" cy="670.25" r="0.82" fill="#9ea1a4"/>
<circle cx="55.73" cy="670.25" r="0.82" fill="#9ea1a4"/>
<circle cx="56.64" cy="670.25" r="0.82" fill="#9ea1a4"/>
<circle cx="57.94" cy="670.25" r="0.82" fill="#9ea1a4"/>
<circle cx="59.20" cy="670.25" r="0.82" fill="#9ea1a4"/>
<circle cx="60.19" cy="670.25" r="0.82" fill="#9ea1a4"/>
<circle cx="61.32" cy="670.25" r="0.82" fill="#9ea1a4"/>
<circle cx="62.46" cy="670.25" r="0.82" fill="#9ea1a4"/>
<circle cx="63.55" cy="670.25" r="0.82" fill="#9ea1a4"/>
<circle cx="64.55" cy="670.25" r="0.82" fill="#9ea1a4"/>
<circle cx="53.61" cy="671.30" r="0.82" fill="#9ea1a4"/>
<circle cx="54.46" cy="671.30" r="0.82" fill="#9ea1a4"/>
<circle cx="55.60" cy="671.30" r="0.82" fill="#9ea1a4"/>
<circle cx="56.89" cy="671.30" r="0.82" fill="#9ea1a4"/>
<circle cx="57.99" cy="671.30" r="0.82" fill="#9ea1a4"/>
<circle cx="58.96" cy="671.30" r="0.82" fill="#9ea1a4"/>
<circle cx="60.09" cy="671.30" r="0.82" fill="#9ea1a4"/>
<circle cx="61.13" cy="671.30" r="0.82" fill="#9ea1a4"/>
<circle cx="62.42" cy="671.30" r="0.82" fill="#9ea1a4"/>
<circle cx="63.38" cy="671.30" r="0.82" fill="#9ea1a4"/>
<circle cx="64.43" cy="671.30" r="0.82" fill="#9ea1a4"/>
<circle cx="53.39" cy="672.35" r="0.82" fill="#9ea1a4"/>
<circle cx="54.58" cy="672.35" r="0.82" fill="#9ea1a4"/>
<circle cx="55.85" cy="672.35" r="0.82" fill="#9ea1a4"/>
<circle cx="56.70" cy="672.35" r="0.82" fill="#9ea1a4"/>
<circle cx="57.71" cy="672.35" r="0.82" fill="#9ea1a4"/>
<circle cx="58.94" cy="672.35" r="0.82" fill="#9ea1a4"/>
<circle cx="60.04" cy="672.35" r="0.82" fill="#9ea1a4"/>
<circle cx="61.36" cy="672.35" r="0.82" fill="#9ea1a4"/>
<circle cx="62.31" cy="672.35" r="0.82" fill="#9ea1a4"/>
<circle cx="63.43" cy="672.35" r="0.82" fill="#9ea1a4"/>
<circle cx="64.42" cy="672.35" r="0.82" fill="#9ea1a4"/>
<circle cx="53.46" cy="673.40" r="0.82" fill="#9ea1a4"/>
<circle cx="54.61" cy="673.40" r="0.82" fill="#9ea1a4"/>
<circle cx="55.70" cy="673.40" r="0.82" fill="#9ea1a4"/>
<circle cx="56.79" cy="673.40" r="0.82" fill="#9ea1a4"/>
<circle cx="58.09" cy="673.40" r="0.82" fill="#9ea1a4"/>
<circle cx="59.04" cy="673.40" r="0.82" fill="#9ea1a4"/>
<circle cx="60.04" cy="673.40" r="0.82" fill="#9ea1a4"/>
<circle cx="61.29" cy="673.40" r="0.82" fill="#9ea1a4"/>
<circle cx="62.16" cy="673.40" r="0.82" fill="#9ea1a4"/>
<circle cx="63.25" cy="673.40" r="0.82" fill="#9ea1a4"/>
<circle cx="64.46" cy="673.40" r="0.82" fill="#9ea1a4"/>
<circle cx="54.61" cy="674.45" r="0.82" fill="#9ea1a4"/>
<circle cx="55.75" cy="674.45" r="0.82" fill="#9ea1a4"/>
<circle cx="56.65" cy="674.45" r="0.82" fill="#9ea1a4"/>
<circle cx="57.96" cy="674.45" r="0.82" fill="#9ea1a4"/>
<circle cx="59.17" cy="674.45" r="0.82" fill="#9ea1a4"/>
<circle cx="60.00" cy="674.45" r="0.82" fill="#9ea1a4"/>
<circle cx="61.16" cy="674.45" r="0.82" fill="#9ea1a4"/>
<circle cx="62.30" cy="674.45" r="0.82" fill="#9ea1a4"/>
<circle cx="63.52" cy="674.45" r="0.82" fill="#9ea1a4"/>
<circle cx="54.74" cy="675.50" r="0.82" fill="#9ea1a4"/>
<circle cx="55.76" cy="675.50" r="0.82" fill="#9ea1a4"/>
<circle cx="56.83" cy="675.50" r="0.82" fill="#9ea1a4"/>
<circle cx="57.78" cy="675.50" r="0.82" fill="#9ea1a4"/>
<circle cx="59.01" cy="675.50" r="0.82" fill="#9ea1a4"/>
<circle cx="59.93" cy="675.50" r="0.82" fill="#9ea1a4"/>
<circle cx="61.01" cy="675.50" r="0.82" fill="#9ea1a4"/>
<circle cx="62.15" cy="675.50" r="0.82" fill="#9ea1a4"/>
<circle cx="63.54" cy="675.50" r="0.82" fill="#9ea1a4"/>
<circle cx="54.51" cy="676.55" r="0.82" fill="#9ea1a4"/>
<circle cx="55.56" cy="676.55" r="0.82" fill="#9ea1a4"/>
<circle cx="56.91" cy="676.55" r="0.82" fill="#9ea1a4"/>
<circle cx="57.87" cy="676.55" r="0.82" fill="#9ea1a4"/>
<circle cx="58.85" cy="676.55" r="0.82" fill="#9ea1a4"/>
<circle cx="60.16" cy="676.55" r="0.82" fill="#9ea1a4"/>
<circle cx="61.39" cy="676.55" r="0.82" fill="#9ea1a4"/>
<circle cx="62.11" cy="676.55" r="0.82" fill="#9ea1a4"/>
<circle cx="63.59" cy="676.55" r="0.82" fill="#9ea1a4"/>
<circle cx="54.62" cy="677.60" r="0.82" fill="#9ea1a4"/>
<circle cx="55.80" cy="677.60" r="0.82" fill="#9ea1a4"/>
<circle cx="56.84" cy="677.60" r="0.82" fill="#9ea1a4"/>
<circle cx="57.86" cy="677.60" r="0.82" fill="#9ea1a4"/>
<circle cx="58.94" cy="677.60" r="0.82" fill="#9ea1a4"/>
<circle cx="60.20" cy="677.60" r="0.82" fill="#9ea1a4"/>
<circle cx="61.18" cy="677.60" r="0.82" fill="#9ea1a4"/>
<circle cx="62.39" cy="677.60" r="0.82" fill="#9ea1a4"/>
<circle cx="63.43" cy="677.60" r="0.82" fill="#9ea1a4"/>
<circle cx="55.83" cy="678.65" r="0.82" fill="#9ea1a4"/>
<circle cx="56.77" cy="678.65" r="0.82" fill="#9ea1a4"/>
<circle cx="57.82" cy="678.65" r="0.82" fill="#9ea1a4"/>
<circle cx="58.95" cy="678.65" r="0.82" fill="#9ea1a4"/>
<circle cx="60.12" cy="678.65" r="0.82" fill="#9ea1a4"/>
<circle cx="61.29" cy="678.65" r="0.82" fill="#9ea1a4"/>
<circle cx="62.34" cy="678.65" r="0.82" fill="#9ea1a4"/>
<circle cx="55.52" cy="679.70" r="0.82" fill="#9ea1a4"/>
<circle cx="57.00" cy="679.70" r="0.82" fill="#9ea1a4"/>
<circle cx="57.87" cy="679.70" r="0.82" fill="#9ea1a4"/>
<circle cx="58.84" cy="679.70" r="0.82" fill="#9ea1a4"/>
<circle cx="60.21" cy="679.70" r="0.82" fill="#9ea1a4"/>
<circle cx="61.06" cy="679.70" r="0.82" fill="#9ea1a4"/>
<circle cx="62.10" cy="679.70" r="0.82" fill="#9ea1a4"/>
<circle cx="55.85" cy="680.75" r="0.82" fill="#9ea1a4"/>
<circle cx="56.82" cy="680.75" r="0.82" fill="#9ea1a4"/>
<circle cx="57.94" cy="680.75" r="0.82" fill="#9ea1a4"/>
<circle cx="58.96" cy="680.75" r="0.82" fill="#9ea1a4"/>
<circle cx="59.94" cy="680.75" r="0.82" fill="#9ea1a4"/>
<circle cx="61.37" cy="680.75" r="0.82" fill="#9ea1a4"/>
<circle cx="62.11" cy="680.75" r="0.82" fill="#9ea1a4"/>
<circle cx="55.65" cy="681.80" r="0.82" fill="#9ea1a4"/>
<circle cx="56.90" cy="681.80" r="0.82" fill="#9ea1a4"/>
<circle cx="57.98" cy="681.80" r="0.82" fill="#9ea1a4"/>
<circle cx="58.86" cy="681.80" r="0.82" fill="#9ea1a4"/>
<circle cx="60.05" cy="681.80" r="0.82" fill="#9ea1a4"/>
<circle cx="61.09" cy="681.80" r="0.82" fill="#9ea1a4"/>
<circle cx="62.23" cy="681.80" r="0.82" fill="#9ea1a4"/>
<circle cx="55.58" cy="682.85" r="0.82" fill="#9ea1a4"/>
<circle cx="56.64" cy="682.85" r="0.82" fill="#9ea1a4"/>
<circle cx="58.04" cy="682.85" r="0.82" fill="#9ea1a4"/>
<circle cx="59.14" cy="682.85" r="0.82" fill="#9ea1a4"/>
<circle cx="60.06" cy="682.85" r="0.82" fill="#9ea1a4"/>
<circle cx="61.09" cy="682.85" r="0.82" fill="#9ea1a4"/>
<circle cx="62.40" cy="682.85" r="0.82" fill="#9ea1a4"/>
<circle cx="56.82" cy="683.90" r="0.82" fill="#9ea1a4"/>
<circle cx="58.05" cy="683.90" r="0.82" fill="#9ea1a4"/>
<circle cx="59.01" cy="683.90" r="0.82" fill="#9ea1a4"/>
<circle cx="60.07" cy="683.90" r="0.82" fill="#9ea1a4"/>
<circle cx="61.26" cy="683.90" r="0.82" fill="#9ea1a4"/>
<circle cx="56.91" cy="684.95" r="0.82" fill="#9ea1a4"/>
<circle cx="58.09" cy="684.95" r="0.82" fill="#9ea1a4"/>
<circle cx="59.06" cy="684.95" r="0.82" fill="#9ea1a4"/>
<circle cx="60.10" cy="684.95" r="0.82" fill="#9ea1a4"/>
<circle cx="61.20" cy="684.95" r="0.82" fill="#9ea1a4"/>
<circle cx="56.69" cy="686.00" r="0.82" fill="#9ea1a4"/>
<circle cx="57.77" cy="686.00" r="0.82" fill="#9ea1a4"/>
<circle cx="59.09" cy="686.00" r="0.82" fill="#9ea1a4"/>
<circle cx="60.08" cy="686.00" r="0.82" fill="#9ea1a4"/>
<circle cx="61.14" cy="686.00" r="0.82" fill="#9ea1a4"/>
<circle cx="56.80" cy="687.05" r="0.82" fill="#9ea1a4"/>
<circle cx="57.77" cy="687.05" r="0.82" fill="#9ea1a4"/>
<circle cx="58.83" cy="687.05" r="0.82" fill="#9ea1a4"/>
<circle cx="60.01" cy="687.05" r="0.82" fill="#9ea1a4"/>
<circle cx="61.20" cy="687.05" r="0.82" fill="#9ea1a4"/>
<circle cx="57.90" cy="688.10" r="0.82" fill="#9ea1a4"/>
<circle cx="59.12" cy="688.10" r="0.82" fill="#9ea1a4"/>
<circle cx="60.03" cy="688.10" r="0.82" fill="#9ea1a4"/>
<circle cx="57.97" cy="689.15" r="0.82" fill="#9ea1a4"/>
<circle cx="58.92" cy="689.15" r="0.82" fill="#9ea1a4"/>
<circle cx="60.29" cy="689.15" r="0.82" fill="#9ea1a4"/>
<circle cx="57.97" cy="690.20" r="0.82" fill="#9ea1a4"/>
<circle cx="58.99" cy="690.20" r="0.82" fill="#9ea1a4"/>
<circle cx="60.06" cy="690.20" r="0.82" fill="#9ea1a4"/>
<circle cx="57.92" cy="691.25" r="0.82" fill="#9ea1a4"/>
<circle cx="58.87" cy="691.25" r="0.82" fill="#9ea1a4"/>
<circle cx="60.16" cy="691.25" r="0.82" fill="#9ea1a4"/>
<circle cx="59.16" cy="692.30" r="0.82" fill="#9ea1a4"/>
<circle cx="59.12" cy="693.35" r="0.82" fill="#9ea1a4"/>
<circle cx="59.13" cy="694.40" r="0.7" fill="#b4b6b9"/>
<circle cx="59.25" cy="695.45" r="0.7" fill="#b4b6b9"/>
<circle cx="58.96" cy="696.50" r="0.7" fill="#b4b6b9"/>
<line x1="51.30" y1="659.00" x2="66.70" y2="659.00" stroke="#111111" stroke-width="1.5"/>
<circle cx="83.18" cy="628.00" r="0.7" fill="#b4b6b9"/>
<circle cx="83.35" cy="630.10" r="0.7" fill="#b4b6b9"/>
<circle cx="82.63" cy="631.15" r="0.7" fill="#b4b6b9"/>
<circle cx="82.61" cy="634.30" r="0.7" fill="#b4b6b9"/>
<circle cx="82.64" cy="635.35" r="0.7" fill="#b4b6b9"/>
<circle cx="82.60" cy="637.45" r="0.7" fill="#b4b6b9"/>
<circle cx="82.68" cy="639.55" r="0.7" fill="#b4b6b9"/>
<circle cx="82.95" cy="640.60" r="0.7" fill="#b4b6b9"/>
<circle cx="83.18" cy="642.70" r="0.82" fill="#9ea1a4"/>
<circle cx="81.93" cy="643.75" r="0.82" fill="#9ea1a4"/>
<circle cx="83.16" cy="643.75" r="0.82" fill="#9ea1a4"/>
<circle cx="84.06" cy="643.75" r="0.82" fill="#9ea1a4"/>
<circle cx="80.95" cy="644.80" r="0.82" fill="#9ea1a4"/>
<circle cx="81.77" cy="644.80" r="0.82" fill="#9ea1a4"/>
<circle cx="83.13" cy="644.80" r="0.82" fill="#9ea1a4"/>
<circle cx="84.07" cy="644.80" r="0.82" fill="#9ea1a4"/>
<circle cx="85.22" cy="644.80" r="0.82" fill="#9ea1a4"/>
<circle cx="80.93" cy="645.85" r="0.82" fill="#9ea1a4"/>
<circle cx="81.75" cy="645.85" r="0.82" fill="#9ea1a4"/>
<circle cx="83.04" cy="645.85" r="0.82" fill="#9ea1a4"/>
<circle cx="84.11" cy="645.85" r="0.82" fill="#9ea1a4"/>
<circle cx="85.20" cy="645.85" r="0.82" fill="#9ea1a4"/>
<circle cx="79.59" cy="646.90" r="0.82" fill="#9ea1a4"/>
<circle cx="80.97" cy="646.90" r="0.82" fill="#9ea1a4"/>
<circle cx="81.84" cy="646.90" r="0.82" fill="#9ea1a4"/>
<circle cx="83.02" cy="646.90" r="0.82" fill="#9ea1a4"/>
<circle cx="83.99" cy="646.90" r="0.82" fill="#9ea1a4"/>
<circle cx="85.05" cy="646.90" r="0.82" fill="#9ea1a4"/>
<circle cx="86.24" cy="646.90" r="0.82" fill="#9ea1a4"/>
<circle cx="79.52" cy="647.95" r="0.82" fill="#9ea1a4"/>
<circle cx="81.00" cy="647.95" r="0.82" fill="#9ea1a4"/>
<circle cx="81.76" cy="647.95" r="0.82" fill="#9ea1a4"/>
<circle cx="82.89" cy="647.95" r="0.82" fill="#9ea1a4"/>
<circle cx="84.08" cy="647.95" r="0.82" fill="#9ea1a4"/>
<circle cx="85.14" cy="647.95" r="0.82" fill="#9ea1a4"/>
<circle cx="86.21" cy="647.95" r="0.82" fill="#9ea1a4"/>
<circle cx="79.51" cy="649.00" r="0.82" fill="#9ea1a4"/>
<circle cx="80.67" cy="649.00" r="0.82" fill="#9ea1a4"/>
<circle cx="82.02" cy="649.00" r="0.82" fill="#9ea1a4"/>
<circle cx="82.92" cy="649.00" r="0.82" fill="#9ea1a4"/>
<circle cx="84.21" cy="649.00" r="0.82" fill="#9ea1a4"/>
<circle cx="85.26" cy="649.00" r="0.82" fill="#9ea1a4"/>
<circle cx="86.48" cy="649.00" r="0.82" fill="#9ea1a4"/>
<circle cx="78.47" cy="650.05" r="0.82" fill="#9ea1a4"/>
<circle cx="79.73" cy="650.05" r="0.82" fill="#9ea1a4"/>
<circle cx="80.63" cy="650.05" r="0.82" fill="#9ea1a4"/>
<circle cx="81.85" cy="650.05" r="0.82" fill="#9ea1a4"/>
<circle cx="83.11" cy="650.05" r="0.82" fill="#9ea1a4"/>
<circle cx="84.09" cy="650.05" r="0.82" fill="#9ea1a4"/>
<circle cx="85.38" cy="650.05" r="0.82" fill="#9ea1a4"/>
<circle cx="86.40" cy="650.05" r="0.82" fill="#9ea1a4"/>
<circle cx="87.23" cy="650.05" r="0.82" fill="#9ea1a4"/>
<circle cx="78.62" cy="651.10" r="0.82" fill="#9ea1a4"/>
<circle cx="79.61" cy="651.10" r="0.82" fill="#9ea1a4"/>
<circle cx="80.61" cy="651.10" r="0.82" fill="#9ea1a4"/>
<circle cx="81.98" cy="651.10" r="0.82" fill="#9ea1a4"/>
<circle cx="83.11" cy="651.10" r="0.82" fill="#9ea1a4"/>
<circle cx="83.97" cy="651.10" r="0.82" fill="#9ea1a4"/>
<circle cx="85.34" cy="651.10" r="0.82" fill="#9ea1a4"/>
<circle cx="86.42" cy="651.10" r="0.82" fill="#9ea1a4"/>
<circle cx="87.44" cy="651.10" r="0.82" fill="#9ea1a4"/>
<circle cx="77.51" cy="652.15" r="0.82" fill="#9ea1a4"/>
<circle cx="78.61" cy="652.15" r="0.82" fill="#9ea1a4"/>
<circle cx="79.84" cy="652.15" r="0.82" fill="#9ea1a4"/>
<circle cx="80.93" cy="652.15" r="0.82" fill="#9ea1a4"/>
<circle cx="81.83" cy="652.15" r="0.82" fill="#9ea1a4"/>
<circle cx="83.09" cy="652.15" r="0.82" fill="#9ea1a4"/>
<circle cx="83.97" cy="652.15" r="0.82" fill="#9ea1a4"/>
<circle cx="85.37" cy="652.15" r="0.82" fill="#9ea1a4"/>
<circle cx="86.42" cy="652.15" r="0.82" fill="#9ea1a4"/>
<circle cx="87.53" cy="652.15" r="0.82" fill="#9ea1a4"/>
<circle cx="88.65" cy="652.15" r="0.82" fill="#9ea1a4"/>
<circle cx="77.37" cy="653.20" r="0.82" fill="#9ea1a4"/>
<circle cx="78.66" cy="653.20" r="0.82" fill="#9ea1a4"/>
<circle cx="79.79" cy="653.20" r="0.82" fill="#9ea1a4"/>
<circle cx="80.86" cy="653.20" r="0.82" fill="#9ea1a4"/>
<circle cx="81.98" cy="653.20" r="0.82" fill="#9ea1a4"/>
<circle cx="83.14" cy="653.20" r="0.82" fill="#9ea1a4"/>
<circle cx="84.13" cy="653.20" r="0.82" fill="#9ea1a4"/>
<circle cx="85.29" cy="653.20" r="0.82" fill="#9ea1a4"/>
<circle cx="86.12" cy="653.20" r="0.82" fill="#9ea1a4"/>
<circle cx="87.47" cy="653.20" r="0.82" fill="#9ea1a4"/>
<circle cx="88.55" cy="653.20" r="0.82" fill="#9ea1a4"/>
<circle cx="76.56" cy="654.25" r="0.82" fill="#9ea1a4"/>
<circle cx="77.51" cy="654.25" r="0.82" fill="#9ea1a4"/>
<circle cx="78.52" cy="654.25" r="0.82" fill="#9ea1a4"/>
<circle cx="79.88" cy="654.25" r="0.82" fill="#9ea1a4"/>
<circle cx="80.69" cy="654.25" r="0.82" fill="#9ea1a4"/>
<circle cx="81.93" cy="654.25" r="0.82" fill="#9ea1a4"/>
<circle cx="83.10" cy="654.25" r="0.82" fill="#9ea1a4"/>
<circle cx="84.30" cy="654.25" r="0.82" fill="#9ea1a4"/>
<circle cx="85.15" cy="654.25" r="0.82" fill="#9ea1a4"/>
<circle cx="86.41" cy="654.25" r="0.82" fill="#9ea1a4"/>
<circle cx="87.50" cy="654.25" r="0.82" fill="#9ea1a4"/>
<circle cx="88.35" cy="654.25" r="0.82" fill="#9ea1a4"/>
<circle cx="89.77" cy="654.25" r="0.82" fill="#9ea1a4"/>
<circle cx="76.23" cy="655.30" r="0.82" fill="#9ea1a4"/>
<circle cx="77.65" cy="655.30" r="0.82" fill="#9ea1a4"/>
<circle cx="78.75" cy="655.30" r="0.82" fill="#9ea1a4"/>
<circle cx="79.70" cy="655.30" r="0.82" fill="#9ea1a4"/>
<circle cx="80.92" cy="655.30" r="0.82" fill="#9ea1a4"/>
<circle cx="81.74" cy="655.30" r="0.82" fill="#9ea1a4"/>
<circle cx="82.81" cy="655.30" r="0.82" fill="#9ea1a4"/>
<circle cx="84.02" cy="655.30" r="0.82" fill="#9ea1a4"/>
<circle cx="85.09" cy="655.30" r="0.82" fill="#9ea1a4"/>
<circle cx="86.29" cy="655.30" r="0.82" fill="#9ea1a4"/>
<circle cx="87.57" cy="655.30" r="0.82" fill="#9ea1a4"/>
<circle cx="88.54" cy="655.30" r="0.82" fill="#9ea1a4"/>
<circle cx="89.66" cy="655.30" r="0.82" fill="#9ea1a4"/>
<circle cx="76.46" cy="656.35" r="0.82" fill="#9ea1a4"/>
<circle cx="77.31" cy="656.35" r="0.82" fill="#9ea1a4"/>
<circle cx="78.62" cy="656.35" r="0.82" fill="#9ea1a4"/>
<circle cx="79.67" cy="656.35" r="0.82" fill="#9ea1a4"/>
<circle cx="80.74" cy="656.35" r="0.82" fill="#9ea1a4"/>
<circle cx="81.82" cy="656.35" r="0.82" fill="#9ea1a4"/>
<circle cx="82.95" cy="656.35" r="0.82" fill="#9ea1a4"/>
<circle cx="84.12" cy="656.35" r="0.82" fill="#9ea1a4"/>
<circle cx="85.22" cy="656.35" r="0.82" fill="#9ea1a4"/>
<circle cx="86.16" cy="656.35" r="0.82" fill="#9ea1a4"/>
<circle cx="87.24" cy="656.35" r="0.82" fill="#9ea1a4"/>
<circle cx="88.60" cy="656.35" r="0.82" fill="#9ea1a4"/>
<circle cx="89.54" cy="656.35" r="0.82" fill="#9ea1a4"/>
<circle cx="75.42" cy="657.40" r="0.82" fill="#9ea1a4"/>
<circle cx="76.33" cy="657.40" r="0.82" fill="#9ea1a4"/>
<circle cx="77.48" cy="657.40" r="0.82" fill="#9ea1a4"/>
<circle cx="78.68" cy="657.40" r="0.82" fill="#9ea1a4"/>
<circle cx="79.64" cy="657.40" r="0.82" fill="#9ea1a4"/>
<circle cx="80.83" cy="657.40" r="0.82" fill="#9ea1a4"/>
<circle cx="82.09" cy="657.40" r="0.82" fill="#9ea1a4"/>
<circle cx="82.83" cy="657.40" r="0.82" fill="#9ea1a4"/>
<circle cx="84.18" cy="657.40" r="0.82" fill="#9ea1a4"/>
<circle cx="85.31" cy="657.40" r="0.82" fill="#9ea1a4"/>
<circle cx="86.48" cy="657.40" r="0.82" fill="#9ea1a4"/>
<circle cx="87.58" cy="657.40" r="0.82" fill="#9ea1a4"/>
<circle cx="88.42" cy="657.40" r="0.82" fill="#9ea1a4"/>
<circle cx="89.54" cy="657.40" r="0.82" fill="#9ea1a4"/>
<circle cx="90.68" cy="657.40" r="0.82" fill="#9ea1a4"/>
<circle cx="75.36" cy="658.45" r="0.82" fill="#9ea1a4"/>
<circle cx="76.30" cy="658.45" r="0.82" fill="#9ea1a4"/>
<circle cx="77.40" cy="658.45" r="0.82" fill="#9ea1a4"/>
<circle cx="78.55" cy="658.45" r="0.82" fill="#9ea1a4"/>
<circle cx="79.64" cy="658.45" r="0.82" fill="#9ea1a4"/>
<circle cx="80.79" cy="658.45" r="0.82" fill="#9ea1a4"/>
<circle cx="81.88" cy="658.45" r="0.82" fill="#9ea1a4"/>
<circle cx="83.07" cy="658.45" r="0.82" fill="#9ea1a4"/>
<circle cx="84.21" cy="658.45" r="0.82" fill="#9ea1a4"/>
<circle cx="85.27" cy="658.45" r="0.82" fill="#9ea1a4"/>
<circle cx="86.41" cy="658.45" r="0.82" fill="#9ea1a4"/>
<circle cx="87.22" cy="658.45" r="0.82" fill="#9ea1a4"/>
<circle cx="88.60" cy="658.45" r="0.82" fill="#9ea1a4"/>
<circle cx="89.57" cy="658.45" r="0.82" fill="#9ea1a4"/>
<circle cx="90.71" cy="658.45" r="0.82" fill="#9ea1a4"/>
<circle cx="75.39" cy="659.50" r="0.82" fill="#9ea1a4"/>
<circle cx="76.40" cy="659.50" r="0.82" fill="#9ea1a4"/>
<circle cx="77.39" cy="659.50" r="0.82" fill="#9ea1a4"/>
<circle cx="78.63" cy="659.50" r="0.82" fill="#9ea1a4"/>
<circle cx="79.62" cy="659.50" r="0.82" fill="#9ea1a4"/>
<circle cx="80.76" cy="659.50" r="0.82" fill="#9ea1a4"/>
<circle cx="81.94" cy="659.50" r="0.82" fill="#9ea1a4"/>
<circle cx="83.01" cy="659.50" r="0.82" fill="#9ea1a4"/>
<circle cx="83.97" cy="659.50" r="0.82" fill="#9ea1a4"/>
<circle cx="85.16" cy="659.50" r="0.82" fill="#9ea1a4"/>
<circle cx="86.11" cy="659.50" r="0.82" fill="#9ea1a4"/>
<circle cx="87.36" cy="659.50" r="0.82" fill="#9ea1a4"/>
<circle cx="88.68" cy="659.50" r="0.82" fill="#9ea1a4"/>
<circle cx="89.67" cy="659.50" r="0.82" fill="#9ea1a4"/>
<circle cx="90.58" cy="659.50" r="0.82" fill="#9ea1a4"/>
<circle cx="76.43" cy="660.55" r="0.82" fill="#9ea1a4"/>
<circle cx="77.56" cy="660.55" r="0.82" fill="#9ea1a4"/>
<circle cx="78.68" cy="660.55" r="0.82" fill="#9ea1a4"/>
<circle cx="79.75" cy="660.55" r="0.82" fill="#9ea1a4"/>
<circle cx="80.64" cy="660.55" r="0.82" fill="#9ea1a4"/>
<circle cx="82.05" cy="660.55" r="0.82" fill="#9ea1a4"/>
<circle cx="83.15" cy="660.55" r="0.82" fill="#9ea1a4"/>
<circle cx="83.95" cy="660.55" r="0.82" fill="#9ea1a4"/>
<circle cx="85.25" cy="660.55" r="0.82" fill="#9ea1a4"/>
<circle cx="86.12" cy="660.55" r="0.82" fill="#9ea1a4"/>
<circle cx="87.25" cy="660.55" r="0.82" fill="#9ea1a4"/>
<circle cx="88.56" cy="660.55" r="0.82" fill="#9ea1a4"/>
<circle cx="89.66" cy="660.55" r="0.82" fill="#9ea1a4"/>
<circle cx="76.43" cy="661.60" r="0.82" fill="#9ea1a4"/>
<circle cx="77.48" cy="661.60" r="0.82" fill="#9ea1a4"/>
<circle cx="78.78" cy="661.60" r="0.82" fill="#9ea1a4"/>
<circle cx="79.90" cy="661.60" r="0.82" fill="#9ea1a4"/>
<circle cx="80.69" cy="661.60" r="0.82" fill="#9ea1a4"/>
<circle cx="81.90" cy="661.60" r="0.82" fill="#9ea1a4"/>
<circle cx="82.94" cy="661.60" r="0.82" fill="#9ea1a4"/>
<circle cx="83.99" cy="661.60" r="0.82" fill="#9ea1a4"/>
<circle cx="85.36" cy="661.60" r="0.82" fill="#9ea1a4"/>
<circle cx="86.49" cy="661.60" r="0.82" fill="#9ea1a4"/>
<circle cx="87.24" cy="661.60" r="0.82" fill="#9ea1a4"/>
<circle cx="88.44" cy="661.60" r="0.82" fill="#9ea1a4"/>
<circle cx="89.77" cy="661.60" r="0.82" fill="#9ea1a4"/>
<circle cx="76.56" cy="662.65" r="0.82" fill="#9ea1a4"/>
<circle cx="77.59" cy="662.65" r="0.82" fill="#9ea1a4"/>
<circle cx="78.60" cy="662.65" r="0.82" fill="#9ea1a4"/>
<circle cx="79.80" cy="662.65" r="0.82" fill="#9ea1a4"/>
<circle cx="80.92" cy="662.65" r="0.82" fill="#9ea1a4"/>
<circle cx="81.95" cy="662.65" r="0.82" fill="#9ea1a4"/>
<circle cx="83.14" cy="662.65" r="0.82" fill="#9ea1a4"/>
<circle cx="84.29" cy="662.65" r="0.82" fill="#9ea1a4"/>
<circle cx="85.06" cy="662.65" r="0.82" fill="#9ea1a4"/>
<circle cx="86.16" cy="662.65" r="0.82" fill="#9ea1a4"/>
<circle cx="87.44" cy="662.65" r="0.82" fill="#9ea1a4"/>
<circle cx="88.46" cy="662.65" r="0.82" fill="#9ea1a4"/>
<circle cx="89.70" cy="662.65" r="0.82" fill="#9ea1a4"/>
<circle cx="76.55" cy="663.70" r="0.82" fill="#9ea1a4"/>
<circle cx="77.40" cy="663.70" r="0.82" fill="#9ea1a4"/>
<circle cx="78.45" cy="663.70" r="0.82" fill="#9ea1a4"/>
<circle cx="79.59" cy="663.70" r="0.82" fill="#9ea1a4"/>
<circle cx="80.62" cy="663.70" r="0.82" fill="#9ea1a4"/>
<circle cx="81.98" cy="663.70" r="0.82" fill="#9ea1a4"/>
<circle cx="83.02" cy="663.70" r="0.82" fill="#9ea1a4"/>
<circle cx="84.12" cy="663.70" r="0.82" fill="#9ea1a4"/>
<circle cx="85.39" cy="663.70" r="0.82" fill="#9ea1a4"/>
<circle cx="86.18" cy="663.70" r="0.82" fill="#9ea1a4"/>
<circle cx="87.57" cy="663.70" r="0.82" fill="#9ea1a4"/>
<circle cx="88.62" cy="663.70" r="0.82" fill="#9ea1a4"/>
<circle cx="89.57" cy="663.70" r="0.82" fill="#9ea1a4"/>
<circle cx="77.38" cy="664.75" r="0.82" fill="#9ea1a4"/>
<circle cx="78.80" cy="664.75" r="0.82" fill="#9ea1a4"/>
<circle cx="79.87" cy="664.75" r="0.82" fill="#9ea1a4"/>
<circle cx="80.68" cy="664.75" r="0.82" fill="#9ea1a4"/>
<circle cx="81.99" cy="664.75" r="0.82" fill="#9ea1a4"/>
<circle cx="83.00" cy="664.75" r="0.82" fill="#9ea1a4"/>
<circle cx="84.14" cy="664.75" r="0.82" fill="#9ea1a4"/>
<circle cx="85.28" cy="664.75" r="0.82" fill="#9ea1a4"/>
<circle cx="86.46" cy="664.75" r="0.82" fill="#9ea1a4"/>
<circle cx="87.26" cy="664.75" r="0.82" fill="#9ea1a4"/>
<circle cx="88.60" cy="664.75" r="0.82" fill="#9ea1a4"/>
<circle cx="77.39" cy="665.80" r="0.82" fill="#9ea1a4"/>
<circle cx="78.46" cy="665.80" r="0.82" fill="#9ea1a4"/>
<circle cx="79.52" cy="665.80" r="0.82" fill="#9ea1a4"/>
<circle cx="80.64" cy="665.80" r="0.82" fill="#9ea1a4"/>
<circle cx="81.89" cy="665.80" r="0.82" fill="#9ea1a4"/>
<circle cx="83.03" cy="665.80" r="0.82" fill="#9ea1a4"/>
<circle cx="84.15" cy="665.80" r="0.82" fill="#9ea1a4"/>
<circle cx="85.13" cy="665.80" r="0.82" fill="#9ea1a4"/>
<circle cx="86.36" cy="665.80" r="0.82" fill="#9ea1a4"/>
<circle cx="87.56" cy="665.80" r="0.82" fill="#9ea1a4"/>
<circle cx="88.52" cy="665.80" r="0.82" fill="#9ea1a4"/>
<circle cx="77.47" cy="666.85" r="0.82" fill="#9ea1a4"/>
<circle cx="78.41" cy="666.85" r="0.82" fill="#9ea1a4"/>
<circle cx="79.58" cy="666.85" r="0.82" fill="#9ea1a4"/>
<circle cx="80.97" cy="666.85" r="0.82" fill="#9ea1a4"/>
<circle cx="81.96" cy="666.85" r="0.82" fill="#9ea1a4"/>
<circle cx="83.03" cy="666.85" r="0.82" fill="#9ea1a4"/>
<circle cx="84.09" cy="666.85" r="0.82" fill="#9ea1a4"/>
<circle cx="85.17" cy="666.85" r="0.82" fill="#9ea1a4"/>
<circle cx="86.21" cy="666.85" r="0.82" fill="#9ea1a4"/>
<circle cx="87.55" cy="666.85" r="0.82" fill="#9ea1a4"/>
<circle cx="88.32" cy="666.85" r="0.82" fill="#9ea1a4"/>
<circle cx="77.37" cy="667.90" r="0.82" fill="#9ea1a4"/>
<circle cx="78.59" cy="667.90" r="0.82" fill="#9ea1a4"/>
<circle cx="79.74" cy="667.90" r="0.82" fill="#9ea1a4"/>
<circle cx="80.83" cy="667.90" r="0.82" fill="#9ea1a4"/>
<circle cx="82.05" cy="667.90" r="0.82" fill="#9ea1a4"/>
<circle cx="83.07" cy="667.90" r="0.82" fill="#9ea1a4"/>
<circle cx="84.12" cy="667.90" r="0.82" fill="#9ea1a4"/>
<circle cx="85.27" cy="667.90" r="0.82" fill="#9ea1a4"/>
<circle cx="86.18" cy="667.90" r="0.82" fill="#9ea1a4"/>
<circle cx="87.44" cy="667.90" r="0.82" fill="#9ea1a4"/>
<circle cx="88.52" cy="667.90" r="0.82" fill="#9ea1a4"/>
<circle cx="78.73" cy="668.95" r="0.82" fill="#9ea1a4"/>
<circle cx="79.84" cy="668.95" r="0.82" fill="#9ea1a4"/>
<circle cx="80.94" cy="668.95" r="0.82" fill="#9ea1a4"/>
<circle cx="81.83" cy="668.95" r="0.82" fill="#9ea1a4"/>
<circle cx="83.10" cy="668.95" r="0.82" fill="#9ea1a4"/>
<circle cx="84.26" cy="668.95" r="0.82" fill="#9ea1a4"/>
<circle cx="85.21" cy="668.95" r="0.82" fill="#9ea1a4"/>
<circle cx="86.22" cy="668.95" r="0.82" fill="#9ea1a4"/>
<circle cx="87.52" cy="668.95" r="0.82" fill="#9ea1a4"/>
<circle cx="78.64" cy="670.00" r="0.82" fill="#9ea1a4"/>
<circle cx="79.56" cy="670.00" r="0.82" fill="#9ea1a4"/>
<circle cx="80.93" cy="670.00" r="0.82" fill="#9ea1a4"/>
<circle cx="81.96" cy="670.00" r="0.82" fill="#9ea1a4"/>
<circle cx="82.94" cy="670.00" r="0.82" fill="#9ea1a4"/>
<circle cx="83.91" cy="670.00" r="0.82" fill="#9ea1a4"/>
<circle cx="85.36" cy="670.00" r="0.82" fill="#9ea1a4"/>
<circle cx="86.27" cy="670.00" r="0.82" fill="#9ea1a4"/>
<circle cx="87.23" cy="670.00" r="0.82" fill="#9ea1a4"/>
<circle cx="78.42" cy="671.05" r="0.82" fill="#9ea1a4"/>
<circle cx="79.60" cy="671.05" r="0.82" fill="#9ea1a4"/>
<circle cx="80.78" cy="671.05" r="0.82" fill="#9ea1a4"/>
<circle cx="81.97" cy="671.05" r="0.82" fill="#9ea1a4"/>
<circle cx="82.93" cy="671.05" r="0.82" fill="#9ea1a4"/>
<circle cx="84.18" cy="671.05" r="0.82" fill="#9ea1a4"/>
<circle cx="85.19" cy="671.05" r="0.82" fill="#9ea1a4"/>
<circle cx="86.23" cy="671.05" r="0.82" fill="#9ea1a4"/>
<circle cx="87.44" cy="671.05" r="0.82" fill="#9ea1a4"/>
<circle cx="79.57" cy="672.10" r="0.82" fill="#9ea1a4"/>
<circle cx="80.96" cy="672.10" r="0.82" fill="#9ea1a4"/>
<circle cx="81.71" cy="672.10" r="0.82" fill="#9ea1a4"/>
<circle cx="83.09" cy="672.10" r="0.82" fill="#9ea1a4"/>
<circle cx="84.30" cy="672.10" r="0.82" fill="#9ea1a4"/>
<circle cx="85.26" cy="672.10" r="0.82" fill="#9ea1a4"/>
<circle cx="86.41" cy="672.10" r="0.82" fill="#9ea1a4"/>
<circle cx="79.88" cy="673.15" r="0.82" fill="#9ea1a4"/>
<circle cx="80.67" cy="673.15" r="0.82" fill="#9ea1a4"/>
<circle cx="81.71" cy="673.15" r="0.82" fill="#9ea1a4"/>
<circle cx="83.07" cy="673.15" r="0.82" fill="#9ea1a4"/>
<circle cx="84.23" cy="673.15" r="0.82" fill="#9ea1a4"/>
<circle cx="85.12" cy="673.15" r="0.82" fill="#9ea1a4"/>
<circle cx="86.39" cy="673.15" r="0.82" fill="#9ea1a4"/>
<circle cx="79.63" cy="674.20" r="0.82" fill="#9ea1a4"/>
<circle cx="80.62" cy="674.20" r="0.82" fill="#9ea1a4"/>
<circle cx="81.89" cy="674.20" r="0.82" fill="#9ea1a4"/>
<circle cx="83.02" cy="674.20" r="0.82" fill="#9ea1a4"/>
<circle cx="84.04" cy="674.20" r="0.82" fill="#9ea1a4"/>
<circle cx="85.05" cy="674.20" r="0.82" fill="#9ea1a4"/>
<circle cx="86.41" cy="674.20" r="0.82" fill="#9ea1a4"/>
<circle cx="79.81" cy="675.25" r="0.82" fill="#9ea1a4"/>
<circle cx="80.81" cy="675.25" r="0.82" fill="#9ea1a4"/>
<circle cx="81.90" cy="675.25" r="0.82" fill="#9ea1a4"/>
<circle cx="82.85" cy="675.25" r="0.82" fill="#9ea1a4"/>
<circle cx="84.07" cy="675.25" r="0.82" fill="#9ea1a4"/>
<circle cx="85.25" cy="675.25" r="0.82" fill="#9ea1a4"/>
<circle cx="86.44" cy="675.25" r="0.82" fill="#9ea1a4"/>
<circle cx="80.90" cy="676.30" r="0.82" fill="#9ea1a4"/>
<circle cx="82.04" cy="676.30" r="0.82" fill="#9ea1a4"/>
<circle cx="82.88" cy="676.30" r="0.82" fill="#9ea1a4"/>
<circle cx="84.13" cy="676.30" r="0.82" fill="#9ea1a4"/>
<circle cx="85.02" cy="676.30" r="0.82" fill="#9ea1a4"/>
<circle cx="80.79" cy="677.35" r="0.82" fill="#9ea1a4"/>
<circle cx="81.81" cy="677.35" r="0.82" fill="#9ea1a4"/>
<circle cx="82.81" cy="677.35" r="0.82" fill="#9ea1a4"/>
<circle cx="83.95" cy="677.35" r="0.82" fill="#9ea1a4"/>
<circle cx="85.29" cy="677.35" r="0.82" fill="#9ea1a4"/>
<circle cx="80.75" cy="678.40" r="0.82" fill="#9ea1a4"/>
<circle cx="81.91" cy="678.40" r="0.82" fill="#9ea1a4"/>
<circle cx="82.85" cy="678.40" r="0.82" fill="#9ea1a4"/>
<circle cx="84.10" cy="678.40" r="0.82" fill="#9ea1a4"/>
<circle cx="85.10" cy="678.40" r="0.82" fill="#9ea1a4"/>
<circle cx="82.06" cy="679.45" r="0.82" fill="#9ea1a4"/>
<circle cx="82.95" cy="679.45" r="0.82" fill="#9ea1a4"/>
<circle cx="84.16" cy="679.45" r="0.82" fill="#9ea1a4"/>
<circle cx="81.81" cy="680.50" r="0.82" fill="#9ea1a4"/>
<circle cx="83.09" cy="680.50" r="0.82" fill="#9ea1a4"/>
<circle cx="84.19" cy="680.50" r="0.82" fill="#9ea1a4"/>
<circle cx="83.07" cy="681.55" r="0.82" fill="#9ea1a4"/>
<circle cx="82.80" cy="682.60" r="0.82" fill="#9ea1a4"/>
<circle cx="83.28" cy="687.85" r="0.7" fill="#b4b6b9"/>
<line x1="75.70" y1="658.30" x2="90.70" y2="658.30" stroke="#111111" stroke-width="1.5"/>
<circle cx="106.93" cy="623.00" r="0.7" fill="#b4b6b9"/>
<circle cx="107.31" cy="628.25" r="0.7" fill="#b4b6b9"/>
<circle cx="105.71" cy="629.30" r="0.82" fill="#9ea1a4"/>
<circle cx="106.90" cy="629.30" r="0.82" fill="#9ea1a4"/>
<circle cx="108.27" cy="629.30" r="0.82" fill="#9ea1a4"/>
<circle cx="104.91" cy="630.35" r="0.82" fill="#9ea1a4"/>
<circle cx="105.81" cy="630.35" r="0.82" fill="#9ea1a4"/>
<circle cx="106.90" cy="630.35" r="0.82" fill="#9ea1a4"/>
<circle cx="108.19" cy="630.35" r="0.82" fill="#9ea1a4"/>
<circle cx="109.35" cy="630.35" r="0.82" fill="#9ea1a4"/>
<circle cx="103.69" cy="631.40" r="0.82" fill="#9ea1a4"/>
<circle cx="104.90" cy="631.40" r="0.82" fill="#9ea1a4"/>
<circle cx="105.82" cy="631.40" r="0.82" fill="#9ea1a4"/>
<circle cx="107.17" cy="631.40" r="0.82" fill="#9ea1a4"/>
<circle cx="107.95" cy="631.40" r="0.82" fill="#9ea1a4"/>
<circle cx="109.12" cy="631.40" r="0.82" fill="#9ea1a4"/>
<circle cx="110.39" cy="631.40" r="0.82" fill="#9ea1a4"/>
<circle cx="103.53" cy="632.45" r="0.82" fill="#9ea1a4"/>
<circle cx="104.79" cy="632.45" r="0.82" fill="#9ea1a4"/>
<circle cx="105.90" cy="632.45" r="0.82" fill="#9ea1a4"/>
<circle cx="107.02" cy="632.45" r="0.82" fill="#9ea1a4"/>
<circle cx="108.12" cy="632.45" r="0.82" fill="#9ea1a4"/>
<circle cx="109.22" cy="632.45" r="0.82" fill="#9ea1a4"/>
<circle cx="110.45" cy="632.45" r="0.82" fill="#9ea1a4"/>
<circle cx="102.69" cy="633.50" r="0.82" fill="#9ea1a4"/>
<circle cx="103.80" cy="633.50" r="0.82" fill="#9ea1a4"/>
<circle cx="104.83" cy="633.50" r="0.82" fill="#9ea1a4"/>
<circle cx="106.00" cy="633.50" r="0.82" fill="#9ea1a4"/>
<circle cx="106.95" cy="633.50" r="0.82" fill="#9ea1a4"/>
<circle cx="108.16" cy="633.50" r="0.82" fill="#9ea1a4"/>
<circle cx="109.36" cy="633.50" r="0.82" fill="#9ea1a4"/>
<circle cx="110.29" cy="633.50" r="0.82" fill="#9ea1a4"/>
<circle cx="111.46" cy="633.50" r="0.82" fill="#9ea1a4"/>
<circle cx="101.44" cy="634.55" r="0.82" fill="#9ea1a4"/>
<circle cx="102.68" cy="634.55" r="0.82" fill="#9ea1a4"/>
<circle cx="103.53" cy="634.55" r="0.82" fill="#9ea1a4"/>
<circle cx="104.77" cy="634.55" r="0.82" fill="#9ea1a4"/>
<circle cx="105.96" cy="634.55" r="0.82" fill="#9ea1a4"/>
<circle cx="107.05" cy="634.55" r="0.82" fill="#9ea1a4"/>
<circle cx="108.01" cy="634.55" r="0.82" fill="#9ea1a4"/>
<circle cx="109.12" cy="634.55" r="0.82" fill="#9ea1a4"/>
<circle cx="110.29" cy="634.55" r="0.82" fill="#9ea1a4"/>
<circle cx="111.42" cy="634.55" r="0.82" fill="#9ea1a4"/>
<circle cx="112.66" cy="634.55" r="0.82" fill="#9ea1a4"/>
<circle cx="100.56" cy="635.60" r="0.82" fill="#9ea1a4"/>
<circle cx="101.52" cy="635.60" r="0.82" fill="#9ea1a4"/>
<circle cx="102.48" cy="635.60" r="0.82" fill="#9ea1a4"/>
<circle cx="103.81" cy="635.60" r="0.82" fill="#9ea1a4"/>
<circle cx="104.71" cy="635.60" r="0.82" fill="#9ea1a4"/>
<circle cx="105.85" cy="635.60" r="0.82" fill="#9ea1a4"/>
<circle cx="106.98" cy="635.60" r="0.82" fill="#9ea1a4"/>
<circle cx="107.90" cy="635.60" r="0.82" fill="#9ea1a4"/>
<circle cx="109.17" cy="635.60" r="0.82" fill="#9ea1a4"/>
<circle cx="110.50" cy="635.60" r="0.82" fill="#9ea1a4"/>
<circle cx="111.21" cy="635.60" r="0.82" fill="#9ea1a4"/>
<circle cx="112.39" cy="635.60" r="0.82" fill="#9ea1a4"/>
<circle cx="113.63" cy="635.60" r="0.82" fill="#9ea1a4"/>
<circle cx="100.60" cy="636.65" r="0.82" fill="#9ea1a4"/>
<circle cx="101.64" cy="636.65" r="0.82" fill="#9ea1a4"/>
<circle cx="102.45" cy="636.65" r="0.82" fill="#9ea1a4"/>
<circle cx="103.85" cy="636.65" r="0.82" fill="#9ea1a4"/>
<circle cx="104.61" cy="636.65" r="0.82" fill="#9ea1a4"/>
<circle cx="105.83" cy="636.65" r="0.82" fill="#9ea1a4"/>
<circle cx="107.00" cy="636.65" r="0.82" fill="#9ea1a4"/>
<circle cx="108.20" cy="636.65" r="0.82" fill="#9ea1a4"/>
<circle cx="109.19" cy="636.65" r="0.82" fill="#9ea1a4"/>
<circle cx="110.21" cy="636.65" r="0.82" fill="#9ea1a4"/>
<circle cx="111.28" cy="636.65" r="0.82" fill="#9ea1a4"/>
<circle cx="112.63" cy="636.65" r="0.82" fill="#9ea1a4"/>
<circle cx="113.54" cy="636.65" r="0.82" fill="#9ea1a4"/>
<circle cx="99.31" cy="637.70" r="0.82" fill="#9ea1a4"/>
<circle cx="100.40" cy="637.70" r="0.82" fill="#9ea1a4"/>
<circle cx="101.57" cy="637.70" r="0.82" fill="#9ea1a4"/>
<circle cx="102.44" cy="637.70" r="0.82" fill="#9ea1a4"/>
<circle cx="103.71" cy="637.70" r="0.82" fill="#9ea1a4"/>
<circle cx="104.92" cy="637.70" r="0.82" fill="#9ea1a4"/>
<circle cx="105.73" cy="637.70" r="0.82" fill="#9ea1a4"/>
<circle cx="107.02" cy="637.70" r="0.82" fill="#9ea1a4"/>
<circle cx="108.08" cy="637.70" r="0.82" fill="#9ea1a4"/>
<circle cx="109.29" cy="637.70" r="0.82" fill="#9ea1a4"/>
<circle cx="110.37" cy="637.70" r="0.82" fill="#9ea1a4"/>
<circle cx="111.33" cy="637.70" r="0.82" fill="#9ea1a4"/>
<circle cx="112.58" cy="637.70" r="0.82" fill="#9ea1a4"/>
<circle cx="113.60" cy="637.70" r="0.82" fill="#9ea1a4"/>
<circle cx="114.64" cy="637.70" r="0.82" fill="#9ea1a4"/>
<circle cx="100.52" cy="638.75" r="0.82" fill="#9ea1a4"/>
<circle cx="101.37" cy="638.75" r="0.82" fill="#9ea1a4"/>
<circle cx="102.40" cy="638.75" r="0.82" fill="#9ea1a4"/>
<circle cx="103.67" cy="638.75" r="0.82" fill="#9ea1a4"/>
<circle cx="104.79" cy="638.75" r="0.82" fill="#9ea1a4"/>
<circle cx="105.74" cy="638.75" r="0.82" fill="#9ea1a4"/>
<circle cx="106.82" cy="638.75" r="0.82" fill="#9ea1a4"/>
<circle cx="108.19" cy="638.75" r="0.82" fill="#9ea1a4"/>
<circle cx="109.34" cy="638.75" r="0.82" fill="#9ea1a4"/>
<circle cx="110.11" cy="638.75" r="0.82" fill="#9ea1a4"/>
<circle cx="111.56" cy="638.75" r="0.82" fill="#9ea1a4"/>
<circle cx="112.31" cy="638.75" r="0.82" fill="#9ea1a4"/>
<circle cx="113.69" cy="638.75" r="0.82" fill="#9ea1a4"/>
<circle cx="100.46" cy="639.80" r="0.82" fill="#9ea1a4"/>
<circle cx="101.40" cy="639.80" r="0.82" fill="#9ea1a4"/>
<circle cx="102.70" cy="639.80" r="0.82" fill="#9ea1a4"/>
<circle cx="103.56" cy="639.80" r="0.82" fill="#9ea1a4"/>
<circle cx="104.90" cy="639.80" r="0.82" fill="#9ea1a4"/>
<circle cx="105.85" cy="639.80" r="0.82" fill="#9ea1a4"/>
<circle cx="107.05" cy="639.80" r="0.82" fill="#9ea1a4"/>
<circle cx="107.98" cy="639.80" r="0.82" fill="#9ea1a4"/>
<circle cx="109.04" cy="639.80" r="0.82" fill="#9ea1a4"/>
<circle cx="110.46" cy="639.80" r="0.82" fill="#9ea1a4"/>
<circle cx="111.39" cy="639.80" r="0.82" fill="#9ea1a4"/>
<circle cx="112.41" cy="639.80" r="0.82" fill="#9ea1a4"/>
<circle cx="113.44" cy="639.80" r="0.82" fill="#9ea1a4"/>
<circle cx="101.34" cy="640.85" r="0.82" fill="#9ea1a4"/>
<circle cx="102.56" cy="640.85" r="0.82" fill="#9ea1a4"/>
<circle cx="103.53" cy="640.85" r="0.82" fill="#9ea1a4"/>
<circle cx="104.64" cy="640.85" r="0.82" fill="#9ea1a4"/>
<circle cx="105.90" cy="640.85" r="0.82" fill="#9ea1a4"/>
<circle cx="107.08" cy="640.85" r="0.82" fill="#9ea1a4"/>
<circle cx="108.06" cy="640.85" r="0.82" fill="#9ea1a4"/>
<circle cx="109.37" cy="640.85" r="0.82" fill="#9ea1a4"/>
<circle cx="110.28" cy="640.85" r="0.82" fill="#9ea1a4"/>
<circle cx="111.41" cy="640.85" r="0.82" fill="#9ea1a4"/>
<circle cx="112.56" cy="640.85" r="0.82" fill="#9ea1a4"/>
<circle cx="101.51" cy="641.90" r="0.82" fill="#9ea1a4"/>
<circle cx="102.72" cy="641.90" r="0.82" fill="#9ea1a4"/>
<circle cx="103.59" cy="641.90" r="0.82" fill="#9ea1a4"/>
<circle cx="104.72" cy="641.90" r="0.82" fill="#9ea1a4"/>
<circle cx="105.90" cy="641.90" r="0.82" fill="#9ea1a4"/>
<circle cx="107.13" cy="641.90" r="0.82" fill="#9ea1a4"/>
<circle cx="108.28" cy="641.90" r="0.82" fill="#9ea1a4"/>
<circle cx="109.14" cy="641.90" r="0.82" fill="#9ea1a4"/>
<circle cx="110.40" cy="641.90" r="0.82" fill="#9ea1a4"/>
<circle cx="111.35" cy="641.90" r="0.82" fill="#9ea1a4"/>
<circle cx="112.38" cy="641.90" r="0.82" fill="#9ea1a4"/>
<circle cx="102.75" cy="642.95" r="0.82" fill="#9ea1a4"/>
<circle cx="103.83" cy="642.95" r="0.82" fill="#9ea1a4"/>
<circle cx="104.80" cy="642.95" r="0.82" fill="#9ea1a4"/>
<circle cx="105.75" cy="642.95" r="0.82" fill="#9ea1a4"/>
<circle cx="106.97" cy="642.95" r="0.82" fill="#9ea1a4"/>
<circle cx="107.95" cy="642.95" r="0.82" fill="#9ea1a4"/>
<circle cx="109.17" cy="642.95" r="0.82" fill="#9ea1a4"/>
<circle cx="110.45" cy="642.95" r="0.82" fill="#9ea1a4"/>
<circle cx="111.22" cy="642.95" r="0.82" fill="#9ea1a4"/>
<circle cx="102.76" cy="644.00" r="0.82" fill="#9ea1a4"/>
<circle cx="103.64" cy="644.00" r="0.82" fill="#9ea1a4"/>
<circle cx="104.93" cy="644.00" r="0.82" fill="#9ea1a4"/>
<circle cx="105.81" cy="644.00" r="0.82" fill="#9ea1a4"/>
<circle cx="106.97" cy="644.00" r="0.82" fill="#9ea1a4"/>
<circle cx="107.97" cy="644.00" r="0.82" fill="#9ea1a4"/>
<circle cx="109.36" cy="644.00" r="0.82" fill="#9ea1a4"/>
<circle cx="110.22" cy="644.00" r="0.82" fill="#9ea1a4"/>
<circle cx="111.58" cy="644.00" r="0.82" fill="#9ea1a4"/>
<circle cx="103.89" cy="645.05" r="0.82" fill="#9ea1a4"/>
<circle cx="104.96" cy="645.05" r="0.82" fill="#9ea1a4"/>
<circle cx="105.76" cy="645.05" r="0.82" fill="#9ea1a4"/>
<circle cx="107.07" cy="645.05" r="0.82" fill="#9ea1a4"/>
<circle cx="108.28" cy="645.05" r="0.82" fill="#9ea1a4"/>
<circle cx="109.34" cy="645.05" r="0.82" fill="#9ea1a4"/>
<circle cx="110.34" cy="645.05" r="0.82" fill="#9ea1a4"/>
<circle cx="104.72" cy="646.10" r="0.82" fill="#9ea1a4"/>
<circle cx="105.92" cy="646.10" r="0.82" fill="#9ea1a4"/>
<circle cx="106.99" cy="646.10" r="0.82" fill="#9ea1a4"/>
<circle cx="108.22" cy="646.10" r="0.82" fill="#9ea1a4"/>
<circle cx="109.32" cy="646.10" r="0.82" fill="#9ea1a4"/>
<circle cx="104.66" cy="647.15" r="0.82" fill="#9ea1a4"/>
<circle cx="106.00" cy="647.15" r="0.82" fill="#9ea1a4"/>
<circle cx="107.09" cy="647.15" r="0.82" fill="#9ea1a4"/>
<circle cx="108.18" cy="647.15" r="0.82" fill="#9ea1a4"/>
<circle cx="109.27" cy="647.15" r="0.82" fill="#9ea1a4"/>
<circle cx="105.77" cy="648.20" r="0.82" fill="#9ea1a4"/>
<circle cx="106.99" cy="648.20" r="0.82" fill="#9ea1a4"/>
<circle cx="108.09" cy="648.20" r="0.82" fill="#9ea1a4"/>
<circle cx="106.95" cy="649.25" r="0.82" fill="#9ea1a4"/>
<circle cx="107.39" cy="651.35" r="0.7" fill="#b4b6b9"/>
<circle cx="107.37" cy="652.40" r="0.7" fill="#b4b6b9"/>
<circle cx="107.09" cy="653.45" r="0.7" fill="#b4b6b9"/>
<circle cx="106.87" cy="655.55" r="0.7" fill="#b4b6b9"/>
<line x1="99.40" y1="637.50" x2="114.80" y2="637.50" stroke="#111111" stroke-width="1.5"/>
<circle cx="130.89" cy="618.30" r="0.7" fill="#b4b6b9"/>
<circle cx="131.06" cy="622.50" r="0.82" fill="#9ea1a4"/>
<circle cx="129.91" cy="623.55" r="0.82" fill="#9ea1a4"/>
<circle cx="131.04" cy="623.55" r="0.82" fill="#9ea1a4"/>
<circle cx="132.01" cy="623.55" r="0.82" fill="#9ea1a4"/>
<circle cx="128.90" cy="624.60" r="0.82" fill="#9ea1a4"/>
<circle cx="129.90" cy="624.60" r="0.82" fill="#9ea1a4"/>
<circle cx="131.18" cy="624.60" r="0.82" fill="#9ea1a4"/>
<circle cx="132.02" cy="624.60" r="0.82" fill="#9ea1a4"/>
<circle cx="133.32" cy="624.60" r="0.82" fill="#9ea1a4"/>
<circle cx="127.89" cy="625.65" r="0.82" fill="#9ea1a4"/>
<circle cx="128.95" cy="625.65" r="0.82" fill="#9ea1a4"/>
<circle cx="129.81" cy="625.65" r="0.82" fill="#9ea1a4"/>
<circle cx="131.03" cy="625.65" r="0.82" fill="#9ea1a4"/>
<circle cx="132.13" cy="625.65" r="0.82" fill="#9ea1a4"/>
<circle cx="133.14" cy="625.65" r="0.82" fill="#9ea1a4"/>
<circle cx="134.59" cy="625.65" r="0.82" fill="#9ea1a4"/>
<circle cx="128.00" cy="626.70" r="0.82" fill="#9ea1a4"/>
<circle cx="128.95" cy="626.70" r="0.82" fill="#9ea1a4"/>
<circle cx="130.12" cy="626.70" r="0.82" fill="#9ea1a4"/>
<circle cx="131.13" cy="626.70" r="0.82" fill="#9ea1a4"/>
<circle cx="132.27" cy="626.70" r="0.82" fill="#9ea1a4"/>
<circle cx="133.30" cy="626.70" r="0.82" fill="#9ea1a4"/>
<circle cx="134.27" cy="626.70" r="0.82" fill="#9ea1a4"/>
<circle cx="126.88" cy="627.75" r="0.82" fill="#9ea1a4"/>
<circle cx="127.68" cy="627.75" r="0.82" fill="#9ea1a4"/>
<circle cx="128.94" cy="627.75" r="0.82" fill="#9ea1a4"/>
<circle cx="130.19" cy="627.75" r="0.82" fill="#9ea1a4"/>
<circle cx="131.30" cy="627.75" r="0.82" fill="#9ea1a4"/>
<circle cx="132.14" cy="627.75" r="0.82" fill="#9ea1a4"/>
<circle cx="133.35" cy="627.75" r="0.82" fill="#9ea1a4"/>
<circle cx="134.34" cy="627.75" r="0.82" fill="#9ea1a4"/>
<circle cx="135.38" cy="627.75" r="0.82" fill="#9ea1a4"/>
<circle cx="125.72" cy="628.80" r="0.82" fill="#9ea1a4"/>
<circle cx="126.79" cy="628.80" r="0.82" fill="#9ea1a4"/>
<circle cx="127.87" cy="628.80" r="0.82" fill="#9ea1a4"/>
<circle cx="129.05" cy="628.80" r="0.82" fill="#9ea1a4"/>
<circle cx="129.99" cy="628.80" r="0.82" fill="#9ea1a4"/>
<circle cx="131.01" cy="628.80" r="0.82" fill="#9ea1a4"/>
<circle cx="132.31" cy="628.80" r="0.82" fill="#9ea1a4"/>
<circle cx="133.18" cy="628.80" r="0.82" fill="#9ea1a4"/>
<circle cx="134.51" cy="628.80" r="0.82" fill="#9ea1a4"/>
<circle cx="135.64" cy="628.80" r="0.82" fill="#9ea1a4"/>
<circle cx="136.53" cy="628.80" r="0.82" fill="#9ea1a4"/>
<circle cx="125.49" cy="629.85" r="0.82" fill="#9ea1a4"/>
<circle cx="126.88" cy="629.85" r="0.82" fill="#9ea1a4"/>
<circle cx="127.79" cy="629.85" r="0.82" fill="#9ea1a4"/>
<circle cx="128.95" cy="629.85" r="0.82" fill="#9ea1a4"/>
<circle cx="130.08" cy="629.85" r="0.82" fill="#9ea1a4"/>
<circle cx="131.19" cy="629.85" r="0.82" fill="#9ea1a4"/>
<circle cx="132.15" cy="629.85" r="0.82" fill="#9ea1a4"/>
<circle cx="133.36" cy="629.85" r="0.82" fill="#9ea1a4"/>
<circle cx="134.26" cy="629.85" r="0.82" fill="#9ea1a4"/>
<circle cx="135.68" cy="629.85" r="0.82" fill="#9ea1a4"/>
<circle cx="136.74" cy="629.85" r="0.82" fill="#9ea1a4"/>
<circle cx="124.30" cy="630.90" r="0.82" fill="#9ea1a4"/>
<circle cx="125.53" cy="630.90" r="0.82" fill="#9ea1a4"/>
<circle cx="126.78" cy="630.90" r="0.82" fill="#9ea1a4"/>
<circle cx="127.80" cy="630.90" r="0.82" fill="#9ea1a4"/>
<circle cx="129.05" cy="630.90" r="0.82" fill="#9ea1a4"/>
<circle cx="129.94" cy="630.90" r="0.82" fill="#9ea1a4"/>
<circle cx="130.99" cy="630.90" r="0.82" fill="#9ea1a4"/>
<circle cx="132.10" cy="630.90" r="0.82" fill="#9ea1a4"/>
<circle cx="133.25" cy="630.90" r="0.82" fill="#9ea1a4"/>
<circle cx="134.26" cy="630.90" r="0.82" fill="#9ea1a4"/>
<circle cx="135.38" cy="630.90" r="0.82" fill="#9ea1a4"/>
<circle cx="136.59" cy="630.90" r="0.82" fill="#9ea1a4"/>
<circle cx="137.87" cy="630.90" r="0.82" fill="#9ea1a4"/>
<circle cx="124.51" cy="631.95" r="0.82" fill="#9ea1a4"/>
<circle cx="125.53" cy="631.95" r="0.82" fill="#9ea1a4"/>
<circle cx="126.72" cy="631.95" r="0.82" fill="#9ea1a4"/>
<circle cx="127.99" cy="631.95" r="0.82" fill="#9ea1a4"/>
<circle cx="128.94" cy="631.95" r="0.82" fill="#9ea1a4"/>
<circle cx="129.81" cy="631.95" r="0.82" fill="#9ea1a4"/>
<circle cx="131.08" cy="631.95" r="0.82" fill="#9ea1a4"/>
<circle cx="132.31" cy="631.95" r="0.82" fill="#9ea1a4"/>
<circle cx="133.15" cy="631.95" r="0.82" fill="#9ea1a4"/>
<circle cx="134.20" cy="631.95" r="0.82" fill="#9ea1a4"/>
<circle cx="135.63" cy="631.95" r="0.82" fill="#9ea1a4"/>
<circle cx="136.46" cy="631.95" r="0.82" fill="#9ea1a4"/>
<circle cx="137.73" cy="631.95" r="0.82" fill="#9ea1a4"/>
<circle cx="123.29" cy="633.00" r="0.82" fill="#9ea1a4"/>
<circle cx="124.39" cy="633.00" r="0.82" fill="#9ea1a4"/>
<circle cx="125.63" cy="633.00" r="0.82" fill="#9ea1a4"/>
<circle cx="126.64" cy="633.00" r="0.82" fill="#9ea1a4"/>
<circle cx="127.64" cy="633.00" r="0.82" fill="#9ea1a4"/>
<circle cx="128.88" cy="633.00" r="0.82" fill="#9ea1a4"/>
<circle cx="129.80" cy="633.00" r="0.82" fill="#9ea1a4"/>
<circle cx="131.14" cy="633.00" r="0.82" fill="#9ea1a4"/>
<circle cx="132.39" cy="633.00" r="0.82" fill="#9ea1a4"/>
<circle cx="133.15" cy="633.00" r="0.82" fill="#9ea1a4"/>
<circle cx="134.59" cy="633.00" r="0.82" fill="#9ea1a4"/>
<circle cx="135.45" cy="633.00" r="0.82" fill="#9ea1a4"/>
<circle cx="136.68" cy="633.00" r="0.82" fill="#9ea1a4"/>
<circle cx="137.58" cy="633.00" r="0.82" fill="#9ea1a4"/>
<circle cx="138.86" cy="633.00" r="0.82" fill="#9ea1a4"/>
<circle cx="123.43" cy="634.05" r="0.82" fill="#9ea1a4"/>
<circle cx="124.41" cy="634.05" r="0.82" fill="#9ea1a4"/>
<circle cx="125.77" cy="634.05" r="0.82" fill="#9ea1a4"/>
<circle cx="126.65" cy="634.05" r="0.82" fill="#9ea1a4"/>
<circle cx="127.96" cy="634.05" r="0.82" fill="#9ea1a4"/>
<circle cx="128.94" cy="634.05" r="0.82" fill="#9ea1a4"/>
<circle cx="130.19" cy="634.05" r="0.82" fill="#9ea1a4"/>
<circle cx="131.07" cy="634.05" r="0.82" fill="#9ea1a4"/>
<circle cx="132.39" cy="634.05" r="0.82" fill="#9ea1a4"/>
<circle cx="133.38" cy="634.05" r="0.82" fill="#9ea1a4"/>
<circle cx="134.56" cy="634.05" r="0.82" fill="#9ea1a4"/>
<circle cx="135.35" cy="634.05" r="0.82" fill="#9ea1a4"/>
<circle cx="136.76" cy="634.05" r="0.82" fill="#9ea1a4"/>
<circle cx="137.89" cy="634.05" r="0.82" fill="#9ea1a4"/>
<circle cx="138.88" cy="634.05" r="0.82" fill="#9ea1a4"/>
<circle cx="124.65" cy="635.10" r="0.82" fill="#9ea1a4"/>
<circle cx="125.58" cy="635.10" r="0.82" fill="#9ea1a4"/>
<circle cx="126.53" cy="635.10" r="0.82" fill="#9ea1a4"/>
<circle cx="127.91" cy="635.10" r="0.82" fill="#9ea1a4"/>
<circle cx="128.81" cy="635.10" r="0.82" fill="#9ea1a4"/>
<circle cx="129.98" cy="635.10" r="0.82" fill="#9ea1a4"/>
<circle cx="130.95" cy="635.10" r="0.82" fill="#9ea1a4"/>
<circle cx="132.15" cy="635.10" r="0.82" fill="#9ea1a4"/>
<circle cx="133.12" cy="635.10" r="0.82" fill="#9ea1a4"/>
<circle cx="134.21" cy="635.10" r="0.82" fill="#9ea1a4"/>
<circle cx="135.36" cy="635.10" r="0.82" fill="#9ea1a4"/>
<circle cx="136.77" cy="635.10" r="0.82" fill="#9ea1a4"/>
<circle cx="137.73" cy="635.10" r="0.82" fill="#9ea1a4"/>
<circle cx="124.67" cy="636.15" r="0.82" fill="#9ea1a4"/>
<circle cx="125.78" cy="636.15" r="0.82" fill="#9ea1a4"/>
<circle cx="126.89" cy="636.15" r="0.82" fill="#9ea1a4"/>
<circle cx="127.87" cy="636.15" r="0.82" fill="#9ea1a4"/>
<circle cx="129.07" cy="636.15" r="0.82" fill="#9ea1a4"/>
<circle cx="130.14" cy="636.15" r="0.82" fill="#9ea1a4"/>
<circle cx="130.93" cy="636.15" r="0.82" fill="#9ea1a4"/>
<circle cx="132.34" cy="636.15" r="0.82" fill="#9ea1a4"/>
<circle cx="133.41" cy="636.15" r="0.82" fill="#9ea1a4"/>
<circle cx="134.24" cy="636.15" r="0.82" fill="#9ea1a4"/>
<circle cx="135.58" cy="636.15" r="0.82" fill="#9ea1a4"/>
<circle cx="136.52" cy="636.15" r="0.82" fill="#9ea1a4"/>
<circle cx="137.62" cy="636.15" r="0.82" fill="#9ea1a4"/>
<circle cx="125.45" cy="637.20" r="0.82" fill="#9ea1a4"/>
<circle cx="126.55" cy="637.20" r="0.82" fill="#9ea1a4"/>
<circle cx="127.76" cy="637.20" r="0.82" fill="#9ea1a4"/>
<circle cx="129.10" cy="637.20" r="0.82" fill="#9ea1a4"/>
<circle cx="130.07" cy="637.20" r="0.82" fill="#9ea1a4"/>
<circle cx="131.06" cy="637.20" r="0.82" fill="#9ea1a4"/>
<circle cx="132.22" cy="637.20" r="0.82" fill="#9ea1a4"/>
<circle cx="133.20" cy="637.20" r="0.82" fill="#9ea1a4"/>
<circle cx="134.29" cy="637.20" r="0.82" fill="#9ea1a4"/>
<circle cx="135.70" cy="637.20" r="0.82" fill="#9ea1a4"/>
<circle cx="136.66" cy="637.20" r="0.82" fill="#9ea1a4"/>
<circle cx="125.47" cy="638.25" r="0.82" fill="#9ea1a4"/>
<circle cx="126.75" cy="638.25" r="0.82" fill="#9ea1a4"/>
<circle cx="127.81" cy="638.25" r="0.82" fill="#9ea1a4"/>
<circle cx="128.97" cy="638.25" r="0.82" fill="#9ea1a4"/>
<circle cx="129.83" cy="638.25" r="0.82" fill="#9ea1a4"/>
<circle cx="131.00" cy="638.25" r="0.82" fill="#9ea1a4"/>
<circle cx="132.13" cy="638.25" r="0.82" fill="#9ea1a4"/>
<circle cx="133.11" cy="638.25" r="0.82" fill="#9ea1a4"/>
<circle cx="134.42" cy="638.25" r="0.82" fill="#9ea1a4"/>
<circle cx="135.49" cy="638.25" r="0.82" fill="#9ea1a4"/>
<circle cx="136.65" cy="638.25" r="0.82" fill="#9ea1a4"/>
<circle cx="126.89" cy="639.30" r="0.82" fill="#9ea1a4"/>
<circle cx="127.77" cy="639.30" r="0.82" fill="#9ea1a4"/>
<circle cx="128.76" cy="639.30" r="0.82" fill="#9ea1a4"/>
<circle cx="130.11" cy="639.30" r="0.82" fill="#9ea1a4"/>
<circle cx="131.20" cy="639.30" r="0.82" fill="#9ea1a4"/>
<circle cx="132.21" cy="639.30" r="0.82" fill="#9ea1a4"/>
<circle cx="133.24" cy="639.30" r="0.82" fill="#9ea1a4"/>
<circle cx="134.52" cy="639.30" r="0.82" fill="#9ea1a4"/>
<circle cx="135.38" cy="639.30" r="0.82" fill="#9ea1a4"/>
<circle cx="126.64" cy="640.35" r="0.82" fill="#9ea1a4"/>
<circle cx="127.82" cy="640.35" r="0.82" fill="#9ea1a4"/>
<circle cx="128.87" cy="640.35" r="0.82" fill="#9ea1a4"/>
<circle cx="129.99" cy="640.35" r="0.82" fill="#9ea1a4"/>
<circle cx="130.94" cy="640.35" r="0.82" fill="#9ea1a4"/>
<circle cx="132.34" cy="640.35" r="0.82" fill="#9ea1a4"/>
<circle cx="133.34" cy="640.35" r="0.82" fill="#9ea1a4"/>
<circle cx="134.48" cy="640.35" r="0.82" fill="#9ea1a4"/>
<circle cx="135.70" cy="640.35" r="0.82" fill="#9ea1a4"/>
<circle cx="127.66" cy="641.40" r="0.82" fill="#9ea1a4"/>
<circle cx="128.89" cy="641.40" r="0.82" fill="#9ea1a4"/>
<circle cx="129.94" cy="641.40" r="0.82" fill="#9ea1a4"/>
<circle cx="130.96" cy="641.40" r="0.82" fill="#9ea1a4"/>
<circle cx="132.14" cy="641.40" r="0.82" fill="#9ea1a4"/>
<circle cx="133.23" cy="641.40" r="0.82" fill="#9ea1a4"/>
<circle cx="134.31" cy="641.40" r="0.82" fill="#9ea1a4"/>
<circle cx="127.64" cy="642.45" r="0.82" fill="#9ea1a4"/>
<circle cx="129.02" cy="642.45" r="0.82" fill="#9ea1a4"/>
<circle cx="130.17" cy="642.45" r="0.82" fill="#9ea1a4"/>
<circle cx="131.15" cy="642.45" r="0.82" fill="#9ea1a4"/>
<circle cx="132.23" cy="642.45" r="0.82" fill="#9ea1a4"/>
<circle cx="133.30" cy="642.45" r="0.82" fill="#9ea1a4"/>
<circle cx="134.33" cy="642.45" r="0.82" fill="#9ea1a4"/>
<circle cx="129.00" cy="643.50" r="0.82" fill="#9ea1a4"/>
<circle cx="130.19" cy="643.50" r="0.82" fill="#9ea1a4"/>
<circle cx="131.02" cy="643.50" r="0.82" fill="#9ea1a4"/>
<circle cx="132.15" cy="643.50" r="0.82" fill="#9ea1a4"/>
<circle cx="133.30" cy="643.50" r="0.82" fill="#9ea1a4"/>
<circle cx="129.07" cy="644.55" r="0.82" fill="#9ea1a4"/>
<circle cx="130.07" cy="644.55" r="0.82" fill="#9ea1a4"/>
<circle cx="131.30" cy="644.55" r="0.82" fill="#9ea1a4"/>
<circle cx="132.21" cy="644.55" r="0.82" fill="#9ea1a4"/>
<circle cx="133.28" cy="644.55" r="0.82" fill="#9ea1a4"/>
<circle cx="129.84" cy="645.60" r="0.82" fill="#9ea1a4"/>
<circle cx="130.97" cy="645.60" r="0.82" fill="#9ea1a4"/>
<circle cx="132.37" cy="645.60" r="0.82" fill="#9ea1a4"/>
<circle cx="131.12" cy="646.65" r="0.82" fill="#9ea1a4"/>
<circle cx="131.35" cy="647.70" r="0.7" fill="#b4b6b9"/>
<circle cx="131.48" cy="650.85" r="0.7" fill="#b4b6b9"/>
<circle cx="130.74" cy="651.90" r="0.7" fill="#b4b6b9"/>
<line x1="123.20" y1="633.30" x2="138.80" y2="633.30" stroke="#111111" stroke-width="1.5"/>
<text stroke="#1c1a1b" stroke-width="0.2" transform="translate(61.50,713.80) rotate(-90)" font-size="8.8" text-anchor="end" textLength="15.40" lengthAdjust="spacingAndGlyphs">MYC</text>
<text stroke="#1c1a1b" stroke-width="0.2" transform="translate(85.20,713.80) rotate(-90)" font-size="8.8" text-anchor="end" textLength="32.40" lengthAdjust="spacingAndGlyphs">TRMT112</text>
<text stroke="#1c1a1b" stroke-width="0.2" transform="translate(109.50,713.80) rotate(-90)" font-size="8.8" text-anchor="end" textLength="23.50" lengthAdjust="spacingAndGlyphs">TRMT5</text>
<text stroke="#1c1a1b" stroke-width="0.2" transform="translate(133.80,713.80) rotate(-90)" font-size="8.8" text-anchor="end" textLength="27.50" lengthAdjust="spacingAndGlyphs">METTL3</text>
<text x="176.30" y="563.60" font-size="14" font-weight="bold" stroke="#111" stroke-width="0.35">J</text>
<circle cx="194.50" cy="573.30" r="2.1" fill="#9b2141" stroke="#6b2a3a" stroke-width="0.5"/>
<text stroke="#1c1a1b" stroke-width="0.2" x="200.90" y="576.30" font-size="8.4" textLength="21.10" lengthAdjust="spacingAndGlyphs">Breast</text>
<circle cx="240.50" cy="573.30" r="2.1" fill="#fbeef0" stroke="#6b2a3a" stroke-width="0.5"/>
<text stroke="#1c1a1b" stroke-width="0.2" x="246.90" y="576.30" font-size="8.4" textLength="33.10" lengthAdjust="spacingAndGlyphs">Lymphoid</text>
<circle cx="289.20" cy="573.30" r="2.1" fill="#b5445e" stroke="#6b2a3a" stroke-width="0.5"/>
<text stroke="#1c1a1b" stroke-width="0.2" x="295.60" y="576.30" font-size="8.4" textLength="41.10" lengthAdjust="spacingAndGlyphs">Head&amp;Neck</text>
<circle cx="194.50" cy="585.00" r="2.1" fill="#c46a7c" stroke="#6b2a3a" stroke-width="0.5"/>
<text stroke="#1c1a1b" stroke-width="0.2" x="200.90" y="588.00" font-size="8.4" textLength="30.40" lengthAdjust="spacingAndGlyphs">Skin mel.</text>
<circle cx="240.50" cy="585.00" r="2.1" fill="#dca6b0" stroke="#6b2a3a" stroke-width="0.5"/>
<text stroke="#1c1a1b" stroke-width="0.2" x="246.90" y="588.00" font-size="8.4" textLength="30.10" lengthAdjust="spacingAndGlyphs">Pancreas</text>
<circle cx="289.20" cy="585.00" r="2.1" fill="#c2526c" stroke="#6b2a3a" stroke-width="0.5"/>
<text stroke="#1c1a1b" stroke-width="0.2" x="295.60" y="588.00" font-size="8.4" textLength="14.20" lengthAdjust="spacingAndGlyphs">PNS</text>
<circle cx="319.40" cy="585.00" r="2.1" fill="#d38a98" stroke="#6b2a3a" stroke-width="0.5"/>
<text stroke="#1c1a1b" stroke-width="0.2" x="325.80" y="588.00" font-size="8.4" textLength="26.90" lengthAdjust="spacingAndGlyphs">Myeloid</text>
<circle cx="364.80" cy="561.40" r="2.1" fill="#2e3a85" stroke="#3a3f6a" stroke-width="0.5"/>
<text stroke="#1c1a1b" stroke-width="0.2" x="370.70" y="564.40" font-size="8.4" textLength="16.60" lengthAdjust="spacingAndGlyphs">Bone</text>
<circle cx="401.80" cy="561.40" r="2.1" fill="#a4abd3" stroke="#3a3f6a" stroke-width="0.5"/>
<text stroke="#1c1a1b" stroke-width="0.2" x="407.70" y="564.40" font-size="8.4" textLength="22.70" lengthAdjust="spacingAndGlyphs">Kidney</text>
<circle cx="439.00" cy="561.40" r="2.1" fill="#8d97c5" stroke="#3a3f6a" stroke-width="0.5"/>
<text stroke="#1c1a1b" stroke-width="0.2" x="444.90" y="564.40" font-size="8.4" textLength="16.30" lengthAdjust="spacingAndGlyphs">Lung</text>
<circle cx="480.50" cy="561.40" r="2.1" fill="#333d86" stroke="#3a3f6a" stroke-width="0.5"/>
<text stroke="#1c1a1b" stroke-width="0.2" x="486.40" y="564.40" font-size="8.4" textLength="20.90" lengthAdjust="spacingAndGlyphs">Cervix</text>
<circle cx="364.80" cy="573.10" r="2.1" fill="#6773b0" stroke="#3a3f6a" stroke-width="0.5"/>
<text stroke="#1c1a1b" stroke-width="0.2" x="370.70" y="576.10" font-size="8.4" textLength="22.80" lengthAdjust="spacingAndGlyphs">Uterus</text>
<circle cx="401.80" cy="573.10" r="2.1" fill="#4e5ba2" stroke="#3a3f6a" stroke-width="0.5"/>
<text stroke="#1c1a1b" stroke-width="0.2" x="407.70" y="576.10" font-size="8.4" textLength="15.60" lengthAdjust="spacingAndGlyphs">CNS</text>
<circle cx="439.00" cy="573.10" r="2.1" fill="#3c478f" stroke="#3a3f6a" stroke-width="0.5"/>
<text stroke="#1c1a1b" stroke-width="0.2" x="444.90" y="576.10" font-size="8.4" textLength="21.40" lengthAdjust="spacingAndGlyphs">Bowel</text>
<circle cx="480.50" cy="573.10" r="2.1" fill="#6b76af" stroke="#3a3f6a" stroke-width="0.5"/>
<text stroke="#1c1a1b" stroke-width="0.2" x="486.40" y="576.10" font-size="8.4" textLength="25.60" lengthAdjust="spacingAndGlyphs">Thyroid</text>
<circle cx="364.80" cy="584.80" r="2.1" fill="#f4f4fa" stroke="#3a3f6a" stroke-width="0.5"/>
<text stroke="#1c1a1b" stroke-width="0.2" x="370.70" y="587.80" font-size="8.4" textLength="20.60" lengthAdjust="spacingAndGlyphs">Ovary</text>
<circle cx="401.80" cy="584.80" r="2.1" fill="#7c86bb" stroke="#3a3f6a" stroke-width="0.5"/>
<text stroke="#1c1a1b" stroke-width="0.2" x="407.70" y="587.80" font-size="8.4" textLength="22.10" lengthAdjust="spacingAndGlyphs">Esoph.</text>
<circle cx="439.00" cy="584.80" r="2.1" fill="#283274" stroke="#3a3f6a" stroke-width="0.5"/>
<text stroke="#1c1a1b" stroke-width="0.2" x="444.90" y="587.80" font-size="8.4" textLength="26.40" lengthAdjust="spacingAndGlyphs">Bladder</text>
<line x1="219.30" y1="596.60" x2="219.30" y2="705.40" stroke="#1c1a1b" stroke-width="1.65"/>
<line x1="218.60" y1="704.40" x2="325.10" y2="704.40" stroke="#1c1a1b" stroke-width="1.65"/>
<line x1="215.50" y1="620.70" x2="219.30" y2="620.70" stroke="#1c1a1b" stroke-width="1.1"/>
<text stroke="#1c1a1b" stroke-width="0.2" x="213.30" y="623.50" font-size="8.3" text-anchor="end" textLength="4.06" lengthAdjust="spacingAndGlyphs">0</text>
<line x1="215.50" y1="662.30" x2="219.30" y2="662.30" stroke="#1c1a1b" stroke-width="1.1"/>
<text stroke="#1c1a1b" stroke-width="0.2" x="213.30" y="665.10" font-size="8.3" text-anchor="end" textLength="8.33" lengthAdjust="spacingAndGlyphs">−4</text>
<line x1="215.50" y1="703.90" x2="219.30" y2="703.90" stroke="#1c1a1b" stroke-width="1.1"/>
<text stroke="#1c1a1b" stroke-width="0.2" x="213.30" y="706.70" font-size="8.3" text-anchor="end" textLength="8.33" lengthAdjust="spacingAndGlyphs">−8</text>
<line x1="219.30" y1="704.40" x2="219.30" y2="708.00" stroke="#1c1a1b" stroke-width="1.1"/>
<text stroke="#1c1a1b" stroke-width="0.2" x="219.30" y="718.60" font-size="8.3" text-anchor="middle" textLength="14.42" lengthAdjust="spacingAndGlyphs">−1.5</text>
<line x1="258.90" y1="704.40" x2="258.90" y2="708.00" stroke="#1c1a1b" stroke-width="1.1"/>
<text stroke="#1c1a1b" stroke-width="0.2" x="258.90" y="718.60" font-size="8.3" text-anchor="middle" textLength="14.42" lengthAdjust="spacingAndGlyphs">−1.0</text>
<line x1="298.00" y1="704.40" x2="298.00" y2="708.00" stroke="#1c1a1b" stroke-width="1.1"/>
<text stroke="#1c1a1b" stroke-width="0.2" x="298.00" y="718.60" font-size="8.3" text-anchor="middle" textLength="14.42" lengthAdjust="spacingAndGlyphs">−0.5</text>
<line x1="220.30" y1="620.50" x2="329.10" y2="620.50" stroke="#2a2a2a" stroke-width="1.0" stroke-dasharray="1.1 1.35"/>
<text stroke="#1c1a1b" stroke-width="0.2" transform="translate(198.0,659.8) rotate(-90)" font-size="10.3" text-anchor="middle" textLength="69" lengthAdjust="spacingAndGlyphs">AraC (IC50) sanger</text>
<text stroke="#1c1a1b" stroke-width="0.2" x="233.30" y="733.60" font-size="10.3" textLength="57.50" lengthAdjust="spacingAndGlyphs">TRMT5 CRISPR</text>
<line x1="384.30" y1="596.60" x2="384.30" y2="705.40" stroke="#1c1a1b" stroke-width="1.65"/>
<line x1="383.60" y1="704.40" x2="490.10" y2="704.40" stroke="#1c1a1b" stroke-width="1.65"/>
<line x1="380.50" y1="620.70" x2="384.30" y2="620.70" stroke="#1c1a1b" stroke-width="1.1"/>
<text stroke="#1c1a1b" stroke-width="0.2" x="381.50" y="623.50" font-size="8.3" text-anchor="end" textLength="4.06" lengthAdjust="spacingAndGlyphs">0</text>
<line x1="380.50" y1="662.30" x2="384.30" y2="662.30" stroke="#1c1a1b" stroke-width="1.1"/>
<text stroke="#1c1a1b" stroke-width="0.2" x="381.50" y="665.10" font-size="8.3" text-anchor="end" textLength="8.33" lengthAdjust="spacingAndGlyphs">−4</text>
<line x1="380.50" y1="703.90" x2="384.30" y2="703.90" stroke="#1c1a1b" stroke-width="1.1"/>
<text stroke="#1c1a1b" stroke-width="0.2" x="381.50" y="706.70" font-size="8.3" text-anchor="end" textLength="8.33" lengthAdjust="spacingAndGlyphs">−8</text>
<line x1="384.30" y1="704.40" x2="384.30" y2="708.00" stroke="#1c1a1b" stroke-width="1.1"/>
<text stroke="#1c1a1b" stroke-width="0.2" x="384.30" y="718.60" font-size="8.3" text-anchor="middle" textLength="14.42" lengthAdjust="spacingAndGlyphs">−2.0</text>
<line x1="409.60" y1="704.40" x2="409.60" y2="708.00" stroke="#1c1a1b" stroke-width="1.1"/>
<text stroke="#1c1a1b" stroke-width="0.2" x="409.60" y="718.60" font-size="8.3" text-anchor="middle" textLength="14.42" lengthAdjust="spacingAndGlyphs">−1.5</text>
<line x1="435.50" y1="704.40" x2="435.50" y2="708.00" stroke="#1c1a1b" stroke-width="1.1"/>
<text stroke="#1c1a1b" stroke-width="0.2" x="435.50" y="718.60" font-size="8.3" text-anchor="middle" textLength="14.42" lengthAdjust="spacingAndGlyphs">−1.0</text>
<line x1="460.90" y1="704.40" x2="460.90" y2="708.00" stroke="#1c1a1b" stroke-width="1.1"/>
<text stroke="#1c1a1b" stroke-width="0.2" x="460.90" y="718.60" font-size="8.3" text-anchor="middle" textLength="14.42" lengthAdjust="spacingAndGlyphs">−0.5</text>
<line x1="486.50" y1="704.40" x2="486.50" y2="708.00" stroke="#1c1a1b" stroke-width="1.1"/>
<text stroke="#1c1a1b" stroke-width="0.2" x="486.50" y="718.60" font-size="8.3" text-anchor="middle" textLength="4.06" lengthAdjust="spacingAndGlyphs">0</text>
<line x1="385.30" y1="620.50" x2="494.10" y2="620.50" stroke="#2a2a2a" stroke-width="1.0" stroke-dasharray="1.1 1.35"/>
<text stroke="#1c1a1b" stroke-width="0.2" x="412.60" y="733.60" font-size="10.3" textLength="50.70" lengthAdjust="spacingAndGlyphs">TRMT5 CRISPR</text>
<circle cx="232.69" cy="620.70" r="2.25" fill="#b8405a" stroke="#8a3a4e" stroke-width="0.6"/>
<circle cx="241.04" cy="628.75" r="2.25" fill="#f7e6ea" stroke="#8a3a4e" stroke-width="0.6"/>
<circle cx="249.08" cy="630.83" r="2.25" fill="#b8405a" stroke="#8a3a4e" stroke-width="0.6"/>
<circle cx="252.36" cy="613.85" r="2.25" fill="#f7e6ea" stroke="#8a3a4e" stroke-width="0.6"/>
<circle cx="246.10" cy="645.14" r="2.25" fill="#e0a0ad" stroke="#8a3a4e" stroke-width="0.6"/>
<circle cx="246.70" cy="648.72" r="2.25" fill="#b8405a" stroke="#8a3a4e" stroke-width="0.6"/>
<circle cx="257.13" cy="646.63" r="2.25" fill="#d98a99" stroke="#8a3a4e" stroke-width="0.6"/>
<circle cx="252.36" cy="620.70" r="2.25" fill="#c45a70" stroke="#8a3a4e" stroke-width="0.6"/>
<circle cx="259.52" cy="618.32" r="2.25" fill="#cf7284" stroke="#8a3a4e" stroke-width="0.6"/>
<circle cx="263.99" cy="614.44" r="2.25" fill="#d27a8c" stroke="#8a3a4e" stroke-width="0.6"/>
<circle cx="269.05" cy="611.46" r="2.25" fill="#f7e6ea" stroke="#8a3a4e" stroke-width="0.6"/>
<circle cx="275.01" cy="611.46" r="2.25" fill="#f7e6ea" stroke="#8a3a4e" stroke-width="0.6"/>
<circle cx="279.78" cy="611.46" r="2.25" fill="#c45a70" stroke="#8a3a4e" stroke-width="0.6"/>
<circle cx="284.85" cy="612.35" r="2.25" fill="#e6b3bd" stroke="#8a3a4e" stroke-width="0.6"/>
<circle cx="289.32" cy="610.86" r="2.25" fill="#cf7284" stroke="#8a3a4e" stroke-width="0.6"/>
<circle cx="296.77" cy="612.35" r="2.25" fill="#d98a99" stroke="#8a3a4e" stroke-width="0.6"/>
<circle cx="303.63" cy="610.86" r="2.25" fill="#e6b3bd" stroke="#8a3a4e" stroke-width="0.6"/>
<circle cx="304.82" cy="613.25" r="2.25" fill="#e6b3bd" stroke="#8a3a4e" stroke-width="0.6"/>
<circle cx="311.68" cy="617.72" r="2.25" fill="#d98a99" stroke="#8a3a4e" stroke-width="0.6"/>
<circle cx="264.88" cy="620.40" r="2.25" fill="#c45a70" stroke="#8a3a4e" stroke-width="0.6"/>
<circle cx="271.44" cy="619.81" r="2.25" fill="#e0a0ad" stroke="#8a3a4e" stroke-width="0.6"/>
<circle cx="275.91" cy="622.19" r="2.25" fill="#f7e6ea" stroke="#8a3a4e" stroke-width="0.6"/>
<circle cx="279.78" cy="624.28" r="2.25" fill="#d27a8c" stroke="#8a3a4e" stroke-width="0.6"/>
<circle cx="283.36" cy="620.70" r="2.25" fill="#cf7284" stroke="#8a3a4e" stroke-width="0.6"/>
<circle cx="287.83" cy="619.81" r="2.25" fill="#cf7284" stroke="#8a3a4e" stroke-width="0.6"/>
<circle cx="292.30" cy="620.70" r="2.25" fill="#d27a8c" stroke="#8a3a4e" stroke-width="0.6"/>
<circle cx="273.52" cy="628.75" r="2.25" fill="#a8324e" stroke="#8a3a4e" stroke-width="0.6"/>
<circle cx="269.05" cy="630.24" r="2.25" fill="#c45a70" stroke="#8a3a4e" stroke-width="0.6"/>
<circle cx="263.99" cy="628.75" r="2.25" fill="#c45a70" stroke="#8a3a4e" stroke-width="0.6"/>
<circle cx="277.40" cy="631.13" r="2.25" fill="#d98a99" stroke="#8a3a4e" stroke-width="0.6"/>
<circle cx="280.98" cy="629.34" r="2.25" fill="#d27a8c" stroke="#8a3a4e" stroke-width="0.6"/>
<circle cx="285.45" cy="628.75" r="2.25" fill="#d27a8c" stroke="#8a3a4e" stroke-width="0.6"/>
<circle cx="271.44" cy="639.18" r="2.25" fill="#e6b3bd" stroke="#8a3a4e" stroke-width="0.6"/>
<circle cx="275.91" cy="637.69" r="2.25" fill="#cf7284" stroke="#8a3a4e" stroke-width="0.6"/>
<circle cx="280.38" cy="640.67" r="2.25" fill="#e0a0ad" stroke="#8a3a4e" stroke-width="0.6"/>
<circle cx="289.92" cy="637.69" r="2.25" fill="#b8405a" stroke="#8a3a4e" stroke-width="0.6"/>
<circle cx="291.71" cy="638.29" r="2.25" fill="#cf7284" stroke="#8a3a4e" stroke-width="0.6"/>
<circle cx="301.24" cy="641.27" r="2.25" fill="#e6b3bd" stroke="#8a3a4e" stroke-width="0.6"/>
<circle cx="305.72" cy="625.77" r="2.25" fill="#b8405a" stroke="#8a3a4e" stroke-width="0.6"/>
<circle cx="295.28" cy="628.75" r="2.25" fill="#cf7284" stroke="#8a3a4e" stroke-width="0.6"/>
<circle cx="268.46" cy="651.10" r="2.25" fill="#d27a8c" stroke="#8a3a4e" stroke-width="0.6"/>
<circle cx="271.44" cy="652.00" r="2.25" fill="#f7e6ea" stroke="#8a3a4e" stroke-width="0.6"/>
<circle cx="275.01" cy="652.00" r="2.25" fill="#d98a99" stroke="#8a3a4e" stroke-width="0.6"/>
<circle cx="266.97" cy="654.08" r="2.25" fill="#d27a8c" stroke="#8a3a4e" stroke-width="0.6"/>
<circle cx="265.48" cy="658.55" r="2.25" fill="#cf7284" stroke="#8a3a4e" stroke-width="0.6"/>
<circle cx="266.97" cy="663.03" r="2.25" fill="#d27a8c" stroke="#8a3a4e" stroke-width="0.6"/>
<circle cx="269.95" cy="668.09" r="2.25" fill="#e6b3bd" stroke="#8a3a4e" stroke-width="0.6"/>
<circle cx="274.42" cy="666.90" r="2.25" fill="#d98a99" stroke="#8a3a4e" stroke-width="0.6"/>
<circle cx="277.40" cy="667.50" r="2.25" fill="#cf7284" stroke="#8a3a4e" stroke-width="0.6"/>
<circle cx="252.06" cy="659.45" r="2.25" fill="#a8324e" stroke="#8a3a4e" stroke-width="0.6"/>
<circle cx="255.04" cy="661.54" r="2.25" fill="#cf7284" stroke="#8a3a4e" stroke-width="0.6"/>
<circle cx="258.03" cy="686.87" r="2.25" fill="#e6b3bd" stroke="#8a3a4e" stroke-width="0.6"/>
<circle cx="274.42" cy="624.28" r="2.25" fill="#b8405a" stroke="#8a3a4e" stroke-width="0.6"/>
<circle cx="278.00" cy="615.34" r="2.25" fill="#f7e6ea" stroke="#8a3a4e" stroke-width="0.6"/>
<circle cx="282.76" cy="616.83" r="2.25" fill="#e0a0ad" stroke="#8a3a4e" stroke-width="0.6"/>
<circle cx="287.83" cy="616.23" r="2.25" fill="#e0a0ad" stroke="#8a3a4e" stroke-width="0.6"/>
<circle cx="291.71" cy="617.42" r="2.25" fill="#cf7284" stroke="#8a3a4e" stroke-width="0.6"/>
<circle cx="269.05" cy="634.71" r="2.25" fill="#cf7284" stroke="#8a3a4e" stroke-width="0.6"/>
<circle cx="263.99" cy="634.11" r="2.25" fill="#a8324e" stroke="#8a3a4e" stroke-width="0.6"/>
<circle cx="261.01" cy="633.22" r="2.25" fill="#d27a8c" stroke="#8a3a4e" stroke-width="0.6"/>
<circle cx="255.04" cy="626.66" r="2.25" fill="#a8324e" stroke="#8a3a4e" stroke-width="0.6"/>
<circle cx="272.33" cy="626.36" r="2.25" fill="#b8405a" stroke="#8a3a4e" stroke-width="0.6"/>
<circle cx="283.36" cy="634.71" r="2.25" fill="#e6b3bd" stroke="#8a3a4e" stroke-width="0.6"/>
<circle cx="278.89" cy="643.65" r="2.25" fill="#f7e6ea" stroke="#8a3a4e" stroke-width="0.6"/>
<circle cx="271.44" cy="643.65" r="2.25" fill="#d27a8c" stroke="#8a3a4e" stroke-width="0.6"/>
<circle cx="265.48" cy="622.79" r="2.25" fill="#f7e6ea" stroke="#8a3a4e" stroke-width="0.6"/>
<circle cx="290.81" cy="625.77" r="2.25" fill="#d27a8c" stroke="#8a3a4e" stroke-width="0.6"/>
<circle cx="298.26" cy="618.32" r="2.25" fill="#a8324e" stroke="#8a3a4e" stroke-width="0.6"/>
<circle cx="293.79" cy="615.34" r="2.25" fill="#e0a0ad" stroke="#8a3a4e" stroke-width="0.6"/>
<circle cx="265.31" cy="625.75" r="2.25" fill="#c45a70" stroke="#8a3a4e" stroke-width="0.6"/>
<circle cx="266.56" cy="623.90" r="2.25" fill="#e0a0ad" stroke="#8a3a4e" stroke-width="0.6"/>
<circle cx="275.09" cy="622.95" r="2.25" fill="#cf7284" stroke="#8a3a4e" stroke-width="0.6"/>
<circle cx="261.70" cy="629.13" r="2.25" fill="#a8324e" stroke="#8a3a4e" stroke-width="0.6"/>
<circle cx="261.04" cy="617.93" r="2.25" fill="#cf7284" stroke="#8a3a4e" stroke-width="0.6"/>
<circle cx="271.41" cy="631.48" r="2.25" fill="#c45a70" stroke="#8a3a4e" stroke-width="0.6"/>
<circle cx="271.74" cy="629.01" r="2.25" fill="#d98a99" stroke="#8a3a4e" stroke-width="0.6"/>
<circle cx="280.48" cy="629.29" r="2.25" fill="#e6b3bd" stroke="#8a3a4e" stroke-width="0.6"/>
<circle cx="270.27" cy="633.55" r="2.25" fill="#f7e6ea" stroke="#8a3a4e" stroke-width="0.6"/>
<circle cx="294.99" cy="621.29" r="2.25" fill="#cf7284" stroke="#8a3a4e" stroke-width="0.6"/>
<circle cx="274.12" cy="620.71" r="2.25" fill="#f7e6ea" stroke="#8a3a4e" stroke-width="0.6"/>
<circle cx="261.83" cy="634.56" r="2.25" fill="#a8324e" stroke="#8a3a4e" stroke-width="0.6"/>
<circle cx="274.32" cy="637.13" r="2.25" fill="#e6b3bd" stroke="#8a3a4e" stroke-width="0.6"/>
<circle cx="273.22" cy="632.54" r="2.25" fill="#c45a70" stroke="#8a3a4e" stroke-width="0.6"/>
<circle cx="256.41" cy="620.63" r="2.25" fill="#cf7284" stroke="#8a3a4e" stroke-width="0.6"/>
<circle cx="271.45" cy="614.60" r="2.25" fill="#c45a70" stroke="#8a3a4e" stroke-width="0.6"/>
<line x1="232.70" y1="645.70" x2="309.60" y2="618.90" stroke="#1c1a1b" stroke-width="1.65"/>
<text stroke="#1c1a1b" stroke-width="0.2" x="278.9" y="689.7" font-size="7.8" textLength="32.8" lengthAdjust="spacingAndGlyphs"><tspan font-style="italic">P</tspan> = .0068</text>
<text stroke="#1c1a1b" stroke-width="0.2" x="278.90" y="697.70" font-size="7.8" textLength="43.80" lengthAdjust="spacingAndGlyphs">r2 = 0.09749</text>
<circle cx="408.12" cy="628.75" r="2.25" fill="#8d97c5" stroke="#3a4280" stroke-width="0.6"/>
<circle cx="416.17" cy="627.26" r="2.25" fill="#a4abd3" stroke="#3a4280" stroke-width="0.6"/>
<circle cx="421.54" cy="614.44" r="2.25" fill="#6773b0" stroke="#3a4280" stroke-width="0.6"/>
<circle cx="428.09" cy="612.35" r="2.25" fill="#4a56a0" stroke="#3a4280" stroke-width="0.6"/>
<circle cx="423.03" cy="619.81" r="2.25" fill="#a4abd3" stroke="#3a4280" stroke-width="0.6"/>
<circle cx="426.90" cy="625.17" r="2.25" fill="#a4abd3" stroke="#3a4280" stroke-width="0.6"/>
<circle cx="430.48" cy="628.75" r="2.25" fill="#c5c9e3" stroke="#3a4280" stroke-width="0.6"/>
<circle cx="419.15" cy="638.29" r="2.25" fill="#8d97c5" stroke="#3a4280" stroke-width="0.6"/>
<circle cx="413.19" cy="645.14" r="2.25" fill="#4a56a0" stroke="#3a4280" stroke-width="0.6"/>
<circle cx="424.52" cy="646.63" r="2.25" fill="#3c478f" stroke="#3a4280" stroke-width="0.6"/>
<circle cx="431.07" cy="634.71" r="2.25" fill="#8d97c5" stroke="#3a4280" stroke-width="0.6"/>
<circle cx="434.05" cy="631.73" r="2.25" fill="#a4abd3" stroke="#3a4280" stroke-width="0.6"/>
<circle cx="436.44" cy="625.17" r="2.25" fill="#8d97c5" stroke="#3a4280" stroke-width="0.6"/>
<circle cx="437.93" cy="618.32" r="2.25" fill="#f4f4fa" stroke="#3a4280" stroke-width="0.6"/>
<circle cx="440.91" cy="611.46" r="2.25" fill="#6773b0" stroke="#3a4280" stroke-width="0.6"/>
<circle cx="443.89" cy="610.86" r="2.25" fill="#c5c9e3" stroke="#3a4280" stroke-width="0.6"/>
<circle cx="446.87" cy="613.85" r="2.25" fill="#4a56a0" stroke="#3a4280" stroke-width="0.6"/>
<circle cx="449.85" cy="617.42" r="2.25" fill="#5a66aa" stroke="#3a4280" stroke-width="0.6"/>
<circle cx="452.83" cy="615.34" r="2.25" fill="#f4f4fa" stroke="#3a4280" stroke-width="0.6"/>
<circle cx="456.71" cy="616.83" r="2.25" fill="#a4abd3" stroke="#3a4280" stroke-width="0.6"/>
<circle cx="460.88" cy="616.83" r="2.25" fill="#8d97c5" stroke="#3a4280" stroke-width="0.6"/>
<circle cx="481.15" cy="613.85" r="2.25" fill="#5a66aa" stroke="#3a4280" stroke-width="0.6"/>
<circle cx="439.42" cy="627.26" r="2.25" fill="#5a66aa" stroke="#3a4280" stroke-width="0.6"/>
<circle cx="442.40" cy="628.75" r="2.25" fill="#3c478f" stroke="#3a4280" stroke-width="0.6"/>
<circle cx="445.38" cy="625.77" r="2.25" fill="#5a66aa" stroke="#3a4280" stroke-width="0.6"/>
<circle cx="448.36" cy="630.24" r="2.25" fill="#a4abd3" stroke="#3a4280" stroke-width="0.6"/>
<circle cx="451.34" cy="631.73" r="2.25" fill="#5a66aa" stroke="#3a4280" stroke-width="0.6"/>
<circle cx="454.32" cy="628.75" r="2.25" fill="#5a66aa" stroke="#3a4280" stroke-width="0.6"/>
<circle cx="457.30" cy="633.22" r="2.25" fill="#6773b0" stroke="#3a4280" stroke-width="0.6"/>
<circle cx="461.77" cy="634.71" r="2.25" fill="#a4abd3" stroke="#3a4280" stroke-width="0.6"/>
<circle cx="466.24" cy="634.11" r="2.25" fill="#3c478f" stroke="#3a4280" stroke-width="0.6"/>
<circle cx="471.61" cy="630.24" r="2.25" fill="#6773b0" stroke="#3a4280" stroke-width="0.6"/>
<circle cx="436.44" cy="637.69" r="2.25" fill="#8d97c5" stroke="#3a4280" stroke-width="0.6"/>
<circle cx="439.42" cy="640.67" r="2.25" fill="#8d97c5" stroke="#3a4280" stroke-width="0.6"/>
<circle cx="442.40" cy="642.16" r="2.25" fill="#3c478f" stroke="#3a4280" stroke-width="0.6"/>
<circle cx="445.38" cy="637.69" r="2.25" fill="#7d87bb" stroke="#3a4280" stroke-width="0.6"/>
<circle cx="449.85" cy="639.18" r="2.25" fill="#c5c9e3" stroke="#3a4280" stroke-width="0.6"/>
<circle cx="452.83" cy="642.16" r="2.25" fill="#4a56a0" stroke="#3a4280" stroke-width="0.6"/>
<circle cx="455.81" cy="640.67" r="2.25" fill="#a4abd3" stroke="#3a4280" stroke-width="0.6"/>
<circle cx="461.77" cy="644.25" r="2.25" fill="#c5c9e3" stroke="#3a4280" stroke-width="0.6"/>
<circle cx="436.44" cy="645.14" r="2.25" fill="#4a56a0" stroke="#3a4280" stroke-width="0.6"/>
<circle cx="440.01" cy="651.10" r="2.25" fill="#4a56a0" stroke="#3a4280" stroke-width="0.6"/>
<circle cx="445.38" cy="649.61" r="2.25" fill="#4a56a0" stroke="#3a4280" stroke-width="0.6"/>
<circle cx="448.36" cy="651.10" r="2.25" fill="#6773b0" stroke="#3a4280" stroke-width="0.6"/>
<circle cx="440.91" cy="660.94" r="2.25" fill="#4a56a0" stroke="#3a4280" stroke-width="0.6"/>
<circle cx="444.78" cy="662.13" r="2.25" fill="#3c478f" stroke="#3a4280" stroke-width="0.6"/>
<circle cx="448.36" cy="660.94" r="2.25" fill="#3c478f" stroke="#3a4280" stroke-width="0.6"/>
<circle cx="451.34" cy="659.15" r="2.25" fill="#a4abd3" stroke="#3a4280" stroke-width="0.6"/>
<circle cx="455.81" cy="657.96" r="2.25" fill="#f4f4fa" stroke="#3a4280" stroke-width="0.6"/>
<circle cx="445.38" cy="664.52" r="2.25" fill="#6773b0" stroke="#3a4280" stroke-width="0.6"/>
<circle cx="426.01" cy="661.54" r="2.25" fill="#f4f4fa" stroke="#3a4280" stroke-width="0.6"/>
<circle cx="433.46" cy="642.16" r="2.25" fill="#4a56a0" stroke="#3a4280" stroke-width="0.6"/>
<circle cx="435.84" cy="621.30" r="2.25" fill="#8d97c5" stroke="#3a4280" stroke-width="0.6"/>
<circle cx="438.82" cy="622.79" r="2.25" fill="#6773b0" stroke="#3a4280" stroke-width="0.6"/>
<circle cx="443.89" cy="619.81" r="2.25" fill="#6773b0" stroke="#3a4280" stroke-width="0.6"/>
<circle cx="446.87" cy="621.30" r="2.25" fill="#c5c9e3" stroke="#3a4280" stroke-width="0.6"/>
<circle cx="451.94" cy="622.79" r="2.25" fill="#c5c9e3" stroke="#3a4280" stroke-width="0.6"/>
<circle cx="454.92" cy="621.30" r="2.25" fill="#a4abd3" stroke="#3a4280" stroke-width="0.6"/>
<circle cx="458.79" cy="624.28" r="2.25" fill="#6773b0" stroke="#3a4280" stroke-width="0.6"/>
<circle cx="445.38" cy="633.22" r="2.25" fill="#c5c9e3" stroke="#3a4280" stroke-width="0.6"/>
<circle cx="448.36" cy="634.71" r="2.25" fill="#c5c9e3" stroke="#3a4280" stroke-width="0.6"/>
<circle cx="439.42" cy="634.71" r="2.25" fill="#f4f4fa" stroke="#3a4280" stroke-width="0.6"/>
<circle cx="452.83" cy="636.20" r="2.25" fill="#6773b0" stroke="#3a4280" stroke-width="0.6"/>
<circle cx="457.90" cy="637.69" r="2.25" fill="#8d97c5" stroke="#3a4280" stroke-width="0.6"/>
<circle cx="434.95" cy="630.24" r="2.25" fill="#5a66aa" stroke="#3a4280" stroke-width="0.6"/>
<circle cx="430.48" cy="622.19" r="2.25" fill="#a4abd3" stroke="#3a4280" stroke-width="0.6"/>
<circle cx="442.40" cy="616.83" r="2.25" fill="#5a66aa" stroke="#3a4280" stroke-width="0.6"/>
<circle cx="451.34" cy="612.35" r="2.25" fill="#c5c9e3" stroke="#3a4280" stroke-width="0.6"/>
<circle cx="447.38" cy="622.93" r="2.25" fill="#6773b0" stroke="#3a4280" stroke-width="0.6"/>
<circle cx="443.42" cy="625.19" r="2.25" fill="#8d97c5" stroke="#3a4280" stroke-width="0.6"/>
<circle cx="443.22" cy="614.35" r="2.25" fill="#7d87bb" stroke="#3a4280" stroke-width="0.6"/>
<circle cx="452.32" cy="627.87" r="2.25" fill="#3c478f" stroke="#3a4280" stroke-width="0.6"/>
<circle cx="445.26" cy="633.59" r="2.25" fill="#7d87bb" stroke="#3a4280" stroke-width="0.6"/>
<circle cx="442.87" cy="627.55" r="2.25" fill="#4a56a0" stroke="#3a4280" stroke-width="0.6"/>
<circle cx="448.12" cy="622.01" r="2.25" fill="#7d87bb" stroke="#3a4280" stroke-width="0.6"/>
<circle cx="450.60" cy="629.86" r="2.25" fill="#4a56a0" stroke="#3a4280" stroke-width="0.6"/>
<circle cx="444.56" cy="622.59" r="2.25" fill="#a4abd3" stroke="#3a4280" stroke-width="0.6"/>
<circle cx="449.08" cy="633.22" r="2.25" fill="#3c478f" stroke="#3a4280" stroke-width="0.6"/>
<circle cx="442.01" cy="624.70" r="2.25" fill="#8d97c5" stroke="#3a4280" stroke-width="0.6"/>
<circle cx="444.90" cy="625.12" r="2.25" fill="#a4abd3" stroke="#3a4280" stroke-width="0.6"/>
<circle cx="456.17" cy="630.10" r="2.25" fill="#4a56a0" stroke="#3a4280" stroke-width="0.6"/>
<circle cx="442.37" cy="631.68" r="2.25" fill="#c5c9e3" stroke="#3a4280" stroke-width="0.6"/>
<circle cx="450.65" cy="626.84" r="2.25" fill="#5a66aa" stroke="#3a4280" stroke-width="0.6"/>
<circle cx="445.00" cy="620.69" r="2.25" fill="#f4f4fa" stroke="#3a4280" stroke-width="0.6"/>
<circle cx="452.24" cy="629.38" r="2.25" fill="#6773b0" stroke="#3a4280" stroke-width="0.6"/>
<circle cx="452.50" cy="622.60" r="2.25" fill="#8d97c5" stroke="#3a4280" stroke-width="0.6"/>
<circle cx="456.53" cy="620.54" r="2.25" fill="#4a56a0" stroke="#3a4280" stroke-width="0.6"/>
<circle cx="455.37" cy="639.85" r="2.25" fill="#f4f4fa" stroke="#3a4280" stroke-width="0.6"/>
<circle cx="447.97" cy="620.28" r="2.25" fill="#7d87bb" stroke="#3a4280" stroke-width="0.6"/>
<circle cx="448.10" cy="622.64" r="2.25" fill="#7d87bb" stroke="#3a4280" stroke-width="0.6"/>
<circle cx="445.21" cy="636.25" r="2.25" fill="#6773b0" stroke="#3a4280" stroke-width="0.6"/>
<circle cx="444.47" cy="633.17" r="2.25" fill="#4a56a0" stroke="#3a4280" stroke-width="0.6"/>
<circle cx="445.71" cy="623.21" r="2.25" fill="#4a56a0" stroke="#3a4280" stroke-width="0.6"/>
<circle cx="448.41" cy="630.56" r="2.25" fill="#c5c9e3" stroke="#3a4280" stroke-width="0.6"/>
<circle cx="453.28" cy="628.08" r="2.25" fill="#f4f4fa" stroke="#3a4280" stroke-width="0.6"/>
<circle cx="451.31" cy="624.68" r="2.25" fill="#3c478f" stroke="#3a4280" stroke-width="0.6"/>
<circle cx="444.44" cy="624.99" r="2.25" fill="#4a56a0" stroke="#3a4280" stroke-width="0.6"/>
<circle cx="432.88" cy="632.34" r="2.25" fill="#a4abd3" stroke="#3a4280" stroke-width="0.6"/>
<line x1="408.10" y1="631.10" x2="481.10" y2="628.70" stroke="#1c1a1b" stroke-width="1.65"/>
<text stroke="#1c1a1b" stroke-width="0.2" x="440.0" y="689.7" font-size="7.8" textLength="32.2" lengthAdjust="spacingAndGlyphs"><tspan font-style="italic">P</tspan> = .7269</text>
<text stroke="#1c1a1b" stroke-width="0.2" x="440.00" y="697.70" font-size="7.8" textLength="47.70" lengthAdjust="spacingAndGlyphs">r2 = 0.001093</text>
</g>
<rect x="0.5" y="0.5" width="519" height="753" fill="none" stroke="#2b2b2b" stroke-width="1"/>
</svg>
</body></html>
